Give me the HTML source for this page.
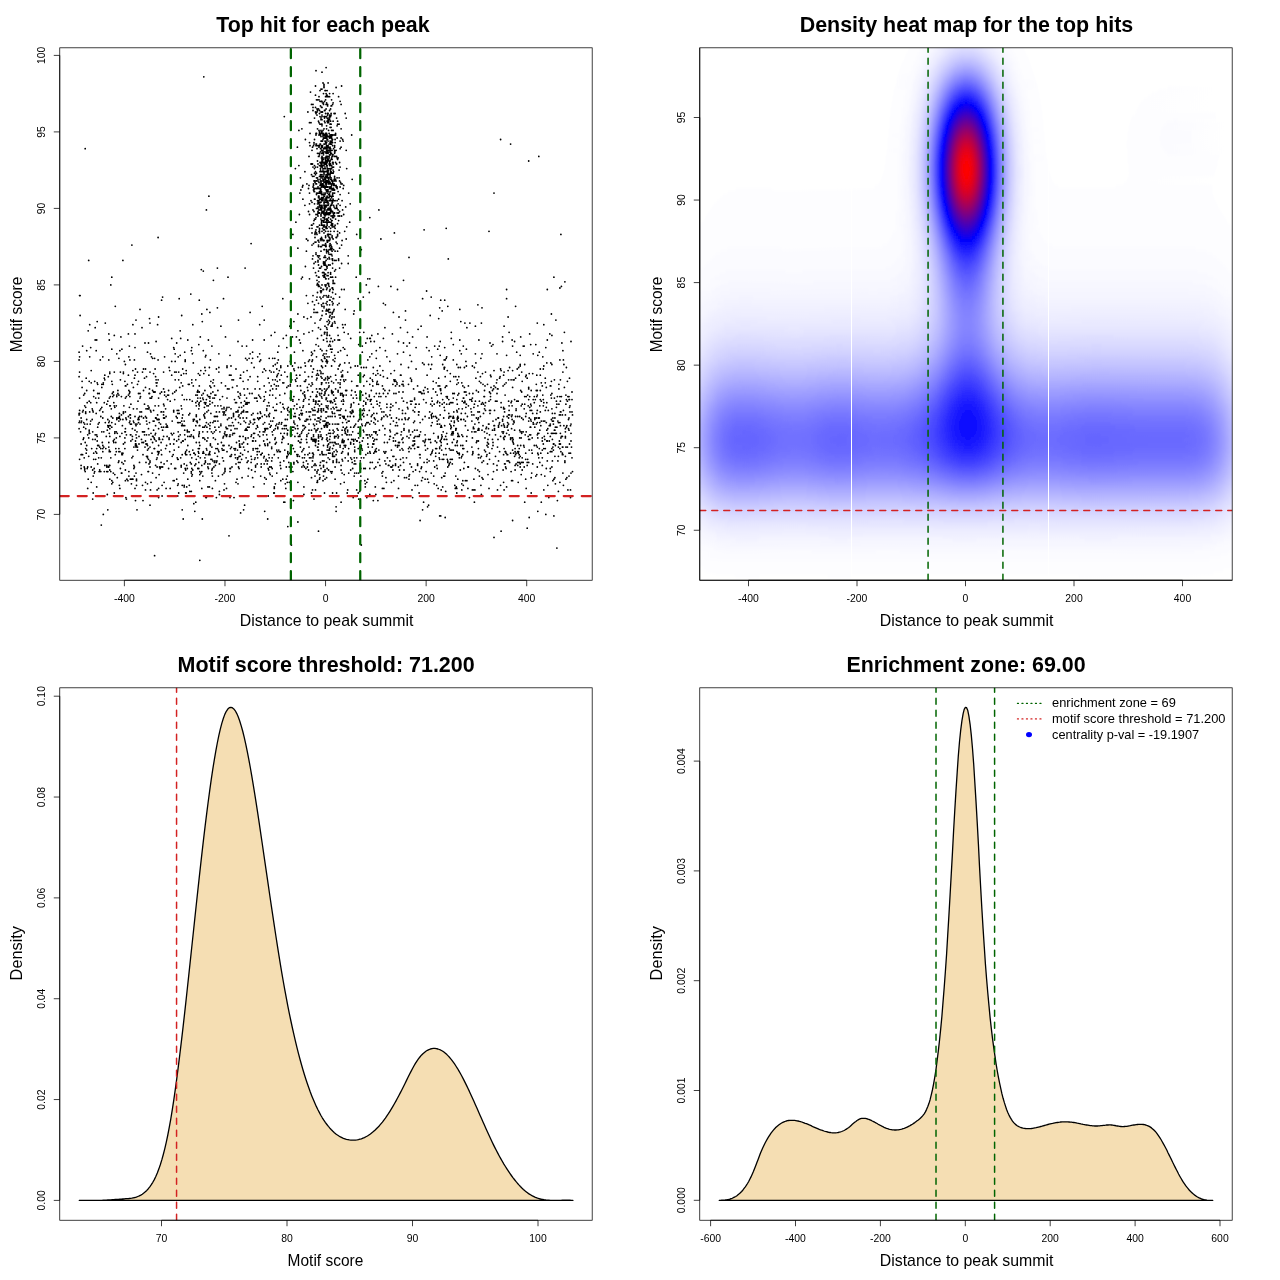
<!DOCTYPE html>
<html><head><meta charset="utf-8"><title>Motif enrichment plots</title>
<style>html,body{margin:0;padding:0;background:#fff;overflow:hidden}svg{display:block;will-change:transform}text{font-family:"Liberation Sans",sans-serif;fill:#000}</style>
</head><body>
<svg width="1280" height="1280" viewBox="0 0 1280 1280">
<rect width="1280" height="1280" fill="#fff"/>
<g id="p1">
<clipPath id="c1"><rect x="59.76" y="47.81" width="532.43" height="532.43"/></clipPath>
<path d="M189.8 491.4h0M231.5 454.7h0M472.4 437.9h0M414.6 441h0M269.7 395.1h0M240.1 436.4h0M374.3 418h0M168.6 390.5h0M413.1 410.4h0M543.3 369h0M199.8 425.7h0M546.3 422.6h0M410 355.3h0M122.9 453.2h0M294.9 451.7h0M516.1 453.2h0M425.1 441h0M236.5 442.5h0M442.2 310.9h0M186.2 493h0M116.3 437.9h0M154.1 448.6h0M243.6 405.8h0M306.4 411.9h0M207.9 486.9h0M481.4 323.1h0M172.2 456.3h0M139 436.4h0M121.4 414.9h0M374.8 439.4h0M500.6 436.4h0M376.3 350.7h0M538.3 418h0M438.2 385.9h0M503.6 431.8h0M537.3 395.1h0M347.7 431.8h0M541.3 401.2h0M321.5 393.5h0M210.9 393.5h0M299.9 436.4h0M409 418h0M239.1 441h0M524.7 364.5h0M203.3 271.1h0M243.6 447.1h0M204.4 463.9h0M251.6 459.3h0M81.1 422.6h0M390.4 431.8h0M214.9 460.9h0M110.3 425.7h0M383.9 488.4h0M162.6 430.2h0M225.5 385.9h0M294.4 352.2h0M149 407.3h0M185.2 361.4h0M311.5 477.7h0M312.5 489.9h0M202.8 437.9h0M222 408.8h0M213.4 437.9h0M205.4 370.6h0M315.5 445.5h0M182.2 418h0M322 390.5h0M198.8 462.4h0M492.5 430.2h0M164.6 395.1h0M504.1 326.2h0M163.6 388.9h0M450.3 381.3h0M381.4 419.5h0M180.7 338.4h0M454.3 393.5h0M199.8 480.7h0M118.4 418h0M384.9 434.8h0M343.2 448.6h0M393.4 441h0M161.6 411.9h0M199.3 392h0M419.1 493h0M116.3 451.7h0M510.6 453.2h0M288.3 444h0M384.9 390.5h0M230 497.6h0M164.1 463.9h0M83.2 410.4h0M180.7 457.8h0M508.1 317h0M558.4 456.3h0M294.9 362.9h0M263.7 457.8h0M211.9 459.3h0M554.9 430.2h0M105.8 448.6h0M278.3 373.6h0M158.6 405.8h0M195.8 463.9h0M463.8 419.5h0M177.7 413.4h0M350.7 407.3h0M257.7 457.8h0M328.1 422.6h0M240.1 462.4h0M214.9 395.1h0M214.9 427.2h0M118.4 462.4h0M315 476.1h0M514.6 399.6h0M545.8 347.6h0M91.2 467h0M531.7 410.4h0M135 347.6h0M448.8 399.6h0M521.2 462.4h0M158.1 379.8h0M239.1 414.9h0M263.2 431.8h0M247.1 359.9h0M332.6 448.6h0M82.6 346.1h0M285.3 419.5h0M512.1 340h0M119.4 418h0M316 402.7h0M315 470h0M465.4 421.1h0M554.4 430.2h0M429.7 411.9h0M210.9 459.3h0M411.5 361.4h0M247.6 411.9h0M458.3 434.8h0M414.6 444h0M560.9 451.7h0M506.6 289.5h0M100.3 359.9h0M218.9 372.1h0M504.6 436.4h0M375.8 375.2h0M246.1 428.7h0M104.8 379.8h0M455.8 376.7h0M79.1 352.2h0M121.9 453.2h0M569 476.1h0M462.3 401.2h0M507.1 454.7h0M312.5 353.8h0M158.6 398.1h0M341.6 453.2h0M286.8 387.4h0M155.6 425.7h0M157.1 419.5h0M203.8 414.9h0M543.8 324.7h0M565.4 414.9h0M428.1 392h0M437.2 424.1h0M441.7 427.2h0M333.1 462.4h0M163.6 404.2h0M512.1 419.5h0M513.1 379.8h0M430.7 404.2h0M539.3 418h0M561.9 343h0M326.1 398.1h0M453.3 359.9h0M383.9 411.9h0M131.9 457.8h0M231.5 447.1h0M110.3 405.8h0M516.7 352.2h0M89.2 401.2h0M343.2 416.5h0M163.6 411.9h0M147.5 445.5h0M157.1 467h0M511.6 480.7h0M321.5 396.6h0M244.1 421.1h0M572 399.6h0M347.7 372.1h0M225 468.5h0M259.7 445.5h0M424.1 462.4h0M134.4 378.2h0M453.8 418h0M515.1 451.7h0M311.5 430.2h0M292.9 401.2h0M145.5 482.3h0M285.3 425.7h0M456.8 384.3h0M280.8 366h0M385.9 414.9h0M99.2 422.6h0M185.7 454.7h0M177.7 496h0M562.9 447.1h0M99.2 471.6h0M183.7 373.6h0M93.2 493h0M396 381.3h0M403 437.9h0M246.6 430.2h0M95.7 459.3h0M291.4 414.9h0M160.1 468.5h0M287.3 433.3h0M260.7 398.1h0M186.7 486.9h0M494 425.7h0M422.6 509.8h0M309.5 453.2h0M273.8 430.2h0M128.9 476.1h0M376.8 384.3h0M326.6 411.9h0M525.7 376.7h0M556.4 401.2h0M478.4 448.6h0M506.6 298.7h0M322 453.2h0M261.2 463.9h0M313.5 454.7h0M340.1 445.5h0M482.5 373.6h0M149.5 388.9h0M375.8 433.3h0M525.7 416.5h0M187.3 430.2h0M217.4 416.5h0M494.5 425.7h0M402.5 413.4h0M554.9 413.4h0M397.5 447.1h0M546.8 441h0M487 454.7h0M414.1 437.9h0M170.2 401.2h0M182.7 385.9h0M504.6 411.9h0M240.6 453.2h0M419.6 471.6h0M291.9 379.8h0M303.9 425.7h0M83.7 395.1h0M485 405.8h0M229 445.5h0M242.1 411.9h0M111.8 483.8h0M388.4 465.4h0M463.3 485.3h0M330.1 436.4h0M313 457.8h0M460.3 367.5h0M123.4 463.9h0M345.2 457.8h0M449.3 463.9h0M257.2 425.7h0M511.1 402.7h0M302.4 413.4h0M132.4 428.7h0M560.4 379.8h0M301.9 467h0M451.3 402.7h0M114.8 407.3h0M477.9 470h0M150 467h0M136.5 485.3h0M212.4 476.1h0M286.3 335.4h0M317 430.2h0M288.3 454.7h0M94.7 471.6h0M373.8 444h0M446.2 454.7h0M561.4 436.4h0M351.7 459.3h0M538.3 454.7h0M547.8 485.3h0M182.2 424.1h0M109.8 428.7h0M159.1 422.6h0M447.3 370.6h0M205.4 404.2h0M130.4 479.2h0M543.8 489.9h0M418.6 436.4h0M551.4 433.3h0M238 341.5h0M171.2 433.3h0M142.5 372.1h0M543.8 366h0M156.1 379.8h0M474.9 424.1h0M181.7 425.7h0M504.6 384.3h0M105.3 323.1h0M264.7 444h0M275.3 428.7h0M560.4 411.9h0M521.7 433.3h0M266.2 459.3h0M286.3 467h0M433.7 433.3h0M396.5 422.6h0M520.2 364.5h0M420.1 454.7h0M332.1 411.9h0M523.2 462.4h0M239.1 407.3h0M257.7 376.7h0M249.6 393.5h0M319 421.1h0M94.7 381.3h0M300.4 385.9h0M231.5 418h0M197.3 395.1h0M199.3 433.3h0M472.4 366h0M266.7 410.4h0M562.4 414.9h0M280.3 402.7h0M425.1 445.5h0M226 410.4h0M487 445.5h0M182.7 369h0M211.9 470h0M219.9 431.8h0M139 419.5h0M450.3 402.7h0M289.8 453.2h0M137 509.8h0M342.6 376.7h0M318.5 531.2h0M327.1 450.1h0M432.2 405.8h0M109.8 479.2h0M320 477.7h0M102.8 411.9h0M559.9 422.6h0M406.5 477.7h0M159.1 474.6h0M532.2 453.2h0M162.1 485.3h0M251.1 436.4h0M100.8 408.8h0M259.7 361.4h0M441.2 439.4h0M135 375.2h0M462.8 480.7h0M287.3 376.7h0M474.9 489.9h0M161.6 392h0M524.2 408.8h0M439.2 457.8h0M101.3 457.8h0M314 312.4h0M109.3 425.7h0M437.2 395.1h0M255.6 467h0M461.3 419.5h0M514.1 421.1h0M162.6 467h0M478.9 428.7h0M267.2 405.8h0M265.2 445.5h0M403.5 352.2h0M558.9 388.9h0M417.6 385.9h0M186.7 465.4h0M79.1 414.9h0M130.4 418h0M220.9 405.8h0M110.8 284.9h0M109.8 436.4h0M545.3 448.6h0M150 447.1h0M240.6 512.9h0M554.9 418h0M341.1 502.2h0M422.6 419.5h0M217.4 456.3h0M409.5 343h0M155.6 376.7h0M247.1 370.6h0M526.2 488.4h0M440.2 414.9h0M304.9 421.1h0M302.9 425.7h0M446.2 396.6h0M272.7 434.8h0M290.3 361.4h0M358.7 437.9h0M354.7 450.1h0M304.4 467h0M377.9 421.1h0M149 463.9h0M444.7 347.6h0M155.6 418h0M477.9 419.5h0M361.3 392h0M540.3 411.9h0M282.8 479.2h0M405.5 419.5h0M112.8 396.6h0M225 471.6h0M155.1 392h0M411 448.6h0M135 333.9h0M323.5 467h0M201.8 488.4h0M158.1 451.7h0M480.4 416.5h0M197.8 468.5h0M115.8 448.6h0M270.2 427.2h0M181.2 382.8h0M433.2 381.3h0M384.9 327.7h0M546.8 402.7h0M499.1 424.1h0M226.5 436.4h0M503.6 437.9h0M201.8 471.6h0M500.1 376.7h0M146.5 456.3h0M536.8 413.4h0M357.2 441h0M302.9 393.5h0M275.8 425.7h0M262.7 372.1h0M152.6 390.5h0M391.4 418h0M252.1 393.5h0M513.1 439.4h0M136 444h0M307.9 454.7h0M367.8 444h0M440.2 341.5h0M404 430.2h0M287.3 482.3h0M441.2 442.5h0M431.2 297.1h0M264.7 428.7h0M287.8 414.9h0M251.1 456.3h0M462.8 454.7h0M145.5 387.4h0M481.4 494.5h0M369.3 410.4h0M259.7 324.7h0M543.3 421.1h0M550.8 451.7h0M556.4 407.3h0M125.4 480.7h0M319.5 479.2h0M533.2 422.6h0M82.6 454.7h0M223.5 414.9h0M303.9 494.5h0M212.9 460.9h0M360.8 480.7h0M342.6 395.1h0M495.5 387.4h0M195.8 402.7h0M452.8 393.5h0M321 373.6h0M554.9 477.7h0M502.6 341.5h0M88.2 479.2h0M273.8 418h0M202.8 398.1h0M318 418h0M570.5 425.7h0M364.8 480.7h0M110.8 471.6h0M448.8 418h0M176.2 390.5h0M305.4 366h0M393.9 379.8h0M529.2 373.6h0M244.6 450.1h0M409 476.1h0M95.2 439.4h0M107.8 425.7h0M286.8 456.3h0M370.3 453.2h0M215.4 439.4h0M446.2 358.3h0M233.5 416.5h0M209.4 453.2h0M424.1 364.5h0M430.7 442.5h0M560.4 433.3h0M140.5 396.6h0M123.4 372.1h0M489.5 459.3h0M212.4 468.5h0M526.2 396.6h0M360.8 476.1h0M376.3 431.8h0M80.6 431.8h0M358.2 427.2h0M508.6 379.8h0M569.5 407.3h0M264.2 463.9h0M158.1 359.9h0M524.7 404.2h0M281.3 411.9h0M300.4 343h0M308.5 433.3h0M348.2 453.2h0M106.8 404.2h0M85.7 448.6h0M457.8 433.3h0M392.4 333.9h0M271.2 467h0M403.5 343h0M432.2 451.7h0M218.9 427.2h0M270.2 474.6h0M199.3 402.7h0M143 431.8h0M371.3 421.1h0M444.2 439.4h0M379.4 459.3h0M202.8 431.8h0M397 384.3h0M279.8 395.1h0M297.4 385.9h0M84.7 393.5h0M463.8 468.5h0M521.7 418h0M219.4 494.5h0M255.1 388.9h0M320 454.7h0M272.7 358.3h0M258.7 395.1h0M447.8 467h0M403 381.3h0M233.5 425.7h0M393.4 312.4h0M418.1 329.3h0M293.9 416.5h0M205.4 425.7h0M504.6 408.8h0M81.1 418h0M435.7 416.5h0M478.4 392h0M181.2 405.8h0M359.7 332.3h0M563.4 410.4h0M224 489.9h0M383.4 388.9h0M280.8 433.3h0M294.4 370.6h0M451.3 421.1h0M347.2 434.8h0M212.9 382.8h0M445.7 436.4h0M354.2 463.9h0M227 366h0M373.8 453.2h0M446.2 228.3h0M108.3 467h0M157.1 489.9h0M250.1 376.7h0M199.8 375.2h0M358.2 448.6h0M101.8 387.4h0M531.7 473.1h0M443.2 431.8h0M283.8 382.8h0M150 462.4h0M107.8 471.6h0M444.7 367.5h0M358.2 375.2h0M281.8 442.5h0M230 471.6h0M103.8 447.1h0M453.8 411.9h0M181.2 442.5h0M208.4 410.4h0M192.3 353.8h0M358.2 433.3h0M218.9 353.8h0M128.9 390.5h0M509.6 414.9h0M161.1 450.1h0M184.2 399.6h0M445.2 376.7h0M303.4 465.4h0M539.8 405.8h0M520.2 431.8h0M355.2 392h0M156.1 477.7h0M227 398.1h0M408.5 384.3h0M222 448.6h0M330.6 471.6h0M135.5 441h0M355.2 366h0M543.3 399.6h0M386.9 356.8h0M216.9 460.9h0M132.4 436.4h0M374.3 341.5h0M350.7 470h0M452.3 442.5h0M79.6 398.1h0M150 447.1h0M383.4 376.7h0M362.3 346.1h0M427.6 479.2h0M520.2 456.3h0M458.3 421.1h0M380.9 396.6h0M569.5 444h0M242.1 444h0M196.3 459.3h0M208.9 375.2h0M389.9 361.4h0M133.9 465.4h0M277.8 428.7h0M246.1 457.8h0M133.9 447.1h0M488 439.4h0M490.5 410.4h0M200.8 473.1h0M119.9 350.7h0M389.4 390.5h0M177.7 485.3h0M366.8 497.6h0M269.2 405.8h0M503.6 416.5h0M229 425.7h0M334.1 408.8h0M116.8 396.6h0M256.1 398.1h0M524.2 346.1h0M146.5 434.8h0M451.3 434.8h0M299.4 456.3h0M357.2 496h0M520.2 366h0M523.7 445.5h0M291.9 434.8h0M569.5 399.6h0M215.9 448.6h0M187.8 445.5h0M383.9 416.5h0M370.3 401.2h0M334.6 401.2h0M227 434.8h0M290.8 418h0M347.7 489.9h0M91.2 382.8h0M108.8 447.1h0M96.7 486.9h0M493 442.5h0M385.9 463.9h0M230 456.3h0M362.3 352.2h0M511.6 401.2h0M124.9 431.8h0M173.7 410.4h0M238.5 416.5h0M302.9 450.1h0M253.1 424.1h0M497.5 447.1h0M347.2 493h0M114.3 335.4h0M206.4 422.6h0M328.1 457.8h0M454.3 421.1h0M390.4 407.3h0M570.5 453.2h0M234.5 433.3h0M385.9 477.7h0M551.9 448.6h0M297.9 428.7h0M154.6 358.3h0M190.8 294.1h0M275.3 444h0M136.5 445.5h0M311.5 493h0M556.9 548.1h0M512.1 414.9h0M373.3 367.5h0M540.8 425.7h0M390.4 410.4h0M116.3 431.8h0M403.5 462.4h0M369.3 292.5h0M399 317h0M204.9 439.4h0M441.7 450.1h0M341.1 408.8h0M555.4 445.5h0M138.5 381.3h0M337.1 451.7h0M499.6 451.7h0M158.1 454.7h0M460.3 470h0M539.8 422.6h0M444.2 369h0M403 442.5h0M184.2 485.3h0M536.8 474.6h0M116.8 419.5h0M257.2 454.7h0M104.8 465.4h0M307.4 467h0M443.7 454.7h0M325 471.6h0M192.8 324.7h0M391.4 482.3h0M444.2 359.9h0M201.8 395.1h0M237.5 459.3h0M179.2 413.4h0M300.9 442.5h0M106.3 436.4h0M282.3 439.4h0M117.9 393.5h0M205.4 462.4h0M567.9 396.6h0M110.8 457.8h0M220.9 424.1h0M264.2 320.1h0M489 424.1h0M131.4 483.8h0M536.3 445.5h0M436.7 418h0M522.2 462.4h0M483.5 404.2h0M369.3 396.6h0M103.3 384.3h0M524.7 396.6h0M366.8 482.3h0M159.1 437.9h0M548.3 410.4h0M156.1 382.8h0M173.2 454.7h0M378.4 286.4h0M444.2 407.3h0M140 309.4h0M271.2 425.7h0M298.4 367.5h0M302.9 407.3h0M313.5 424.1h0M299.9 407.3h0M86.7 450.1h0M539.8 430.2h0M363.8 367.5h0M429.1 460.9h0M408 419.5h0M550.3 471.6h0M351.7 439.4h0M250.1 353.8h0M451.3 332.3h0M165.6 408.8h0M372.3 462.4h0M444.7 425.7h0M359.7 491.4h0M494 370.6h0M145.5 416.5h0M480.9 382.8h0M543.3 444h0M498 388.9h0M264.2 483.8h0M150.5 489.9h0M373.3 407.3h0M204.9 413.4h0M427.1 375.2h0M231 408.8h0M435.7 453.2h0M269.2 358.3h0M312 382.8h0M528.2 436.4h0M273.2 366h0M103.3 382.8h0M552.9 480.7h0M156.6 459.3h0M219.4 411.9h0M456.8 442.5h0M79.1 422.6h0M453.8 439.4h0M320 395.1h0M411.5 379.8h0M241.6 407.3h0M225 434.8h0M549.8 333.9h0M520.2 467h0M395.5 463.9h0M248.1 476.1h0M124.9 381.3h0M109.3 465.4h0M210.9 387.4h0M442.7 399.6h0M204.4 402.7h0M203.8 437.9h0M338.1 444h0M458.8 393.5h0M562.9 454.7h0M552.4 433.3h0M359.7 447.1h0M399.5 442.5h0M240.6 375.2h0M148.5 428.7h0M390.4 424.1h0M151 398.1h0M518.2 482.3h0M147.5 450.1h0M410.5 378.2h0M103.8 431.8h0M420.1 457.8h0M174.2 480.7h0M404 428.7h0M493.5 471.6h0M90.7 402.7h0M247.1 430.2h0M139.5 416.5h0M209.4 367.5h0M248.6 468.5h0M557.4 396.6h0M256.1 428.7h0M421.6 480.7h0M209.9 398.1h0M199.3 442.5h0M270.2 390.5h0M383.4 338.4h0M369.8 494.5h0M274.3 488.4h0M166.1 416.5h0M490 413.4h0M353.7 427.2h0M372.3 379.8h0M439.7 402.7h0M181.7 408.8h0M547.8 433.3h0M469.4 393.5h0M471.4 399.6h0M448.8 465.4h0M178.2 459.3h0M402.5 410.4h0M197.3 392h0M339.1 366h0M518.7 451.7h0M341.6 401.2h0M109.3 433.3h0M447.3 444h0M559.4 441h0M464.4 387.4h0M409 430.2h0M113.8 395.1h0M216.4 497.6h0M101.8 407.3h0M278.3 359.9h0M394.4 232.9h0M484 396.6h0M264.2 340h0M260.2 418h0M173.7 411.9h0M102.8 356.8h0M421.6 393.5h0M292.4 336.9h0M363.3 413.4h0M426.6 291h0M274.3 486.9h0M498 418h0M314.5 441h0M344.2 482.3h0M481.4 456.3h0M223 411.9h0M441.2 489.9h0M209.9 425.7h0M455.3 445.5h0M381.9 411.9h0M550.3 451.7h0M311 457.8h0M439.2 453.2h0M108.8 359.9h0M433.7 460.9h0M345.2 428.7h0M191.3 463.9h0M474.4 404.2h0M174.2 349.2h0M326.6 462.4h0M398.5 442.5h0M119.9 451.7h0M358.2 421.1h0M131.4 479.2h0M528.7 387.4h0M188.3 384.3h0M362.3 410.4h0M541.3 421.1h0M296.9 460.9h0M83.7 437.9h0M264.7 414.9h0M372.3 414.9h0M345.2 447.1h0M553.4 421.1h0M122.4 425.7h0M131.9 245.1h0M264.2 396.6h0M291.9 445.5h0M482 462.4h0M161.6 454.7h0M89.2 381.3h0M426.6 347.6h0M297.4 456.3h0M97.7 427.2h0M537.3 467h0M99.7 410.4h0M313 456.3h0M254.6 433.3h0M549.3 441h0M284.8 393.5h0M181.2 467h0M503.6 424.1h0M335.6 404.2h0M154.1 437.9h0M142 442.5h0M375.8 494.5h0M106.8 471.6h0M247.1 462.4h0M417.6 463.9h0M433.7 416.5h0M405.5 413.4h0M144 431.8h0M87.7 434.8h0M400.5 327.7h0M263.7 401.2h0M350.7 367.5h0M138 419.5h0M144.5 434.8h0M156.6 385.9h0M432.2 413.4h0M178.7 493h0M181.7 315.5h0M482 430.2h0M260.7 413.4h0M478.4 428.7h0M325 421.1h0M363.3 437.9h0M252.6 441h0M309 384.3h0M275.8 398.1h0M346.7 390.5h0M519.2 448.6h0M385.9 396.6h0M365.8 393.5h0M390.9 286.4h0M86.7 390.5h0M191.3 434.8h0M281.3 424.1h0M560.4 444h0M445.7 491.4h0M528.7 462.4h0M353.2 411.9h0M507.6 422.6h0M306.9 442.5h0M526.2 413.4h0M568.5 428.7h0M409 437.9h0M314.5 425.7h0M431.7 453.2h0M547.8 428.7h0M305.9 421.1h0M421.6 467h0M100.8 448.6h0M366.3 367.5h0M225.5 414.9h0M457.3 441h0M219.4 491.4h0M376.3 448.6h0M323.5 471.6h0M571 341.5h0M508.6 424.1h0M119.4 485.3h0M529.2 418h0M457.3 418h0M130.4 434.8h0M448.8 413.4h0M532.7 373.6h0M223.5 460.9h0M352.7 468.5h0M150.5 410.4h0M258.7 419.5h0M320.5 388.9h0M290.3 398.1h0M169.7 370.6h0M563.4 359.9h0M87.2 402.7h0M162.6 439.4h0M223 445.5h0M199.8 471.6h0M106.8 467h0M275.3 364.5h0M195.8 502.2h0M240.1 393.5h0M128.4 416.5h0M505.6 451.7h0M466.9 480.7h0M85.7 428.7h0M93.7 390.5h0M409.5 447.1h0M209.4 486.9h0M251.6 434.8h0M316.5 388.9h0M544.8 421.1h0M134.4 359.9h0M253.6 433.3h0M455.8 428.7h0M369.8 278.8h0M257.2 401.2h0M329.6 450.1h0M95.2 340h0M248.1 451.7h0M423.6 502.2h0M86.7 419.5h0M318 447.1h0M161.6 427.2h0M169.7 451.7h0M224 408.8h0M183.7 425.7h0M130.9 441h0M215.9 416.5h0M456.8 410.4h0M366.8 381.3h0M460.8 419.5h0M492.5 479.2h0M433.7 416.5h0M178.2 483.8h0M265.2 430.2h0M222.5 396.6h0M450.3 459.3h0M384.4 442.5h0M390.9 373.6h0M507.6 454.7h0M194.8 465.4h0M209.9 401.2h0M404 424.1h0M498 439.4h0M83.7 427.2h0M528.7 439.4h0M208.4 454.7h0M235.5 419.5h0M397 497.6h0M530.7 419.5h0M109.3 451.7h0M307.9 463.9h0M479.4 411.9h0M322.5 437.9h0M376.3 451.7h0M433.2 388.9h0M389.9 436.4h0M85.2 471.6h0M517.7 465.4h0M198.3 448.6h0M287.8 430.2h0M495.5 401.2h0M249.1 402.7h0M292.4 445.5h0M378.9 450.1h0M249.1 358.3h0M212.9 433.3h0M335.1 442.5h0M164.1 405.8h0M271.7 460.9h0M182.2 485.3h0M136 473.1h0M557.4 500.6h0M485.5 410.4h0M551.4 314h0M282.8 436.4h0M204.9 390.5h0M523.2 419.5h0M202.8 427.2h0M288.3 385.9h0M386.4 482.3h0M182.2 454.7h0M317 482.3h0M469.4 497.6h0M375.3 431.8h0M240.1 418h0M145.5 369h0M297.9 462.4h0M306.9 419.5h0M212.9 422.6h0M268.7 402.7h0M264.2 369h0M129.4 407.3h0M525.2 434.8h0M471.9 414.9h0M378.4 384.3h0M202.8 476.1h0M352.2 410.4h0M257.2 448.6h0M181.7 421.1h0M213.9 421.1h0M363.8 408.8h0M223 437.9h0M396 459.3h0M503.1 470h0M444.7 439.4h0M515.6 306.3h0M514.6 341.5h0M451.3 338.4h0M317.5 411.9h0M185.2 439.4h0M104.3 402.7h0M266.2 428.7h0M132.9 479.2h0M132.9 479.2h0M222.5 457.8h0M244.6 505.2h0M560.4 425.7h0M144.5 431.8h0M386.9 356.8h0M92.7 439.4h0M495.5 456.3h0M129.4 393.5h0M268.7 454.7h0M320 431.8h0M469.9 399.6h0M313.5 401.2h0M211.9 473.1h0M472.4 489.9h0M175.7 468.5h0M554.9 456.3h0M400.5 375.2h0M90.2 424.1h0M551.4 381.3h0M504.6 427.2h0M177.2 418h0M562.4 453.2h0M284.3 428.7h0M560.9 437.9h0M332.1 349.2h0M277.3 362.9h0M259.7 436.4h0M446.7 385.9h0M459.3 454.7h0M483 425.7h0M459.8 350.7h0M147.5 352.2h0M102.8 448.6h0M224 407.3h0M239.1 456.3h0M268.2 378.2h0M359.7 410.4h0M210.9 381.3h0M559.9 359.9h0M263.2 424.1h0M184.2 486.9h0M273.8 372.1h0M297.9 314h0M349.2 362.9h0M169.1 439.4h0M297.4 433.3h0M542.3 385.9h0M140 411.9h0M473.9 414.9h0M197.3 421.1h0M238 457.8h0M518.2 453.2h0M304.9 395.1h0M536.3 390.5h0M85.2 442.5h0M351.2 434.8h0M113.3 392h0M327.1 341.5h0M453.3 416.5h0M145.5 489.9h0M186.7 399.6h0M493.5 463.9h0M450.8 416.5h0M360.3 460.9h0M369.8 468.5h0M173.7 444h0M332.6 312.4h0M522.2 470h0M290.3 385.9h0M111.8 277.2h0M542.8 356.8h0M464.9 323.1h0M113.3 473.1h0M283.3 338.4h0M150 372.1h0M515.1 470h0M403.5 385.9h0M537.3 422.6h0M309 447.1h0M567.4 381.3h0M113.8 402.7h0M192.3 401.2h0M477.9 372.1h0M370.8 341.5h0M533.2 399.6h0M260.7 454.7h0M79.6 413.4h0M308.5 376.7h0M143 454.7h0M153.1 436.4h0M183.2 519h0M176.7 441h0M284.8 502.2h0M356.7 234.4h0M487 433.3h0M91.7 448.6h0M107.3 430.2h0M246.1 411.9h0M284.3 433.3h0M124.4 361.4h0M458.8 376.7h0M202.3 321.6h0M565.9 447.1h0M403 450.1h0M110.3 396.6h0M526.2 431.8h0M299.9 442.5h0M475.4 401.2h0M436.7 448.6h0M217.9 405.8h0M321 416.5h0M101.8 431.8h0M97.2 441h0M242.6 454.7h0M531.2 493h0M442.7 486.9h0M456.8 488.4h0M284.8 372.1h0M550.8 395.1h0M358.2 493h0M377.9 462.4h0M520.2 463.9h0M193.3 385.9h0M187.3 468.5h0M348.7 473.1h0M346.7 434.8h0M392.9 405.8h0M125.4 411.9h0M214.4 385.9h0M203.8 373.6h0M318.5 444h0M369.3 395.1h0M289.8 326.2h0M516.7 401.2h0M279.8 379.8h0M342.6 375.2h0M135 488.4h0M324.5 388.9h0M547.8 453.2h0M519.2 462.4h0M84.7 470h0M563.9 425.7h0M353.7 416.5h0M482 307.8h0M191.8 347.6h0M109.3 450.1h0M517.7 401.2h0M318.5 410.4h0M205.9 497.6h0M205.9 355.3h0M265.2 445.5h0M186.7 450.1h0M199.3 300.2h0M377.9 333.9h0M534.3 396.6h0M399 445.5h0M342.1 459.3h0M154.6 555.7h0M81.6 421.1h0M500.6 369h0M502.1 431.8h0M509.1 332.3h0M162.1 496h0M90.7 421.1h0M313 453.2h0M300.4 447.1h0M330.6 349.2h0M434.2 404.2h0M505.1 395.1h0M320.5 462.4h0M461.8 483.8h0M81.1 454.7h0M182.2 425.7h0M198.8 453.2h0M268.7 414.9h0M504.1 425.7h0M161.6 300.2h0M491 387.4h0M153.6 430.2h0M152.6 442.5h0M255.1 457.8h0M312.5 384.3h0M502.6 419.5h0M370.3 378.2h0M218.4 476.1h0M150 398.1h0M360.8 468.5h0M459.3 453.2h0M294.9 424.1h0M189.3 485.3h0M224.5 411.9h0M299.4 414.9h0M509.6 462.4h0M527.7 459.3h0M127.4 384.3h0M111.8 349.2h0M216.4 369h0M79.6 410.4h0M336.6 407.3h0M550.8 362.9h0M457.3 411.9h0M229 418h0M87.7 467h0M400.5 465.4h0M443.7 476.1h0M506.1 453.2h0M503.6 407.3h0M442.2 404.2h0M350.7 444h0M264.7 431.8h0M238 483.8h0M468.4 467h0M375.3 419.5h0M531.2 477.7h0M456.8 399.6h0M193.8 430.2h0M133.9 468.5h0M82.6 411.9h0M114.3 405.8h0M255.6 448.6h0M534.8 419.5h0M235.5 402.7h0M92.7 470h0M497 353.8h0M299.9 434.8h0M340.6 414.9h0M395.5 441h0M124.9 460.9h0M334.1 451.7h0M217.9 390.5h0M197.8 392h0M91.2 482.3h0M316 441h0M99.7 447.1h0M118.9 448.6h0M373.8 431.8h0M389.9 430.2h0M504.1 489.9h0M530.7 404.2h0M321 468.5h0M485.5 372.1h0M164.1 482.3h0M344.7 349.2h0M535.8 476.1h0M108.8 467h0M468.4 385.9h0M154.6 448.6h0M98.7 398.1h0M342.6 324.7h0M509.6 367.5h0M240.1 456.3h0M190.3 462.4h0M229.5 436.4h0M189.8 436.4h0M333.6 456.3h0M127.9 480.7h0M163.6 372.1h0M463.3 398.1h0M186.7 454.7h0M412.6 431.8h0M297.9 522h0M129.9 392h0M255.6 465.4h0M184.7 425.7h0M459.8 309.4h0M521.7 431.8h0M420.6 431.8h0M322.5 454.7h0M558.4 447.1h0M172.2 421.1h0M116.3 405.8h0M182.2 509.8h0M317.5 480.7h0M446.7 356.8h0M123.4 373.6h0M543.3 405.8h0M323.5 303.3h0M476.9 441h0M425.6 450.1h0M120.4 419.5h0M486.5 456.3h0M243.1 381.3h0M348.2 439.4h0M387.4 416.5h0M246.6 398.1h0M202.3 519h0M279.3 451.7h0M441.2 393.5h0M403 384.3h0M319 418h0M480.9 358.3h0M171.7 375.2h0M517.7 451.7h0M272.2 468.5h0M88.7 456.3h0M342.1 434.8h0M310.5 419.5h0M210.4 359.9h0M342.1 375.2h0M426.1 471.6h0M540.3 375.2h0M95.2 327.7h0M365.8 343h0M553.9 444h0M247.1 411.9h0M529.2 450.1h0M241.6 459.3h0M444.2 367.5h0M279.3 370.6h0M393.9 480.7h0M411.5 467h0M146 462.4h0M166.1 424.1h0M332.1 471.6h0M153.6 410.4h0M488 447.1h0M398.5 467h0M115.8 442.5h0M506.1 468.5h0M473.9 407.3h0M503.1 385.9h0M81.6 454.7h0M123.4 413.4h0M150 505.2h0M118.9 451.7h0M400 450.1h0M552.9 447.1h0M439.7 424.1h0M107.8 401.2h0M521.7 372.1h0M245.1 430.2h0M306.4 439.4h0M434.7 467h0M369.8 451.7h0M508.6 414.9h0M173.7 347.6h0M189.3 431.8h0M142 327.7h0M201.8 465.4h0M332.6 493h0M130.9 441h0M512.6 387.4h0M478.9 430.2h0M457.3 419.5h0M550.3 436.4h0M355.2 439.4h0M422.6 477.7h0M214.9 453.2h0M531.2 390.5h0M497 401.2h0M397.5 425.7h0M171.7 361.4h0M365.8 404.2h0M255.1 471.6h0M176.2 416.5h0M313.5 436.4h0M389.4 439.4h0M511.1 471.6h0M265.7 428.7h0M174.2 439.4h0M226 427.2h0M361.3 367.5h0M389.9 414.9h0M240.6 395.1h0M494 385.9h0M285.8 488.4h0M354.2 310.9h0M475.4 326.2h0M515.1 448.6h0M310.5 419.5h0M93.7 453.2h0M452.3 442.5h0M155.1 405.8h0M365.8 402.7h0M520.2 355.3h0M379.9 465.4h0M505.1 436.4h0M286.3 428.7h0M129.9 396.6h0M287.8 526.6h0M489.5 453.2h0M203.3 393.5h0M550.8 385.9h0M147.5 450.1h0M425.1 434.8h0M472.9 393.5h0M195.8 395.1h0M446.7 433.3h0M530.7 434.8h0M238.5 462.4h0M205.4 356.8h0M229 407.3h0M327.6 379.8h0M516.1 463.9h0M240.6 447.1h0M550.3 385.9h0M461.8 434.8h0M359.7 431.8h0M417.6 485.3h0M554.4 398.1h0M138 401.2h0M318.5 450.1h0M235 428.7h0M537.3 410.4h0M330.6 433.3h0M243.6 410.4h0M126.9 479.2h0M513.6 444h0M137 424.1h0M337.1 410.4h0M485 385.9h0M411 404.2h0M489.5 410.4h0M367.8 479.2h0M446.7 439.4h0M365.3 425.7h0M309 411.9h0M466.9 327.7h0M234.5 399.6h0M163.6 436.4h0M132.4 439.4h0M121.9 473.1h0M427.6 506.8h0M208.4 405.8h0M528.7 388.9h0M150.5 353.8h0M327.1 437.9h0M474.4 502.2h0M431.7 364.5h0M89.2 430.2h0M453.3 433.3h0M548.8 497.6h0M191.8 382.8h0M489.5 434.8h0M359.7 414.9h0M191.8 379.8h0M561.4 396.6h0M530.7 344.6h0M472.9 453.2h0M79.6 356.8h0M409.5 474.6h0M296.9 404.2h0M207.4 395.1h0M499.6 422.6h0M159.1 451.7h0M136 425.7h0M376.8 439.4h0M392.9 384.3h0M464.4 462.4h0M218.9 451.7h0M407 402.7h0M441.7 437.9h0M554.4 379.8h0M569 418h0M452.3 463.9h0M218.4 450.1h0M294.4 405.8h0M205.4 496h0M263.7 441h0M152 453.2h0M427.1 336.9h0M152.6 473.1h0M463.8 398.1h0M280.8 468.5h0M296.9 454.7h0M551.9 364.5h0M427.1 462.4h0M100.8 416.5h0M488.5 424.1h0M371.3 416.5h0M471.4 411.9h0M333.1 460.9h0M351.2 404.2h0M459.8 340h0M377.3 381.3h0M143 500.6h0M466.4 404.2h0M236 482.3h0M178.7 422.6h0M356.7 398.1h0M224 473.1h0M479.4 381.3h0M464.4 367.5h0M552.9 418h0M121.9 454.7h0M435.7 456.3h0M235.5 448.6h0M517.7 462.4h0M96.7 340h0M257.2 451.7h0M276.3 410.4h0M430.7 454.7h0M158.6 497.6h0M451.8 450.1h0M119.4 416.5h0M346.2 395.1h0M507.1 427.2h0M374.3 468.5h0M404 470h0M443.7 418h0M227 451.7h0M281.8 422.6h0M363.8 457.8h0M257.7 427.2h0M230 434.8h0M563.4 485.3h0M79.6 459.3h0M212.9 398.1h0M151 433.3h0M283.3 437.9h0M512.1 405.8h0M391.4 450.1h0M540.3 399.6h0M120.9 496h0M564.9 460.9h0M491 376.7h0M516.1 408.8h0M299.9 419.5h0M125.9 497.6h0M437.7 401.2h0M124.9 437.9h0M567.9 489.9h0M147.5 483.8h0M314 499.1h0M301.4 439.4h0M143.5 418h0M148.5 428.7h0M293.9 422.6h0M238 411.9h0M344.2 445.5h0M362.3 414.9h0M441.2 445.5h0M383.9 451.7h0M305.9 468.5h0M354.7 473.1h0M414.6 421.1h0M204.4 407.3h0M442.2 459.3h0M414.6 430.2h0M402 398.1h0M207.9 437.9h0M226.5 408.8h0M410.5 401.2h0M104.3 471.6h0M238.5 320.1h0M265.7 392h0M137.5 372.1h0M391.9 467h0M565.4 431.8h0M534.3 402.7h0M110.3 451.7h0M341.1 470h0M244.1 388.9h0M562.9 350.7h0M399.5 470h0M475.4 353.8h0M92.2 408.8h0M356.7 457.8h0M192.8 450.1h0M269.2 382.8h0M315.5 401.2h0M410 463.9h0M269.7 413.4h0M487.5 463.9h0M254.6 422.6h0M198.8 434.8h0M318.5 441h0M514.6 456.3h0M557.9 421.1h0M132.9 324.7h0M156.1 418h0M113.8 442.5h0M148 471.6h0M517.2 369h0M433.7 476.1h0M466.9 436.4h0M456.3 428.7h0M237 479.2h0M274.8 439.4h0M247.6 402.7h0M335.1 479.2h0M116.3 437.9h0M336.1 511.3h0M294.9 436.4h0M362.3 441h0M533.2 353.8h0M541.3 502.2h0M278.8 424.1h0M122.9 419.5h0M558.4 422.6h0M156.1 341.5h0M528.7 399.6h0M133.4 408.8h0M297.9 482.3h0M219.4 463.9h0M206.4 399.6h0M331.6 366h0M336.6 460.9h0M465.4 413.4h0M340.6 350.7h0M553.4 450.1h0M412.6 497.6h0M347.7 430.2h0M493 445.5h0M547.3 441h0M174.7 468.5h0M536.8 396.6h0M521.2 474.6h0M372.8 385.9h0M342.6 416.5h0M306.4 460.9h0M439.7 405.8h0M373.3 500.6h0M358.7 344.6h0M522.2 381.3h0M520.7 336.9h0M570.5 497.6h0M283.8 460.9h0M431.7 356.8h0M118.9 460.9h0M569 430.2h0M327.1 468.5h0M252.6 358.3h0M424.6 442.5h0M287.8 410.4h0M356.7 489.9h0M335.1 424.1h0M445.2 387.4h0M297.9 454.7h0M102.8 445.5h0M532.7 463.9h0M508.6 424.1h0M269.7 473.1h0M407.5 332.3h0M414.6 448.6h0M401.5 431.8h0M445.7 448.6h0M137 431.8h0M211.9 447.1h0M385.4 304.8h0M492 448.6h0M427.6 448.6h0M164.6 356.8h0M195.8 379.8h0M406.5 457.8h0M490.5 393.5h0M354.7 460.9h0M293.4 500.6h0M157.1 382.8h0M125.4 385.9h0M227.5 428.7h0M432.2 401.2h0M159.1 439.4h0M289.3 482.3h0M553.9 433.3h0M482.5 402.7h0M520.7 390.5h0M369.3 434.8h0M460.8 321.6h0M326.6 424.1h0M272.2 457.8h0M457.8 479.2h0M353.2 497.6h0M236.5 411.9h0M390.9 467h0M553.4 424.1h0M113.3 441h0M264.7 422.6h0M377.3 370.6h0M528.7 388.9h0M274.3 454.7h0M172.2 434.8h0M161.1 411.9h0M307.9 419.5h0M245.6 439.4h0M102.3 442.5h0M200.8 401.2h0M552.4 413.4h0M280.8 480.7h0M283.8 502.2h0M188.8 414.9h0M267.7 445.5h0M353.7 444h0M167.6 395.1h0M369.8 338.4h0M494.5 430.2h0M295.9 381.3h0M175.2 353.8h0M246.1 402.7h0M551.9 335.4h0M374.8 451.7h0M490 343h0M513.1 424.1h0M354.7 447.1h0M412 489.9h0M276.8 450.1h0M248.1 379.8h0M312.5 453.2h0M269.7 467h0M354.2 476.1h0M565.9 479.2h0M473.9 489.9h0M521.7 392h0M205.4 460.9h0M235 450.1h0M553.9 277.2h0M266.7 434.8h0M354.7 425.7h0M96.7 434.8h0M519.7 430.2h0M464.9 402.7h0M467.4 451.7h0M136 320.1h0M146 444h0M280.3 465.4h0M512.6 441h0M111.8 422.6h0M109.8 373.6h0M450.8 428.7h0M466.4 366h0M330.1 453.2h0M316 344.6h0M159.6 439.4h0M167.1 436.4h0M148 405.8h0M203.3 350.7h0M503.6 375.2h0M368.3 422.6h0M382.4 476.1h0M565.9 395.1h0M236 369h0M321 434.8h0M482 477.7h0M390.9 404.2h0M215.9 448.6h0M170.2 488.4h0M254.6 398.1h0M233.5 413.4h0M135 430.2h0M233.5 414.9h0M198.3 456.3h0M489 401.2h0M156.1 441h0M329.6 459.3h0M456.8 364.5h0M223.5 450.1h0M168.6 395.1h0M384.9 434.8h0M277.3 375.2h0M319.5 393.5h0M121.4 473.1h0M569.5 399.6h0M184.7 352.2h0M458.3 367.5h0M565.4 437.9h0M229.5 375.2h0M571 473.1h0M245.6 358.3h0M313 295.6h0M313 439.4h0M244.6 401.2h0M210.4 445.5h0M160.1 393.5h0M479.4 476.1h0M209.9 451.7h0M272.7 388.9h0M269.2 416.5h0M403 496h0M152.6 358.3h0M491.5 346.1h0M145.5 441h0M400.5 459.3h0M511.1 379.8h0M216.4 462.4h0M214.4 416.5h0M475.9 378.2h0M413.1 471.6h0M153.6 373.6h0M166.6 445.5h0M536.3 384.3h0M503.6 454.7h0M342.1 430.2h0M467.4 416.5h0M273.2 407.3h0M83.7 422.6h0M216.4 411.9h0M189.3 451.7h0M472.4 454.7h0M151.5 356.8h0M275.3 483.8h0M561.4 286.4h0M212.9 392h0M396 402.7h0M419.1 436.4h0M531.2 421.1h0M553.4 444h0M539.3 352.2h0M365.3 483.8h0M555.9 320.1h0M109.8 372.1h0M92.2 419.5h0M439.7 385.9h0M381.9 473.1h0M270.7 421.1h0M415.6 404.2h0M490.5 396.6h0M569 396.6h0M415.1 407.3h0M432.7 450.1h0M403 457.8h0M300.9 413.4h0M303.9 486.9h0M185.7 493h0M392.9 465.4h0M251.1 462.4h0M86.7 445.5h0M537.8 437.9h0M366.8 422.6h0M390.4 436.4h0M449.3 416.5h0M209.9 312.4h0M267.2 439.4h0M568.5 419.5h0M200.3 336.9h0M263.2 434.8h0M529.7 439.4h0M204.4 416.5h0M145 343h0M161.1 462.4h0M166.1 427.2h0M187.8 436.4h0M84.7 424.1h0M96.7 448.6h0M414.6 399.6h0M439.2 346.1h0M438.7 318.6h0M322.5 460.9h0M314.5 407.3h0M484.5 431.8h0M401 364.5h0M456.8 493h0M521.2 437.9h0M357.7 366h0M552.4 439.4h0M353.7 441h0M496.5 382.8h0M393.4 421.1h0M550.3 425.7h0M385.9 451.7h0M174.7 392h0M384.9 428.7h0M196.3 416.5h0M494 537.4h0M571.5 447.1h0M484.5 450.1h0M319.5 405.8h0M292.9 399.6h0M504.1 439.4h0M135.5 424.1h0M423.6 399.6h0M184.2 463.9h0M133.9 422.6h0M517.7 445.5h0M137.5 447.1h0M230.5 448.6h0M305.9 379.8h0M198.8 468.5h0M489.5 392h0M566.9 477.7h0M96.2 413.4h0M521.2 405.8h0M286.8 457.8h0M395.5 425.7h0M307.9 390.5h0M287.8 366h0M293.9 422.6h0M455.8 476.1h0M185.7 470h0M553.4 496h0M474.4 367.5h0M151.5 398.1h0M86.2 378.2h0M239.6 445.5h0M187.3 431.8h0M132.9 456.3h0M447.8 306.3h0M119.4 413.4h0M237 385.9h0M217.4 448.6h0M462.8 385.9h0M537.8 433.3h0M324.5 493h0M269.2 424.1h0M235.5 457.8h0M333.6 445.5h0M227.5 419.5h0M431.7 398.1h0M100.8 471.6h0M513.1 442.5h0M483.5 413.4h0M202.8 453.2h0M84.2 457.8h0M441.7 477.7h0M176.7 343h0M293.4 408.8h0M242.1 477.7h0M345.7 445.5h0M523.2 431.8h0M257.7 448.6h0M449.8 424.1h0M363.8 332.3h0M129.9 421.1h0M428.6 505.2h0M477.9 430.2h0M301.9 451.7h0M276.8 473.1h0M455.8 430.2h0M423.6 390.5h0M200.3 398.1h0M513.6 421.1h0M523.2 346.1h0M464.9 401.2h0M204.9 367.5h0M546.8 430.2h0M445.2 473.1h0M92.7 410.4h0M497 379.8h0M327.6 401.2h0M83.2 439.4h0M155.6 465.4h0M193.3 362.9h0M408 408.8h0M134.4 476.1h0M189.8 399.6h0M125.4 364.5h0M332.6 456.3h0M167.1 425.7h0M193.8 453.2h0M518.2 401.2h0M479.4 401.2h0M199.8 445.5h0M539.3 448.6h0M249.1 424.1h0M149.5 318.6h0M414.6 411.9h0M379.9 402.7h0M336.6 493h0M556.9 427.2h0M237.5 450.1h0M377.9 500.6h0M183.7 473.1h0M430.2 439.4h0M415.1 436.4h0M251.6 470h0M79.1 428.7h0M244.6 395.1h0M163.6 427.2h0M387.4 442.5h0M200.3 457.8h0M158.6 488.4h0M290.3 384.3h0M351.7 390.5h0M108.8 442.5h0M542.3 465.4h0M178.2 356.8h0M265.7 460.9h0M223.5 298.7h0M551.4 419.5h0M505.1 463.9h0M157.6 414.9h0M515.6 378.2h0M370.3 436.4h0M236.5 402.7h0M551.9 393.5h0M447.8 460.9h0M177.7 459.3h0M564.9 462.4h0M398.5 341.5h0M407 346.1h0M309.5 457.8h0M271.2 385.9h0M82.1 387.4h0M454.8 485.3h0M377.9 373.6h0M436.7 485.3h0M268.7 470h0M457.8 395.1h0M147.5 457.8h0M572 392h0M462.8 448.6h0M259.7 388.9h0M399 392h0M148 408.8h0M376.8 413.4h0M532.2 437.9h0M452.8 402.7h0M453.3 450.1h0M457.3 404.2h0M152 396.6h0M214.9 405.8h0M435.7 448.6h0M133.4 387.4h0M230 436.4h0M97.2 436.4h0M171.7 361.4h0M417.6 465.4h0M488 474.6h0M565.4 456.3h0M514.6 430.2h0M453.3 344.6h0M501.1 370.6h0M508.1 370.6h0M396 393.5h0M329.6 424.1h0M420.6 392h0M439.7 459.3h0M111.3 408.8h0M494.5 428.7h0M316 431.8h0M350.2 411.9h0M287.3 434.8h0M142.5 485.3h0M506.6 355.3h0M397.5 433.3h0M198.8 408.8h0M252.6 477.7h0M315 463.9h0M173.7 433.3h0M372.8 444h0M304.4 428.7h0M461.8 382.8h0M470.9 408.8h0M439.7 515.9h0M317 471.6h0M351.2 395.1h0M221.4 382.8h0M235 454.7h0M123.9 405.8h0M522.2 404.2h0M251.6 414.9h0M274.8 358.3h0M309 430.2h0M539.8 462.4h0M417.1 436.4h0M484.5 408.8h0M164.6 392h0M169.1 437.9h0M135.5 445.5h0M566.9 425.7h0M398.5 488.4h0M301.9 414.9h0M334.6 340h0M417.6 447.1h0M484.5 390.5h0M394.4 381.3h0M457.8 436.4h0M89.7 324.7h0M158.1 237.5h0M558.4 491.4h0M505.6 467h0M289.3 467h0M272.7 379.8h0M149 434.8h0M131.4 424.1h0M293.9 396.6h0M130.9 434.8h0M474.4 431.8h0M375.3 486.9h0M257.7 418h0M514.1 422.6h0M178.7 436.4h0M136.5 480.7h0M172.7 393.5h0M519.7 416.5h0M146.5 421.1h0M114.3 493h0M402 448.6h0M413.6 388.9h0M206.4 209.9h0M291.4 545h0M282.8 382.8h0M480.9 485.3h0M403.5 280.3h0M534.8 418h0M562.4 436.4h0M157.1 457.8h0M259.2 451.7h0M382.4 385.9h0M536.3 418h0M163.6 418h0M171.2 463.9h0M79.6 372.1h0M425.1 441h0M462.8 436.4h0M85.7 411.9h0M86.2 453.2h0M450.3 450.1h0M342.1 441h0M206.4 497.6h0M363.3 430.2h0M247.6 427.2h0M450.3 373.6h0M519.2 457.8h0M79.1 376.7h0M444.2 402.7h0M456.8 451.7h0M209.9 404.2h0M424.1 393.5h0M264.7 477.7h0M221.4 442.5h0M363.8 468.5h0M454.3 422.6h0M527.2 528.2h0M520.7 445.5h0M140 398.1h0M427.6 388.9h0M357.7 385.9h0M456.3 486.9h0M486.5 427.2h0M128.9 356.8h0M425.6 439.4h0M184.2 421.1h0M272.2 476.1h0M109.8 470h0M545.3 410.4h0M369.8 384.3h0M405 418h0M287.3 476.1h0M241.1 402.7h0M191.3 491.4h0M197.8 390.5h0M274.3 493h0M488.5 444h0M141.5 411.9h0M535.8 344.6h0M89.7 433.3h0M566.4 427.2h0M480.4 376.7h0M477.9 405.8h0M466.4 349.2h0M442.7 364.5h0M532.7 413.4h0M146.5 376.7h0M440.2 441h0M103.3 514.4h0M253.1 424.1h0M439.7 307.8h0M361.8 448.6h0M326.6 422.6h0M104.3 378.2h0M438.7 378.2h0M178.7 372.1h0M329.1 385.9h0M560.4 414.9h0M315.5 489.9h0M415.6 470h0M262.2 416.5h0M395.5 445.5h0M129.4 422.6h0M126.4 419.5h0M146 408.8h0M429.1 350.7h0M174.7 372.1h0M173.2 480.7h0M395 434.8h0M238.5 422.6h0M385.4 350.7h0M154.6 439.4h0M134.4 467h0M329.6 439.4h0M198.3 451.7h0M158.6 419.5h0M98.2 424.1h0M545.3 382.8h0M361.3 447.1h0M414.6 398.1h0M527.2 378.2h0M551.9 451.7h0M413.6 422.6h0M565.4 436.4h0M326.1 405.8h0M276.8 424.1h0M158.6 317h0M278.8 346.1h0M373.8 441h0M243.6 442.5h0M544.3 436.4h0M128.4 395.1h0M531.2 405.8h0M359.2 419.5h0M251.6 459.3h0M190.3 454.7h0M133.4 421.1h0M130.9 404.2h0M97.2 321.6h0M203.3 451.7h0M508.6 460.9h0M132.9 370.6h0M91.2 370.6h0M324.5 427.2h0M240.6 378.2h0M257.7 356.8h0M97.2 382.8h0M293.9 421.1h0M267.2 428.7h0M566.4 367.5h0M551.9 408.8h0M276.3 388.9h0M534.3 445.5h0M366.3 434.8h0M158.6 428.7h0M559.9 288h0M271.7 447.1h0M320.5 419.5h0M428.6 364.5h0M191.3 350.7h0M315.5 404.2h0M196.3 405.8h0M199.3 431.8h0M250.6 422.6h0M529.7 396.6h0M403 392h0M269.7 370.6h0M243.6 509.8h0M280.3 451.7h0M147 444h0M511.6 428.7h0M259.7 418h0M318 411.9h0M125.4 470h0M527.2 462.4h0M331.1 408.8h0M570 405.8h0M128.9 471.6h0M206.4 448.6h0M383.4 303.3h0M276.8 369h0M475.9 362.9h0M372.3 447.1h0M506.6 433.3h0M471.9 421.1h0M89.7 356.8h0M542.3 450.1h0M147.5 456.3h0M247.6 388.9h0M344.2 441h0M515.1 465.4h0M224 445.5h0M92.7 499.1h0M129.9 359.9h0M471.9 431.8h0M176.2 372.1h0M411.5 381.3h0M418.6 447.1h0M550.3 424.1h0M572.5 471.6h0M194.3 419.5h0M495.5 434.8h0M271.2 372.1h0M186.2 370.6h0M243.6 372.1h0M178.2 431.8h0M572 411.9h0M84.7 468.5h0M499.6 378.2h0M428.6 482.3h0M356.7 441h0M187.8 340h0M233.5 379.8h0M546.8 362.9h0M483.5 460.9h0M135.5 500.6h0M293.9 462.4h0M546.3 407.3h0M93.7 396.6h0M340.1 410.4h0M439.7 448.6h0M206.9 405.8h0M279.3 422.6h0M537.8 355.3h0M382.9 370.6h0M498.5 418h0M425.1 387.4h0M189.8 413.4h0M151 439.4h0M381.9 418h0M234 497.6h0M111.3 416.5h0M105.3 422.6h0M478.4 418h0M437.7 424.1h0M498.5 427.2h0M84.7 405.8h0M375.3 450.1h0M149 408.8h0M515.6 454.7h0M386.9 404.2h0M96.7 453.2h0M507.6 425.7h0M199.8 419.5h0M547.3 460.9h0M239.6 447.1h0M463.8 402.7h0M327.6 447.1h0M311.5 355.3h0M224 413.4h0M569.5 378.2h0M512.6 520.5h0M571 424.1h0M120.4 379.8h0M379.4 405.8h0M323 480.7h0M219.9 399.6h0M384.9 460.9h0M551.9 467h0M447.3 398.1h0M399.5 385.9h0M254.6 459.3h0M365.3 486.9h0M81.1 444h0M203.3 399.6h0M396.5 433.3h0M401 434.8h0M137.5 384.3h0M248.1 437.9h0M556.9 404.2h0M184.7 434.8h0M154.1 392h0M326.6 439.4h0M257.2 448.6h0M335.1 416.5h0M109.8 405.8h0M416.1 404.2h0M276.3 442.5h0M121.9 349.2h0M335.6 375.2h0M370.3 462.4h0M230.5 468.5h0M193.8 437.9h0M516.1 410.4h0M395 434.8h0M228 277.2h0M465.4 425.7h0M276.8 404.2h0M312.5 460.9h0M146.5 418h0M225 431.8h0M256.7 398.1h0M485 437.9h0M187.8 431.8h0M334.6 437.9h0M197.8 398.1h0M446.7 404.2h0M148.5 448.6h0M319.5 401.2h0M204.4 427.2h0M431.7 416.5h0M513.6 453.2h0M562.4 454.7h0M421.1 468.5h0M81.1 468.5h0M444.7 300.2h0M440.7 390.5h0M482 353.8h0M444.2 402.7h0M149.5 393.5h0M538.8 457.8h0M204.9 457.8h0M478.4 457.8h0M138.5 418h0M116.8 418h0M215.4 465.4h0M124.9 442.5h0M232.5 387.4h0M153.1 421.1h0M509.1 434.8h0M463.3 346.1h0M509.1 405.8h0M367.8 359.9h0M193.8 503.7h0M97.7 393.5h0M121.9 433.3h0M209.9 428.7h0M212.4 488.4h0M217.9 421.1h0M490.5 375.2h0M437.2 402.7h0M361.3 419.5h0M287.8 453.2h0M195.8 425.7h0M372.8 381.3h0M206.9 441h0M478.4 441h0M531.7 450.1h0M345.7 419.5h0M97.7 463.9h0M419.1 392h0M231 375.2h0M536.3 424.1h0M114.8 474.6h0M430.2 315.5h0M451.3 427.2h0M98.7 457.8h0M490.5 399.6h0M191.3 473.1h0M465.9 392h0M487.5 442.5h0M352.2 462.4h0M375.8 467h0M538.8 433.3h0M152.6 436.4h0M333.1 430.2h0M259.7 353.8h0M88.2 330.8h0M125.9 385.9h0M245.6 437.9h0M501.1 402.7h0M498.5 425.7h0M231 430.2h0M436.7 465.4h0M368.3 447.1h0M489 231.3h0M459.3 436.4h0M232 467h0M508.6 418h0M418.6 411.9h0M136 447.1h0M118.9 358.3h0M107.3 494.5h0M473.4 427.2h0M324 306.3h0M123.4 411.9h0M399 419.5h0M405.5 320.1h0M512.6 437.9h0M387.9 393.5h0M572 457.8h0M350.7 442.5h0M302.9 430.2h0M480.4 496h0M206.9 450.1h0M199.3 448.6h0M437.2 421.1h0M493 421.1h0M417.1 430.2h0M184.7 430.2h0M353.7 402.7h0M118.9 395.1h0M502.6 336.9h0M556.4 433.3h0M87.2 468.5h0M269.2 457.8h0M505.1 451.7h0M497.5 489.9h0M257.2 463.9h0M196.3 414.9h0M363.3 297.1h0M267.2 463.9h0M85.7 413.4h0M332.1 442.5h0M259.7 396.6h0M260.7 476.1h0M161.1 442.5h0M374.3 396.6h0M204.9 418h0M570 411.9h0M393.9 456.3h0M467.9 488.4h0M476.4 418h0M174.7 399.6h0M509.1 410.4h0M478.4 454.7h0M373.3 373.6h0M501.1 531.2h0M278.3 457.8h0M198.8 436.4h0M230 468.5h0M467.9 467h0M378.9 396.6h0M332.6 454.7h0M496 419.5h0M125.4 431.8h0M90.7 347.6h0M367.8 399.6h0M423.1 441h0M498.5 460.9h0M308.5 470h0M404.5 477.7h0M255.6 441h0M144.5 378.2h0M489 488.4h0M541.3 474.6h0M141.5 439.4h0M384.9 428.7h0M399.5 385.9h0M422.6 298.7h0M294.9 413.4h0M237.5 457.8h0M266.7 416.5h0M213.9 421.1h0M363.8 431.8h0M138.5 422.6h0M316 430.2h0M354.2 457.8h0M515.6 416.5h0M342.6 439.4h0M238 411.9h0M380.4 375.2h0M104.8 375.2h0M226.5 428.7h0M336.1 407.3h0M384.9 453.2h0M180.2 434.8h0M473.4 428.7h0M220.9 326.2h0M564.9 281.8h0M547.3 340h0M257.7 448.6h0M93.2 411.9h0M377.3 404.2h0M506.1 382.8h0M334.1 309.4h0M512.1 437.9h0M293.9 427.2h0M343.7 418h0M275.3 379.8h0M116.8 395.1h0M178.7 439.4h0M508.1 430.2h0M320 422.6h0M429.1 418h0M417.6 447.1h0M162.6 297.1h0M97.7 384.3h0M148.5 343h0M89.7 411.9h0M191.8 457.8h0M356.7 473.1h0M267.7 444h0M185.2 468.5h0M468.4 405.8h0M212.4 402.7h0M526.2 375.2h0M149.5 422.6h0M180.2 355.3h0M177.7 422.6h0M167.6 399.6h0M142.5 431.8h0M560.9 234.4h0M136.5 437.9h0M535.3 399.6h0M225.5 336.9h0M129.4 346.1h0M253.1 441h0M317 473.1h0M402 384.3h0M559.9 448.6h0M340.6 483.8h0M379.9 347.6h0M420.1 422.6h0M169.1 437.9h0M291.9 445.5h0M457.3 445.5h0M166.1 396.6h0M158.6 445.5h0M409 431.8h0M355.7 424.1h0M185.7 451.7h0M242.1 346.1h0M170.2 444h0M159.1 419.5h0M382.4 488.4h0M108.3 376.7h0M233 433.3h0M492.5 439.4h0M479.4 471.6h0M183.2 441h0M207.4 431.8h0M210.9 413.4h0M277.3 451.7h0M178.7 447.1h0M264.2 385.9h0M182.7 441h0M360.3 396.6h0M274.8 410.4h0M229 388.9h0M126.4 499.1h0M114.3 439.4h0M452.8 418h0M200.8 370.6h0M136.5 479.2h0M251.6 362.9h0M363.3 405.8h0M559.9 396.6h0M194.8 511.3h0M562.9 372.1h0M272.7 421.1h0M124.9 448.6h0M543.8 448.6h0M114.3 372.1h0M111.8 480.7h0M155.6 433.3h0M551.4 398.1h0M117.3 477.7h0M167.1 460.9h0M259.7 431.8h0M529.7 333.9h0M540.3 390.5h0M459.3 457.8h0M269.7 467h0M447.3 396.6h0M527.7 395.1h0M405.5 310.9h0M478.9 340h0M240.6 424.1h0M99.7 470h0M298.4 436.4h0M503.6 482.3h0M164.6 418h0M138.5 393.5h0M298.4 441h0M225 470h0M81.1 465.4h0M472.4 398.1h0M436.7 442.5h0M555.4 427.2h0M89.2 433.3h0M135 416.5h0M286.3 425.7h0M442.2 436.4h0M208.4 424.1h0M131.9 382.8h0M135.5 444h0M264.7 511.3h0M250.1 312.4h0M530.2 427.2h0M298.9 399.6h0M302.4 457.8h0M544.8 476.1h0M343.7 401.2h0M107.8 419.5h0M92.7 431.8h0M291.4 392h0M193.3 436.4h0M398.5 476.1h0M349.7 222.2h0M214.4 398.1h0M93.7 459.3h0M223.5 436.4h0M425.1 416.5h0M355.7 463.9h0M139 444h0M109.8 465.4h0M392.9 470h0M565.9 404.2h0M524.2 447.1h0M461.3 353.8h0M94.2 473.1h0M440.7 388.9h0M209.9 463.9h0M525.7 459.3h0M239.6 398.1h0M261.2 467h0M426.1 402.7h0M109.3 398.1h0M281.3 375.2h0M155.1 369h0M396.5 418h0M205.9 402.7h0M269.7 442.5h0M504.1 448.6h0M342.1 393.5h0M483 479.2h0M457.3 379.8h0M199.3 425.7h0M447.8 462.4h0M537.8 453.2h0M457.8 453.2h0M438.2 488.4h0M158.6 453.2h0M331.1 326.2h0M114.8 433.3h0M327.1 356.8h0M120.4 372.1h0M497 470h0M306.4 419.5h0M277.8 427.2h0M444.7 476.1h0M359.7 398.1h0M210.4 444h0M399 408.8h0M324.5 395.1h0M264.7 399.6h0M481.4 404.2h0M397.5 445.5h0M313 410.4h0M566.4 399.6h0M382.9 425.7h0M386.9 407.3h0M300.9 367.5h0M264.2 456.3h0M291.9 467h0M211.4 431.8h0M519.2 375.2h0M123.4 444h0M547.3 289.5h0M425.1 445.5h0M171.7 338.4h0M135.5 369h0M236 411.9h0M276.3 388.9h0M542.3 457.8h0M344.2 474.6h0M336.1 506.8h0M550.3 468.5h0M418.6 414.9h0M456.3 486.9h0M199.8 474.6h0M351.2 413.4h0M144.5 404.2h0M177.2 457.8h0M395 379.8h0M168.6 468.5h0M343.2 399.6h0M261.2 454.7h0M175.2 361.4h0M82.1 381.3h0M230 355.3h0M292.9 430.2h0M265.7 370.6h0M376.3 393.5h0M564.4 332.3h0M499.1 424.1h0M274.3 384.3h0M437.2 468.5h0M181.2 465.4h0M512.6 480.7h0M159.6 467h0M231 456.3h0M477.9 411.9h0M559.4 414.9h0M79.1 359.9h0M546.3 468.5h0M112.3 393.5h0M450.8 425.7h0M257.7 413.4h0M191.8 468.5h0M358.7 473.1h0M438.7 419.5h0M252.6 340h0M197.3 422.6h0M141.5 416.5h0M458.8 408.8h0M478.9 454.7h0M296.9 378.2h0M326.1 454.7h0M371.8 434.8h0M117.3 433.3h0M218.9 367.5h0M376.8 382.8h0M249.1 427.2h0M132.4 479.2h0M85.2 471.6h0M319.5 474.6h0M300.9 390.5h0M199.3 405.8h0M97.7 445.5h0M427.1 459.3h0M437.7 349.2h0M96.2 350.7h0M192.3 474.6h0M147.5 408.8h0M280.8 367.5h0M373.8 413.4h0M394.4 370.6h0M455.3 488.4h0M346.7 422.6h0M408.5 448.6h0M326.1 382.8h0M483 425.7h0M340.6 395.1h0M369.8 424.1h0M241.1 413.4h0M529.7 407.3h0M542.8 395.1h0M409 451.7h0M407.5 407.3h0M278.8 450.1h0M191.3 471.6h0M237 428.7h0M315 410.4h0M541.3 382.8h0M177.2 410.4h0M217.9 444h0M540.8 453.2h0M303.4 405.8h0M462.8 445.5h0M434.7 346.1h0M254.6 419.5h0M129.9 414.9h0M112.3 384.3h0M477.9 304.8h0M533.2 424.1h0M213.9 467h0M431.2 425.7h0M328.1 310.9h0M416.1 369h0M277.3 381.3h0M452.3 459.3h0M569 453.2h0M325 332.3h0M475.9 431.8h0M198.8 404.2h0M345.2 431.8h0M534.8 427.2h0M209.9 385.9h0M125.9 418h0M222.5 450.1h0M243.1 418h0M457.8 416.5h0M167.6 427.2h0M207.9 467h0M465.9 361.4h0M275.3 437.9h0M571 441h0M93.2 476.1h0M140 393.5h0M182.7 414.9h0M483 384.3h0M351.7 381.3h0M503.6 408.8h0M238.5 467h0M486 428.7h0M99.2 393.5h0M336.1 436.4h0M530.7 427.2h0M208.4 468.5h0M145 447.1h0M232.5 422.6h0M558.9 384.3h0M553.9 479.2h0M409 257.4h0M559.9 482.3h0M215.9 395.1h0M428.6 439.4h0M349.2 434.8h0M187.8 479.2h0M147 424.1h0M395.5 385.9h0M304.4 395.1h0M292.9 471.6h0M252.6 352.2h0M181.2 405.8h0M542.3 437.9h0M373.8 422.6h0M137 408.8h0M316.5 379.8h0M227 407.3h0M268.2 496h0M475.4 468.5h0M557.9 460.9h0M332.1 301.7h0M160.6 424.1h0M453.3 398.1h0M89.2 431.8h0M393.4 437.9h0M295.4 379.8h0M240.1 378.2h0M101.8 384.3h0M213.4 379.8h0M115.3 454.7h0M464.4 392h0M232 379.8h0M519.7 437.9h0M447.3 459.3h0M461.8 456.3h0M569 453.2h0M565.4 428.7h0M397.5 289.5h0M326.1 418h0M312.5 392h0M379.4 430.2h0M298.9 418h0M201.8 314h0M287.3 419.5h0M503.1 433.3h0M161.1 467h0M102.8 451.7h0M564.4 387.4h0M440.7 300.2h0M387.4 457.8h0M239.6 436.4h0M245.6 422.6h0M253.6 419.5h0M86.7 350.7h0M415.1 485.3h0M199.3 385.9h0M506.6 486.9h0M555.4 433.3h0M356.2 277.2h0M220.9 425.7h0M419.1 404.2h0M158.1 419.5h0M461.3 457.8h0M452.3 431.8h0M504.1 372.1h0M106.8 465.4h0M318 428.7h0M514.1 379.8h0M311.5 439.4h0M318.5 436.4h0M260.2 411.9h0M512.6 370.6h0M449.3 404.2h0M343.7 395.1h0M191.8 476.1h0M376.3 358.3h0M224.5 433.3h0M150 460.9h0M128.4 333.9h0M517.7 416.5h0M342.6 422.6h0M301.4 410.4h0M507.1 460.9h0M510.6 439.4h0M419.6 434.8h0M96.7 402.7h0M431.2 473.1h0M562.9 473.1h0M243.1 436.4h0M137.5 450.1h0M525.7 453.2h0M246.6 418h0M336.1 379.8h0M119.9 488.4h0M463.8 448.6h0M272.2 431.8h0M280.3 462.4h0M231 425.7h0M530.2 410.4h0M485.5 451.7h0M231 366h0M248.1 460.9h0M440.2 355.3h0M494.5 410.4h0M143.5 369h0M79.1 413.4h0M362.8 395.1h0M497.5 388.9h0M569 399.6h0M236 463.9h0M282.3 428.7h0M328.6 433.3h0M526.2 413.4h0M366.3 398.1h0M195.3 454.7h0M182.2 395.1h0M190.8 436.4h0M390.9 407.3h0M430.7 369h0M440.7 515.9h0M358.7 499.1h0M197.3 401.2h0M552.4 421.1h0M206.9 427.2h0M227.5 388.9h0M458.3 418h0M115.3 306.3h0M322 315.5h0M331.6 473.1h0M552.4 460.9h0M121.9 462.4h0M362.3 450.1h0M560.4 401.2h0M247.1 404.2h0M431.2 414.9h0M562.4 447.1h0M446.2 385.9h0M165.6 448.6h0M198.3 373.6h0M361.8 424.1h0M85.7 407.3h0M519.2 454.7h0M288.3 407.3h0M497 393.5h0M120.9 336.9h0M475.9 378.2h0M314.5 428.7h0M169.1 367.5h0M421.1 326.2h0M328.6 395.1h0M410.5 434.8h0M253.1 448.6h0M284.3 408.8h0M438.2 437.9h0M367.3 434.8h0M222.5 474.6h0M408.5 367.5h0M392.9 456.3h0M150 323.1h0M365.8 424.1h0M79.6 398.1h0M537.3 434.8h0M465.9 407.3h0M377.3 434.8h0M536.8 375.2h0M157.6 451.7h0M451.8 433.3h0M238 392h0M330.6 376.7h0M518.7 367.5h0M178.7 379.8h0M217.4 307.8h0M253.1 450.1h0M407 436.4h0M316.5 424.1h0M413.1 441h0M267.7 428.7h0M567.4 401.2h0M126.4 434.8h0M324 454.7h0M108.8 422.6h0M317.5 482.3h0M388.9 465.4h0M215.4 480.7h0M205.9 454.7h0M111.8 427.2h0M449.3 448.6h0M389.9 460.9h0M247.6 444h0M115.3 424.1h0M528.7 421.1h0M314.5 304.8h0M493 344.6h0M453.8 376.7h0M476.4 442.5h0M208.4 340h0M419.6 454.7h0M466.4 395.1h0M316 439.4h0M387.4 378.2h0M361.3 457.8h0M239.6 444h0M425.1 479.2h0M118.9 421.1h0M401 375.2h0M258.2 434.8h0M278.3 385.9h0M343.7 442.5h0M157.6 324.7h0M108.8 333.9h0M273.8 493h0M350.7 457.8h0M382.9 471.6h0M502.6 421.1h0M117.9 390.5h0M179.7 387.4h0M196.3 421.1h0M529.7 434.8h0M209.9 396.6h0M348.2 460.9h0M317.5 370.6h0M266.2 479.2h0M356.7 385.9h0M492.5 390.5h0M215.4 421.1h0M201.3 269.6h0M466.4 441h0M223.5 460.9h0M303.4 462.4h0M230.5 456.3h0M272.7 395.1h0M497 465.4h0M440.2 388.9h0M250.1 421.1h0M154.1 421.1h0M544.8 439.4h0M143.5 390.5h0M409 479.2h0M485.5 402.7h0M243.6 411.9h0M374.3 418h0M546.3 387.4h0M461.8 489.9h0M245.6 404.2h0M555.4 483.8h0M238 410.4h0M112.8 418h0M338.1 430.2h0M444.7 410.4h0M174.2 450.1h0M84.2 467h0M524.2 467h0M476.4 390.5h0M450.3 462.4h0M473.9 428.7h0M207.9 463.9h0M453.3 431.8h0M178.7 410.4h0M126.4 396.6h0M149 393.5h0M403.5 401.2h0M524.7 502.2h0M522.2 457.8h0M289.3 411.9h0M130.4 414.9h0M297.4 425.7h0M224 450.1h0M163.6 414.9h0M512.6 450.1h0M109.3 421.1h0M211.9 346.1h0M125.4 428.7h0M94.2 468.5h0M95.7 398.1h0M540.3 369h0M304.4 381.3h0M214.4 431.8h0M487.5 384.3h0M500.6 485.3h0M112.8 482.3h0M139.5 462.4h0M469.9 323.1h0M436.2 382.8h0M525.7 479.2h0M471.9 401.2h0M422.1 393.5h0M181.2 375.2h0M140 424.1h0M215.9 430.2h0M107.8 509.8h0M226.5 488.4h0M180.2 422.6h0M537.3 447.1h0M166.1 488.4h0M507.1 416.5h0M510.6 437.9h0M467.9 430.2h0M472.9 451.7h0M342.6 460.9h0M439.7 447.1h0M155.1 434.8h0M109.3 340h0M286.3 479.2h0M528.2 405.8h0M322 382.8h0M287.8 451.7h0M412.6 336.9h0M460.8 445.5h0M227 367.5h0M253.6 486.9h0M214.4 462.4h0M501.1 407.3h0M317 378.2h0M88.7 437.9h0M419.1 411.9h0M266.7 408.8h0M189.3 384.3h0M516.1 463.9h0M198.8 344.6h0M563.9 364.5h0M412 401.2h0M512.6 346.1h0M465.4 480.7h0M95.2 434.8h0M559.4 444h0M312 467h0M120.4 468.5h0M193.3 421.1h0M196.3 442.5h0M262.2 453.2h0M461.3 413.4h0M533.8 424.1h0M277.8 352.2h0M238.5 396.6h0M194.3 453.2h0M438.2 436.4h0M213.4 280.3h0M438.7 419.5h0M416.1 347.6h0M353.2 439.4h0M262.2 306.3h0M208.4 396.6h0M309 411.9h0M274.8 332.3h0M338.1 437.9h0M508.6 401.2h0M322 382.8h0M102.8 418h0M284.8 450.1h0M336.1 454.7h0M529.2 517.5h0M402 419.5h0M326.1 418h0M321 436.4h0M128.4 375.2h0M125.4 398.1h0M501.6 425.7h0M295.4 428.7h0M203.8 453.2h0M445.2 359.9h0M276.3 385.9h0M206.9 411.9h0M412.6 445.5h0M186.2 373.6h0M422.6 362.9h0M180.2 330.8h0M372.8 437.9h0M432.2 422.6h0M287.3 456.3h0M334.1 431.8h0M545.3 378.2h0M283.3 407.3h0M358.7 404.2h0M537.3 390.5h0M119.9 436.4h0M232.5 434.8h0M151 482.3h0M413.6 445.5h0M179.2 298.7h0M353.2 398.1h0M431.7 418h0M493.5 388.9h0M354.7 451.7h0M371.3 404.2h0M206.9 309.4h0M253.1 413.4h0M193.3 419.5h0M283.8 437.9h0M328.1 324.7h0M224.5 483.8h0M297.9 330.8h0M88.7 260.4h0M136 425.7h0M359.7 442.5h0M267.7 460.9h0M318.5 401.2h0M397 382.8h0M332.6 402.7h0M292.9 399.6h0M87.7 488.4h0M480.4 457.8h0M348.2 454.7h0M151 411.9h0M198.8 434.8h0M542.3 441h0M434.2 483.8h0M453.8 425.7h0M312 376.7h0M234 448.6h0M379.9 366h0M136 434.8h0M527.2 465.4h0M462.3 408.8h0M287.3 408.8h0M361.3 545h0M226 434.8h0M570.5 489.9h0M284.3 425.7h0M370.3 399.6h0M321.5 428.7h0M239.1 468.5h0M371.3 399.6h0M111.8 381.3h0M458.3 382.8h0M122.4 454.7h0M292.4 427.2h0M558.9 404.2h0M365.8 454.7h0M511.6 416.5h0M153.6 392h0M98.7 445.5h0M484.5 396.6h0M549.3 425.7h0M402 439.4h0M441.2 425.7h0M441.7 434.8h0M435.7 392h0M337.1 428.7h0M246.6 346.1h0M282.8 298.7h0M473.9 479.2h0M440.7 427.2h0M79.6 421.1h0M253.6 437.9h0M271.7 448.6h0M254.1 367.5h0M141.5 474.6h0M210.4 422.6h0M367.3 338.4h0M185.2 453.2h0M148.5 459.3h0M130.4 424.1h0M504.6 463.9h0M380.9 408.8h0M288.8 462.4h0M268.2 468.5h0M435.2 441h0M176.7 479.2h0M304.4 457.8h0M302.9 430.2h0M209.9 454.7h0M192.8 470h0M444.2 402.7h0M478.9 422.6h0M488.5 428.7h0M143.5 442.5h0M293.4 448.6h0M108.3 427.2h0M121.4 396.6h0M185.2 359.9h0M371.8 335.4h0M87.2 424.1h0M537.3 323.1h0M116.8 353.8h0M543.8 402.7h0M383.4 393.5h0M114.8 431.8h0M451.8 459.3h0M257.7 381.3h0M471.9 447.1h0M395.5 465.4h0M345.7 428.7h0M362.3 450.1h0M539.8 422.6h0M397.5 353.8h0M345.2 433.3h0M560.9 411.9h0M567.4 447.1h0M175.2 379.8h0M361.3 445.5h0M571 433.3h0M443.7 459.3h0M148.5 471.6h0M375.3 424.1h0M452.8 434.8h0M479.4 401.2h0M95.7 451.7h0M323 275.7h0M320 162.5h0M326.1 295.6h0M327.1 242.1h0M318 206.9h0M325.6 148.7h0M323 170.1h0M341.1 138h0M321.5 101.3h0M321 164h0M326.6 180.9h0M327.1 165.6h0M328.6 284.9h0M315.5 231.3h0M331.6 141.1h0M318 188.5h0M315.5 174.7h0M331.1 138h0M321.5 237.5h0M324.5 214.5h0M319.5 199.2h0M321 148.7h0M322 119.7h0M323.5 220.6h0M333.1 93.6h0M334.1 180.9h0M332.1 235.9h0M328.6 197.7h0M324.5 219.1h0M318 187h0M331.6 223.7h0M325 188.5h0M325 187h0M321 219.1h0M326.1 213h0M325 171.7h0M329.1 136.5h0M330.6 148.7h0M327.1 96.7h0M326.6 199.2h0M328.1 159.4h0M333.6 148.7h0M337.1 208.4h0M325.6 182.4h0M333.1 193.1h0M320 297.1h0M321 209.9h0M322 164h0M330.6 196.2h0M323 199.2h0M321 251.2h0M329.1 197.7h0M321 288h0M350.2 203.8h0M332.1 156.4h0M330.1 164h0M326.6 133.4h0M324.5 187h0M319.5 191.6h0M326.1 174.7h0M318.5 245.1h0M328.1 272.7h0M314 191.6h0M324 185.4h0M325 167.1h0M324 220.6h0M323 187h0M324.5 209.9h0M324.5 144.1h0M320.5 199.2h0M326.6 164h0M323.5 148.7h0M328.1 205.3h0M315.5 232.9h0M329.1 226.8h0M324.5 110.5h0M325 226.8h0M322 125.8h0M316.5 183.9h0M336.1 150.3h0M327.1 121.2h0M321.5 141.1h0M331.6 205.3h0M316.5 177.8h0M341.1 147.2h0M319.5 225.2h0M333.1 162.5h0M335.6 219.1h0M335.6 277.2h0M323 135h0M326.1 310.9h0M284.3 116.6h0M318 208.4h0M330.1 213h0M321 133.4h0M323 211.5h0M333.6 188.5h0M342.1 183.9h0M334.6 213h0M319.5 188.5h0M333.6 200.7h0M330.6 153.3h0M325 199.2h0M330.1 147.2h0M346.7 168.6h0M330.6 248.2h0M319 231.3h0M324.5 196.2h0M331.1 225.2h0M319 156.4h0M324 171.7h0M326.1 182.4h0M331.1 187h0M324.5 118.1h0M329.6 138h0M299.9 193.1h0M326.6 147.2h0M328.1 145.7h0M322 124.2h0M327.6 159.4h0M321 112h0M325.6 116.6h0M318.5 286.4h0M328.1 82.9h0M319.5 205.3h0M320.5 165.6h0M342.6 139.5h0M309.5 122.7h0M314 220.6h0M332.6 258.9h0M329.1 257.4h0M325.6 286.4h0M331.6 153.3h0M314.5 199.2h0M322.5 177.8h0M326.1 199.2h0M326.1 245.1h0M327.1 162.5h0M326.1 228.3h0M327.6 283.4h0M330.1 176.3h0M320.5 105.9h0M326.1 156.4h0M321.5 209.9h0M332.6 162.5h0M330.6 245.1h0M332.1 139.5h0M323.5 176.3h0M314.5 165.6h0M334.1 135h0M323.5 102.8h0M327.1 147.2h0M328.6 217.6h0M328.1 151.8h0M327.1 187h0M329.1 168.6h0M322 194.6h0M337.6 124.2h0M325.6 237.5h0M322 116.6h0M322 239h0M327.1 288h0M332.1 173.2h0M326.1 153.3h0M326.6 187h0M333.1 213h0M319.5 154.8h0M330.6 179.3h0M332.6 182.4h0M315.5 171.7h0M330.6 213h0M327.1 225.2h0M324 165.6h0M334.1 183.9h0M300.4 177.8h0M338.1 191.6h0M338.1 203.8h0M324 173.2h0M330.1 183.9h0M313 167.1h0M320.5 144.1h0M331.6 165.6h0M316 135h0M317.5 177.8h0M328.6 151.8h0M326.6 183.9h0M321.5 157.9h0M321 177.8h0M316.5 300.2h0M327.1 90.6h0M334.6 145.7h0M338.6 260.4h0M327.1 240.5h0M316 113.5h0M334.6 193.1h0M325.6 157.9h0M324.5 196.2h0M327.1 148.7h0M329.6 209.9h0M324.5 171.7h0M331.6 136.5h0M317 284.9h0M327.1 228.3h0M323 183.9h0M322 131.9h0M334.6 260.4h0M331.1 115.1h0M330.1 208.4h0M335.1 225.2h0M317.5 284.9h0M324 128.8h0M326.6 156.4h0M325 135h0M324 222.2h0M318 179.3h0M337.6 251.2h0M318.5 240.5h0M331.1 177.8h0M337.1 157.9h0M325.6 199.2h0M321.5 246.6h0M325.6 138h0M325.6 96.7h0M323 297.1h0M322 194.6h0M311 164h0M315.5 86h0M319.5 176.3h0M323 171.7h0M315 232.9h0M331.1 171.7h0M319 242.1h0M321 89.1h0M313 107.4h0M329.1 234.4h0M325.6 246.6h0M320 101.3h0M329.1 213h0M332.6 216h0M322.5 161h0M317 145.7h0M316 133.4h0M326.6 145.7h0M336.6 118.1h0M324 208.4h0M352.2 179.3h0M326.6 125.8h0M322.5 112h0M317.5 128.8h0M328.1 213h0M329.6 116.6h0M332.6 292.5h0M332.1 277.2h0M322 284.9h0M324.5 196.2h0M327.1 268.1h0M328.1 234.4h0M314 142.6h0M320.5 190h0M321.5 213h0M322 115.1h0M337.1 138h0M326.6 249.7h0M327.1 167.1h0M329.1 156.4h0M325.6 133.4h0M322.5 102.8h0M321 202.3h0M322.5 197.7h0M318.5 108.9h0M319.5 206.9h0M331.1 135h0M316 144.1h0M334.1 180.9h0M311 122.7h0M329.6 165.6h0M327.1 187h0M320.5 151.8h0M327.6 242.1h0M314.5 173.2h0M337.6 231.3h0M295.9 222.2h0M329.6 119.7h0M326.6 211.5h0M325.6 205.3h0M326.6 142.6h0M324.5 101.3h0M324.5 116.6h0M339.1 124.2h0M330.6 234.4h0M321.5 187h0M324 86h0M329.6 165.6h0M323.5 179.3h0M339.1 177.8h0M338.6 96.7h0M327.6 176.3h0M330.6 108.9h0M341.6 216h0M334.6 177.8h0M332.6 260.4h0M323 150.3h0M322.5 194.6h0M334.6 176.3h0M324 214.5h0M337.6 234.4h0M326.6 102.8h0M329.6 115.1h0M333.6 249.7h0M323.5 261.9h0M326.1 187h0M323 136.5h0M346.2 118.1h0M324 148.7h0M331.6 105.9h0M323 130.4h0M329.6 177.8h0M336.1 87.5h0M324 211.5h0M331.1 127.3h0M333.1 188.5h0M322.5 161h0M325.6 113.5h0M310.5 92.1h0M328.6 136.5h0M319 147.2h0M333.1 216h0M329.1 187h0M333.1 199.2h0M319.5 193.1h0M308.5 211.5h0M324.5 121.2h0M323.5 289.5h0M326.6 153.3h0M304.9 171.7h0M313 209.9h0M328.6 265h0M337.6 223.7h0M326.6 104.4h0M314 191.6h0M330.1 174.7h0M320.5 180.9h0M332.6 156.4h0M330.1 188.5h0M323 240.5h0M327.1 197.7h0M297.9 248.2h0M321.5 206.9h0M322 159.4h0M326.1 133.4h0M322 208.4h0M334.6 180.9h0M325.6 193.1h0M324 116.6h0M330.6 124.2h0M320 171.7h0M327.1 147.2h0M335.1 151.8h0M330.6 144.1h0M324 144.1h0M314.5 203.8h0M323.5 171.7h0M321.5 131.9h0M330.1 165.6h0M323 150.3h0M323.5 229.8h0M315 242.1h0M326.6 165.6h0M317 108.9h0M330.1 124.2h0M333.1 193.1h0M326.6 182.4h0M319.5 133.4h0M327.6 161h0M315.5 219.1h0M322.5 228.3h0M319 277.2h0M322 231.3h0M319.5 165.6h0M329.6 93.6h0M330.6 150.3h0M332.6 211.5h0M320.5 291h0M330.1 136.5h0M340.1 101.3h0M323.5 138h0M331.1 124.2h0M329.6 214.5h0M330.6 121.2h0M324 164h0M329.6 162.5h0M331.1 188.5h0M334.6 179.3h0M327.6 187h0M312.5 164h0M325 147.2h0M320.5 174.7h0M313.5 183.9h0M332.1 196.2h0M324.5 225.2h0M321 214.5h0M333.6 183.9h0M338.1 157.9h0M328.6 96.7h0M335.1 142.6h0M324 185.4h0M330.1 188.5h0M329.1 133.4h0M323.5 151.8h0M320.5 135h0M326.1 104.4h0M321 199.2h0M328.1 197.7h0M323 139.5h0M312 150.3h0M327.1 182.4h0M333.1 162.5h0M327.6 156.4h0M324.5 202.3h0M324.5 265h0M320.5 185.4h0M329.6 182.4h0M325.6 135h0M322.5 245.1h0M328.1 174.7h0M322.5 206.9h0M324.5 206.9h0M323.5 194.6h0M292.9 234.4h0M335.1 139.5h0M320.5 148.7h0M325.6 265h0M316.5 193.1h0M332.1 150.3h0M314.5 118.1h0M310 133.4h0M329.1 150.3h0M325.6 177.8h0M329.1 237.5h0M317.5 110.5h0M308.5 188.5h0M331.1 183.9h0M330.1 188.5h0M322 141.1h0M322.5 141.1h0M324 295.6h0M315.5 167.1h0M325.6 162.5h0M329.6 194.6h0M323 170.1h0M327.1 205.3h0M322.5 200.7h0M324 240.5h0M319.5 286.4h0M326.6 214.5h0M322.5 180.9h0M321.5 197.7h0M338.6 199.2h0M337.6 121.2h0M339.6 268.1h0M312.5 258.9h0M325.6 213h0M327.6 176.3h0M328.1 214.5h0M319.5 145.7h0M330.6 312.4h0M317.5 193.1h0M318 213h0M316.5 188.5h0M324 193.1h0M334.1 179.3h0M322 193.1h0M323 199.2h0M324 164h0M316.5 208.4h0M325 194.6h0M330.6 170.1h0M333.1 102.8h0M325.6 90.6h0M313.5 185.4h0M331.6 168.6h0M336.6 164h0M315.5 95.2h0M329.6 213h0M328.1 235.9h0M325 122.7h0M319 153.3h0M326.1 214.5h0M341.1 183.9h0M327.6 193.1h0M331.1 177.8h0M337.1 213h0M345.2 113.5h0M313 110.5h0M326.1 206.9h0M325 245.1h0M328.1 113.5h0M332.6 173.2h0M331.1 177.8h0M316 214.5h0M319 130.4h0M328.1 231.3h0M322 107.4h0M321.5 222.2h0M326.1 176.3h0M321.5 213h0M312 232.9h0M323 225.2h0M332.6 202.3h0M335.1 151.8h0M325.6 171.7h0M334.6 190h0M333.1 226.8h0M323 183.9h0M329.1 249.7h0M325.6 161h0M316.5 99.8h0M332.1 200.7h0M318 202.3h0M328.6 136.5h0M325.6 214.5h0M326.6 219.1h0M333.1 121.2h0M313.5 145.7h0M337.6 121.2h0M323 200.7h0M332.6 104.4h0M320 90.6h0M333.6 167.1h0M328.6 130.4h0M332.1 190h0M329.6 222.2h0M325 284.9h0M340.1 194.6h0M333.1 217.6h0M314 180.9h0M312.5 176.3h0M323.5 222.2h0M328.6 177.8h0M311 200.7h0M323.5 153.3h0M327.1 219.1h0M322 72.2h0M330.1 142.6h0M310 145.7h0M322.5 133.4h0M331.1 216h0M330.1 136.5h0M319.5 113.5h0M321.5 133.4h0M329.1 164h0M318 216h0M323.5 148.7h0M327.6 190h0M328.6 203.8h0M326.1 219.1h0M329.1 157.9h0M328.6 182.4h0M325.6 278.8h0M328.1 141.1h0M329.6 300.2h0M330.6 168.6h0M326.1 222.2h0M322.5 167.1h0M327.6 113.5h0M322 197.7h0M321 183.9h0M325.6 231.3h0M327.1 170.1h0M330.1 191.6h0M316.5 133.4h0M323 157.9h0M332.1 180.9h0M327.6 122.7h0M314 211.5h0M328.6 179.3h0M298.9 165.6h0M333.6 188.5h0M328.1 145.7h0M326.6 95.2h0M337.1 177.8h0M325.6 161h0M313.5 190h0M329.6 118.1h0M333.1 226.8h0M339.6 180.9h0M322 162.5h0M326.1 284.9h0M322.5 200.7h0M334.6 260.4h0M326.1 197.7h0M330.6 171.7h0M320.5 176.3h0M334.6 147.2h0M326.1 200.7h0M327.1 242.1h0M330.1 141.1h0M320.5 185.4h0M330.1 135h0M332.6 225.2h0M315.5 261.9h0M330.6 151.8h0M324 179.3h0M336.1 185.4h0M339.6 162.5h0M330.1 161h0M331.1 142.6h0M326.1 171.7h0M328.1 190h0M324.5 217.6h0M331.6 185.4h0M331.6 157.9h0M326.1 245.1h0M331.6 144.1h0M335.6 162.5h0M327.1 177.8h0M328.6 209.9h0M329.1 177.8h0M328.6 208.4h0M302.9 185.4h0M346.2 150.3h0M324.5 196.2h0M314.5 139.5h0M320 116.6h0M326.1 108.9h0M328.1 203.8h0M332.6 223.7h0M323.5 162.5h0M327.6 159.4h0M329.6 110.5h0M331.1 141.1h0M346.2 239h0M318 240.5h0M321.5 266.5h0M319 200.7h0M327.6 234.4h0M327.1 180.9h0M324 226.8h0M322 89.1h0M327.6 173.2h0M331.1 159.4h0M327.6 136.5h0M331.1 113.5h0M321.5 194.6h0M330.6 208.4h0M327.1 157.9h0M319 213h0M325.6 162.5h0M327.1 240.5h0M318.5 196.2h0M330.1 165.6h0M330.6 154.8h0M325 138h0M332.1 255.8h0M328.1 240.5h0M327.6 104.4h0M316.5 144.1h0M318.5 246.6h0M330.6 108.9h0M320 185.4h0M328.6 208.4h0M329.6 237.5h0M330.1 243.6h0M321.5 107.4h0M321 180.9h0M326.1 136.5h0M311.5 174.7h0M335.6 133.4h0M314 176.3h0M330.6 124.2h0M328.6 252.8h0M328.6 130.4h0M329.1 222.2h0M321.5 124.2h0M326.6 226.8h0M326.1 185.4h0M326.6 190h0M332.6 194.6h0M325.6 206.9h0M309.5 214.5h0M332.6 202.3h0M324 174.7h0M340.1 148.7h0M322 153.3h0M329.6 162.5h0M332.6 193.1h0M325 205.3h0M331.1 216h0M329.1 187h0M327.6 105.9h0M328.1 213h0M311.5 225.2h0M318.5 145.7h0M324.5 332.3h0M331.6 220.6h0M309.5 203.8h0M313.5 183.9h0M311.5 164h0M333.1 164h0M336.1 237.5h0M306.9 183.9h0M325.6 243.6h0M326.6 289.5h0M329.1 183.9h0M325 136.5h0M312.5 147.2h0M326.1 157.9h0M325 255.8h0M319.5 176.3h0M332.1 202.3h0M327.6 170.1h0M328.6 147.2h0M321.5 220.6h0M309 156.4h0M323 303.3h0M337.6 235.9h0M333.6 185.4h0M321.5 153.3h0M321.5 141.1h0M332.1 220.6h0M332.6 154.8h0M298.9 130.4h0M328.6 170.1h0M325.6 168.6h0M333.1 154.8h0M329.6 165.6h0M318 164h0M330.6 164h0M317.5 161h0M324.5 162.5h0M315 237.5h0M318.5 193.1h0M324 187h0M325.6 99.8h0M327.6 174.7h0M328.6 283.4h0M324.5 257.4h0M324 87.5h0M326.6 135h0M314.5 168.6h0M327.1 223.7h0M341.6 245.1h0M324 135h0M317.5 167.1h0M331.1 105.9h0M322 208.4h0M327.6 115.1h0M334.6 153.3h0M302.4 187h0M309.5 142.6h0M326.1 226.8h0M317.5 99.8h0M326.1 206.9h0M328.1 180.9h0M324.5 162.5h0M314.5 219.1h0M326.6 128.8h0M314 190h0M329.1 174.7h0M323 217.6h0M325.6 162.5h0M324 205.3h0M332.1 167.1h0M331.6 99.8h0M327.6 139.5h0M321 162.5h0M324 180.9h0M319 202.3h0M323.5 240.5h0M343.2 141.1h0M328.6 122.7h0M327.1 148.7h0M335.1 156.4h0M329.1 164h0M325.6 116.6h0M321 190h0M322 141.1h0M322 161h0M329.1 144.1h0M328.1 118.1h0M309.5 278.8h0M300.9 190h0M314 144.1h0M325 216h0M325.6 180.9h0M328.6 234.4h0M316 70.7h0M324 182.4h0M313.5 145.7h0M326.6 220.6h0M314 263.5h0M323.5 93.6h0M336.6 205.3h0M322 174.7h0M324.5 229.8h0M319.5 154.8h0M334.6 216h0M321 141.1h0M329.6 240.5h0M330.6 211.5h0M316 145.7h0M333.6 148.7h0M326.1 246.6h0M312 202.3h0M331.6 246.6h0M337.1 187h0M336.6 187h0M324 272.7h0M328.1 119.7h0M331.6 197.7h0M332.6 196.2h0M337.1 200.7h0M314.5 118.1h0M341.1 104.4h0M326.6 162.5h0M339.6 216h0M326.6 164h0M319 182.4h0M348.2 255.8h0M319 96.7h0M322.5 165.6h0M317.5 255.8h0M321.5 225.2h0M332.6 145.7h0M326.6 153.3h0M332.6 139.5h0M330.1 265h0M320.5 199.2h0M323.5 154.8h0M320 144.1h0M342.1 240.5h0M326.6 138h0M322 171.7h0M306.4 239h0M301.9 128.8h0M320.5 185.4h0M325.6 179.3h0M330.1 206.9h0M338.1 216h0M322 185.4h0M325.6 164h0M305.4 266.5h0M326.6 125.8h0M326.1 151.8h0M331.6 254.3h0M326.6 162.5h0M328.6 121.2h0M321.5 223.7h0M316 183.9h0M338.6 213h0M326.1 144.1h0M318 211.5h0M304.9 205.3h0M321 136.5h0M324.5 138h0M330.1 173.2h0M313 187h0M331.6 203.8h0M327.1 202.3h0M321.5 150.3h0M321.5 171.7h0M334.6 271.1h0M326.6 161h0M325.6 222.2h0M331.6 135h0M340.1 187h0M330.1 191.6h0M334.6 150.3h0M322.5 157.9h0M328.1 153.3h0M313 104.4h0M320.5 239h0M324 245.1h0M330.6 254.3h0M319 196.2h0M315.5 107.4h0M309 185.4h0M327.6 222.2h0M323 213h0M324.5 275.7h0M326.6 171.7h0M345.7 206.9h0M326.1 269.6h0M319 209.9h0M332.6 268.1h0M318 203.8h0M328.1 151.8h0M317.5 312.4h0M328.1 275.7h0M325.6 142.6h0M322 101.3h0M312 225.2h0M314.5 180.9h0M324 213h0M327.1 213h0M326.1 219.1h0M325 110.5h0M324 265h0M332.6 135h0M320 188.5h0M321.5 209.9h0M324 202.3h0M318 261.9h0M313.5 223.7h0M325 263.5h0M326.1 200.7h0M322 156.4h0M320 209.9h0M325 277.2h0M324 179.3h0M333.1 130.4h0M320 124.2h0M318.5 121.2h0M327.1 151.8h0M326.1 190h0M326.6 145.7h0M297.4 147.2h0M337.6 159.4h0M325.6 183.9h0M330.6 191.6h0M326.6 205.3h0M324 196.2h0M323 179.3h0M334.1 213h0M322.5 183.9h0M333.6 214.5h0M326.1 153.3h0M332.6 142.6h0M340.1 141.1h0M317.5 203.8h0M335.1 200.7h0M331.1 168.6h0M316 254.3h0M343.7 185.4h0M320.5 188.5h0M332.6 200.7h0M330.6 249.7h0M321 118.1h0M327.1 177.8h0M318.5 156.4h0M321 101.3h0M326.1 190h0M324.5 168.6h0M328.1 202.3h0M326.1 141.1h0M327.1 196.2h0M327.1 145.7h0M328.1 171.7h0M319.5 153.3h0M315.5 112h0M330.6 205.3h0M338.6 258.9h0M333.1 196.2h0M330.6 170.1h0M321 177.8h0M328.6 183.9h0M316.5 180.9h0M328.1 156.4h0M329.1 214.5h0M323 82.9h0M323.5 211.5h0M337.1 243.6h0M318 226.8h0M326.6 191.6h0M322.5 151.8h0M321 240.5h0M332.1 159.4h0M325.6 235.9h0M329.6 96.7h0M330.6 187h0M341.1 128.8h0M307.9 240.5h0M330.6 228.3h0M312 228.3h0M331.1 200.7h0M325 141.1h0M335.6 269.6h0M329.1 286.4h0M320.5 168.6h0M320.5 193.1h0M332.6 180.9h0M317.5 153.3h0M319 135h0M315 182.4h0M326.1 222.2h0M328.6 194.6h0M326.6 165.6h0M331.6 249.7h0M328.6 179.3h0M316 217.6h0M331.6 179.3h0M309.5 193.1h0M328.6 180.9h0M316 229.8h0M343.2 188.5h0M319 197.7h0M333.6 217.6h0M323.5 159.4h0M305.4 139.5h0M324.5 177.8h0M334.6 185.4h0M321.5 191.6h0M329.6 291h0M318 180.9h0M323.5 104.4h0M328.1 173.2h0M327.1 200.7h0M322 211.5h0M317.5 153.3h0M322 171.7h0M318.5 197.7h0M324 84.5h0M329.1 148.7h0M325 151.8h0M319.5 286.4h0M330.1 206.9h0M327.1 118.1h0M333.1 183.9h0M314.5 191.6h0M325 157.9h0M325 209.9h0M330.1 127.3h0M336.6 156.4h0M325 90.6h0M342.1 200.7h0M328.1 220.6h0M324 205.3h0M319.5 231.3h0M321.5 183.9h0M331.6 180.9h0M325.6 183.9h0M316 180.9h0M330.1 182.4h0M330.1 148.7h0M335.6 179.3h0M333.6 171.7h0M324 249.7h0M321.5 199.2h0M322.5 185.4h0M323 168.6h0M334.6 180.9h0M334.6 177.8h0M324.5 135h0M320 258.9h0M325 208.4h0M332.6 167.1h0M319.5 228.3h0M322 159.4h0M332.1 141.1h0M329.6 196.2h0M326.6 266.5h0M329.1 183.9h0M328.1 220.6h0M326.6 116.6h0M325.6 176.3h0M327.1 174.7h0M337.1 125.8h0M330.6 115.1h0M328.6 297.1h0M330.6 173.2h0M332.6 217.6h0M329.6 246.6h0M329.1 161h0M333.1 239h0M324 187h0M322 112h0M317 115.1h0M329.6 245.1h0M322.5 145.7h0M327.6 147.2h0M326.1 93.6h0M321 130.4h0M332.1 211.5h0M318.5 265h0M319 122.7h0M326.6 150.3h0M323.5 217.6h0M313.5 243.6h0M311.5 104.4h0M320.5 206.9h0M326.6 165.6h0M332.1 226.8h0M321 167.1h0M327.1 176.3h0M326.6 309.4h0M333.1 173.2h0M332.1 248.2h0M318.5 265h0M336.1 187h0M317.5 200.7h0M340.6 182.4h0M333.1 170.1h0M332.1 183.9h0M328.6 170.1h0M325 200.7h0M329.6 193.1h0M331.6 138h0M309.5 228.3h0M320.5 202.3h0M322.5 147.2h0M317 148.7h0M334.6 156.4h0M321.5 193.1h0M327.6 150.3h0M327.6 139.5h0M329.6 258.9h0M319 99.8h0M330.1 300.2h0M321.5 165.6h0M324 257.4h0M330.6 116.6h0M327.6 168.6h0M327.6 173.2h0M322.5 151.8h0M317 112h0M334.6 151.8h0M320.5 170.1h0M325.6 159.4h0M327.1 135h0M334.1 113.5h0M322.5 194.6h0M333.1 298.7h0M329.1 180.9h0M321.5 222.2h0M321.5 147.2h0M329.6 151.8h0M323.5 197.7h0M329.6 154.8h0M327.6 180.9h0M323 289.5h0M325 164h0M323.5 171.7h0M321 216h0M324 203.8h0M321.5 150.3h0M321 182.4h0M330.6 199.2h0M326.6 252.8h0M316.5 173.2h0M315 188.5h0M331.1 249.7h0M327.1 139.5h0M331.6 130.4h0M321.5 145.7h0M329.1 240.5h0M328.1 191.6h0M316.5 194.6h0M328.1 251.2h0M333.1 280.3h0M325.6 177.8h0M327.6 193.1h0M324 232.9h0M328.6 147.2h0M331.1 209.9h0M326.6 182.4h0M329.6 188.5h0M326.6 251.2h0M332.1 130.4h0M320 179.3h0M327.6 177.8h0M339.1 170.1h0M321.5 200.7h0M319 145.7h0M315 199.2h0M320.5 183.9h0M328.6 159.4h0M331.6 188.5h0M335.6 294.1h0M319 242.1h0M330.6 231.3h0M335.6 135h0M348.7 193.1h0M335.1 208.4h0M330.1 188.5h0M319.5 131.9h0M321.5 291h0M331.1 211.5h0M326.1 202.3h0M343.7 214.5h0M320.5 191.6h0M323.5 148.7h0M337.1 188.5h0M319.5 229.8h0M333.6 205.3h0M332.1 203.8h0M331.1 297.1h0M319.5 203.8h0M318 255.8h0M325.6 257.4h0M322 176.3h0M322 112h0M320.5 268.1h0M319.5 255.8h0M340.1 167.1h0M327.1 95.2h0M323.5 180.9h0M336.1 180.9h0M319.5 110.5h0M321 119.7h0M314 188.5h0M333.6 190h0M324.5 274.2h0M333.1 281.8h0M327.6 219.1h0M323.5 133.4h0M320.5 144.1h0M316 252.8h0M335.1 113.5h0M325 147.2h0M322 205.3h0M329.6 309.4h0M325.6 366h0M317 421.1h0M317.5 338.4h0M342.6 451.7h0M333.1 392h0M311 366h0M339.1 303.3h0M338.1 382.8h0M327.6 445.5h0M325.6 378.2h0M332.6 424.1h0M367.8 422.6h0M316 242.1h0M309.5 359.9h0M344.2 416.5h0M364.3 410.4h0M329.1 356.8h0M327.1 427.2h0M311 317h0M306.4 295.6h0M338.1 369h0M303.4 401.2h0M309 404.2h0M327.1 335.4h0M349.7 222.2h0M312.5 301.7h0M304.9 372.1h0M325 479.2h0M318.5 408.8h0M320.5 436.4h0M293.9 321.6h0M328.1 405.8h0M296.4 375.2h0M326.6 477.7h0M315 414.9h0M296.9 408.8h0M333.1 407.3h0M318.5 277.2h0M329.1 424.1h0M342.1 442.5h0M323 355.3h0M307.4 387.4h0M306.9 434.8h0M323.5 272.7h0M282.8 404.2h0M323.5 476.1h0M318 470h0M352.2 411.9h0M313 441h0M367.8 453.2h0M328.6 453.2h0M321.5 384.3h0M348.2 421.1h0M345.7 390.5h0M345.7 433.3h0M336.6 459.3h0M271.2 335.4h0M323.5 465.4h0M367.8 437.9h0M332.6 413.4h0M341.1 372.1h0M315 419.5h0M320 465.4h0M334.1 442.5h0M318.5 346.1h0M363.8 385.9h0M343.2 427.2h0M331.1 338.4h0M344.7 430.2h0M326.6 350.7h0M313.5 399.6h0M376.8 401.2h0M334.6 413.4h0M311 385.9h0M318.5 375.2h0M325.6 424.1h0M307.9 303.3h0M376.3 358.3h0M333.6 395.1h0M334.1 317h0M336.1 450.1h0M312.5 330.8h0M334.6 361.4h0M317.5 392h0M314 465.4h0M351.7 413.4h0M350.2 416.5h0M338.1 390.5h0M326.6 407.3h0M332.6 453.2h0M347.2 355.3h0M323 373.6h0M309.5 416.5h0M370.3 338.4h0M317 396.6h0M338.6 436.4h0M304.9 454.7h0M327.6 310.9h0M340.6 379.8h0M364.3 375.2h0M340.1 364.5h0M363.8 416.5h0M305.4 427.2h0M343.2 404.2h0M318.5 434.8h0M305.4 398.1h0M325 425.7h0M325 470h0M348.7 448.6h0M366.3 284.9h0M319.5 388.9h0M321.5 359.9h0M328.6 450.1h0M326.1 424.1h0M328.1 378.2h0M333.1 433.3h0M325 393.5h0M365.3 468.5h0M327.6 407.3h0M337.6 434.8h0M317.5 447.1h0M309 332.3h0M327.1 422.6h0M334.6 437.9h0M331.6 392h0M304.4 392h0M350.7 427.2h0M343.2 396.6h0M358.2 298.7h0M329.6 448.6h0M336.1 444h0M334.6 456.3h0M309 399.6h0M301.4 433.3h0M314 309.4h0M345.2 309.4h0M274.8 358.3h0M347.7 416.5h0M330.6 402.7h0M311.5 437.9h0M350.7 338.4h0M325 358.3h0M310.5 411.9h0M318 450.1h0M324 379.8h0M327.1 329.3h0M302.4 277.2h0M276.8 376.7h0M313.5 410.4h0M346.7 226.8h0M286.8 347.6h0M327.1 362.9h0M362.3 425.7h0M306.4 251.2h0M356.2 395.1h0M319 281.8h0M335.1 467h0M338.1 390.5h0M379.4 393.5h0M322 306.3h0M307.4 318.6h0M299.9 375.2h0M367.3 414.9h0M335.6 375.2h0M352.7 431.8h0M293.9 369h0M363.8 401.2h0M349.2 421.1h0M331.6 381.3h0M338.1 392h0M330.1 442.5h0M367.8 278.8h0M346.7 427.2h0M299.4 340h0M316 312.4h0M304.9 396.6h0M322.5 310.9h0M309.5 278.8h0M324 460.9h0M330.1 401.2h0M313.5 369h0M341.6 263.5h0M371.8 353.8h0M315 234.4h0M326.1 399.6h0M342.6 370.6h0M322 439.4h0M345.7 410.4h0M326.6 434.8h0M332.1 288h0M311.5 352.2h0M353.7 314h0M344.2 418h0M312.5 359.9h0M306.9 436.4h0M332.1 393.5h0M340.1 382.8h0M333.6 382.8h0M327.1 333.9h0M329.6 430.2h0M369.8 356.8h0M340.6 393.5h0M338.6 424.1h0M348.2 333.9h0M313.5 434.8h0M309 424.1h0M337.1 424.1h0M325 379.8h0M340.1 447.1h0M296.4 336.9h0M340.1 418h0M318.5 437.9h0M315 439.4h0M332.1 314h0M322.5 367.5h0M393.9 393.5h0M351.2 405.8h0M317 297.1h0M339.1 462.4h0M303.9 399.6h0M333.1 359.9h0M327.1 297.1h0M363.3 376.7h0M341.6 376.7h0M344.2 332.3h0M337.6 327.7h0M328.1 416.5h0M323 421.1h0M324.5 421.1h0M321.5 237.5h0M303.9 448.6h0M340.1 387.4h0M330.1 416.5h0M312 361.4h0M314.5 350.7h0M323.5 445.5h0M345.7 379.8h0M322 451.7h0M285.3 483.8h0M293.9 463.9h0M327.1 304.8h0M342.6 441h0M323.5 263.5h0M334.1 399.6h0M330.1 433.3h0M329.6 317h0M322 398.1h0M301.9 431.8h0M327.6 425.7h0M328.6 444h0M316.5 356.8h0M305.4 381.3h0M303.9 333.9h0M334.6 436.4h0M330.1 341.5h0M326.6 327.7h0M336.6 462.4h0M318 404.2h0M345.2 324.7h0M328.6 470h0M330.1 447.1h0M303.9 317h0M331.1 401.2h0M313 414.9h0M335.1 251.2h0M314.5 439.4h0M304.9 362.9h0M331.6 390.5h0M316 396.6h0M343.2 327.7h0M324 307.8h0M339.6 340h0M335.6 388.9h0M324 425.7h0M327.6 441h0M341.1 465.4h0M312 408.8h0M337.6 304.8h0M326.6 425.7h0M316 465.4h0M260.7 359.9h0M371.3 390.5h0M315.5 442.5h0M332.1 416.5h0M295.4 416.5h0M334.6 355.3h0M342.1 473.1h0M311.5 355.3h0M326.1 278.8h0M328.6 295.6h0M343.2 347.6h0M334.6 283.4h0M318.5 271.1h0M318 260.4h0M312.5 372.1h0M336.6 237.5h0M323.5 410.4h0M321.5 304.8h0M326.6 338.4h0M341.6 289.5h0M324.5 208.4h0M322 205.3h0M328.6 309.4h0M324 265h0M336.1 260.4h0M335.1 358.3h0M325 392h0M331.6 318.6h0M329.1 323.1h0M324.5 249.7h0M338.6 410.4h0M328.6 346.1h0M324 277.2h0M329.1 200.7h0M328.6 382.8h0M324.5 333.9h0M342.6 209.9h0M343.7 379.8h0M301.4 278.8h0M325.6 278.8h0M328.1 208.4h0M321 292.5h0M332.6 202.3h0M330.6 272.7h0M327.1 362.9h0M332.6 263.5h0M327.1 209.9h0M318.5 327.7h0M348.2 263.5h0M328.6 387.4h0M308.5 361.4h0M329.6 335.4h0M316.5 232.9h0M326.6 289.5h0M338.1 352.2h0M327.1 332.3h0M327.1 321.6h0M335.1 228.3h0M334.1 231.3h0M320.5 208.4h0M320.5 246.6h0M321.5 408.8h0M320 370.6h0M317 226.8h0M333.1 303.3h0M332.1 317h0M299.4 214.5h0M313.5 268.1h0M339.6 248.2h0M327.6 202.3h0M329.1 249.7h0M317.5 292.5h0M317 280.3h0M332.6 413.4h0M326.6 219.1h0M326.1 303.3h0M330.6 346.1h0M320.5 349.2h0M317.5 373.6h0M321 376.7h0M321 372.1h0M313 255.8h0M323.5 340h0M322.5 272.7h0M334.1 206.9h0M326.1 260.4h0M323 217.6h0M338.1 335.4h0M338.6 220.6h0M326.1 314h0M330.6 376.7h0M319.5 213h0M327.1 222.2h0M316.5 275.7h0M302.9 350.7h0M324.5 263.5h0M292.4 366h0M321 205.3h0M325.6 411.9h0M323.5 408.8h0M317 234.4h0M330.1 239h0M317.5 214.5h0M324 353.8h0M320 320.1h0M330.1 315.5h0M321.5 411.9h0M330.6 219.1h0M339.1 414.9h0M340.1 205.3h0M326.6 407.3h0M344.7 231.3h0M325 257.4h0M322 378.2h0M321.5 382.8h0M328.6 320.1h0M326.1 353.8h0M327.1 275.7h0M321.5 366h0M328.1 408.8h0M324.5 358.3h0M321 410.4h0M315 323.1h0M333.1 283.4h0M327.6 376.7h0M338.1 209.9h0M321.5 222.2h0M322 350.7h0M327.1 362.9h0M344.7 362.9h0M326.1 361.4h0M334.6 226.8h0M325 261.9h0M336.6 208.4h0M323 272.7h0M329.6 214.5h0M339.6 211.5h0M328.6 278.8h0M321 408.8h0M333.1 289.5h0M332.6 341.5h0M336.1 242.1h0M332.1 251.2h0M316.5 395.1h0M322.5 220.6h0M327.1 266.5h0M325 326.2h0M352.7 410.4h0M319.5 232.9h0M316.5 375.2h0M338.1 340h0M324 395.1h0M320.5 329.3h0M331.1 222.2h0M333.6 298.7h0M331.6 352.2h0M318.5 284.9h0M339.6 297.1h0M332.6 288h0M361.3 249.7h0M330.6 277.2h0M321 318.6h0M336.1 398.1h0M336.6 206.9h0M325.6 213h0M322.5 361.4h0M329.6 321.6h0M327.6 361.4h0M326.6 213h0M321.5 335.4h0M332.6 323.1h0M332.6 277.2h0M326.6 398.1h0M316 401.2h0M331.1 245.1h0M335.1 323.1h0M318.5 303.3h0M333.6 310.9h0M340.1 384.3h0M321 298.7h0M329.1 312.4h0M324.5 356.8h0M332.1 258.9h0M332.1 326.2h0M326.1 390.5h0M335.6 398.1h0M318.5 257.4h0M327.1 388.9h0M329.6 344.6h0M332.6 304.8h0M329.6 304.8h0M326.6 359.9h0M329.6 200.7h0M332.1 237.5h0M327.6 258.9h0M323.5 226.8h0M344.2 289.5h0M315.5 272.7h0M325 269.6h0M321.5 404.2h0M327.1 301.7h0M339.6 232.9h0M330.6 274.2h0M317 284.9h0M312 245.1h0M330.1 289.5h0M334.6 321.6h0M317.5 283.4h0M310.5 396.6h0M319.5 268.1h0M344.2 381.3h0M329.1 254.3h0M332.1 324.7h0M325.6 274.2h0M329.1 378.2h0M203.8 76.8h0M85.2 148.7h0M208.9 196.2h0M122.9 260.4h0M251.1 243.6h0M217.4 268.1h0M245.1 268.1h0M500.6 139.5h0M510.6 144.1h0M528.7 161h0M538.8 156.4h0M494 193.1h0M424.1 229.8h0M448.3 258.9h0M378.9 209.9h0M380.9 239h0M341.6 86h0M101.3 525.1h0M229 535.8h0M267.7 519h0M420.1 520.5h0M445.2 517.5h0M553.9 515.9h0M545.8 514.4h0M537.8 511.3h0M80.1 315.5h0M80.1 295.6h0M295.4 168.6h0M302.9 199.2h0M351.7 135h0M369.8 217.6h0M307.9 112h0M199.8 560.3h0M326.1 67.6h0M79.6 295.6h0M572.5 414.9h0" fill="none" stroke="#000" stroke-width="1.8" stroke-linecap="round"/>
<g clip-path="url(#c1)" fill="none" stroke-linecap="round" stroke-width="2.25" stroke-dasharray="9 9">
<path d="M59.76 496.04H592.19" stroke="#d32222"/>
<path d="M290.85 580.24V47.81" stroke="#006400"/>
<path d="M360.25 580.24V47.81" stroke="#006400"/>
</g>
<rect x="59.76" y="47.81" width="532.43" height="532.43" fill="none" stroke="#000" stroke-width=".75"/>
<path d="M124.39 580.24H526.71M124.39 580.24v5.98M224.97 580.24v5.98M325.55 580.24v5.98M426.13 580.24v5.98M526.71 580.24v5.98M59.76 514.4V55.4M59.76 514.4h-5.98M59.76 437.9h-5.98M59.76 361.4h-5.98M59.76 284.9h-5.98M59.76 208.4h-5.98M59.76 131.9h-5.98M59.76 55.4h-5.98" fill="none" stroke="#000" stroke-width=".75"/>
<text x="124.39" y="601.9" font-size="10.4" text-anchor="middle">-400</text>
<text x="224.97" y="601.9" font-size="10.4" text-anchor="middle">-200</text>
<text x="325.55" y="601.9" font-size="10.4" text-anchor="middle">0</text>
<text x="426.13" y="601.9" font-size="10.4" text-anchor="middle">200</text>
<text x="526.71" y="601.9" font-size="10.4" text-anchor="middle">400</text>
<text transform="translate(45 514.4) rotate(-90)" font-size="10.4" text-anchor="middle">70</text>
<text transform="translate(45 437.9) rotate(-90)" font-size="10.4" text-anchor="middle">75</text>
<text transform="translate(45 361.4) rotate(-90)" font-size="10.4" text-anchor="middle">80</text>
<text transform="translate(45 284.9) rotate(-90)" font-size="10.4" text-anchor="middle">85</text>
<text transform="translate(45 208.4) rotate(-90)" font-size="10.4" text-anchor="middle">90</text>
<text transform="translate(45 131.9) rotate(-90)" font-size="10.4" text-anchor="middle">95</text>
<text transform="translate(45 55.4) rotate(-90)" font-size="10.4" text-anchor="middle">100</text>
<text x="216.2" y="31.8" font-size="21.2" font-weight="bold" textLength="213.46" lengthAdjust="spacingAndGlyphs">Top hit for each peak</text>
<text x="239.8" y="625.6" font-size="15.9" textLength="173.59" lengthAdjust="spacingAndGlyphs">Distance to peak summit</text>
<text transform="translate(21.9 352.35) rotate(-90)" font-size="15.9" textLength="75.6" lengthAdjust="spacingAndGlyphs">Motif score</text>
</g>
<g id="p2">
<clipPath id="c2"><rect x="699.76" y="47.81" width="532.43" height="532.43"/></clipPath>
<defs><linearGradient id="h0" gradientUnits="userSpaceOnUse" x1="699" x2="1234" y1="0" y2="0"><stop offset="0" stop-color="#ffffff"/><stop offset=".3981" stop-color="#ffffff"/><stop offset=".4" stop-color="#fdfdff"/><stop offset=".4299" stop-color="#fbfbff"/><stop offset=".4897" stop-color="#e7e7ff"/><stop offset=".5103" stop-color="#e7e7ff"/><stop offset=".5701" stop-color="#fbfbff"/><stop offset=".6" stop-color="#fdfdff"/><stop offset=".6019" stop-color="#ffffff"/><stop offset="1" stop-color="#ffffff"/></linearGradient><linearGradient id="h1" gradientUnits="userSpaceOnUse" x1="699" x2="1234" y1="0" y2="0"><stop offset="0" stop-color="#ffffff"/><stop offset=".3944" stop-color="#ffffff"/><stop offset=".3963" stop-color="#fdfdff"/><stop offset=".415" stop-color="#fdfdff"/><stop offset=".4168" stop-color="#fbfbff"/><stop offset=".4336" stop-color="#f9f9ff"/><stop offset=".486" stop-color="#e3e3ff"/><stop offset=".5121" stop-color="#e3e3ff"/><stop offset=".5664" stop-color="#f9f9ff"/><stop offset=".5832" stop-color="#fbfbff"/><stop offset=".585" stop-color="#fdfdff"/><stop offset=".6037" stop-color="#fdfdff"/><stop offset=".6056" stop-color="#ffffff"/><stop offset="1" stop-color="#ffffff"/></linearGradient><linearGradient id="h2" gradientUnits="userSpaceOnUse" x1="699" x2="1234" y1="0" y2="0"><stop offset="0" stop-color="#ffffff"/><stop offset=".3907" stop-color="#ffffff"/><stop offset=".3925" stop-color="#fdfdff"/><stop offset=".4112" stop-color="#fdfdff"/><stop offset=".4131" stop-color="#fbfbff"/><stop offset=".4299" stop-color="#f9f9ff"/><stop offset=".4785" stop-color="#e1e1ff"/><stop offset=".4916" stop-color="#ddddff"/><stop offset=".5159" stop-color="#dfdfff"/><stop offset=".5495" stop-color="#f1f1ff"/><stop offset=".5701" stop-color="#f9f9ff"/><stop offset=".5869" stop-color="#fdfdff"/><stop offset=".6056" stop-color="#fdfdff"/><stop offset=".6075" stop-color="#ffffff"/><stop offset="1" stop-color="#ffffff"/></linearGradient><linearGradient id="h3" gradientUnits="userSpaceOnUse" x1="699" x2="1234" y1="0" y2="0"><stop offset="0" stop-color="#ffffff"/><stop offset=".3888" stop-color="#ffffff"/><stop offset=".3907" stop-color="#fdfdff"/><stop offset=".4093" stop-color="#fdfdff"/><stop offset=".4318" stop-color="#f7f7ff"/><stop offset=".4486" stop-color="#efefff"/><stop offset=".4654" stop-color="#e3e3ff"/><stop offset=".4916" stop-color="#d7d7ff"/><stop offset=".5084" stop-color="#d7d7ff"/><stop offset=".5196" stop-color="#dbdbff"/><stop offset=".5439" stop-color="#ebebff"/><stop offset=".5738" stop-color="#f9f9ff"/><stop offset=".5907" stop-color="#fdfdff"/><stop offset=".6093" stop-color="#fdfdff"/><stop offset=".6112" stop-color="#ffffff"/><stop offset="1" stop-color="#ffffff"/></linearGradient><linearGradient id="h4" gradientUnits="userSpaceOnUse" x1="699" x2="1234" y1="0" y2="0"><stop offset="0" stop-color="#ffffff"/><stop offset=".385" stop-color="#ffffff"/><stop offset=".3869" stop-color="#fdfdff"/><stop offset=".4056" stop-color="#fdfdff"/><stop offset=".428" stop-color="#f7f7ff"/><stop offset=".4505" stop-color="#ebebff"/><stop offset=".4766" stop-color="#d7d7ff"/><stop offset=".4897" stop-color="#d1d1ff"/><stop offset=".5103" stop-color="#d1d1ff"/><stop offset=".5196" stop-color="#d5d5ff"/><stop offset=".5551" stop-color="#efefff"/><stop offset=".5664" stop-color="#f5f5ff"/><stop offset=".5925" stop-color="#fdfdff"/><stop offset=".6112" stop-color="#fdfdff"/><stop offset=".6131" stop-color="#ffffff"/><stop offset="1" stop-color="#ffffff"/></linearGradient><linearGradient id="h5" gradientUnits="userSpaceOnUse" x1="699" x2="1234" y1="0" y2="0"><stop offset="0" stop-color="#ffffff"/><stop offset=".3832" stop-color="#ffffff"/><stop offset=".385" stop-color="#fdfdff"/><stop offset=".4037" stop-color="#fdfdff"/><stop offset=".4336" stop-color="#f3f3ff"/><stop offset=".4486" stop-color="#e9e9ff"/><stop offset=".471" stop-color="#d5d5ff"/><stop offset=".4916" stop-color="#c9c9ff"/><stop offset=".5121" stop-color="#cbcbff"/><stop offset=".5234" stop-color="#d1d1ff"/><stop offset=".5458" stop-color="#e5e5ff"/><stop offset=".5626" stop-color="#f1f1ff"/><stop offset=".5738" stop-color="#f7f7ff"/><stop offset=".5963" stop-color="#fdfdff"/><stop offset=".615" stop-color="#fdfdff"/><stop offset=".6168" stop-color="#ffffff"/><stop offset="1" stop-color="#ffffff"/></linearGradient><linearGradient id="h6" gradientUnits="userSpaceOnUse" x1="699" x2="1234" y1="0" y2="0"><stop offset="0" stop-color="#ffffff"/><stop offset=".3813" stop-color="#ffffff"/><stop offset=".3832" stop-color="#fdfdff"/><stop offset=".4019" stop-color="#fdfdff"/><stop offset=".4224" stop-color="#f7f7ff"/><stop offset=".4336" stop-color="#f1f1ff"/><stop offset=".4598" stop-color="#dbdbff"/><stop offset=".4729" stop-color="#cdcdff"/><stop offset=".4916" stop-color="#c1c1ff"/><stop offset=".5084" stop-color="#c1c1ff"/><stop offset=".5159" stop-color="#c5c5ff"/><stop offset=".5626" stop-color="#efefff"/><stop offset=".5776" stop-color="#f7f7ff"/><stop offset=".5981" stop-color="#fdfdff"/><stop offset=".6168" stop-color="#fdfdff"/><stop offset=".6187" stop-color="#ffffff"/><stop offset="1" stop-color="#ffffff"/></linearGradient><linearGradient id="h7" gradientUnits="userSpaceOnUse" x1="699" x2="1234" y1="0" y2="0"><stop offset="0" stop-color="#ffffff"/><stop offset=".3776" stop-color="#ffffff"/><stop offset=".3794" stop-color="#fdfdff"/><stop offset=".3981" stop-color="#fdfdff"/><stop offset=".415" stop-color="#f9f9ff"/><stop offset=".4336" stop-color="#efefff"/><stop offset=".4411" stop-color="#e9e9ff"/><stop offset=".4804" stop-color="#bfbfff"/><stop offset=".4953" stop-color="#b7b7ff"/><stop offset=".5047" stop-color="#b7b7ff"/><stop offset=".5215" stop-color="#c1c1ff"/><stop offset=".5607" stop-color="#ebebff"/><stop offset=".572" stop-color="#f3f3ff"/><stop offset=".6" stop-color="#fdfdff"/><stop offset=".6187" stop-color="#fdfdff"/><stop offset=".6206" stop-color="#ffffff"/><stop offset="1" stop-color="#ffffff"/></linearGradient><linearGradient id="h8" gradientUnits="userSpaceOnUse" x1="699" x2="1234" y1="0" y2="0"><stop offset="0" stop-color="#ffffff"/><stop offset=".3757" stop-color="#ffffff"/><stop offset=".3776" stop-color="#fdfdff"/><stop offset=".3963" stop-color="#fdfdff"/><stop offset=".4168" stop-color="#f7f7ff"/><stop offset=".4355" stop-color="#ebebff"/><stop offset=".4841" stop-color="#b3b3ff"/><stop offset=".4972" stop-color="#adadff"/><stop offset=".5084" stop-color="#afafff"/><stop offset=".5196" stop-color="#b7b7ff"/><stop offset=".529" stop-color="#c1c1ff"/><stop offset=".5421" stop-color="#d3d3ff"/><stop offset=".5664" stop-color="#ededff"/><stop offset=".5869" stop-color="#f9f9ff"/><stop offset=".6019" stop-color="#fdfdff"/><stop offset=".6206" stop-color="#fdfdff"/><stop offset=".6224" stop-color="#ffffff"/><stop offset="1" stop-color="#ffffff"/></linearGradient><linearGradient id="h9" gradientUnits="userSpaceOnUse" x1="699" x2="1234" y1="0" y2="0"><stop offset="0" stop-color="#ffffff"/><stop offset=".3738" stop-color="#ffffff"/><stop offset=".3757" stop-color="#fdfdff"/><stop offset=".3944" stop-color="#fdfdff"/><stop offset=".415" stop-color="#f7f7ff"/><stop offset=".428" stop-color="#efefff"/><stop offset=".4486" stop-color="#d9d9ff"/><stop offset=".4785" stop-color="#afafff"/><stop offset=".4953" stop-color="#a3a3ff"/><stop offset=".5047" stop-color="#a3a3ff"/><stop offset=".5121" stop-color="#a7a7ff"/><stop offset=".5271" stop-color="#b7b7ff"/><stop offset=".5477" stop-color="#d5d5ff"/><stop offset=".5645" stop-color="#e9e9ff"/><stop offset=".5888" stop-color="#f9f9ff"/><stop offset=".6037" stop-color="#fdfdff"/><stop offset=".6224" stop-color="#fdfdff"/><stop offset=".6243" stop-color="#ffffff"/><stop offset="1" stop-color="#ffffff"/></linearGradient><linearGradient id="h10" gradientUnits="userSpaceOnUse" x1="699" x2="1234" y1="0" y2="0"><stop offset="0" stop-color="#ffffff"/><stop offset=".372" stop-color="#ffffff"/><stop offset=".3738" stop-color="#fdfdff"/><stop offset=".3925" stop-color="#fdfdff"/><stop offset=".4131" stop-color="#f7f7ff"/><stop offset=".428" stop-color="#ededff"/><stop offset=".4467" stop-color="#d7d7ff"/><stop offset=".4804" stop-color="#a3a3ff"/><stop offset=".4972" stop-color="#9797ff"/><stop offset=".5103" stop-color="#9b9bff"/><stop offset=".5234" stop-color="#a9a9ff"/><stop offset=".557" stop-color="#ddddff"/><stop offset=".5738" stop-color="#efefff"/><stop offset=".5869" stop-color="#f7f7ff"/><stop offset=".6056" stop-color="#fdfdff"/><stop offset=".6243" stop-color="#fdfdff"/><stop offset=".6262" stop-color="#ffffff"/><stop offset="1" stop-color="#ffffff"/></linearGradient><linearGradient id="h11" gradientUnits="userSpaceOnUse" x1="699" x2="1234" y1="0" y2="0"><stop offset="0" stop-color="#ffffff"/><stop offset=".3701" stop-color="#ffffff"/><stop offset=".372" stop-color="#fdfdff"/><stop offset=".4" stop-color="#fbfbff"/><stop offset=".4206" stop-color="#f1f1ff"/><stop offset=".4411" stop-color="#dbdbff"/><stop offset=".4785" stop-color="#9b9bff"/><stop offset=".4897" stop-color="#8f8fff"/><stop offset=".4991" stop-color="#8b8bff"/><stop offset=".5065" stop-color="#8d8dff"/><stop offset=".5178" stop-color="#9797ff"/><stop offset=".5308" stop-color="#ababff"/><stop offset=".5458" stop-color="#c7c7ff"/><stop offset=".557" stop-color="#d9d9ff"/><stop offset=".5738" stop-color="#ededff"/><stop offset=".5888" stop-color="#f7f7ff"/><stop offset=".6075" stop-color="#fdfdff"/><stop offset=".6262" stop-color="#fdfdff"/><stop offset=".628" stop-color="#ffffff"/><stop offset="1" stop-color="#ffffff"/></linearGradient><linearGradient id="h12" gradientUnits="userSpaceOnUse" x1="699" x2="1234" y1="0" y2="0"><stop offset="0" stop-color="#ffffff"/><stop offset=".3682" stop-color="#ffffff"/><stop offset=".3701" stop-color="#fdfdff"/><stop offset=".3981" stop-color="#fbfbff"/><stop offset=".4187" stop-color="#f1f1ff"/><stop offset=".4355" stop-color="#dfdfff"/><stop offset=".4523" stop-color="#c3c3ff"/><stop offset=".4766" stop-color="#9393ff"/><stop offset=".4879" stop-color="#8585ff"/><stop offset=".4953" stop-color="#7f7fff"/><stop offset=".5028" stop-color="#7f7fff"/><stop offset=".5103" stop-color="#8383ff"/><stop offset=".5159" stop-color="#8989ff"/><stop offset=".5271" stop-color="#9b9bff"/><stop offset=".5458" stop-color="#c1c1ff"/><stop offset=".557" stop-color="#d5d5ff"/><stop offset=".5682" stop-color="#e5e5ff"/><stop offset=".5832" stop-color="#f3f3ff"/><stop offset=".5944" stop-color="#f9f9ff"/><stop offset=".6093" stop-color="#fdfdff"/><stop offset=".628" stop-color="#fdfdff"/><stop offset=".6299" stop-color="#ffffff"/><stop offset="1" stop-color="#ffffff"/></linearGradient><linearGradient id="h13" gradientUnits="userSpaceOnUse" x1="699" x2="1234" y1="0" y2="0"><stop offset="0" stop-color="#ffffff"/><stop offset=".3682" stop-color="#ffffff"/><stop offset=".3701" stop-color="#fdfdff"/><stop offset=".3963" stop-color="#fbfbff"/><stop offset=".4168" stop-color="#f1f1ff"/><stop offset=".4318" stop-color="#e1e1ff"/><stop offset=".4505" stop-color="#c1c1ff"/><stop offset=".4617" stop-color="#a7a7ff"/><stop offset=".4785" stop-color="#8585ff"/><stop offset=".4935" stop-color="#7373ff"/><stop offset=".4991" stop-color="#7171ff"/><stop offset=".5065" stop-color="#7373ff"/><stop offset=".5196" stop-color="#8383ff"/><stop offset=".5252" stop-color="#8d8dff"/><stop offset=".5551" stop-color="#cdcdff"/><stop offset=".5645" stop-color="#ddddff"/><stop offset=".5757" stop-color="#ebebff"/><stop offset=".585" stop-color="#f3f3ff"/><stop offset=".6019" stop-color="#fbfbff"/><stop offset=".6299" stop-color="#fdfdff"/><stop offset=".6318" stop-color="#ffffff"/><stop offset="1" stop-color="#ffffff"/></linearGradient><linearGradient id="h14" gradientUnits="userSpaceOnUse" x1="699" x2="1234" y1="0" y2="0"><stop offset="0" stop-color="#ffffff"/><stop offset=".3664" stop-color="#ffffff"/><stop offset=".3682" stop-color="#fdfdff"/><stop offset=".3944" stop-color="#fbfbff"/><stop offset=".415" stop-color="#f1f1ff"/><stop offset=".4299" stop-color="#e1e1ff"/><stop offset=".4467" stop-color="#c3c3ff"/><stop offset=".4673" stop-color="#9191ff"/><stop offset=".4804" stop-color="#7575ff"/><stop offset=".4935" stop-color="#6565ff"/><stop offset=".4991" stop-color="#6363ff"/><stop offset=".5084" stop-color="#6767ff"/><stop offset=".5178" stop-color="#7373ff"/><stop offset=".5346" stop-color="#9797ff"/><stop offset=".5495" stop-color="#bbbbff"/><stop offset=".5607" stop-color="#d3d3ff"/><stop offset=".5682" stop-color="#dfdfff"/><stop offset=".5776" stop-color="#ebebff"/><stop offset=".5869" stop-color="#f3f3ff"/><stop offset=".6037" stop-color="#fbfbff"/><stop offset=".6318" stop-color="#fdfdff"/><stop offset=".6336" stop-color="#ffffff"/><stop offset="1" stop-color="#ffffff"/></linearGradient><linearGradient id="h15" gradientUnits="userSpaceOnUse" x1="699" x2="1234" y1="0" y2="0"><stop offset="0" stop-color="#ffffff"/><stop offset=".3645" stop-color="#ffffff"/><stop offset=".3664" stop-color="#fdfdff"/><stop offset=".3944" stop-color="#fbfbff"/><stop offset=".4131" stop-color="#f1f1ff"/><stop offset=".4318" stop-color="#dbdbff"/><stop offset=".4467" stop-color="#bdbdff"/><stop offset=".4729" stop-color="#7979ff"/><stop offset=".4822" stop-color="#6565ff"/><stop offset=".4897" stop-color="#5b5bff"/><stop offset=".4972" stop-color="#5555ff"/><stop offset=".5065" stop-color="#5757ff"/><stop offset=".5159" stop-color="#6363ff"/><stop offset=".529" stop-color="#7f7fff"/><stop offset=".5383" stop-color="#9999ff"/><stop offset=".5551" stop-color="#c3c3ff"/><stop offset=".5701" stop-color="#dfdfff"/><stop offset=".5794" stop-color="#ebebff"/><stop offset=".5888" stop-color="#f3f3ff"/><stop offset=".6056" stop-color="#fbfbff"/><stop offset=".6336" stop-color="#fdfdff"/><stop offset=".6355" stop-color="#ffffff"/><stop offset=".8748" stop-color="#ffffff"/><stop offset=".8766" stop-color="#fdfdff"/><stop offset="1" stop-color="#ffffff"/></linearGradient><linearGradient id="h16" gradientUnits="userSpaceOnUse" x1="699" x2="1234" y1="0" y2="0"><stop offset="0" stop-color="#ffffff"/><stop offset=".3626" stop-color="#ffffff"/><stop offset=".3645" stop-color="#fdfdff"/><stop offset=".385" stop-color="#fdfdff"/><stop offset=".3981" stop-color="#f9f9ff"/><stop offset=".4093" stop-color="#f3f3ff"/><stop offset=".4262" stop-color="#e1e1ff"/><stop offset=".4299" stop-color="#dbdbff"/><stop offset=".4374" stop-color="#cdcdff"/><stop offset=".4467" stop-color="#b7b7ff"/><stop offset=".4692" stop-color="#7777ff"/><stop offset=".4785" stop-color="#5f5fff"/><stop offset=".486" stop-color="#5151ff"/><stop offset=".4953" stop-color="#4747ff"/><stop offset=".5047" stop-color="#4747ff"/><stop offset=".5159" stop-color="#5555ff"/><stop offset=".5234" stop-color="#6565ff"/><stop offset=".5533" stop-color="#b9b9ff"/><stop offset=".5682" stop-color="#d9d9ff"/><stop offset=".5813" stop-color="#ebebff"/><stop offset=".5963" stop-color="#f7f7ff"/><stop offset=".615" stop-color="#fdfdff"/><stop offset=".6336" stop-color="#fdfdff"/><stop offset=".6355" stop-color="#ffffff"/><stop offset=".8561" stop-color="#ffffff"/><stop offset=".8579" stop-color="#fdfdff"/><stop offset="1" stop-color="#ffffff"/></linearGradient><linearGradient id="h17" gradientUnits="userSpaceOnUse" x1="699" x2="1234" y1="0" y2="0"><stop offset="0" stop-color="#ffffff"/><stop offset=".3626" stop-color="#ffffff"/><stop offset=".3645" stop-color="#fdfdff"/><stop offset=".3832" stop-color="#fdfdff"/><stop offset=".4019" stop-color="#f7f7ff"/><stop offset=".4168" stop-color="#ebebff"/><stop offset=".428" stop-color="#dbdbff"/><stop offset=".4355" stop-color="#cdcdff"/><stop offset=".4523" stop-color="#a1a1ff"/><stop offset=".4673" stop-color="#7171ff"/><stop offset=".4766" stop-color="#5757ff"/><stop offset=".4879" stop-color="#3f3fff"/><stop offset=".4953" stop-color="#3737ff"/><stop offset=".5065" stop-color="#3939ff"/><stop offset=".5159" stop-color="#4747ff"/><stop offset=".5196" stop-color="#4f4fff"/><stop offset=".5346" stop-color="#7979ff"/><stop offset=".5533" stop-color="#b3b3ff"/><stop offset=".5701" stop-color="#d9d9ff"/><stop offset=".5776" stop-color="#e5e5ff"/><stop offset=".5888" stop-color="#f1f1ff"/><stop offset=".6019" stop-color="#f9f9ff"/><stop offset=".6168" stop-color="#fdfdff"/><stop offset=".6355" stop-color="#fdfdff"/><stop offset=".6374" stop-color="#ffffff"/><stop offset=".8449" stop-color="#ffffff"/><stop offset=".8467" stop-color="#fdfdff"/><stop offset="1" stop-color="#ffffff"/></linearGradient><linearGradient id="h18" gradientUnits="userSpaceOnUse" x1="699" x2="1234" y1="0" y2="0"><stop offset="0" stop-color="#ffffff"/><stop offset=".3607" stop-color="#ffffff"/><stop offset=".3626" stop-color="#fdfdff"/><stop offset=".3813" stop-color="#fdfdff"/><stop offset=".3963" stop-color="#f9f9ff"/><stop offset=".4093" stop-color="#f1f1ff"/><stop offset=".4187" stop-color="#e7e7ff"/><stop offset=".4318" stop-color="#d1d1ff"/><stop offset=".4467" stop-color="#ababff"/><stop offset=".4766" stop-color="#4949ff"/><stop offset=".486" stop-color="#3333ff"/><stop offset=".4916" stop-color="#2b2bff"/><stop offset=".4972" stop-color="#2727ff"/><stop offset=".5028" stop-color="#2727ff"/><stop offset=".5121" stop-color="#3131ff"/><stop offset=".5196" stop-color="#4141ff"/><stop offset=".5234" stop-color="#4b4bff"/><stop offset=".5533" stop-color="#adadff"/><stop offset=".5607" stop-color="#c1c1ff"/><stop offset=".5738" stop-color="#ddddff"/><stop offset=".5925" stop-color="#f3f3ff"/><stop offset=".6037" stop-color="#f9f9ff"/><stop offset=".6168" stop-color="#fdfdff"/><stop offset=".6355" stop-color="#fdfdff"/><stop offset=".6374" stop-color="#ffffff"/><stop offset=".8374" stop-color="#ffffff"/><stop offset=".8393" stop-color="#fdfdff"/><stop offset="1" stop-color="#ffffff"/></linearGradient><linearGradient id="h19" gradientUnits="userSpaceOnUse" x1="699" x2="1234" y1="0" y2="0"><stop offset="0" stop-color="#ffffff"/><stop offset=".3607" stop-color="#ffffff"/><stop offset=".3626" stop-color="#fdfdff"/><stop offset=".3813" stop-color="#fdfdff"/><stop offset=".3944" stop-color="#f9f9ff"/><stop offset=".4056" stop-color="#f3f3ff"/><stop offset=".4187" stop-color="#e5e5ff"/><stop offset=".4262" stop-color="#d9d9ff"/><stop offset=".4336" stop-color="#c9c9ff"/><stop offset=".4393" stop-color="#bbbbff"/><stop offset=".4542" stop-color="#8b8bff"/><stop offset=".4673" stop-color="#5b5bff"/><stop offset=".4804" stop-color="#3131ff"/><stop offset=".4879" stop-color="#2121ff"/><stop offset=".4953" stop-color="#1717ff"/><stop offset=".5028" stop-color="#1717ff"/><stop offset=".5103" stop-color="#1f1fff"/><stop offset=".5196" stop-color="#3333ff"/><stop offset=".5327" stop-color="#5d5dff"/><stop offset=".5439" stop-color="#8787ff"/><stop offset=".5589" stop-color="#b7b7ff"/><stop offset=".5664" stop-color="#cbcbff"/><stop offset=".5794" stop-color="#e3e3ff"/><stop offset=".6" stop-color="#f7f7ff"/><stop offset=".6187" stop-color="#fdfdff"/><stop offset=".6374" stop-color="#fdfdff"/><stop offset=".6393" stop-color="#ffffff"/><stop offset=".8299" stop-color="#ffffff"/><stop offset=".8318" stop-color="#fdfdff"/><stop offset="1" stop-color="#ffffff"/></linearGradient><linearGradient id="h20" gradientUnits="userSpaceOnUse" x1="699" x2="1234" y1="0" y2="0"><stop offset="0" stop-color="#ffffff"/><stop offset=".3589" stop-color="#ffffff"/><stop offset=".3607" stop-color="#fdfdff"/><stop offset=".3794" stop-color="#fdfdff"/><stop offset=".3944" stop-color="#f9f9ff"/><stop offset=".4037" stop-color="#f3f3ff"/><stop offset=".4187" stop-color="#e3e3ff"/><stop offset=".4336" stop-color="#c5c5ff"/><stop offset=".4505" stop-color="#9191ff"/><stop offset=".471" stop-color="#4141ff"/><stop offset=".4804" stop-color="#2323ff"/><stop offset=".4841" stop-color="#1919ff"/><stop offset=".4916" stop-color="#0b0bff"/><stop offset=".4991" stop-color="#0505ff"/><stop offset=".5065" stop-color="#0909ff"/><stop offset=".5178" stop-color="#1f1fff"/><stop offset=".5271" stop-color="#3d3dff"/><stop offset=".5495" stop-color="#9393ff"/><stop offset=".5664" stop-color="#c7c7ff"/><stop offset=".5757" stop-color="#dbdbff"/><stop offset=".5832" stop-color="#e7e7ff"/><stop offset=".5925" stop-color="#f1f1ff"/><stop offset=".6056" stop-color="#f9f9ff"/><stop offset=".6187" stop-color="#fdfdff"/><stop offset=".6374" stop-color="#fdfdff"/><stop offset=".6393" stop-color="#ffffff"/><stop offset=".8243" stop-color="#ffffff"/><stop offset=".8262" stop-color="#fdfdff"/><stop offset="1" stop-color="#ffffff"/></linearGradient><linearGradient id="h21" gradientUnits="userSpaceOnUse" x1="699" x2="1234" y1="0" y2="0"><stop offset="0" stop-color="#ffffff"/><stop offset=".3589" stop-color="#ffffff"/><stop offset=".3607" stop-color="#fdfdff"/><stop offset=".3794" stop-color="#fdfdff"/><stop offset=".3925" stop-color="#f9f9ff"/><stop offset=".4056" stop-color="#f1f1ff"/><stop offset=".415" stop-color="#e7e7ff"/><stop offset=".4224" stop-color="#dbdbff"/><stop offset=".4299" stop-color="#cbcbff"/><stop offset=".4374" stop-color="#b7b7ff"/><stop offset=".443" stop-color="#a5a5ff"/><stop offset=".4561" stop-color="#7373ff"/><stop offset=".4729" stop-color="#2d2dff"/><stop offset=".4841" stop-color="#0909ff"/><stop offset=".4879" stop-color="#0101ff"/><stop offset=".4897" stop-color="#0300fc"/><stop offset=".4972" stop-color="#0b00f4"/><stop offset=".5009" stop-color="#0b00f4"/><stop offset=".5047" stop-color="#0900f6"/><stop offset=".5103" stop-color="#0100fe"/><stop offset=".5159" stop-color="#0b0bff"/><stop offset=".5252" stop-color="#2929ff"/><stop offset=".5383" stop-color="#5d5dff"/><stop offset=".5477" stop-color="#8585ff"/><stop offset=".5626" stop-color="#b9b9ff"/><stop offset=".572" stop-color="#d1d1ff"/><stop offset=".5832" stop-color="#e5e5ff"/><stop offset=".6019" stop-color="#f7f7ff"/><stop offset=".6206" stop-color="#fdfdff"/><stop offset=".6393" stop-color="#fdfdff"/><stop offset=".6411" stop-color="#ffffff"/><stop offset=".8206" stop-color="#ffffff"/><stop offset=".8224" stop-color="#fdfdff"/><stop offset="1" stop-color="#ffffff"/></linearGradient><linearGradient id="h22" gradientUnits="userSpaceOnUse" x1="699" x2="1234" y1="0" y2="0"><stop offset="0" stop-color="#ffffff"/><stop offset=".357" stop-color="#ffffff"/><stop offset=".3589" stop-color="#fdfdff"/><stop offset=".3776" stop-color="#fdfdff"/><stop offset=".3925" stop-color="#f9f9ff"/><stop offset=".4019" stop-color="#f3f3ff"/><stop offset=".415" stop-color="#e5e5ff"/><stop offset=".4243" stop-color="#d5d5ff"/><stop offset=".4336" stop-color="#bdbdff"/><stop offset=".4467" stop-color="#9191ff"/><stop offset=".4748" stop-color="#1919ff"/><stop offset=".4785" stop-color="#0b0bff"/><stop offset=".4822" stop-color="#0100fe"/><stop offset=".486" stop-color="#0b00f4"/><stop offset=".4935" stop-color="#1900e6"/><stop offset=".5028" stop-color="#1b00e4"/><stop offset=".5084" stop-color="#1500ea"/><stop offset=".5159" stop-color="#0300fc"/><stop offset=".5178" stop-color="#0101ff"/><stop offset=".5271" stop-color="#2323ff"/><stop offset=".5495" stop-color="#8585ff"/><stop offset=".557" stop-color="#a1a1ff"/><stop offset=".5664" stop-color="#bfbfff"/><stop offset=".5794" stop-color="#ddddff"/><stop offset=".5888" stop-color="#ebebff"/><stop offset=".5944" stop-color="#f1f1ff"/><stop offset=".6075" stop-color="#f9f9ff"/><stop offset=".6206" stop-color="#fdfdff"/><stop offset=".6393" stop-color="#fdfdff"/><stop offset=".6411" stop-color="#ffffff"/><stop offset=".8168" stop-color="#ffffff"/><stop offset=".8206" stop-color="#fdfdff"/><stop offset="1" stop-color="#ffffff"/></linearGradient><linearGradient id="h23" gradientUnits="userSpaceOnUse" x1="699" x2="1234" y1="0" y2="0"><stop offset="0" stop-color="#ffffff"/><stop offset=".357" stop-color="#ffffff"/><stop offset=".3589" stop-color="#fdfdff"/><stop offset=".3776" stop-color="#fdfdff"/><stop offset=".3907" stop-color="#f9f9ff"/><stop offset=".4037" stop-color="#f1f1ff"/><stop offset=".4112" stop-color="#e9e9ff"/><stop offset=".4187" stop-color="#ddddff"/><stop offset=".4318" stop-color="#bfbfff"/><stop offset=".443" stop-color="#9999ff"/><stop offset=".4561" stop-color="#6161ff"/><stop offset=".4692" stop-color="#2323ff"/><stop offset=".4748" stop-color="#0b0bff"/><stop offset=".4766" stop-color="#0505ff"/><stop offset=".4785" stop-color="#0300fc"/><stop offset=".486" stop-color="#1b00e4"/><stop offset=".4916" stop-color="#2700d8"/><stop offset=".4953" stop-color="#2b00d4"/><stop offset=".5009" stop-color="#2d00d2"/><stop offset=".5084" stop-color="#2500da"/><stop offset=".514" stop-color="#1900e6"/><stop offset=".5215" stop-color="#0100fe"/><stop offset=".5234" stop-color="#0707ff"/><stop offset=".5327" stop-color="#2f2fff"/><stop offset=".5458" stop-color="#6d6dff"/><stop offset=".5533" stop-color="#8d8dff"/><stop offset=".5589" stop-color="#a3a3ff"/><stop offset=".5682" stop-color="#c1c1ff"/><stop offset=".5794" stop-color="#dbdbff"/><stop offset=".5869" stop-color="#e7e7ff"/><stop offset=".6037" stop-color="#f7f7ff"/><stop offset=".6224" stop-color="#fdfdff"/><stop offset=".6411" stop-color="#fdfdff"/><stop offset=".643" stop-color="#ffffff"/><stop offset=".8131" stop-color="#ffffff"/><stop offset=".8187" stop-color="#fdfdff"/><stop offset="1" stop-color="#ffffff"/></linearGradient><linearGradient id="h24" gradientUnits="userSpaceOnUse" x1="699" x2="1234" y1="0" y2="0"><stop offset="0" stop-color="#ffffff"/><stop offset=".357" stop-color="#ffffff"/><stop offset=".3589" stop-color="#fdfdff"/><stop offset=".3776" stop-color="#fdfdff"/><stop offset=".3944" stop-color="#f7f7ff"/><stop offset=".4131" stop-color="#e5e5ff"/><stop offset=".4187" stop-color="#dbdbff"/><stop offset=".4299" stop-color="#c1c1ff"/><stop offset=".4411" stop-color="#9b9bff"/><stop offset=".4505" stop-color="#7373ff"/><stop offset=".4692" stop-color="#1717ff"/><stop offset=".4748" stop-color="#0100fe"/><stop offset=".4804" stop-color="#1900e6"/><stop offset=".486" stop-color="#2b00d4"/><stop offset=".4935" stop-color="#3900c6"/><stop offset=".4972" stop-color="#3d00c2"/><stop offset=".5028" stop-color="#3d00c2"/><stop offset=".5065" stop-color="#3900c6"/><stop offset=".514" stop-color="#2900d6"/><stop offset=".5178" stop-color="#1d00e2"/><stop offset=".5252" stop-color="#0101ff"/><stop offset=".5327" stop-color="#2323ff"/><stop offset=".5364" stop-color="#3737ff"/><stop offset=".5533" stop-color="#8787ff"/><stop offset=".5626" stop-color="#ababff"/><stop offset=".5701" stop-color="#c3c3ff"/><stop offset=".5813" stop-color="#ddddff"/><stop offset=".5907" stop-color="#ebebff"/><stop offset=".5963" stop-color="#f1f1ff"/><stop offset=".6093" stop-color="#f9f9ff"/><stop offset=".6224" stop-color="#fdfdff"/><stop offset=".6411" stop-color="#fdfdff"/><stop offset=".643" stop-color="#ffffff"/><stop offset=".8112" stop-color="#ffffff"/><stop offset=".8187" stop-color="#fdfdff"/><stop offset=".9645" stop-color="#fdfdff"/><stop offset=".9664" stop-color="#ffffff"/><stop offset="1" stop-color="#ffffff"/></linearGradient><linearGradient id="h25" gradientUnits="userSpaceOnUse" x1="699" x2="1234" y1="0" y2="0"><stop offset="0" stop-color="#ffffff"/><stop offset=".3551" stop-color="#ffffff"/><stop offset=".357" stop-color="#fdfdff"/><stop offset=".3757" stop-color="#fdfdff"/><stop offset=".3963" stop-color="#f5f5ff"/><stop offset=".4093" stop-color="#e9e9ff"/><stop offset=".4168" stop-color="#ddddff"/><stop offset=".428" stop-color="#c3c3ff"/><stop offset=".4355" stop-color="#ababff"/><stop offset=".4467" stop-color="#7d7dff"/><stop offset=".471" stop-color="#0303ff"/><stop offset=".4729" stop-color="#0700f8"/><stop offset=".4841" stop-color="#3500ca"/><stop offset=".4916" stop-color="#4700b8"/><stop offset=".4991" stop-color="#4f00b0"/><stop offset=".5065" stop-color="#4900b6"/><stop offset=".5121" stop-color="#3d00c2"/><stop offset=".5196" stop-color="#2500da"/><stop offset=".5271" stop-color="#0300fc"/><stop offset=".529" stop-color="#0505ff"/><stop offset=".5439" stop-color="#5353ff"/><stop offset=".5551" stop-color="#8989ff"/><stop offset=".5626" stop-color="#a7a7ff"/><stop offset=".572" stop-color="#c5c5ff"/><stop offset=".5813" stop-color="#dbdbff"/><stop offset=".5888" stop-color="#e7e7ff"/><stop offset=".6" stop-color="#f3f3ff"/><stop offset=".6093" stop-color="#f9f9ff"/><stop offset=".6224" stop-color="#fdfdff"/><stop offset=".6411" stop-color="#fdfdff"/><stop offset=".643" stop-color="#ffffff"/><stop offset=".8075" stop-color="#ffffff"/><stop offset=".8093" stop-color="#fdfdff"/><stop offset=".8187" stop-color="#fdfdff"/><stop offset=".9664" stop-color="#fdfdff"/><stop offset=".9682" stop-color="#ffffff"/><stop offset="1" stop-color="#ffffff"/></linearGradient><linearGradient id="h26" gradientUnits="userSpaceOnUse" x1="699" x2="1234" y1="0" y2="0"><stop offset="0" stop-color="#ffffff"/><stop offset=".3551" stop-color="#ffffff"/><stop offset=".357" stop-color="#fdfdff"/><stop offset=".3757" stop-color="#fdfdff"/><stop offset=".3963" stop-color="#f5f5ff"/><stop offset=".4112" stop-color="#e5e5ff"/><stop offset=".415" stop-color="#dfdfff"/><stop offset=".4262" stop-color="#c5c5ff"/><stop offset=".4355" stop-color="#a7a7ff"/><stop offset=".4467" stop-color="#7777ff"/><stop offset=".4542" stop-color="#5151ff"/><stop offset=".4673" stop-color="#0909ff"/><stop offset=".4692" stop-color="#0100fe"/><stop offset=".4748" stop-color="#1d00e2"/><stop offset=".4822" stop-color="#3d00c2"/><stop offset=".4879" stop-color="#4f00b0"/><stop offset=".4935" stop-color="#5b00a4"/><stop offset=".5009" stop-color="#5f00a0"/><stop offset=".5065" stop-color="#5900a6"/><stop offset=".5121" stop-color="#4d00b2"/><stop offset=".5178" stop-color="#3b00c4"/><stop offset=".5234" stop-color="#2300dc"/><stop offset=".529" stop-color="#0700f8"/><stop offset=".5308" stop-color="#0303ff"/><stop offset=".5514" stop-color="#7171ff"/><stop offset=".5551" stop-color="#8383ff"/><stop offset=".5645" stop-color="#a9a9ff"/><stop offset=".5738" stop-color="#c7c7ff"/><stop offset=".5832" stop-color="#ddddff"/><stop offset=".5907" stop-color="#e9e9ff"/><stop offset=".5981" stop-color="#f1f1ff"/><stop offset=".6112" stop-color="#f9f9ff"/><stop offset=".6243" stop-color="#fdfdff"/><stop offset=".643" stop-color="#fdfdff"/><stop offset=".6449" stop-color="#ffffff"/><stop offset=".8056" stop-color="#ffffff"/><stop offset=".8075" stop-color="#fdfdff"/><stop offset=".886" stop-color="#fdfdff"/><stop offset=".8879" stop-color="#fbfbff"/><stop offset=".8972" stop-color="#fdfdff"/><stop offset="1" stop-color="#ffffff"/></linearGradient><linearGradient id="h27" gradientUnits="userSpaceOnUse" x1="699" x2="1234" y1="0" y2="0"><stop offset="0" stop-color="#ffffff"/><stop offset=".3551" stop-color="#ffffff"/><stop offset=".357" stop-color="#fdfdff"/><stop offset=".3757" stop-color="#fdfdff"/><stop offset=".3925" stop-color="#f7f7ff"/><stop offset=".4056" stop-color="#ebebff"/><stop offset=".4131" stop-color="#e1e1ff"/><stop offset=".4224" stop-color="#cdcdff"/><stop offset=".4318" stop-color="#b1b1ff"/><stop offset=".4411" stop-color="#8b8bff"/><stop offset=".4486" stop-color="#6767ff"/><stop offset=".4636" stop-color="#1313ff"/><stop offset=".4654" stop-color="#0909ff"/><stop offset=".4673" stop-color="#0300fc"/><stop offset=".4766" stop-color="#3300cc"/><stop offset=".486" stop-color="#5900a6"/><stop offset=".4897" stop-color="#63009c"/><stop offset=".4953" stop-color="#6d0092"/><stop offset=".5009" stop-color="#6f0090"/><stop offset=".5065" stop-color="#690096"/><stop offset=".514" stop-color="#5700a8"/><stop offset=".5215" stop-color="#3900c6"/><stop offset=".5327" stop-color="#0101ff"/><stop offset=".5477" stop-color="#5757ff"/><stop offset=".5551" stop-color="#7d7dff"/><stop offset=".5645" stop-color="#a5a5ff"/><stop offset=".5738" stop-color="#c5c5ff"/><stop offset=".5832" stop-color="#dbdbff"/><stop offset=".5888" stop-color="#e5e5ff"/><stop offset=".6037" stop-color="#f5f5ff"/><stop offset=".6112" stop-color="#f9f9ff"/><stop offset=".6243" stop-color="#fdfdff"/><stop offset=".643" stop-color="#fdfdff"/><stop offset=".6449" stop-color="#ffffff"/><stop offset=".8037" stop-color="#ffffff"/><stop offset=".8056" stop-color="#fdfdff"/><stop offset=".8729" stop-color="#fdfdff"/><stop offset=".8748" stop-color="#fbfbff"/><stop offset="1" stop-color="#ffffff"/></linearGradient><linearGradient id="h28" gradientUnits="userSpaceOnUse" x1="699" x2="1234" y1="0" y2="0"><stop offset="0" stop-color="#ffffff"/><stop offset=".3551" stop-color="#ffffff"/><stop offset=".357" stop-color="#fdfdff"/><stop offset=".3738" stop-color="#fdfdff"/><stop offset=".3944" stop-color="#f5f5ff"/><stop offset=".4056" stop-color="#ebebff"/><stop offset=".4112" stop-color="#e3e3ff"/><stop offset=".4224" stop-color="#cbcbff"/><stop offset=".4318" stop-color="#adadff"/><stop offset=".4355" stop-color="#9f9fff"/><stop offset=".443" stop-color="#7d7dff"/><stop offset=".4542" stop-color="#4141ff"/><stop offset=".4617" stop-color="#1313ff"/><stop offset=".4636" stop-color="#0909ff"/><stop offset=".4654" stop-color="#0300fc"/><stop offset=".4766" stop-color="#4100be"/><stop offset=".4841" stop-color="#61009e"/><stop offset=".4916" stop-color="#770088"/><stop offset=".5009" stop-color="#7f0080"/><stop offset=".5065" stop-color="#790086"/><stop offset=".5103" stop-color="#71008e"/><stop offset=".5159" stop-color="#5f00a0"/><stop offset=".5234" stop-color="#3d00c2"/><stop offset=".5327" stop-color="#0900f6"/><stop offset=".5346" stop-color="#0101ff"/><stop offset=".5458" stop-color="#4545ff"/><stop offset=".5551" stop-color="#7777ff"/><stop offset=".5664" stop-color="#a9a9ff"/><stop offset=".5776" stop-color="#cdcdff"/><stop offset=".5869" stop-color="#e1e1ff"/><stop offset=".6019" stop-color="#f3f3ff"/><stop offset=".6112" stop-color="#f9f9ff"/><stop offset=".6243" stop-color="#fdfdff"/><stop offset=".643" stop-color="#fdfdff"/><stop offset=".6449" stop-color="#ffffff"/><stop offset=".8019" stop-color="#ffffff"/><stop offset=".8037" stop-color="#fdfdff"/><stop offset=".8673" stop-color="#fdfdff"/><stop offset=".8692" stop-color="#fbfbff"/><stop offset="1" stop-color="#ffffff"/></linearGradient><linearGradient id="h29" gradientUnits="userSpaceOnUse" x1="699" x2="1234" y1="0" y2="0"><stop offset="0" stop-color="#ffffff"/><stop offset=".3533" stop-color="#ffffff"/><stop offset=".3551" stop-color="#fdfdff"/><stop offset=".3738" stop-color="#fdfdff"/><stop offset=".3944" stop-color="#f5f5ff"/><stop offset=".4075" stop-color="#e7e7ff"/><stop offset=".4168" stop-color="#d7d7ff"/><stop offset=".4224" stop-color="#c9c9ff"/><stop offset=".4299" stop-color="#b1b1ff"/><stop offset=".4355" stop-color="#9b9bff"/><stop offset=".4411" stop-color="#8181ff"/><stop offset=".4505" stop-color="#4f4fff"/><stop offset=".4636" stop-color="#0100fe"/><stop offset=".4729" stop-color="#3900c6"/><stop offset=".4785" stop-color="#5700a8"/><stop offset=".4841" stop-color="#6f0090"/><stop offset=".4897" stop-color="#81007e"/><stop offset=".4935" stop-color="#890076"/><stop offset=".4972" stop-color="#8d0072"/><stop offset=".5028" stop-color="#8d0072"/><stop offset=".5103" stop-color="#7f0080"/><stop offset=".5178" stop-color="#65009a"/><stop offset=".529" stop-color="#2b00d4"/><stop offset=".5346" stop-color="#0900f6"/><stop offset=".5364" stop-color="#0303ff"/><stop offset=".5495" stop-color="#5353ff"/><stop offset=".5589" stop-color="#8585ff"/><stop offset=".5682" stop-color="#adadff"/><stop offset=".5776" stop-color="#cbcbff"/><stop offset=".5888" stop-color="#e3e3ff"/><stop offset=".5944" stop-color="#ebebff"/><stop offset=".6056" stop-color="#f5f5ff"/><stop offset=".6168" stop-color="#fbfbff"/><stop offset=".643" stop-color="#fdfdff"/><stop offset=".6449" stop-color="#ffffff"/><stop offset=".8019" stop-color="#ffffff"/><stop offset=".8037" stop-color="#fdfdff"/><stop offset=".8636" stop-color="#fdfdff"/><stop offset=".8654" stop-color="#fbfbff"/><stop offset="1" stop-color="#ffffff"/></linearGradient><linearGradient id="h30" gradientUnits="userSpaceOnUse" x1="699" x2="1234" y1="0" y2="0"><stop offset="0" stop-color="#ffffff"/><stop offset=".3533" stop-color="#ffffff"/><stop offset=".3551" stop-color="#fdfdff"/><stop offset=".3738" stop-color="#fdfdff"/><stop offset=".3907" stop-color="#f7f7ff"/><stop offset=".4056" stop-color="#e9e9ff"/><stop offset=".4131" stop-color="#ddddff"/><stop offset=".4187" stop-color="#d1d1ff"/><stop offset=".428" stop-color="#b5b5ff"/><stop offset=".4336" stop-color="#9f9fff"/><stop offset=".4411" stop-color="#7d7dff"/><stop offset=".4505" stop-color="#4949ff"/><stop offset=".4617" stop-color="#0101ff"/><stop offset=".4636" stop-color="#0b00f4"/><stop offset=".4729" stop-color="#4500ba"/><stop offset=".4785" stop-color="#63009c"/><stop offset=".4841" stop-color="#7d0082"/><stop offset=".4897" stop-color="#8f0070"/><stop offset=".4935" stop-color="#970068"/><stop offset=".5009" stop-color="#9d0062"/><stop offset=".5047" stop-color="#990066"/><stop offset=".5103" stop-color="#8d0072"/><stop offset=".514" stop-color="#81007e"/><stop offset=".5196" stop-color="#690096"/><stop offset=".5271" stop-color="#4100be"/><stop offset=".5364" stop-color="#0700f8"/><stop offset=".5383" stop-color="#0505ff"/><stop offset=".5495" stop-color="#4d4dff"/><stop offset=".5551" stop-color="#6d6dff"/><stop offset=".5607" stop-color="#8989ff"/><stop offset=".5701" stop-color="#b1b1ff"/><stop offset=".5776" stop-color="#c9c9ff"/><stop offset=".585" stop-color="#dbdbff"/><stop offset=".5907" stop-color="#e5e5ff"/><stop offset=".6056" stop-color="#f5f5ff"/><stop offset=".6131" stop-color="#f9f9ff"/><stop offset=".6262" stop-color="#fdfdff"/><stop offset=".6449" stop-color="#fdfdff"/><stop offset=".6467" stop-color="#ffffff"/><stop offset=".8" stop-color="#ffffff"/><stop offset=".8019" stop-color="#fdfdff"/><stop offset=".8617" stop-color="#fdfdff"/><stop offset=".8636" stop-color="#fbfbff"/><stop offset=".9196" stop-color="#fbfbff"/><stop offset=".9215" stop-color="#fdfdff"/><stop offset="1" stop-color="#ffffff"/></linearGradient><linearGradient id="h31" gradientUnits="userSpaceOnUse" x1="699" x2="1234" y1="0" y2="0"><stop offset="0" stop-color="#ffffff"/><stop offset=".3533" stop-color="#ffffff"/><stop offset=".3551" stop-color="#fdfdff"/><stop offset=".3813" stop-color="#fbfbff"/><stop offset=".3925" stop-color="#f5f5ff"/><stop offset=".4037" stop-color="#ebebff"/><stop offset=".4093" stop-color="#e3e3ff"/><stop offset=".4187" stop-color="#cfcfff"/><stop offset=".4262" stop-color="#b9b9ff"/><stop offset=".4374" stop-color="#8b8bff"/><stop offset=".4467" stop-color="#5959ff"/><stop offset=".4523" stop-color="#3737ff"/><stop offset=".4598" stop-color="#0505ff"/><stop offset=".4617" stop-color="#0700f8"/><stop offset=".4692" stop-color="#3900c6"/><stop offset=".4748" stop-color="#5b00a4"/><stop offset=".4804" stop-color="#790086"/><stop offset=".486" stop-color="#91006e"/><stop offset=".4897" stop-color="#9d0062"/><stop offset=".4935" stop-color="#a5005a"/><stop offset=".5009" stop-color="#ab0054"/><stop offset=".5047" stop-color="#a70058"/><stop offset=".5103" stop-color="#9b0064"/><stop offset=".5159" stop-color="#870078"/><stop offset=".5252" stop-color="#5700a8"/><stop offset=".5383" stop-color="#0300fc"/><stop offset=".5402" stop-color="#0909ff"/><stop offset=".5421" stop-color="#1717ff"/><stop offset=".5533" stop-color="#5d5dff"/><stop offset=".5645" stop-color="#9797ff"/><stop offset=".572" stop-color="#b5b5ff"/><stop offset=".5813" stop-color="#d1d1ff"/><stop offset=".5888" stop-color="#e1e1ff"/><stop offset=".6037" stop-color="#f3f3ff"/><stop offset=".6131" stop-color="#f9f9ff"/><stop offset=".6262" stop-color="#fdfdff"/><stop offset=".6449" stop-color="#fdfdff"/><stop offset=".6467" stop-color="#ffffff"/><stop offset=".8" stop-color="#ffffff"/><stop offset=".8019" stop-color="#fdfdff"/><stop offset=".8617" stop-color="#fdfdff"/><stop offset=".8636" stop-color="#fbfbff"/><stop offset=".9196" stop-color="#fbfbff"/><stop offset=".9215" stop-color="#fdfdff"/><stop offset="1" stop-color="#ffffff"/></linearGradient><linearGradient id="h32" gradientUnits="userSpaceOnUse" x1="699" x2="1234" y1="0" y2="0"><stop offset="0" stop-color="#ffffff"/><stop offset=".3514" stop-color="#ffffff"/><stop offset=".3533" stop-color="#fdfdff"/><stop offset=".372" stop-color="#fdfdff"/><stop offset=".3925" stop-color="#f5f5ff"/><stop offset=".4075" stop-color="#e5e5ff"/><stop offset=".4131" stop-color="#dbdbff"/><stop offset=".4224" stop-color="#c3c3ff"/><stop offset=".4262" stop-color="#b7b7ff"/><stop offset=".4336" stop-color="#9999ff"/><stop offset=".4449" stop-color="#5f5fff"/><stop offset=".4505" stop-color="#3d3dff"/><stop offset=".4579" stop-color="#0b0bff"/><stop offset=".4598" stop-color="#0300fc"/><stop offset=".4748" stop-color="#65009a"/><stop offset=".4785" stop-color="#7b0084"/><stop offset=".4822" stop-color="#8d0072"/><stop offset=".486" stop-color="#9d0062"/><stop offset=".4897" stop-color="#a90056"/><stop offset=".4953" stop-color="#b5004a"/><stop offset=".5009" stop-color="#b70048"/><stop offset=".5084" stop-color="#ad0052"/><stop offset=".5159" stop-color="#93006c"/><stop offset=".5196" stop-color="#81007e"/><stop offset=".5252" stop-color="#61009e"/><stop offset=".5383" stop-color="#0b00f4"/><stop offset=".5402" stop-color="#0303ff"/><stop offset=".5514" stop-color="#4d4dff"/><stop offset=".5551" stop-color="#6363ff"/><stop offset=".5626" stop-color="#8b8bff"/><stop offset=".5738" stop-color="#b9b9ff"/><stop offset=".5813" stop-color="#cfcfff"/><stop offset=".5907" stop-color="#e3e3ff"/><stop offset=".5963" stop-color="#ebebff"/><stop offset=".6093" stop-color="#f7f7ff"/><stop offset=".6262" stop-color="#fdfdff"/><stop offset=".6449" stop-color="#fdfdff"/><stop offset=".6467" stop-color="#ffffff"/><stop offset=".8" stop-color="#ffffff"/><stop offset=".8019" stop-color="#fdfdff"/><stop offset=".8598" stop-color="#fdfdff"/><stop offset=".8617" stop-color="#fbfbff"/><stop offset=".9196" stop-color="#fbfbff"/><stop offset=".9215" stop-color="#fdfdff"/><stop offset="1" stop-color="#ffffff"/></linearGradient><linearGradient id="h33" gradientUnits="userSpaceOnUse" x1="699" x2="1234" y1="0" y2="0"><stop offset="0" stop-color="#ffffff"/><stop offset=".3514" stop-color="#ffffff"/><stop offset=".3533" stop-color="#fdfdff"/><stop offset=".372" stop-color="#fdfdff"/><stop offset=".3925" stop-color="#f5f5ff"/><stop offset=".4093" stop-color="#e1e1ff"/><stop offset=".4168" stop-color="#d1d1ff"/><stop offset=".4262" stop-color="#b5b5ff"/><stop offset=".4355" stop-color="#8d8dff"/><stop offset=".443" stop-color="#6565ff"/><stop offset=".4523" stop-color="#2b2bff"/><stop offset=".4579" stop-color="#0303ff"/><stop offset=".4598" stop-color="#0900f6"/><stop offset=".4673" stop-color="#3f00c0"/><stop offset=".4766" stop-color="#7b0084"/><stop offset=".4822" stop-color="#990066"/><stop offset=".486" stop-color="#a90056"/><stop offset=".4897" stop-color="#b5004a"/><stop offset=".4953" stop-color="#c1003e"/><stop offset=".5028" stop-color="#c3003c"/><stop offset=".5084" stop-color="#b90046"/><stop offset=".5121" stop-color="#ad0052"/><stop offset=".5178" stop-color="#95006a"/><stop offset=".5252" stop-color="#6b0094"/><stop offset=".5308" stop-color="#4700b8"/><stop offset=".5402" stop-color="#0500fa"/><stop offset=".5421" stop-color="#0909ff"/><stop offset=".5477" stop-color="#2f2fff"/><stop offset=".557" stop-color="#6969ff"/><stop offset=".5645" stop-color="#9191ff"/><stop offset=".5738" stop-color="#b7b7ff"/><stop offset=".5794" stop-color="#c9c9ff"/><stop offset=".5888" stop-color="#dfdfff"/><stop offset=".5981" stop-color="#ededff"/><stop offset=".6075" stop-color="#f5f5ff"/><stop offset=".6187" stop-color="#fbfbff"/><stop offset=".6467" stop-color="#fdfdff"/><stop offset=".6486" stop-color="#ffffff"/><stop offset=".7981" stop-color="#ffffff"/><stop offset=".8" stop-color="#fdfdff"/><stop offset=".8617" stop-color="#fdfdff"/><stop offset=".8636" stop-color="#fbfbff"/><stop offset=".9196" stop-color="#fbfbff"/><stop offset=".9215" stop-color="#fdfdff"/><stop offset="1" stop-color="#ffffff"/></linearGradient><linearGradient id="h34" gradientUnits="userSpaceOnUse" x1="699" x2="1234" y1="0" y2="0"><stop offset="0" stop-color="#ffffff"/><stop offset=".3514" stop-color="#ffffff"/><stop offset=".3533" stop-color="#fdfdff"/><stop offset=".372" stop-color="#fdfdff"/><stop offset=".3888" stop-color="#f7f7ff"/><stop offset=".4037" stop-color="#e9e9ff"/><stop offset=".4131" stop-color="#d9d9ff"/><stop offset=".4187" stop-color="#cbcbff"/><stop offset=".4262" stop-color="#b3b3ff"/><stop offset=".4336" stop-color="#9393ff"/><stop offset=".4393" stop-color="#7777ff"/><stop offset=".4467" stop-color="#4b4bff"/><stop offset=".4561" stop-color="#0b0bff"/><stop offset=".4579" stop-color="#0300fc"/><stop offset=".4673" stop-color="#4700b8"/><stop offset=".4729" stop-color="#6d0092"/><stop offset=".4785" stop-color="#8f0070"/><stop offset=".4822" stop-color="#a3005c"/><stop offset=".486" stop-color="#b3004c"/><stop offset=".4916" stop-color="#c5003a"/><stop offset=".4953" stop-color="#cd0032"/><stop offset=".5009" stop-color="#cf0030"/><stop offset=".5047" stop-color="#cb0034"/><stop offset=".5084" stop-color="#c3003c"/><stop offset=".514" stop-color="#b1004e"/><stop offset=".5178" stop-color="#9f0060"/><stop offset=".5215" stop-color="#8b0074"/><stop offset=".5308" stop-color="#4f00b0"/><stop offset=".5402" stop-color="#0b00f4"/><stop offset=".5421" stop-color="#0303ff"/><stop offset=".5533" stop-color="#4f4fff"/><stop offset=".5607" stop-color="#7b7bff"/><stop offset=".5664" stop-color="#9797ff"/><stop offset=".5738" stop-color="#b5b5ff"/><stop offset=".5813" stop-color="#cdcdff"/><stop offset=".5907" stop-color="#e1e1ff"/><stop offset=".6075" stop-color="#f5f5ff"/><stop offset=".628" stop-color="#fdfdff"/><stop offset=".6467" stop-color="#fdfdff"/><stop offset=".6486" stop-color="#ffffff"/><stop offset=".7981" stop-color="#ffffff"/><stop offset=".8" stop-color="#fdfdff"/><stop offset=".8617" stop-color="#fdfdff"/><stop offset=".8636" stop-color="#fbfbff"/><stop offset="1" stop-color="#ffffff"/></linearGradient><linearGradient id="h35" gradientUnits="userSpaceOnUse" x1="699" x2="1234" y1="0" y2="0"><stop offset="0" stop-color="#ffffff"/><stop offset=".3514" stop-color="#ffffff"/><stop offset=".3533" stop-color="#fdfdff"/><stop offset=".372" stop-color="#fdfdff"/><stop offset=".3888" stop-color="#f7f7ff"/><stop offset=".3944" stop-color="#f3f3ff"/><stop offset=".4075" stop-color="#e3e3ff"/><stop offset=".4168" stop-color="#cfcfff"/><stop offset=".4262" stop-color="#b1b1ff"/><stop offset=".4336" stop-color="#9191ff"/><stop offset=".4411" stop-color="#6969ff"/><stop offset=".4505" stop-color="#2d2dff"/><stop offset=".4561" stop-color="#0505ff"/><stop offset=".4579" stop-color="#0900f6"/><stop offset=".4729" stop-color="#75008a"/><stop offset=".4766" stop-color="#8d0072"/><stop offset=".4841" stop-color="#b5004a"/><stop offset=".4916" stop-color="#cf0030"/><stop offset=".4972" stop-color="#d90026"/><stop offset=".5009" stop-color="#d90026"/><stop offset=".5047" stop-color="#d5002a"/><stop offset=".5084" stop-color="#cd0032"/><stop offset=".5121" stop-color="#c1003e"/><stop offset=".5178" stop-color="#a90056"/><stop offset=".5252" stop-color="#7d0082"/><stop offset=".5327" stop-color="#4900b6"/><stop offset=".5421" stop-color="#0300fc"/><stop offset=".5439" stop-color="#0b0bff"/><stop offset=".5514" stop-color="#3f3fff"/><stop offset=".5589" stop-color="#6d6dff"/><stop offset=".5682" stop-color="#9d9dff"/><stop offset=".5738" stop-color="#b3b3ff"/><stop offset=".5813" stop-color="#cbcbff"/><stop offset=".5907" stop-color="#e1e1ff"/><stop offset=".6075" stop-color="#f5f5ff"/><stop offset=".628" stop-color="#fdfdff"/><stop offset=".6467" stop-color="#fdfdff"/><stop offset=".6486" stop-color="#ffffff"/><stop offset=".7981" stop-color="#ffffff"/><stop offset=".8" stop-color="#fdfdff"/><stop offset=".8654" stop-color="#fdfdff"/><stop offset=".8673" stop-color="#fbfbff"/><stop offset="1" stop-color="#ffffff"/></linearGradient><linearGradient id="h36" gradientUnits="userSpaceOnUse" x1="699" x2="1234" y1="0" y2="0"><stop offset="0" stop-color="#ffffff"/><stop offset=".3495" stop-color="#ffffff"/><stop offset=".3514" stop-color="#fdfdff"/><stop offset=".3794" stop-color="#fbfbff"/><stop offset=".3907" stop-color="#f5f5ff"/><stop offset=".4" stop-color="#ededff"/><stop offset=".4093" stop-color="#dfdfff"/><stop offset=".415" stop-color="#d3d3ff"/><stop offset=".4224" stop-color="#bdbdff"/><stop offset=".4336" stop-color="#8f8fff"/><stop offset=".4393" stop-color="#7171ff"/><stop offset=".4467" stop-color="#4343ff"/><stop offset=".4561" stop-color="#0101ff"/><stop offset=".4579" stop-color="#0d00f2"/><stop offset=".4748" stop-color="#890076"/><stop offset=".4841" stop-color="#bd0042"/><stop offset=".4879" stop-color="#cd0032"/><stop offset=".4916" stop-color="#d90026"/><stop offset=".4972" stop-color="#e1001e"/><stop offset=".5009" stop-color="#e3001c"/><stop offset=".5047" stop-color="#df0020"/><stop offset=".5084" stop-color="#d70028"/><stop offset=".514" stop-color="#c3003c"/><stop offset=".5178" stop-color="#b1004e"/><stop offset=".5271" stop-color="#770088"/><stop offset=".5421" stop-color="#0900f6"/><stop offset=".5439" stop-color="#0505ff"/><stop offset=".5514" stop-color="#3b3bff"/><stop offset=".5607" stop-color="#7575ff"/><stop offset=".5682" stop-color="#9b9bff"/><stop offset=".5757" stop-color="#b9b9ff"/><stop offset=".5813" stop-color="#cbcbff"/><stop offset=".5925" stop-color="#e3e3ff"/><stop offset=".5981" stop-color="#ebebff"/><stop offset=".6112" stop-color="#f7f7ff"/><stop offset=".628" stop-color="#fdfdff"/><stop offset=".6467" stop-color="#fdfdff"/><stop offset=".6486" stop-color="#ffffff"/><stop offset=".8" stop-color="#ffffff"/><stop offset=".8019" stop-color="#fdfdff"/><stop offset=".8692" stop-color="#fdfdff"/><stop offset=".871" stop-color="#fbfbff"/><stop offset="1" stop-color="#ffffff"/></linearGradient><linearGradient id="h37" gradientUnits="userSpaceOnUse" x1="699" x2="1234" y1="0" y2="0"><stop offset="0" stop-color="#ffffff"/><stop offset=".3495" stop-color="#ffffff"/><stop offset=".3514" stop-color="#fdfdff"/><stop offset=".3701" stop-color="#fdfdff"/><stop offset=".3907" stop-color="#f5f5ff"/><stop offset=".3981" stop-color="#efefff"/><stop offset=".4056" stop-color="#e5e5ff"/><stop offset=".4168" stop-color="#cdcdff"/><stop offset=".428" stop-color="#a7a7ff"/><stop offset=".4336" stop-color="#8d8dff"/><stop offset=".4393" stop-color="#6f6fff"/><stop offset=".4486" stop-color="#3333ff"/><stop offset=".4542" stop-color="#0b0bff"/><stop offset=".4561" stop-color="#0300fc"/><stop offset=".4598" stop-color="#2100de"/><stop offset=".4748" stop-color="#8f0070"/><stop offset=".4785" stop-color="#a70058"/><stop offset=".4841" stop-color="#c5003a"/><stop offset=".4879" stop-color="#d5002a"/><stop offset=".4935" stop-color="#e5001a"/><stop offset=".5009" stop-color="#eb0014"/><stop offset=".5047" stop-color="#e70018"/><stop offset=".5103" stop-color="#d90026"/><stop offset=".5159" stop-color="#c1003e"/><stop offset=".5215" stop-color="#a3005c"/><stop offset=".5252" stop-color="#8b0074"/><stop offset=".5308" stop-color="#63009c"/><stop offset=".5364" stop-color="#3700c8"/><stop offset=".5439" stop-color="#0101ff"/><stop offset=".5495" stop-color="#2b2bff"/><stop offset=".5551" stop-color="#5151ff"/><stop offset=".5607" stop-color="#7373ff"/><stop offset=".5682" stop-color="#9999ff"/><stop offset=".5738" stop-color="#b1b1ff"/><stop offset=".5832" stop-color="#cfcfff"/><stop offset=".5925" stop-color="#e3e3ff"/><stop offset=".5981" stop-color="#ebebff"/><stop offset=".6112" stop-color="#f7f7ff"/><stop offset=".628" stop-color="#fdfdff"/><stop offset=".6486" stop-color="#fdfdff"/><stop offset=".6505" stop-color="#ffffff"/><stop offset=".8" stop-color="#ffffff"/><stop offset=".8019" stop-color="#fdfdff"/><stop offset=".8748" stop-color="#fdfdff"/><stop offset=".8766" stop-color="#fbfbff"/><stop offset="1" stop-color="#ffffff"/></linearGradient><linearGradient id="h38" gradientUnits="userSpaceOnUse" x1="699" x2="1234" y1="0" y2="0"><stop offset="0" stop-color="#ffffff"/><stop offset=".3477" stop-color="#ffffff"/><stop offset=".3495" stop-color="#fdfdff"/><stop offset=".3701" stop-color="#fdfdff"/><stop offset=".3907" stop-color="#f5f5ff"/><stop offset=".4075" stop-color="#e1e1ff"/><stop offset=".415" stop-color="#d1d1ff"/><stop offset=".4224" stop-color="#bbbbff"/><stop offset=".4299" stop-color="#9d9dff"/><stop offset=".4393" stop-color="#6d6dff"/><stop offset=".4467" stop-color="#3d3dff"/><stop offset=".4542" stop-color="#0707ff"/><stop offset=".4561" stop-color="#0700f8"/><stop offset=".4673" stop-color="#5f00a0"/><stop offset=".4748" stop-color="#95006a"/><stop offset=".4785" stop-color="#ad0052"/><stop offset=".4841" stop-color="#cb0034"/><stop offset=".4879" stop-color="#db0024"/><stop offset=".4916" stop-color="#e70018"/><stop offset=".4953" stop-color="#ef0010"/><stop offset=".5009" stop-color="#f1000e"/><stop offset=".5065" stop-color="#e90016"/><stop offset=".5121" stop-color="#d90026"/><stop offset=".5196" stop-color="#b3004c"/><stop offset=".5271" stop-color="#83007c"/><stop offset=".5439" stop-color="#0300fc"/><stop offset=".5458" stop-color="#0b0bff"/><stop offset=".5514" stop-color="#3535ff"/><stop offset=".5607" stop-color="#7171ff"/><stop offset=".5664" stop-color="#8f8fff"/><stop offset=".5757" stop-color="#b7b7ff"/><stop offset=".5813" stop-color="#c9c9ff"/><stop offset=".5907" stop-color="#dfdfff"/><stop offset=".5981" stop-color="#ebebff"/><stop offset=".6056" stop-color="#f3f3ff"/><stop offset=".6206" stop-color="#fbfbff"/><stop offset=".6486" stop-color="#fdfdff"/><stop offset=".6505" stop-color="#ffffff"/><stop offset=".8" stop-color="#ffffff"/><stop offset=".8019" stop-color="#fdfdff"/><stop offset=".8206" stop-color="#fdfdff"/><stop offset=".972" stop-color="#fdfdff"/><stop offset=".9738" stop-color="#ffffff"/><stop offset="1" stop-color="#ffffff"/></linearGradient><linearGradient id="h39" gradientUnits="userSpaceOnUse" x1="699" x2="1234" y1="0" y2="0"><stop offset="0" stop-color="#ffffff"/><stop offset=".3477" stop-color="#ffffff"/><stop offset=".3495" stop-color="#fdfdff"/><stop offset=".3701" stop-color="#fdfdff"/><stop offset=".3907" stop-color="#f5f5ff"/><stop offset=".4075" stop-color="#e1e1ff"/><stop offset=".415" stop-color="#d1d1ff"/><stop offset=".4243" stop-color="#b3b3ff"/><stop offset=".4318" stop-color="#9393ff"/><stop offset=".4393" stop-color="#6b6bff"/><stop offset=".4467" stop-color="#3b3bff"/><stop offset=".4542" stop-color="#0303ff"/><stop offset=".4561" stop-color="#0b00f4"/><stop offset=".4692" stop-color="#71008e"/><stop offset=".4748" stop-color="#990066"/><stop offset=".4822" stop-color="#c70038"/><stop offset=".486" stop-color="#d90026"/><stop offset=".4897" stop-color="#e70018"/><stop offset=".4935" stop-color="#f1000e"/><stop offset=".5009" stop-color="#f70008"/><stop offset=".5047" stop-color="#f3000c"/><stop offset=".5084" stop-color="#eb0014"/><stop offset=".5159" stop-color="#cd0032"/><stop offset=".5178" stop-color="#c3003c"/><stop offset=".5215" stop-color="#ad0052"/><stop offset=".5271" stop-color="#870078"/><stop offset=".5346" stop-color="#4f00b0"/><stop offset=".5439" stop-color="#0500fa"/><stop offset=".5458" stop-color="#0909ff"/><stop offset=".5533" stop-color="#3f3fff"/><stop offset=".5607" stop-color="#6f6fff"/><stop offset=".5664" stop-color="#8d8dff"/><stop offset=".5738" stop-color="#afafff"/><stop offset=".5832" stop-color="#cdcdff"/><stop offset=".5907" stop-color="#dfdfff"/><stop offset=".6" stop-color="#ededff"/><stop offset=".6093" stop-color="#f5f5ff"/><stop offset=".6206" stop-color="#fbfbff"/><stop offset=".6505" stop-color="#fdfdff"/><stop offset=".6523" stop-color="#ffffff"/><stop offset=".8" stop-color="#ffffff"/><stop offset=".8019" stop-color="#fdfdff"/><stop offset=".9701" stop-color="#fdfdff"/><stop offset=".972" stop-color="#ffffff"/><stop offset="1" stop-color="#ffffff"/></linearGradient><linearGradient id="h40" gradientUnits="userSpaceOnUse" x1="699" x2="1234" y1="0" y2="0"><stop offset="0" stop-color="#ffffff"/><stop offset=".3477" stop-color="#ffffff"/><stop offset=".3495" stop-color="#fdfdff"/><stop offset=".3701" stop-color="#fdfdff"/><stop offset=".3907" stop-color="#f5f5ff"/><stop offset=".4037" stop-color="#e7e7ff"/><stop offset=".4093" stop-color="#ddddff"/><stop offset=".4168" stop-color="#cbcbff"/><stop offset=".4243" stop-color="#b3b3ff"/><stop offset=".4299" stop-color="#9b9bff"/><stop offset=".4374" stop-color="#7575ff"/><stop offset=".4467" stop-color="#3939ff"/><stop offset=".4523" stop-color="#1111ff"/><stop offset=".4542" stop-color="#0101ff"/><stop offset=".4561" stop-color="#0d00f2"/><stop offset=".4654" stop-color="#5700a8"/><stop offset=".4766" stop-color="#a90056"/><stop offset=".486" stop-color="#dd0022"/><stop offset=".4897" stop-color="#eb0014"/><stop offset=".4935" stop-color="#f5000a"/><stop offset=".5009" stop-color="#fb0004"/><stop offset=".5047" stop-color="#f70008"/><stop offset=".5084" stop-color="#ef0010"/><stop offset=".514" stop-color="#d90026"/><stop offset=".5178" stop-color="#c70038"/><stop offset=".5215" stop-color="#b1004e"/><stop offset=".529" stop-color="#7d0082"/><stop offset=".5439" stop-color="#0700f8"/><stop offset=".5458" stop-color="#0707ff"/><stop offset=".5514" stop-color="#3131ff"/><stop offset=".557" stop-color="#5757ff"/><stop offset=".5645" stop-color="#8383ff"/><stop offset=".5757" stop-color="#b5b5ff"/><stop offset=".5832" stop-color="#cdcdff"/><stop offset=".5944" stop-color="#e5e5ff"/><stop offset=".6" stop-color="#ededff"/><stop offset=".6093" stop-color="#f5f5ff"/><stop offset=".6299" stop-color="#fdfdff"/><stop offset=".6505" stop-color="#fdfdff"/><stop offset=".6523" stop-color="#ffffff"/><stop offset=".8" stop-color="#ffffff"/><stop offset=".8019" stop-color="#fdfdff"/><stop offset=".9682" stop-color="#fdfdff"/><stop offset=".9701" stop-color="#ffffff"/><stop offset="1" stop-color="#ffffff"/></linearGradient><linearGradient id="h41" gradientUnits="userSpaceOnUse" x1="699" x2="1234" y1="0" y2="0"><stop offset="0" stop-color="#ffffff"/><stop offset=".3458" stop-color="#ffffff"/><stop offset=".3477" stop-color="#fdfdff"/><stop offset=".3701" stop-color="#fdfdff"/><stop offset=".3907" stop-color="#f5f5ff"/><stop offset=".4037" stop-color="#e7e7ff"/><stop offset=".4093" stop-color="#ddddff"/><stop offset=".4168" stop-color="#cbcbff"/><stop offset=".4224" stop-color="#b9b9ff"/><stop offset=".4299" stop-color="#9b9bff"/><stop offset=".4393" stop-color="#6969ff"/><stop offset=".4449" stop-color="#4545ff"/><stop offset=".4542" stop-color="#0101ff"/><stop offset=".4561" stop-color="#0f00f0"/><stop offset=".4598" stop-color="#2b00d4"/><stop offset=".4654" stop-color="#5900a6"/><stop offset=".4729" stop-color="#91006e"/><stop offset=".4766" stop-color="#ab0054"/><stop offset=".4822" stop-color="#cd0032"/><stop offset=".4879" stop-color="#e70018"/><stop offset=".4916" stop-color="#f3000c"/><stop offset=".4953" stop-color="#fb0004"/><stop offset=".5009" stop-color="#fd0002"/><stop offset=".5047" stop-color="#f90006"/><stop offset=".5084" stop-color="#f1000e"/><stop offset=".514" stop-color="#db0024"/><stop offset=".5178" stop-color="#c90036"/><stop offset=".5215" stop-color="#b3004c"/><stop offset=".5271" stop-color="#8d0072"/><stop offset=".5439" stop-color="#0900f6"/><stop offset=".5458" stop-color="#0505ff"/><stop offset=".5533" stop-color="#3d3dff"/><stop offset=".5607" stop-color="#6d6dff"/><stop offset=".5682" stop-color="#9595ff"/><stop offset=".5757" stop-color="#b5b5ff"/><stop offset=".5832" stop-color="#cdcdff"/><stop offset=".5944" stop-color="#e5e5ff"/><stop offset=".6093" stop-color="#f5f5ff"/><stop offset=".6299" stop-color="#fdfdff"/><stop offset=".6523" stop-color="#fdfdff"/><stop offset=".6542" stop-color="#ffffff"/><stop offset=".8019" stop-color="#ffffff"/><stop offset=".8037" stop-color="#fdfdff"/><stop offset=".9682" stop-color="#fdfdff"/><stop offset=".9701" stop-color="#ffffff"/><stop offset="1" stop-color="#ffffff"/></linearGradient><linearGradient id="h42" gradientUnits="userSpaceOnUse" x1="699" x2="1234" y1="0" y2="0"><stop offset="0" stop-color="#ffffff"/><stop offset=".3458" stop-color="#ffffff"/><stop offset=".3477" stop-color="#fdfdff"/><stop offset=".3701" stop-color="#fdfdff"/><stop offset=".3869" stop-color="#f7f7ff"/><stop offset=".4019" stop-color="#e9e9ff"/><stop offset=".4093" stop-color="#ddddff"/><stop offset=".4168" stop-color="#cbcbff"/><stop offset=".4224" stop-color="#b9b9ff"/><stop offset=".428" stop-color="#a3a3ff"/><stop offset=".4393" stop-color="#6969ff"/><stop offset=".4449" stop-color="#4545ff"/><stop offset=".4542" stop-color="#0100fe"/><stop offset=".471" stop-color="#85007a"/><stop offset=".4804" stop-color="#c3003c"/><stop offset=".4841" stop-color="#d70028"/><stop offset=".4897" stop-color="#ef0010"/><stop offset=".4935" stop-color="#f90006"/><stop offset=".5009" stop-color="#ff0000"/><stop offset=".5047" stop-color="#fb0004"/><stop offset=".5103" stop-color="#ed0012"/><stop offset=".514" stop-color="#dd0022"/><stop offset=".5196" stop-color="#bf0040"/><stop offset=".5252" stop-color="#9b0064"/><stop offset=".5327" stop-color="#63009c"/><stop offset=".5439" stop-color="#0900f6"/><stop offset=".5458" stop-color="#0505ff"/><stop offset=".5514" stop-color="#2f2fff"/><stop offset=".5589" stop-color="#6161ff"/><stop offset=".5682" stop-color="#9595ff"/><stop offset=".5738" stop-color="#adadff"/><stop offset=".5813" stop-color="#c7c7ff"/><stop offset=".5925" stop-color="#e1e1ff"/><stop offset=".6093" stop-color="#f5f5ff"/><stop offset=".6299" stop-color="#fdfdff"/><stop offset=".6523" stop-color="#fdfdff"/><stop offset=".6542" stop-color="#ffffff"/><stop offset=".8019" stop-color="#ffffff"/><stop offset=".8037" stop-color="#fdfdff"/><stop offset=".9664" stop-color="#fdfdff"/><stop offset=".9682" stop-color="#ffffff"/><stop offset="1" stop-color="#ffffff"/></linearGradient><linearGradient id="h43" gradientUnits="userSpaceOnUse" x1="699" x2="1234" y1="0" y2="0"><stop offset="0" stop-color="#ffffff"/><stop offset=".3439" stop-color="#ffffff"/><stop offset=".3458" stop-color="#fdfdff"/><stop offset=".3701" stop-color="#fdfdff"/><stop offset=".3869" stop-color="#f7f7ff"/><stop offset=".4019" stop-color="#e9e9ff"/><stop offset=".4093" stop-color="#ddddff"/><stop offset=".4168" stop-color="#cbcbff"/><stop offset=".4224" stop-color="#b9b9ff"/><stop offset=".428" stop-color="#a3a3ff"/><stop offset=".4393" stop-color="#6969ff"/><stop offset=".4449" stop-color="#4545ff"/><stop offset=".4542" stop-color="#0100fe"/><stop offset=".4579" stop-color="#1d00e2"/><stop offset=".4636" stop-color="#4b00b4"/><stop offset=".4748" stop-color="#9f0060"/><stop offset=".4804" stop-color="#c3003c"/><stop offset=".4841" stop-color="#d70028"/><stop offset=".4897" stop-color="#ef0010"/><stop offset=".4935" stop-color="#f90006"/><stop offset=".5009" stop-color="#ff0000"/><stop offset=".5065" stop-color="#f70008"/><stop offset=".5121" stop-color="#e5001a"/><stop offset=".5196" stop-color="#bf0040"/><stop offset=".5252" stop-color="#9b0064"/><stop offset=".5327" stop-color="#63009c"/><stop offset=".5439" stop-color="#0900f6"/><stop offset=".5458" stop-color="#0505ff"/><stop offset=".5514" stop-color="#2f2fff"/><stop offset=".5589" stop-color="#6161ff"/><stop offset=".5664" stop-color="#8b8bff"/><stop offset=".5738" stop-color="#adadff"/><stop offset=".5813" stop-color="#c7c7ff"/><stop offset=".5925" stop-color="#e1e1ff"/><stop offset=".6093" stop-color="#f5f5ff"/><stop offset=".6299" stop-color="#fdfdff"/><stop offset=".6542" stop-color="#fdfdff"/><stop offset=".6561" stop-color="#ffffff"/><stop offset=".8019" stop-color="#ffffff"/><stop offset=".8037" stop-color="#fdfdff"/><stop offset=".9645" stop-color="#fdfdff"/><stop offset=".9664" stop-color="#ffffff"/><stop offset="1" stop-color="#ffffff"/></linearGradient><linearGradient id="h44" gradientUnits="userSpaceOnUse" x1="699" x2="1234" y1="0" y2="0"><stop offset="0" stop-color="#ffffff"/><stop offset=".3421" stop-color="#ffffff"/><stop offset=".3439" stop-color="#fdfdff"/><stop offset=".3682" stop-color="#fdfdff"/><stop offset=".3869" stop-color="#f7f7ff"/><stop offset=".4019" stop-color="#e9e9ff"/><stop offset=".4093" stop-color="#ddddff"/><stop offset=".4168" stop-color="#cbcbff"/><stop offset=".4224" stop-color="#b9b9ff"/><stop offset=".4299" stop-color="#9b9bff"/><stop offset=".4393" stop-color="#6969ff"/><stop offset=".4449" stop-color="#4545ff"/><stop offset=".4542" stop-color="#0101ff"/><stop offset=".4561" stop-color="#0d00f2"/><stop offset=".4617" stop-color="#3b00c4"/><stop offset=".4729" stop-color="#91006e"/><stop offset=".4785" stop-color="#b70048"/><stop offset=".4822" stop-color="#cb0034"/><stop offset=".486" stop-color="#df0020"/><stop offset=".4916" stop-color="#f3000c"/><stop offset=".4972" stop-color="#fd0002"/><stop offset=".5009" stop-color="#fd0002"/><stop offset=".5047" stop-color="#f90006"/><stop offset=".5084" stop-color="#f1000e"/><stop offset=".514" stop-color="#db0024"/><stop offset=".5178" stop-color="#c90036"/><stop offset=".5234" stop-color="#a70058"/><stop offset=".529" stop-color="#7f0080"/><stop offset=".5439" stop-color="#0900f6"/><stop offset=".5458" stop-color="#0505ff"/><stop offset=".5533" stop-color="#3d3dff"/><stop offset=".5607" stop-color="#6d6dff"/><stop offset=".5682" stop-color="#9595ff"/><stop offset=".5738" stop-color="#adadff"/><stop offset=".5813" stop-color="#c7c7ff"/><stop offset=".5925" stop-color="#e1e1ff"/><stop offset=".6093" stop-color="#f5f5ff"/><stop offset=".6299" stop-color="#fdfdff"/><stop offset=".6561" stop-color="#fdfdff"/><stop offset=".6579" stop-color="#ffffff"/><stop offset=".8019" stop-color="#ffffff"/><stop offset=".8056" stop-color="#fdfdff"/><stop offset=".9626" stop-color="#fdfdff"/><stop offset=".9645" stop-color="#ffffff"/><stop offset="1" stop-color="#ffffff"/></linearGradient><linearGradient id="h45" gradientUnits="userSpaceOnUse" x1="699" x2="1234" y1="0" y2="0"><stop offset="0" stop-color="#ffffff"/><stop offset=".3402" stop-color="#ffffff"/><stop offset=".3421" stop-color="#fdfdff"/><stop offset=".3682" stop-color="#fdfdff"/><stop offset=".3869" stop-color="#f7f7ff"/><stop offset=".4019" stop-color="#e9e9ff"/><stop offset=".4093" stop-color="#ddddff"/><stop offset=".4168" stop-color="#cbcbff"/><stop offset=".4224" stop-color="#b9b9ff"/><stop offset=".4299" stop-color="#9b9bff"/><stop offset=".4374" stop-color="#7575ff"/><stop offset=".443" stop-color="#5353ff"/><stop offset=".4542" stop-color="#0303ff"/><stop offset=".4561" stop-color="#0d00f2"/><stop offset=".4729" stop-color="#8f0070"/><stop offset=".4804" stop-color="#bf0040"/><stop offset=".4841" stop-color="#d3002c"/><stop offset=".4897" stop-color="#e90016"/><stop offset=".4953" stop-color="#f70008"/><stop offset=".4991" stop-color="#fb0004"/><stop offset=".5028" stop-color="#f90006"/><stop offset=".5065" stop-color="#f3000c"/><stop offset=".514" stop-color="#d90026"/><stop offset=".5196" stop-color="#bb0044"/><stop offset=".529" stop-color="#7d0082"/><stop offset=".5439" stop-color="#0700f8"/><stop offset=".5458" stop-color="#0707ff"/><stop offset=".5533" stop-color="#3d3dff"/><stop offset=".5607" stop-color="#6d6dff"/><stop offset=".5682" stop-color="#9595ff"/><stop offset=".5757" stop-color="#b5b5ff"/><stop offset=".5832" stop-color="#cdcdff"/><stop offset=".5925" stop-color="#e1e1ff"/><stop offset=".6093" stop-color="#f5f5ff"/><stop offset=".6299" stop-color="#fdfdff"/><stop offset=".6579" stop-color="#fdfdff"/><stop offset=".6598" stop-color="#ffffff"/><stop offset=".8" stop-color="#ffffff"/><stop offset=".8019" stop-color="#fdfdff"/><stop offset=".8131" stop-color="#fdfdff"/><stop offset="1" stop-color="#ffffff"/></linearGradient><linearGradient id="h46" gradientUnits="userSpaceOnUse" x1="699" x2="1234" y1="0" y2="0"><stop offset="0" stop-color="#ffffff"/><stop offset=".3383" stop-color="#ffffff"/><stop offset=".3402" stop-color="#fdfdff"/><stop offset=".3682" stop-color="#fdfdff"/><stop offset=".3869" stop-color="#f7f7ff"/><stop offset=".4037" stop-color="#e7e7ff"/><stop offset=".4093" stop-color="#ddddff"/><stop offset=".4168" stop-color="#cbcbff"/><stop offset=".4243" stop-color="#b3b3ff"/><stop offset=".4318" stop-color="#9393ff"/><stop offset=".4393" stop-color="#6b6bff"/><stop offset=".4467" stop-color="#3b3bff"/><stop offset=".4542" stop-color="#0505ff"/><stop offset=".4561" stop-color="#0b00f4"/><stop offset=".4729" stop-color="#8b0074"/><stop offset=".4766" stop-color="#a5005a"/><stop offset=".4841" stop-color="#cf0030"/><stop offset=".4879" stop-color="#df0020"/><stop offset=".4916" stop-color="#eb0014"/><stop offset=".4953" stop-color="#f3000c"/><stop offset=".5028" stop-color="#f5000a"/><stop offset=".5065" stop-color="#ef0010"/><stop offset=".5121" stop-color="#dd0022"/><stop offset=".5178" stop-color="#c3003c"/><stop offset=".5215" stop-color="#ad0052"/><stop offset=".5271" stop-color="#870078"/><stop offset=".5346" stop-color="#4f00b0"/><stop offset=".5439" stop-color="#0500fa"/><stop offset=".5458" stop-color="#0909ff"/><stop offset=".5533" stop-color="#3f3fff"/><stop offset=".5589" stop-color="#6363ff"/><stop offset=".5664" stop-color="#8d8dff"/><stop offset=".572" stop-color="#a7a7ff"/><stop offset=".5832" stop-color="#cdcdff"/><stop offset=".5944" stop-color="#e5e5ff"/><stop offset=".6093" stop-color="#f5f5ff"/><stop offset=".6299" stop-color="#fdfdff"/><stop offset=".6598" stop-color="#fdfdff"/><stop offset=".6617" stop-color="#ffffff"/><stop offset=".7981" stop-color="#ffffff"/><stop offset=".8" stop-color="#fdfdff"/><stop offset=".828" stop-color="#fdfdff"/><stop offset="1" stop-color="#ffffff"/></linearGradient><linearGradient id="h47" gradientUnits="userSpaceOnUse" x1="699" x2="1234" y1="0" y2="0"><stop offset="0" stop-color="#ffffff"/><stop offset=".3346" stop-color="#ffffff"/><stop offset=".3364" stop-color="#fdfdff"/><stop offset=".3682" stop-color="#fdfdff"/><stop offset=".3869" stop-color="#f7f7ff"/><stop offset=".4" stop-color="#ebebff"/><stop offset=".4075" stop-color="#e1e1ff"/><stop offset=".415" stop-color="#d1d1ff"/><stop offset=".4224" stop-color="#bbbbff"/><stop offset=".4299" stop-color="#9d9dff"/><stop offset=".4393" stop-color="#6d6dff"/><stop offset=".4467" stop-color="#3d3dff"/><stop offset=".4542" stop-color="#0707ff"/><stop offset=".4561" stop-color="#0700f8"/><stop offset=".4729" stop-color="#870078"/><stop offset=".4785" stop-color="#ab0054"/><stop offset=".4841" stop-color="#c90036"/><stop offset=".4879" stop-color="#d90026"/><stop offset=".4935" stop-color="#e90016"/><stop offset=".4991" stop-color="#f1000e"/><stop offset=".5028" stop-color="#ef0010"/><stop offset=".5065" stop-color="#e90016"/><stop offset=".5103" stop-color="#df0020"/><stop offset=".5159" stop-color="#c70038"/><stop offset=".5196" stop-color="#b3004c"/><stop offset=".5271" stop-color="#83007c"/><stop offset=".5439" stop-color="#0300fc"/><stop offset=".5458" stop-color="#0b0bff"/><stop offset=".5533" stop-color="#4141ff"/><stop offset=".5589" stop-color="#6565ff"/><stop offset=".5682" stop-color="#9797ff"/><stop offset=".5738" stop-color="#afafff"/><stop offset=".5832" stop-color="#cdcdff"/><stop offset=".5888" stop-color="#dbdbff"/><stop offset=".5944" stop-color="#e5e5ff"/><stop offset=".6093" stop-color="#f5f5ff"/><stop offset=".6318" stop-color="#fdfdff"/><stop offset=".6636" stop-color="#fdfdff"/><stop offset=".6654" stop-color="#ffffff"/><stop offset=".7925" stop-color="#ffffff"/><stop offset=".7944" stop-color="#fdfdff"/><stop offset=".8056" stop-color="#fdfdff"/><stop offset="1" stop-color="#ffffff"/></linearGradient><linearGradient id="h48" gradientUnits="userSpaceOnUse" x1="699" x2="1234" y1="0" y2="0"><stop offset="0" stop-color="#ffffff"/><stop offset=".3271" stop-color="#ffffff"/><stop offset=".329" stop-color="#fdfdff"/><stop offset=".3682" stop-color="#fdfdff"/><stop offset=".3907" stop-color="#f5f5ff"/><stop offset=".4075" stop-color="#e1e1ff"/><stop offset=".415" stop-color="#d1d1ff"/><stop offset=".4243" stop-color="#b5b5ff"/><stop offset=".4336" stop-color="#8d8dff"/><stop offset=".4393" stop-color="#6f6fff"/><stop offset=".4486" stop-color="#3333ff"/><stop offset=".4542" stop-color="#0b0bff"/><stop offset=".4561" stop-color="#0300fc"/><stop offset=".4654" stop-color="#4b00b4"/><stop offset=".4729" stop-color="#81007e"/><stop offset=".4785" stop-color="#a5005a"/><stop offset=".4841" stop-color="#c3003c"/><stop offset=".4879" stop-color="#d3002c"/><stop offset=".4916" stop-color="#df0020"/><stop offset=".4972" stop-color="#e90016"/><stop offset=".5009" stop-color="#e90016"/><stop offset=".5047" stop-color="#e5001a"/><stop offset=".5084" stop-color="#dd0022"/><stop offset=".514" stop-color="#c90036"/><stop offset=".5196" stop-color="#ad0052"/><stop offset=".5308" stop-color="#63009c"/><stop offset=".5421" stop-color="#0d00f2"/><stop offset=".5439" stop-color="#0101ff"/><stop offset=".5514" stop-color="#3737ff"/><stop offset=".5589" stop-color="#6767ff"/><stop offset=".5701" stop-color="#a1a1ff"/><stop offset=".5757" stop-color="#b7b7ff"/><stop offset=".5813" stop-color="#c9c9ff"/><stop offset=".5907" stop-color="#dfdfff"/><stop offset=".6" stop-color="#ededff"/><stop offset=".6093" stop-color="#f5f5ff"/><stop offset=".6318" stop-color="#fdfdff"/><stop offset=".671" stop-color="#fdfdff"/><stop offset=".6729" stop-color="#ffffff"/><stop offset=".7776" stop-color="#ffffff"/><stop offset=".7794" stop-color="#fdfdff"/><stop offset=".9589" stop-color="#fdfdff"/><stop offset=".9607" stop-color="#ffffff"/><stop offset="1" stop-color="#ffffff"/></linearGradient><linearGradient id="h49" gradientUnits="userSpaceOnUse" x1="699" x2="1234" y1="0" y2="0"><stop offset="0" stop-color="#ffffff"/><stop offset=".0673" stop-color="#ffffff"/><stop offset=".0692" stop-color="#fdfdff"/><stop offset=".1327" stop-color="#fdfdff"/><stop offset=".1421" stop-color="#ffffff"/><stop offset=".3682" stop-color="#fdfdff"/><stop offset=".3907" stop-color="#f5f5ff"/><stop offset=".4056" stop-color="#e5e5ff"/><stop offset=".4168" stop-color="#cdcdff"/><stop offset=".4262" stop-color="#afafff"/><stop offset=".4336" stop-color="#8f8fff"/><stop offset=".4393" stop-color="#7171ff"/><stop offset=".4486" stop-color="#3737ff"/><stop offset=".4561" stop-color="#0101ff"/><stop offset=".4579" stop-color="#0d00f2"/><stop offset=".4729" stop-color="#7b0084"/><stop offset=".4822" stop-color="#b3004c"/><stop offset=".4879" stop-color="#cb0034"/><stop offset=".4916" stop-color="#d70028"/><stop offset=".4935" stop-color="#db0024"/><stop offset=".5009" stop-color="#e1001e"/><stop offset=".5047" stop-color="#dd0022"/><stop offset=".5084" stop-color="#d5002a"/><stop offset=".5121" stop-color="#c90036"/><stop offset=".5159" stop-color="#b90046"/><stop offset=".5215" stop-color="#9b0064"/><stop offset=".5271" stop-color="#770088"/><stop offset=".5421" stop-color="#0900f6"/><stop offset=".5439" stop-color="#0505ff"/><stop offset=".5495" stop-color="#2d2dff"/><stop offset=".5589" stop-color="#6969ff"/><stop offset=".5664" stop-color="#9191ff"/><stop offset=".5738" stop-color="#b1b1ff"/><stop offset=".5832" stop-color="#cfcfff"/><stop offset=".5907" stop-color="#dfdfff"/><stop offset=".6" stop-color="#ededff"/><stop offset=".6093" stop-color="#f5f5ff"/><stop offset=".6318" stop-color="#fdfdff"/><stop offset=".9589" stop-color="#fdfdff"/><stop offset=".9607" stop-color="#ffffff"/><stop offset="1" stop-color="#ffffff"/></linearGradient><linearGradient id="h50" gradientUnits="userSpaceOnUse" x1="699" x2="1234" y1="0" y2="0"><stop offset="0" stop-color="#ffffff"/><stop offset=".0523" stop-color="#ffffff"/><stop offset=".0542" stop-color="#fdfdff"/><stop offset=".3682" stop-color="#fdfdff"/><stop offset=".3907" stop-color="#f5f5ff"/><stop offset=".4056" stop-color="#e5e5ff"/><stop offset=".4093" stop-color="#dfdfff"/><stop offset=".4187" stop-color="#c9c9ff"/><stop offset=".4262" stop-color="#b1b1ff"/><stop offset=".4336" stop-color="#9191ff"/><stop offset=".4411" stop-color="#6969ff"/><stop offset=".4467" stop-color="#4747ff"/><stop offset=".4561" stop-color="#0505ff"/><stop offset=".4579" stop-color="#0700f8"/><stop offset=".471" stop-color="#670098"/><stop offset=".4804" stop-color="#a1005e"/><stop offset=".4841" stop-color="#b3004c"/><stop offset=".4897" stop-color="#c90036"/><stop offset=".4953" stop-color="#d5002a"/><stop offset=".5028" stop-color="#d70028"/><stop offset=".5065" stop-color="#d1002e"/><stop offset=".5103" stop-color="#c70038"/><stop offset=".5159" stop-color="#b1004e"/><stop offset=".5196" stop-color="#9d0062"/><stop offset=".529" stop-color="#63009c"/><stop offset=".5421" stop-color="#0500fa"/><stop offset=".5439" stop-color="#0909ff"/><stop offset=".5495" stop-color="#3131ff"/><stop offset=".557" stop-color="#6161ff"/><stop offset=".5664" stop-color="#9393ff"/><stop offset=".5757" stop-color="#b9b9ff"/><stop offset=".5832" stop-color="#cfcfff"/><stop offset=".5925" stop-color="#e3e3ff"/><stop offset=".5981" stop-color="#ebebff"/><stop offset=".6093" stop-color="#f5f5ff"/><stop offset=".6318" stop-color="#fdfdff"/><stop offset=".9589" stop-color="#fdfdff"/><stop offset=".9607" stop-color="#ffffff"/><stop offset="1" stop-color="#ffffff"/></linearGradient><linearGradient id="h51" gradientUnits="userSpaceOnUse" x1="699" x2="1234" y1="0" y2="0"><stop offset="0" stop-color="#ffffff"/><stop offset=".043" stop-color="#ffffff"/><stop offset=".0449" stop-color="#fdfdff"/><stop offset=".3682" stop-color="#fdfdff"/><stop offset=".3907" stop-color="#f5f5ff"/><stop offset=".4019" stop-color="#ebebff"/><stop offset=".4093" stop-color="#dfdfff"/><stop offset=".4168" stop-color="#cfcfff"/><stop offset=".4243" stop-color="#b9b9ff"/><stop offset=".4336" stop-color="#9393ff"/><stop offset=".4393" stop-color="#7777ff"/><stop offset=".4486" stop-color="#3f3fff"/><stop offset=".4561" stop-color="#0b0bff"/><stop offset=".4579" stop-color="#0300fc"/><stop offset=".471" stop-color="#5f00a0"/><stop offset=".4785" stop-color="#8d0072"/><stop offset=".4822" stop-color="#a1005e"/><stop offset=".486" stop-color="#b1004e"/><stop offset=".4916" stop-color="#c3003c"/><stop offset=".4953" stop-color="#cb0034"/><stop offset=".5009" stop-color="#cd0032"/><stop offset=".5065" stop-color="#c70038"/><stop offset=".5103" stop-color="#bd0042"/><stop offset=".514" stop-color="#af0050"/><stop offset=".5196" stop-color="#95006a"/><stop offset=".5308" stop-color="#4f00b0"/><stop offset=".5402" stop-color="#0b00f4"/><stop offset=".5421" stop-color="#0101ff"/><stop offset=".5477" stop-color="#2929ff"/><stop offset=".5589" stop-color="#6f6fff"/><stop offset=".5664" stop-color="#9595ff"/><stop offset=".572" stop-color="#adadff"/><stop offset=".5813" stop-color="#cbcbff"/><stop offset=".5888" stop-color="#ddddff"/><stop offset=".5963" stop-color="#e9e9ff"/><stop offset=".6093" stop-color="#f5f5ff"/><stop offset=".6318" stop-color="#fdfdff"/><stop offset=".9607" stop-color="#fdfdff"/><stop offset=".9626" stop-color="#ffffff"/><stop offset="1" stop-color="#ffffff"/></linearGradient><linearGradient id="h52" gradientUnits="userSpaceOnUse" x1="699" x2="1234" y1="0" y2="0"><stop offset="0" stop-color="#ffffff"/><stop offset=".0374" stop-color="#ffffff"/><stop offset=".0393" stop-color="#fdfdff"/><stop offset=".3682" stop-color="#fdfdff"/><stop offset=".3907" stop-color="#f5f5ff"/><stop offset=".4037" stop-color="#e9e9ff"/><stop offset=".4131" stop-color="#d9d9ff"/><stop offset=".4187" stop-color="#cbcbff"/><stop offset=".428" stop-color="#adadff"/><stop offset=".4355" stop-color="#8d8dff"/><stop offset=".443" stop-color="#6565ff"/><stop offset=".4467" stop-color="#4f4fff"/><stop offset=".4579" stop-color="#0505ff"/><stop offset=".4598" stop-color="#0900f6"/><stop offset=".4673" stop-color="#3d00c2"/><stop offset=".4766" stop-color="#790086"/><stop offset=".4841" stop-color="#9f0060"/><stop offset=".4897" stop-color="#b3004c"/><stop offset=".4953" stop-color="#bf0040"/><stop offset=".5028" stop-color="#c1003e"/><stop offset=".5084" stop-color="#b70048"/><stop offset=".5121" stop-color="#ab0054"/><stop offset=".5159" stop-color="#9d0062"/><stop offset=".5196" stop-color="#8b0074"/><stop offset=".5252" stop-color="#6b0094"/><stop offset=".5308" stop-color="#4700b8"/><stop offset=".5402" stop-color="#0500fa"/><stop offset=".5421" stop-color="#0707ff"/><stop offset=".5439" stop-color="#1515ff"/><stop offset=".5551" stop-color="#5d5dff"/><stop offset=".5645" stop-color="#8f8fff"/><stop offset=".572" stop-color="#afafff"/><stop offset=".5794" stop-color="#c7c7ff"/><stop offset=".5907" stop-color="#e1e1ff"/><stop offset=".6056" stop-color="#f3f3ff"/><stop offset=".6168" stop-color="#f9f9ff"/><stop offset=".6318" stop-color="#fdfdff"/><stop offset=".9626" stop-color="#fdfdff"/><stop offset=".9645" stop-color="#ffffff"/><stop offset="1" stop-color="#ffffff"/></linearGradient><linearGradient id="h53" gradientUnits="userSpaceOnUse" x1="699" x2="1234" y1="0" y2="0"><stop offset="0" stop-color="#ffffff"/><stop offset=".0318" stop-color="#ffffff"/><stop offset=".0336" stop-color="#fdfdff"/><stop offset=".3682" stop-color="#fdfdff"/><stop offset=".3832" stop-color="#f9f9ff"/><stop offset=".3944" stop-color="#f3f3ff"/><stop offset=".4093" stop-color="#e1e1ff"/><stop offset=".4187" stop-color="#cdcdff"/><stop offset=".428" stop-color="#afafff"/><stop offset=".4374" stop-color="#8787ff"/><stop offset=".4449" stop-color="#5f5fff"/><stop offset=".4505" stop-color="#3d3dff"/><stop offset=".4579" stop-color="#0b0bff"/><stop offset=".4598" stop-color="#0100fe"/><stop offset=".4673" stop-color="#3500ca"/><stop offset=".4729" stop-color="#5900a6"/><stop offset=".4804" stop-color="#83007c"/><stop offset=".486" stop-color="#9b0064"/><stop offset=".4897" stop-color="#a70058"/><stop offset=".4953" stop-color="#b3004c"/><stop offset=".5028" stop-color="#b5004a"/><stop offset=".5084" stop-color="#ab0054"/><stop offset=".514" stop-color="#990066"/><stop offset=".5215" stop-color="#770088"/><stop offset=".5252" stop-color="#61009e"/><stop offset=".5364" stop-color="#1900e6"/><stop offset=".5383" stop-color="#0b00f4"/><stop offset=".5402" stop-color="#0101ff"/><stop offset=".5458" stop-color="#2727ff"/><stop offset=".5551" stop-color="#6161ff"/><stop offset=".5626" stop-color="#8989ff"/><stop offset=".572" stop-color="#b1b1ff"/><stop offset=".5794" stop-color="#c9c9ff"/><stop offset=".5907" stop-color="#e1e1ff"/><stop offset=".6056" stop-color="#f3f3ff"/><stop offset=".6168" stop-color="#f9f9ff"/><stop offset=".6318" stop-color="#fdfdff"/><stop offset=".9645" stop-color="#fdfdff"/><stop offset=".9664" stop-color="#ffffff"/><stop offset="1" stop-color="#ffffff"/></linearGradient><linearGradient id="h54" gradientUnits="userSpaceOnUse" x1="699" x2="1234" y1="0" y2="0"><stop offset="0" stop-color="#ffffff"/><stop offset=".0262" stop-color="#ffffff"/><stop offset=".028" stop-color="#fdfdff"/><stop offset=".3682" stop-color="#fdfdff"/><stop offset=".3832" stop-color="#f9f9ff"/><stop offset=".3944" stop-color="#f3f3ff"/><stop offset=".4056" stop-color="#e7e7ff"/><stop offset=".4131" stop-color="#dbdbff"/><stop offset=".4206" stop-color="#c9c9ff"/><stop offset=".428" stop-color="#b1b1ff"/><stop offset=".4355" stop-color="#9393ff"/><stop offset=".4467" stop-color="#5959ff"/><stop offset=".4523" stop-color="#3737ff"/><stop offset=".4598" stop-color="#0505ff"/><stop offset=".4617" stop-color="#0700f8"/><stop offset=".4748" stop-color="#5900a6"/><stop offset=".4804" stop-color="#770088"/><stop offset=".486" stop-color="#8f0070"/><stop offset=".4897" stop-color="#9b0064"/><stop offset=".4935" stop-color="#a3005c"/><stop offset=".5009" stop-color="#a90056"/><stop offset=".5084" stop-color="#9f0060"/><stop offset=".514" stop-color="#8d0072"/><stop offset=".5196" stop-color="#75008a"/><stop offset=".529" stop-color="#4100be"/><stop offset=".5364" stop-color="#1100ee"/><stop offset=".5383" stop-color="#0300fc"/><stop offset=".5402" stop-color="#0909ff"/><stop offset=".5495" stop-color="#4545ff"/><stop offset=".5607" stop-color="#8383ff"/><stop offset=".5664" stop-color="#9d9dff"/><stop offset=".572" stop-color="#b3b3ff"/><stop offset=".5813" stop-color="#cfcfff"/><stop offset=".5888" stop-color="#dfdfff"/><stop offset=".5981" stop-color="#ebebff"/><stop offset=".6112" stop-color="#f7f7ff"/><stop offset=".6318" stop-color="#fdfdff"/><stop offset=".9682" stop-color="#fdfdff"/><stop offset=".9701" stop-color="#ffffff"/><stop offset="1" stop-color="#ffffff"/></linearGradient><linearGradient id="h55" gradientUnits="userSpaceOnUse" x1="699" x2="1234" y1="0" y2="0"><stop offset="0" stop-color="#ffffff"/><stop offset=".0224" stop-color="#ffffff"/><stop offset=".0243" stop-color="#fdfdff"/><stop offset=".3682" stop-color="#fdfdff"/><stop offset=".3888" stop-color="#f7f7ff"/><stop offset=".4019" stop-color="#ebebff"/><stop offset=".4112" stop-color="#dfdfff"/><stop offset=".4206" stop-color="#cbcbff"/><stop offset=".4299" stop-color="#adadff"/><stop offset=".4393" stop-color="#8585ff"/><stop offset=".4486" stop-color="#5353ff"/><stop offset=".4617" stop-color="#0101ff"/><stop offset=".4636" stop-color="#0b00f4"/><stop offset=".4766" stop-color="#5900a6"/><stop offset=".4841" stop-color="#7b0084"/><stop offset=".4879" stop-color="#890076"/><stop offset=".4916" stop-color="#93006c"/><stop offset=".4972" stop-color="#9b0064"/><stop offset=".5009" stop-color="#9b0064"/><stop offset=".5065" stop-color="#95006a"/><stop offset=".5103" stop-color="#8d0072"/><stop offset=".514" stop-color="#81007e"/><stop offset=".5234" stop-color="#5700a8"/><stop offset=".529" stop-color="#3700c8"/><stop offset=".5364" stop-color="#0700f8"/><stop offset=".5383" stop-color="#0505ff"/><stop offset=".5514" stop-color="#5555ff"/><stop offset=".5607" stop-color="#8787ff"/><stop offset=".572" stop-color="#b5b5ff"/><stop offset=".5794" stop-color="#cbcbff"/><stop offset=".5907" stop-color="#e3e3ff"/><stop offset=".6" stop-color="#efefff"/><stop offset=".6112" stop-color="#f7f7ff"/><stop offset=".6318" stop-color="#fdfdff"/><stop offset=".9701" stop-color="#fdfdff"/><stop offset=".972" stop-color="#ffffff"/><stop offset="1" stop-color="#ffffff"/></linearGradient><linearGradient id="h56" gradientUnits="userSpaceOnUse" x1="699" x2="1234" y1="0" y2="0"><stop offset="0" stop-color="#ffffff"/><stop offset=".0187" stop-color="#ffffff"/><stop offset=".0206" stop-color="#fdfdff"/><stop offset=".3682" stop-color="#fdfdff"/><stop offset=".3925" stop-color="#f5f5ff"/><stop offset=".4037" stop-color="#ebebff"/><stop offset=".4131" stop-color="#ddddff"/><stop offset=".4224" stop-color="#c7c7ff"/><stop offset=".4318" stop-color="#a9a9ff"/><stop offset=".443" stop-color="#7777ff"/><stop offset=".4486" stop-color="#5959ff"/><stop offset=".4598" stop-color="#1515ff"/><stop offset=".4636" stop-color="#0100fe"/><stop offset=".4729" stop-color="#3900c6"/><stop offset=".4766" stop-color="#4d00b2"/><stop offset=".4841" stop-color="#6f0090"/><stop offset=".4897" stop-color="#81007e"/><stop offset=".4953" stop-color="#8b0074"/><stop offset=".5028" stop-color="#8d0072"/><stop offset=".5103" stop-color="#7f0080"/><stop offset=".5159" stop-color="#6d0092"/><stop offset=".5215" stop-color="#5500aa"/><stop offset=".5271" stop-color="#3700c8"/><stop offset=".5327" stop-color="#1500ea"/><stop offset=".5364" stop-color="#0101ff"/><stop offset=".5477" stop-color="#4545ff"/><stop offset=".5551" stop-color="#6f6fff"/><stop offset=".5626" stop-color="#9393ff"/><stop offset=".5701" stop-color="#b1b1ff"/><stop offset=".5794" stop-color="#cdcdff"/><stop offset=".5869" stop-color="#ddddff"/><stop offset=".5963" stop-color="#ebebff"/><stop offset=".6112" stop-color="#f7f7ff"/><stop offset=".6336" stop-color="#fdfdff"/><stop offset=".9738" stop-color="#fdfdff"/><stop offset=".9757" stop-color="#ffffff"/><stop offset="1" stop-color="#ffffff"/></linearGradient><linearGradient id="h57" gradientUnits="userSpaceOnUse" x1="699" x2="1234" y1="0" y2="0"><stop offset="0" stop-color="#ffffff"/><stop offset=".015" stop-color="#ffffff"/><stop offset=".0168" stop-color="#fdfdff"/><stop offset=".3664" stop-color="#fdfdff"/><stop offset=".3682" stop-color="#fbfbff"/><stop offset=".385" stop-color="#f9f9ff"/><stop offset=".3925" stop-color="#f5f5ff"/><stop offset=".4037" stop-color="#ebebff"/><stop offset=".4112" stop-color="#e1e1ff"/><stop offset=".4224" stop-color="#c9c9ff"/><stop offset=".4336" stop-color="#a5a5ff"/><stop offset=".4411" stop-color="#8585ff"/><stop offset=".4467" stop-color="#6969ff"/><stop offset=".4561" stop-color="#3535ff"/><stop offset=".4617" stop-color="#1313ff"/><stop offset=".4636" stop-color="#0909ff"/><stop offset=".4654" stop-color="#0300fc"/><stop offset=".4766" stop-color="#4100be"/><stop offset=".4841" stop-color="#61009e"/><stop offset=".4916" stop-color="#770088"/><stop offset=".4972" stop-color="#7f0080"/><stop offset=".5009" stop-color="#7f0080"/><stop offset=".5047" stop-color="#7d0082"/><stop offset=".5121" stop-color="#6d0092"/><stop offset=".5178" stop-color="#5900a6"/><stop offset=".5234" stop-color="#3f00c0"/><stop offset=".5327" stop-color="#0d00f2"/><stop offset=".5346" stop-color="#0100fe"/><stop offset=".5364" stop-color="#0909ff"/><stop offset=".5458" stop-color="#4141ff"/><stop offset=".557" stop-color="#7d7dff"/><stop offset=".5682" stop-color="#adadff"/><stop offset=".5757" stop-color="#c5c5ff"/><stop offset=".585" stop-color="#dbdbff"/><stop offset=".5925" stop-color="#e7e7ff"/><stop offset=".6019" stop-color="#f1f1ff"/><stop offset=".615" stop-color="#f9f9ff"/><stop offset=".6318" stop-color="#fbfbff"/><stop offset=".6336" stop-color="#fdfdff"/><stop offset=".9776" stop-color="#fdfdff"/><stop offset=".9794" stop-color="#ffffff"/><stop offset="1" stop-color="#ffffff"/></linearGradient><linearGradient id="h58" gradientUnits="userSpaceOnUse" x1="699" x2="1234" y1="0" y2="0"><stop offset="0" stop-color="#ffffff"/><stop offset=".0112" stop-color="#ffffff"/><stop offset=".0131" stop-color="#fdfdff"/><stop offset=".3664" stop-color="#fdfdff"/><stop offset=".3682" stop-color="#fbfbff"/><stop offset=".385" stop-color="#f9f9ff"/><stop offset=".3963" stop-color="#f3f3ff"/><stop offset=".4131" stop-color="#dfdfff"/><stop offset=".4224" stop-color="#cbcbff"/><stop offset=".4318" stop-color="#afafff"/><stop offset=".4411" stop-color="#8989ff"/><stop offset=".4486" stop-color="#6565ff"/><stop offset=".4654" stop-color="#0707ff"/><stop offset=".4673" stop-color="#0300fc"/><stop offset=".471" stop-color="#1900e6"/><stop offset=".4766" stop-color="#3500ca"/><stop offset=".4822" stop-color="#4d00b2"/><stop offset=".4916" stop-color="#690096"/><stop offset=".4953" stop-color="#6f0090"/><stop offset=".5009" stop-color="#71008e"/><stop offset=".5065" stop-color="#6b0094"/><stop offset=".5121" stop-color="#5f00a0"/><stop offset=".5159" stop-color="#5300ac"/><stop offset=".5234" stop-color="#3300cc"/><stop offset=".5327" stop-color="#0300fc"/><stop offset=".5346" stop-color="#0909ff"/><stop offset=".5551" stop-color="#7979ff"/><stop offset=".5664" stop-color="#a9a9ff"/><stop offset=".5738" stop-color="#c1c1ff"/><stop offset=".5776" stop-color="#cbcbff"/><stop offset=".5907" stop-color="#e5e5ff"/><stop offset=".6037" stop-color="#f3f3ff"/><stop offset=".615" stop-color="#f9f9ff"/><stop offset=".6318" stop-color="#fbfbff"/><stop offset=".6336" stop-color="#fdfdff"/><stop offset=".9813" stop-color="#fdfdff"/><stop offset=".9832" stop-color="#ffffff"/><stop offset="1" stop-color="#ffffff"/></linearGradient><linearGradient id="h59" gradientUnits="userSpaceOnUse" x1="699" x2="1234" y1="0" y2="0"><stop offset="0" stop-color="#ffffff"/><stop offset=".0093" stop-color="#ffffff"/><stop offset=".0112" stop-color="#fdfdff"/><stop offset=".3664" stop-color="#fdfdff"/><stop offset=".3682" stop-color="#fbfbff"/><stop offset=".385" stop-color="#f9f9ff"/><stop offset=".3963" stop-color="#f3f3ff"/><stop offset=".415" stop-color="#ddddff"/><stop offset=".4224" stop-color="#cdcdff"/><stop offset=".4336" stop-color="#ababff"/><stop offset=".4449" stop-color="#7d7dff"/><stop offset=".4486" stop-color="#6b6bff"/><stop offset=".4673" stop-color="#0707ff"/><stop offset=".4692" stop-color="#0300fc"/><stop offset=".4766" stop-color="#2900d6"/><stop offset=".4804" stop-color="#3900c6"/><stop offset=".486" stop-color="#4d00b2"/><stop offset=".4916" stop-color="#5b00a4"/><stop offset=".4991" stop-color="#63009c"/><stop offset=".5065" stop-color="#5d00a2"/><stop offset=".5121" stop-color="#5100ae"/><stop offset=".5178" stop-color="#3f00c0"/><stop offset=".5252" stop-color="#1f00e0"/><stop offset=".5308" stop-color="#0300fc"/><stop offset=".5327" stop-color="#0707ff"/><stop offset=".5439" stop-color="#4545ff"/><stop offset=".5533" stop-color="#7575ff"/><stop offset=".5645" stop-color="#a5a5ff"/><stop offset=".5738" stop-color="#c3c3ff"/><stop offset=".5776" stop-color="#cdcdff"/><stop offset=".5888" stop-color="#e3e3ff"/><stop offset=".6037" stop-color="#f3f3ff"/><stop offset=".615" stop-color="#f9f9ff"/><stop offset=".6318" stop-color="#fbfbff"/><stop offset=".6336" stop-color="#fdfdff"/><stop offset=".985" stop-color="#fdfdff"/><stop offset=".9869" stop-color="#ffffff"/><stop offset="1" stop-color="#ffffff"/></linearGradient><linearGradient id="h60" gradientUnits="userSpaceOnUse" x1="699" x2="1234" y1="0" y2="0"><stop offset="0" stop-color="#ffffff"/><stop offset=".0075" stop-color="#fdfdff"/><stop offset=".3664" stop-color="#fdfdff"/><stop offset=".3682" stop-color="#fbfbff"/><stop offset=".385" stop-color="#f9f9ff"/><stop offset=".3963" stop-color="#f3f3ff"/><stop offset=".4075" stop-color="#e9e9ff"/><stop offset=".4187" stop-color="#d7d7ff"/><stop offset=".4262" stop-color="#c5c5ff"/><stop offset=".4374" stop-color="#a1a1ff"/><stop offset=".4486" stop-color="#7171ff"/><stop offset=".4692" stop-color="#0707ff"/><stop offset=".471" stop-color="#0300fc"/><stop offset=".4766" stop-color="#1d00e2"/><stop offset=".4822" stop-color="#3300cc"/><stop offset=".4897" stop-color="#4900b6"/><stop offset=".4972" stop-color="#5300ac"/><stop offset=".5028" stop-color="#5300ac"/><stop offset=".5065" stop-color="#4f00b0"/><stop offset=".514" stop-color="#3f00c0"/><stop offset=".5196" stop-color="#2b00d4"/><stop offset=".5271" stop-color="#0b00f4"/><stop offset=".529" stop-color="#0100fe"/><stop offset=".5327" stop-color="#1111ff"/><stop offset=".5421" stop-color="#4343ff"/><stop offset=".5551" stop-color="#8383ff"/><stop offset=".5589" stop-color="#9393ff"/><stop offset=".5701" stop-color="#bbbbff"/><stop offset=".5776" stop-color="#cfcfff"/><stop offset=".5832" stop-color="#dbdbff"/><stop offset=".5925" stop-color="#e9e9ff"/><stop offset=".5981" stop-color="#efefff"/><stop offset=".615" stop-color="#f9f9ff"/><stop offset=".6336" stop-color="#fbfbff"/><stop offset=".6355" stop-color="#fdfdff"/><stop offset=".9869" stop-color="#fdfdff"/><stop offset=".9888" stop-color="#ffffff"/><stop offset="1" stop-color="#ffffff"/></linearGradient><linearGradient id="h61" gradientUnits="userSpaceOnUse" x1="699" x2="1234" y1="0" y2="0"><stop offset="0" stop-color="#ffffff"/><stop offset=".0037" stop-color="#fdfdff"/><stop offset=".3645" stop-color="#fdfdff"/><stop offset=".3944" stop-color="#f5f5ff"/><stop offset=".4112" stop-color="#e5e5ff"/><stop offset=".4168" stop-color="#dbdbff"/><stop offset=".4299" stop-color="#bdbdff"/><stop offset=".4374" stop-color="#a5a5ff"/><stop offset=".4467" stop-color="#7f7fff"/><stop offset=".4561" stop-color="#5353ff"/><stop offset=".4654" stop-color="#2323ff"/><stop offset=".4729" stop-color="#0100fe"/><stop offset=".4804" stop-color="#1f00e0"/><stop offset=".4879" stop-color="#3700c8"/><stop offset=".4916" stop-color="#3f00c0"/><stop offset=".4972" stop-color="#4500ba"/><stop offset=".5028" stop-color="#4500ba"/><stop offset=".5103" stop-color="#3b00c4"/><stop offset=".514" stop-color="#3100ce"/><stop offset=".5196" stop-color="#1f00e0"/><stop offset=".5271" stop-color="#0101ff"/><stop offset=".5514" stop-color="#7777ff"/><stop offset=".5626" stop-color="#a5a5ff"/><stop offset=".572" stop-color="#c3c3ff"/><stop offset=".5794" stop-color="#d5d5ff"/><stop offset=".5888" stop-color="#e5e5ff"/><stop offset=".6" stop-color="#f1f1ff"/><stop offset=".6093" stop-color="#f7f7ff"/><stop offset=".6355" stop-color="#fdfdff"/><stop offset=".9907" stop-color="#fdfdff"/><stop offset="1" stop-color="#ffffff"/></linearGradient><linearGradient id="h62" gradientUnits="userSpaceOnUse" x1="699" x2="1234" y1="0" y2="0"><stop offset="0" stop-color="#ffffff"/><stop offset=".0019" stop-color="#fdfdff"/><stop offset=".3645" stop-color="#fdfdff"/><stop offset=".3907" stop-color="#f7f7ff"/><stop offset=".4" stop-color="#f1f1ff"/><stop offset=".4131" stop-color="#e3e3ff"/><stop offset=".428" stop-color="#c5c5ff"/><stop offset=".4336" stop-color="#b5b5ff"/><stop offset=".4411" stop-color="#9b9bff"/><stop offset=".4542" stop-color="#6363ff"/><stop offset=".4636" stop-color="#3535ff"/><stop offset=".4748" stop-color="#0303ff"/><stop offset=".4766" stop-color="#0500fa"/><stop offset=".4785" stop-color="#0d00f2"/><stop offset=".486" stop-color="#2500da"/><stop offset=".4916" stop-color="#3100ce"/><stop offset=".4972" stop-color="#3700c8"/><stop offset=".5028" stop-color="#3700c8"/><stop offset=".5084" stop-color="#3100ce"/><stop offset=".5121" stop-color="#2900d6"/><stop offset=".5178" stop-color="#1900e6"/><stop offset=".5234" stop-color="#0500fa"/><stop offset=".5252" stop-color="#0303ff"/><stop offset=".5514" stop-color="#7d7dff"/><stop offset=".5589" stop-color="#9b9bff"/><stop offset=".5664" stop-color="#b5b5ff"/><stop offset=".572" stop-color="#c5c5ff"/><stop offset=".5869" stop-color="#e3e3ff"/><stop offset=".6" stop-color="#f1f1ff"/><stop offset=".6093" stop-color="#f7f7ff"/><stop offset=".6374" stop-color="#fdfdff"/><stop offset=".9925" stop-color="#fdfdff"/><stop offset="1" stop-color="#ffffff"/></linearGradient><linearGradient id="h63" gradientUnits="userSpaceOnUse" x1="699" x2="1234" y1="0" y2="0"><stop offset="0" stop-color="#fdfdff"/><stop offset=".3626" stop-color="#fdfdff"/><stop offset=".3907" stop-color="#f7f7ff"/><stop offset=".3981" stop-color="#f3f3ff"/><stop offset=".4093" stop-color="#e9e9ff"/><stop offset=".4187" stop-color="#dbdbff"/><stop offset=".4318" stop-color="#bdbdff"/><stop offset=".4449" stop-color="#9191ff"/><stop offset=".4579" stop-color="#5959ff"/><stop offset=".4673" stop-color="#2d2dff"/><stop offset=".4748" stop-color="#0d0dff"/><stop offset=".4785" stop-color="#0100fe"/><stop offset=".4841" stop-color="#1300ec"/><stop offset=".4897" stop-color="#2100de"/><stop offset=".4991" stop-color="#2b00d4"/><stop offset=".5084" stop-color="#2300dc"/><stop offset=".5159" stop-color="#1300ec"/><stop offset=".5215" stop-color="#0100fe"/><stop offset=".5308" stop-color="#2525ff"/><stop offset=".5421" stop-color="#5959ff"/><stop offset=".5551" stop-color="#9191ff"/><stop offset=".5682" stop-color="#bdbdff"/><stop offset=".5813" stop-color="#dbdbff"/><stop offset=".5907" stop-color="#e9e9ff"/><stop offset=".6019" stop-color="#f3f3ff"/><stop offset=".6093" stop-color="#f7f7ff"/><stop offset=".6374" stop-color="#fdfdff"/><stop offset=".9963" stop-color="#fdfdff"/><stop offset="1" stop-color="#ffffff"/></linearGradient><linearGradient id="h64" gradientUnits="userSpaceOnUse" x1="699" x2="1234" y1="0" y2="0"><stop offset="0" stop-color="#fdfdff"/><stop offset=".3607" stop-color="#fdfdff"/><stop offset=".3626" stop-color="#fbfbff"/><stop offset=".3776" stop-color="#fbfbff"/><stop offset=".3907" stop-color="#f7f7ff"/><stop offset=".4037" stop-color="#efefff"/><stop offset=".4131" stop-color="#e5e5ff"/><stop offset=".4224" stop-color="#d5d5ff"/><stop offset=".428" stop-color="#c9c9ff"/><stop offset=".4355" stop-color="#b5b5ff"/><stop offset=".4411" stop-color="#a3a3ff"/><stop offset=".4486" stop-color="#8787ff"/><stop offset=".4729" stop-color="#1f1fff"/><stop offset=".4785" stop-color="#0b0bff"/><stop offset=".4822" stop-color="#0100fe"/><stop offset=".4916" stop-color="#1700e8"/><stop offset=".4972" stop-color="#1d00e2"/><stop offset=".5028" stop-color="#1d00e2"/><stop offset=".5084" stop-color="#1700e8"/><stop offset=".5178" stop-color="#0100fe"/><stop offset=".5215" stop-color="#0b0bff"/><stop offset=".5271" stop-color="#1f1fff"/><stop offset=".5514" stop-color="#8787ff"/><stop offset=".5589" stop-color="#a3a3ff"/><stop offset=".5645" stop-color="#b5b5ff"/><stop offset=".5738" stop-color="#cdcdff"/><stop offset=".5794" stop-color="#d9d9ff"/><stop offset=".5869" stop-color="#e5e5ff"/><stop offset=".5963" stop-color="#efefff"/><stop offset=".6093" stop-color="#f7f7ff"/><stop offset=".6224" stop-color="#fbfbff"/><stop offset=".6374" stop-color="#fbfbff"/><stop offset=".6393" stop-color="#fdfdff"/><stop offset=".9981" stop-color="#fdfdff"/><stop offset="1" stop-color="#ffffff"/></linearGradient><linearGradient id="h65" gradientUnits="userSpaceOnUse" x1="699" x2="1234" y1="0" y2="0"><stop offset="0" stop-color="#fdfdff"/><stop offset=".3589" stop-color="#fdfdff"/><stop offset=".3607" stop-color="#fbfbff"/><stop offset=".3776" stop-color="#fbfbff"/><stop offset=".3907" stop-color="#f7f7ff"/><stop offset=".4019" stop-color="#f1f1ff"/><stop offset=".415" stop-color="#e3e3ff"/><stop offset=".4224" stop-color="#d7d7ff"/><stop offset=".4299" stop-color="#c7c7ff"/><stop offset=".4393" stop-color="#adadff"/><stop offset=".4467" stop-color="#9393ff"/><stop offset=".4579" stop-color="#6767ff"/><stop offset=".4692" stop-color="#3737ff"/><stop offset=".4766" stop-color="#1b1bff"/><stop offset=".486" stop-color="#0101ff"/><stop offset=".4879" stop-color="#0300fc"/><stop offset=".4916" stop-color="#0b00f4"/><stop offset=".5009" stop-color="#1100ee"/><stop offset=".5084" stop-color="#0b00f4"/><stop offset=".514" stop-color="#0101ff"/><stop offset=".5234" stop-color="#1b1bff"/><stop offset=".5308" stop-color="#3737ff"/><stop offset=".5421" stop-color="#6767ff"/><stop offset=".5533" stop-color="#9393ff"/><stop offset=".5701" stop-color="#c7c7ff"/><stop offset=".5776" stop-color="#d7d7ff"/><stop offset=".585" stop-color="#e3e3ff"/><stop offset=".5981" stop-color="#f1f1ff"/><stop offset=".6093" stop-color="#f7f7ff"/><stop offset=".6224" stop-color="#fbfbff"/><stop offset=".6411" stop-color="#fbfbff"/><stop offset=".643" stop-color="#fdfdff"/><stop offset="1" stop-color="#fdfdff"/></linearGradient><linearGradient id="h66" gradientUnits="userSpaceOnUse" x1="699" x2="1234" y1="0" y2="0"><stop offset="0" stop-color="#fdfdff"/><stop offset=".3551" stop-color="#fdfdff"/><stop offset=".357" stop-color="#fbfbff"/><stop offset=".3776" stop-color="#fbfbff"/><stop offset=".3963" stop-color="#f5f5ff"/><stop offset=".4093" stop-color="#ebebff"/><stop offset=".4187" stop-color="#dfdfff"/><stop offset=".4262" stop-color="#d1d1ff"/><stop offset=".4355" stop-color="#bbbbff"/><stop offset=".4486" stop-color="#9191ff"/><stop offset=".4561" stop-color="#7575ff"/><stop offset=".4673" stop-color="#4747ff"/><stop offset=".4785" stop-color="#1f1fff"/><stop offset=".4879" stop-color="#0707ff"/><stop offset=".4916" stop-color="#0101ff"/><stop offset=".4935" stop-color="#0100fe"/><stop offset=".5009" stop-color="#0500fa"/><stop offset=".5084" stop-color="#0101ff"/><stop offset=".5159" stop-color="#0f0fff"/><stop offset=".5215" stop-color="#1f1fff"/><stop offset=".529" stop-color="#3939ff"/><stop offset=".5514" stop-color="#9191ff"/><stop offset=".5626" stop-color="#b5b5ff"/><stop offset=".5738" stop-color="#d1d1ff"/><stop offset=".5832" stop-color="#e1e1ff"/><stop offset=".5925" stop-color="#ebebff"/><stop offset=".5981" stop-color="#f1f1ff"/><stop offset=".6093" stop-color="#f7f7ff"/><stop offset=".6243" stop-color="#fbfbff"/><stop offset=".643" stop-color="#fbfbff"/><stop offset=".6449" stop-color="#fdfdff"/><stop offset="1" stop-color="#fdfdff"/></linearGradient><linearGradient id="h67" gradientUnits="userSpaceOnUse" x1="699" x2="1234" y1="0" y2="0"><stop offset="0" stop-color="#fdfdff"/><stop offset=".3514" stop-color="#fdfdff"/><stop offset=".3533" stop-color="#fbfbff"/><stop offset=".3757" stop-color="#fbfbff"/><stop offset=".3963" stop-color="#f5f5ff"/><stop offset=".415" stop-color="#e5e5ff"/><stop offset=".4206" stop-color="#ddddff"/><stop offset=".4318" stop-color="#c7c7ff"/><stop offset=".4393" stop-color="#b3b3ff"/><stop offset=".4505" stop-color="#8f8fff"/><stop offset=".4673" stop-color="#4f4fff"/><stop offset=".4785" stop-color="#2929ff"/><stop offset=".4897" stop-color="#0f0fff"/><stop offset=".4972" stop-color="#0707ff"/><stop offset=".5028" stop-color="#0707ff"/><stop offset=".5103" stop-color="#0f0fff"/><stop offset=".5196" stop-color="#2323ff"/><stop offset=".529" stop-color="#4141ff"/><stop offset=".5514" stop-color="#9595ff"/><stop offset=".5607" stop-color="#b3b3ff"/><stop offset=".572" stop-color="#cfcfff"/><stop offset=".5813" stop-color="#dfdfff"/><stop offset=".5907" stop-color="#ebebff"/><stop offset=".6093" stop-color="#f7f7ff"/><stop offset=".6243" stop-color="#fbfbff"/><stop offset=".6486" stop-color="#fbfbff"/><stop offset=".6505" stop-color="#fdfdff"/><stop offset="1" stop-color="#fdfdff"/></linearGradient><linearGradient id="h68" gradientUnits="userSpaceOnUse" x1="699" x2="1234" y1="0" y2="0"><stop offset="0" stop-color="#fdfdff"/><stop offset=".3421" stop-color="#fdfdff"/><stop offset=".3439" stop-color="#fbfbff"/><stop offset=".3757" stop-color="#fbfbff"/><stop offset=".3963" stop-color="#f5f5ff"/><stop offset=".4056" stop-color="#efefff"/><stop offset=".4187" stop-color="#e1e1ff"/><stop offset=".4318" stop-color="#c9c9ff"/><stop offset=".443" stop-color="#ababff"/><stop offset=".4542" stop-color="#8787ff"/><stop offset=".4654" stop-color="#5d5dff"/><stop offset=".4729" stop-color="#4545ff"/><stop offset=".4748" stop-color="#3d3dff"/><stop offset=".4804" stop-color="#2d2dff"/><stop offset=".4897" stop-color="#1919ff"/><stop offset=".4991" stop-color="#1111ff"/><stop offset=".5047" stop-color="#1313ff"/><stop offset=".5103" stop-color="#1919ff"/><stop offset=".5196" stop-color="#2d2dff"/><stop offset=".529" stop-color="#4949ff"/><stop offset=".5421" stop-color="#7979ff"/><stop offset=".557" stop-color="#ababff"/><stop offset=".5645" stop-color="#bfbfff"/><stop offset=".5757" stop-color="#d7d7ff"/><stop offset=".5832" stop-color="#e3e3ff"/><stop offset=".5925" stop-color="#ededff"/><stop offset=".6093" stop-color="#f7f7ff"/><stop offset=".6262" stop-color="#fbfbff"/><stop offset=".6598" stop-color="#fbfbff"/><stop offset=".6617" stop-color="#fdfdff"/><stop offset="1" stop-color="#fdfdff"/></linearGradient><linearGradient id="h69" gradientUnits="userSpaceOnUse" x1="699" x2="1234" y1="0" y2="0"><stop offset="0" stop-color="#fdfdff"/><stop offset=".0523" stop-color="#fdfdff"/><stop offset=".0542" stop-color="#fbfbff"/><stop offset=".1514" stop-color="#fbfbff"/><stop offset=".157" stop-color="#fdfdff"/><stop offset=".3738" stop-color="#fbfbff"/><stop offset=".3963" stop-color="#f5f5ff"/><stop offset=".4056" stop-color="#efefff"/><stop offset=".4206" stop-color="#dfdfff"/><stop offset=".4299" stop-color="#cfcfff"/><stop offset=".443" stop-color="#afafff"/><stop offset=".4579" stop-color="#7f7fff"/><stop offset=".4729" stop-color="#4b4bff"/><stop offset=".4822" stop-color="#3131ff"/><stop offset=".4897" stop-color="#2323ff"/><stop offset=".4991" stop-color="#1b1bff"/><stop offset=".5047" stop-color="#1d1dff"/><stop offset=".5103" stop-color="#2323ff"/><stop offset=".5196" stop-color="#3535ff"/><stop offset=".5346" stop-color="#6363ff"/><stop offset=".5458" stop-color="#8b8bff"/><stop offset=".5533" stop-color="#a3a3ff"/><stop offset=".5626" stop-color="#bdbdff"/><stop offset=".5738" stop-color="#d5d5ff"/><stop offset=".5813" stop-color="#e1e1ff"/><stop offset=".5944" stop-color="#efefff"/><stop offset=".6093" stop-color="#f7f7ff"/><stop offset=".6262" stop-color="#fbfbff"/><stop offset=".9271" stop-color="#fbfbff"/><stop offset=".929" stop-color="#fdfdff"/><stop offset="1" stop-color="#fdfdff"/></linearGradient><linearGradient id="h70" gradientUnits="userSpaceOnUse" x1="699" x2="1234" y1="0" y2="0"><stop offset="0" stop-color="#fdfdff"/><stop offset=".0393" stop-color="#fdfdff"/><stop offset=".0411" stop-color="#fbfbff"/><stop offset=".3738" stop-color="#fbfbff"/><stop offset=".3963" stop-color="#f5f5ff"/><stop offset=".4037" stop-color="#f1f1ff"/><stop offset=".4168" stop-color="#e5e5ff"/><stop offset=".4336" stop-color="#c9c9ff"/><stop offset=".4467" stop-color="#a7a7ff"/><stop offset=".4748" stop-color="#4d4dff"/><stop offset=".4785" stop-color="#4343ff"/><stop offset=".4879" stop-color="#2f2fff"/><stop offset=".4972" stop-color="#2525ff"/><stop offset=".5065" stop-color="#2727ff"/><stop offset=".5178" stop-color="#3939ff"/><stop offset=".5308" stop-color="#5d5dff"/><stop offset=".5495" stop-color="#9b9bff"/><stop offset=".557" stop-color="#b1b1ff"/><stop offset=".572" stop-color="#d3d3ff"/><stop offset=".5794" stop-color="#dfdfff"/><stop offset=".6" stop-color="#f3f3ff"/><stop offset=".628" stop-color="#fbfbff"/><stop offset=".9477" stop-color="#fbfbff"/><stop offset=".9495" stop-color="#fdfdff"/><stop offset="1" stop-color="#fdfdff"/></linearGradient><linearGradient id="h71" gradientUnits="userSpaceOnUse" x1="699" x2="1234" y1="0" y2="0"><stop offset="0" stop-color="#fdfdff"/><stop offset=".0299" stop-color="#fdfdff"/><stop offset=".0318" stop-color="#fbfbff"/><stop offset=".3701" stop-color="#fbfbff"/><stop offset=".3963" stop-color="#f5f5ff"/><stop offset=".4093" stop-color="#ededff"/><stop offset=".4206" stop-color="#e1e1ff"/><stop offset=".428" stop-color="#d5d5ff"/><stop offset=".4411" stop-color="#b9b9ff"/><stop offset=".4486" stop-color="#a5a5ff"/><stop offset=".4766" stop-color="#4f4fff"/><stop offset=".4879" stop-color="#3737ff"/><stop offset=".4991" stop-color="#2d2dff"/><stop offset=".5047" stop-color="#2f2fff"/><stop offset=".5121" stop-color="#3737ff"/><stop offset=".5196" stop-color="#4545ff"/><stop offset=".5327" stop-color="#6969ff"/><stop offset=".5533" stop-color="#a9a9ff"/><stop offset=".5607" stop-color="#bdbdff"/><stop offset=".5701" stop-color="#d1d1ff"/><stop offset=".5869" stop-color="#e9e9ff"/><stop offset=".6" stop-color="#f3f3ff"/><stop offset=".6093" stop-color="#f7f7ff"/><stop offset=".628" stop-color="#f9f9ff"/><stop offset=".6299" stop-color="#fbfbff"/><stop offset=".9589" stop-color="#fbfbff"/><stop offset=".9607" stop-color="#fdfdff"/><stop offset="1" stop-color="#fdfdff"/></linearGradient><linearGradient id="h72" gradientUnits="userSpaceOnUse" x1="699" x2="1234" y1="0" y2="0"><stop offset="0" stop-color="#fdfdff"/><stop offset=".0243" stop-color="#fdfdff"/><stop offset=".0262" stop-color="#fbfbff"/><stop offset=".3682" stop-color="#fbfbff"/><stop offset=".3701" stop-color="#f9f9ff"/><stop offset=".3832" stop-color="#f9f9ff"/><stop offset=".3963" stop-color="#f5f5ff"/><stop offset=".4093" stop-color="#ededff"/><stop offset=".4224" stop-color="#dfdfff"/><stop offset=".4299" stop-color="#d3d3ff"/><stop offset=".443" stop-color="#b7b7ff"/><stop offset=".4785" stop-color="#5151ff"/><stop offset=".4879" stop-color="#3f3fff"/><stop offset=".4953" stop-color="#3737ff"/><stop offset=".5047" stop-color="#3737ff"/><stop offset=".514" stop-color="#4141ff"/><stop offset=".5234" stop-color="#5555ff"/><stop offset=".5308" stop-color="#6969ff"/><stop offset=".5514" stop-color="#a7a7ff"/><stop offset=".5607" stop-color="#bfbfff"/><stop offset=".5682" stop-color="#cfcfff"/><stop offset=".5813" stop-color="#e3e3ff"/><stop offset=".5888" stop-color="#ebebff"/><stop offset=".6" stop-color="#f3f3ff"/><stop offset=".6336" stop-color="#fbfbff"/><stop offset=".9664" stop-color="#fbfbff"/><stop offset=".9682" stop-color="#fdfdff"/><stop offset="1" stop-color="#fdfdff"/></linearGradient><linearGradient id="h73" gradientUnits="userSpaceOnUse" x1="699" x2="1234" y1="0" y2="0"><stop offset="0" stop-color="#fdfdff"/><stop offset=".0187" stop-color="#fdfdff"/><stop offset=".0206" stop-color="#fbfbff"/><stop offset=".3645" stop-color="#fbfbff"/><stop offset=".3664" stop-color="#f9f9ff"/><stop offset=".3813" stop-color="#f9f9ff"/><stop offset=".3963" stop-color="#f5f5ff"/><stop offset=".4093" stop-color="#ededff"/><stop offset=".4243" stop-color="#ddddff"/><stop offset=".4318" stop-color="#d1d1ff"/><stop offset=".4449" stop-color="#b5b5ff"/><stop offset=".4748" stop-color="#6161ff"/><stop offset=".486" stop-color="#4949ff"/><stop offset=".4991" stop-color="#3d3dff"/><stop offset=".5084" stop-color="#4141ff"/><stop offset=".5178" stop-color="#4f4fff"/><stop offset=".5234" stop-color="#5b5bff"/><stop offset=".5346" stop-color="#7979ff"/><stop offset=".5533" stop-color="#afafff"/><stop offset=".5607" stop-color="#c1c1ff"/><stop offset=".5701" stop-color="#d3d3ff"/><stop offset=".5776" stop-color="#dfdfff"/><stop offset=".5888" stop-color="#ebebff"/><stop offset=".6056" stop-color="#f5f5ff"/><stop offset=".6206" stop-color="#f9f9ff"/><stop offset=".6355" stop-color="#f9f9ff"/><stop offset=".6374" stop-color="#fbfbff"/><stop offset=".972" stop-color="#fbfbff"/><stop offset=".9738" stop-color="#fdfdff"/><stop offset="1" stop-color="#fdfdff"/></linearGradient><linearGradient id="h74" gradientUnits="userSpaceOnUse" x1="699" x2="1234" y1="0" y2="0"><stop offset="0" stop-color="#fdfdff"/><stop offset=".0131" stop-color="#fdfdff"/><stop offset=".015" stop-color="#fbfbff"/><stop offset=".3589" stop-color="#fbfbff"/><stop offset=".3607" stop-color="#f9f9ff"/><stop offset=".3794" stop-color="#f9f9ff"/><stop offset=".4" stop-color="#f3f3ff"/><stop offset=".4168" stop-color="#e7e7ff"/><stop offset=".4336" stop-color="#cfcfff"/><stop offset=".4505" stop-color="#a9a9ff"/><stop offset=".4729" stop-color="#6b6bff"/><stop offset=".4879" stop-color="#4d4dff"/><stop offset=".4972" stop-color="#4545ff"/><stop offset=".5047" stop-color="#4545ff"/><stop offset=".5178" stop-color="#5555ff"/><stop offset=".5252" stop-color="#6565ff"/><stop offset=".5533" stop-color="#b1b1ff"/><stop offset=".5682" stop-color="#d1d1ff"/><stop offset=".5757" stop-color="#ddddff"/><stop offset=".5888" stop-color="#ebebff"/><stop offset=".6056" stop-color="#f5f5ff"/><stop offset=".6206" stop-color="#f9f9ff"/><stop offset=".6411" stop-color="#f9f9ff"/><stop offset=".643" stop-color="#fbfbff"/><stop offset=".9776" stop-color="#fbfbff"/><stop offset=".9794" stop-color="#fdfdff"/><stop offset="1" stop-color="#fdfdff"/></linearGradient><linearGradient id="h75" gradientUnits="userSpaceOnUse" x1="699" x2="1234" y1="0" y2="0"><stop offset="0" stop-color="#fdfdff"/><stop offset=".0093" stop-color="#fdfdff"/><stop offset=".0112" stop-color="#fbfbff"/><stop offset=".3477" stop-color="#fbfbff"/><stop offset=".3495" stop-color="#f9f9ff"/><stop offset=".3776" stop-color="#f9f9ff"/><stop offset=".4" stop-color="#f3f3ff"/><stop offset=".415" stop-color="#e9e9ff"/><stop offset=".4224" stop-color="#e1e1ff"/><stop offset=".4318" stop-color="#d3d3ff"/><stop offset=".4467" stop-color="#b5b5ff"/><stop offset=".471" stop-color="#7575ff"/><stop offset=".4841" stop-color="#5959ff"/><stop offset=".4879" stop-color="#5353ff"/><stop offset=".4972" stop-color="#4b4bff"/><stop offset=".5065" stop-color="#4d4dff"/><stop offset=".5178" stop-color="#5b5bff"/><stop offset=".529" stop-color="#7373ff"/><stop offset=".5514" stop-color="#afafff"/><stop offset=".5664" stop-color="#cfcfff"/><stop offset=".5738" stop-color="#dbdbff"/><stop offset=".5888" stop-color="#ebebff"/><stop offset=".6131" stop-color="#f7f7ff"/><stop offset=".6542" stop-color="#f9f9ff"/><stop offset=".6561" stop-color="#fbfbff"/><stop offset=".9832" stop-color="#fbfbff"/><stop offset=".985" stop-color="#fdfdff"/><stop offset="1" stop-color="#fdfdff"/></linearGradient><linearGradient id="h76" gradientUnits="userSpaceOnUse" x1="699" x2="1234" y1="0" y2="0"><stop offset="0" stop-color="#fdfdff"/><stop offset=".0056" stop-color="#fbfbff"/><stop offset=".0486" stop-color="#fbfbff"/><stop offset=".0505" stop-color="#f9f9ff"/><stop offset=".1607" stop-color="#f9f9ff"/><stop offset=".1626" stop-color="#fbfbff"/><stop offset=".1925" stop-color="#fbfbff"/><stop offset=".1944" stop-color="#f9f9ff"/><stop offset=".3757" stop-color="#f9f9ff"/><stop offset=".3944" stop-color="#f5f5ff"/><stop offset=".415" stop-color="#e9e9ff"/><stop offset=".4299" stop-color="#d7d7ff"/><stop offset=".4393" stop-color="#c7c7ff"/><stop offset=".4467" stop-color="#b7b7ff"/><stop offset=".471" stop-color="#7979ff"/><stop offset=".4804" stop-color="#6565ff"/><stop offset=".4879" stop-color="#5959ff"/><stop offset=".4972" stop-color="#5151ff"/><stop offset=".5065" stop-color="#5353ff"/><stop offset=".5159" stop-color="#5d5dff"/><stop offset=".5215" stop-color="#6767ff"/><stop offset=".5271" stop-color="#7373ff"/><stop offset=".5514" stop-color="#b1b1ff"/><stop offset=".5682" stop-color="#d3d3ff"/><stop offset=".5888" stop-color="#ebebff"/><stop offset=".6075" stop-color="#f5f5ff"/><stop offset=".6262" stop-color="#f9f9ff"/><stop offset=".9308" stop-color="#f9f9ff"/><stop offset=".9327" stop-color="#fbfbff"/><stop offset=".9869" stop-color="#fbfbff"/><stop offset=".9888" stop-color="#fdfdff"/><stop offset="1" stop-color="#fdfdff"/></linearGradient><linearGradient id="h77" gradientUnits="userSpaceOnUse" x1="699" x2="1234" y1="0" y2="0"><stop offset="0" stop-color="#fdfdff"/><stop offset=".0019" stop-color="#fbfbff"/><stop offset=".0374" stop-color="#fbfbff"/><stop offset=".0393" stop-color="#f9f9ff"/><stop offset=".372" stop-color="#f9f9ff"/><stop offset=".3738" stop-color="#f7f7ff"/><stop offset=".3925" stop-color="#f5f5ff"/><stop offset=".415" stop-color="#e9e9ff"/><stop offset=".4318" stop-color="#d5d5ff"/><stop offset=".4467" stop-color="#b9b9ff"/><stop offset=".4636" stop-color="#8f8fff"/><stop offset=".4785" stop-color="#6d6dff"/><stop offset=".486" stop-color="#6161ff"/><stop offset=".4972" stop-color="#5757ff"/><stop offset=".5047" stop-color="#5757ff"/><stop offset=".5103" stop-color="#5b5bff"/><stop offset=".5178" stop-color="#6565ff"/><stop offset=".5346" stop-color="#8989ff"/><stop offset=".5551" stop-color="#bbbbff"/><stop offset=".572" stop-color="#d9d9ff"/><stop offset=".5888" stop-color="#ebebff"/><stop offset=".6093" stop-color="#f5f5ff"/><stop offset=".628" stop-color="#f7f7ff"/><stop offset=".6299" stop-color="#f9f9ff"/><stop offset=".9495" stop-color="#f9f9ff"/><stop offset=".9514" stop-color="#fbfbff"/><stop offset=".9907" stop-color="#fbfbff"/><stop offset="1" stop-color="#fdfdff"/></linearGradient><linearGradient id="h78" gradientUnits="userSpaceOnUse" x1="699" x2="1234" y1="0" y2="0"><stop offset="0" stop-color="#fbfbff"/><stop offset=".028" stop-color="#fbfbff"/><stop offset=".0299" stop-color="#f9f9ff"/><stop offset=".3664" stop-color="#f9f9ff"/><stop offset=".3682" stop-color="#f7f7ff"/><stop offset=".3925" stop-color="#f5f5ff"/><stop offset=".415" stop-color="#e9e9ff"/><stop offset=".428" stop-color="#dbdbff"/><stop offset=".4393" stop-color="#c9c9ff"/><stop offset=".4598" stop-color="#9d9dff"/><stop offset=".471" stop-color="#8181ff"/><stop offset=".4822" stop-color="#6b6bff"/><stop offset=".4916" stop-color="#5f5fff"/><stop offset=".5047" stop-color="#5d5dff"/><stop offset=".5121" stop-color="#6363ff"/><stop offset=".5196" stop-color="#6d6dff"/><stop offset=".5626" stop-color="#cbcbff"/><stop offset=".5701" stop-color="#d7d7ff"/><stop offset=".5888" stop-color="#ebebff"/><stop offset=".6093" stop-color="#f5f5ff"/><stop offset=".6336" stop-color="#f7f7ff"/><stop offset=".6355" stop-color="#f9f9ff"/><stop offset=".9607" stop-color="#f9f9ff"/><stop offset=".9626" stop-color="#fbfbff"/><stop offset=".9944" stop-color="#fbfbff"/><stop offset="1" stop-color="#fdfdff"/></linearGradient><linearGradient id="h79" gradientUnits="userSpaceOnUse" x1="699" x2="1234" y1="0" y2="0"><stop offset="0" stop-color="#fbfbff"/><stop offset=".0206" stop-color="#fbfbff"/><stop offset=".0224" stop-color="#f9f9ff"/><stop offset=".357" stop-color="#f9f9ff"/><stop offset=".3589" stop-color="#f7f7ff"/><stop offset=".3907" stop-color="#f5f5ff"/><stop offset=".4093" stop-color="#ededff"/><stop offset=".4299" stop-color="#d9d9ff"/><stop offset=".4411" stop-color="#c7c7ff"/><stop offset=".4617" stop-color="#9b9bff"/><stop offset=".4636" stop-color="#9595ff"/><stop offset=".4804" stop-color="#7373ff"/><stop offset=".4935" stop-color="#6363ff"/><stop offset=".5047" stop-color="#6161ff"/><stop offset=".514" stop-color="#6969ff"/><stop offset=".5252" stop-color="#7b7bff"/><stop offset=".5589" stop-color="#c5c5ff"/><stop offset=".5701" stop-color="#d7d7ff"/><stop offset=".5869" stop-color="#e9e9ff"/><stop offset=".6112" stop-color="#f5f5ff"/><stop offset=".6449" stop-color="#f7f7ff"/><stop offset=".6467" stop-color="#f9f9ff"/><stop offset=".9682" stop-color="#f9f9ff"/><stop offset=".9701" stop-color="#fbfbff"/><stop offset=".9981" stop-color="#fbfbff"/><stop offset="1" stop-color="#fdfdff"/></linearGradient><linearGradient id="h80" gradientUnits="userSpaceOnUse" x1="699" x2="1234" y1="0" y2="0"><stop offset="0" stop-color="#fbfbff"/><stop offset=".0542" stop-color="#f9f9ff"/><stop offset=".0561" stop-color="#f7f7ff"/><stop offset=".2131" stop-color="#f9f9ff"/><stop offset=".215" stop-color="#f7f7ff"/><stop offset=".3757" stop-color="#f7f7ff"/><stop offset=".3776" stop-color="#f5f5ff"/><stop offset=".3888" stop-color="#f5f5ff"/><stop offset=".4056" stop-color="#efefff"/><stop offset=".415" stop-color="#e9e9ff"/><stop offset=".4299" stop-color="#d9d9ff"/><stop offset=".4449" stop-color="#c1c1ff"/><stop offset=".4766" stop-color="#7d7dff"/><stop offset=".4841" stop-color="#7171ff"/><stop offset=".4972" stop-color="#6565ff"/><stop offset=".5028" stop-color="#6565ff"/><stop offset=".5103" stop-color="#6969ff"/><stop offset=".5196" stop-color="#7575ff"/><stop offset=".5234" stop-color="#7b7bff"/><stop offset=".5551" stop-color="#bfbfff"/><stop offset=".5682" stop-color="#d5d5ff"/><stop offset=".5869" stop-color="#e9e9ff"/><stop offset=".6056" stop-color="#f3f3ff"/><stop offset=".6243" stop-color="#f5f5ff"/><stop offset=".6262" stop-color="#f7f7ff"/><stop offset=".9215" stop-color="#f7f7ff"/><stop offset=".9234" stop-color="#f9f9ff"/><stop offset="1" stop-color="#fbfbff"/></linearGradient><linearGradient id="h81" gradientUnits="userSpaceOnUse" x1="699" x2="1234" y1="0" y2="0"><stop offset="0" stop-color="#fbfbff"/><stop offset=".0393" stop-color="#f9f9ff"/><stop offset=".0411" stop-color="#f7f7ff"/><stop offset=".3701" stop-color="#f7f7ff"/><stop offset=".372" stop-color="#f5f5ff"/><stop offset=".3944" stop-color="#f3f3ff"/><stop offset=".4168" stop-color="#e7e7ff"/><stop offset=".4318" stop-color="#d7d7ff"/><stop offset=".4486" stop-color="#bbbbff"/><stop offset=".4729" stop-color="#8787ff"/><stop offset=".4785" stop-color="#7d7dff"/><stop offset=".4935" stop-color="#6b6bff"/><stop offset=".4991" stop-color="#6969ff"/><stop offset=".5103" stop-color="#6d6dff"/><stop offset=".5215" stop-color="#7b7bff"/><stop offset=".5271" stop-color="#8585ff"/><stop offset=".5495" stop-color="#b5b5ff"/><stop offset=".5682" stop-color="#d5d5ff"/><stop offset=".585" stop-color="#e7e7ff"/><stop offset=".6075" stop-color="#f3f3ff"/><stop offset=".6299" stop-color="#f5f5ff"/><stop offset=".6318" stop-color="#f7f7ff"/><stop offset=".9477" stop-color="#f7f7ff"/><stop offset=".9495" stop-color="#f9f9ff"/><stop offset="1" stop-color="#fbfbff"/></linearGradient><linearGradient id="h82" gradientUnits="userSpaceOnUse" x1="699" x2="1234" y1="0" y2="0"><stop offset="0" stop-color="#fbfbff"/><stop offset=".0299" stop-color="#f9f9ff"/><stop offset=".0318" stop-color="#f7f7ff"/><stop offset=".3607" stop-color="#f7f7ff"/><stop offset=".3626" stop-color="#f5f5ff"/><stop offset=".3813" stop-color="#f5f5ff"/><stop offset=".3981" stop-color="#f1f1ff"/><stop offset=".4187" stop-color="#e5e5ff"/><stop offset=".4318" stop-color="#d7d7ff"/><stop offset=".4449" stop-color="#c3c3ff"/><stop offset=".4692" stop-color="#9191ff"/><stop offset=".4804" stop-color="#7d7dff"/><stop offset=".4972" stop-color="#6d6dff"/><stop offset=".5028" stop-color="#6d6dff"/><stop offset=".5103" stop-color="#7171ff"/><stop offset=".5178" stop-color="#7979ff"/><stop offset=".5308" stop-color="#8f8fff"/><stop offset=".5533" stop-color="#bdbdff"/><stop offset=".5682" stop-color="#d5d5ff"/><stop offset=".585" stop-color="#e7e7ff"/><stop offset=".6037" stop-color="#f1f1ff"/><stop offset=".6206" stop-color="#f5f5ff"/><stop offset=".6393" stop-color="#f5f5ff"/><stop offset=".6411" stop-color="#f7f7ff"/><stop offset=".9589" stop-color="#f7f7ff"/><stop offset=".9607" stop-color="#f9f9ff"/><stop offset="1" stop-color="#fbfbff"/></linearGradient><linearGradient id="h83" gradientUnits="userSpaceOnUse" x1="699" x2="1234" y1="0" y2="0"><stop offset="0" stop-color="#fbfbff"/><stop offset=".0037" stop-color="#f9f9ff"/><stop offset=".0224" stop-color="#f9f9ff"/><stop offset=".0243" stop-color="#f7f7ff"/><stop offset=".0561" stop-color="#f7f7ff"/><stop offset=".0579" stop-color="#f5f5ff"/><stop offset=".1327" stop-color="#f5f5ff"/><stop offset=".1346" stop-color="#f7f7ff"/><stop offset=".3159" stop-color="#f5f5ff"/><stop offset=".3178" stop-color="#f7f7ff"/><stop offset=".3327" stop-color="#f7f7ff"/><stop offset=".3346" stop-color="#f5f5ff"/><stop offset=".3776" stop-color="#f5f5ff"/><stop offset=".3963" stop-color="#f1f1ff"/><stop offset=".4187" stop-color="#e5e5ff"/><stop offset=".4318" stop-color="#d7d7ff"/><stop offset=".4486" stop-color="#bdbdff"/><stop offset=".4673" stop-color="#9797ff"/><stop offset=".4785" stop-color="#8383ff"/><stop offset=".4897" stop-color="#7575ff"/><stop offset=".4972" stop-color="#7171ff"/><stop offset=".5084" stop-color="#7373ff"/><stop offset=".5215" stop-color="#8181ff"/><stop offset=".5308" stop-color="#9191ff"/><stop offset=".5495" stop-color="#b7b7ff"/><stop offset=".5682" stop-color="#d5d5ff"/><stop offset=".5832" stop-color="#e5e5ff"/><stop offset=".6056" stop-color="#f1f1ff"/><stop offset=".6243" stop-color="#f3f3ff"/><stop offset=".6262" stop-color="#f5f5ff"/><stop offset=".914" stop-color="#f5f5ff"/><stop offset=".9159" stop-color="#f7f7ff"/><stop offset=".9682" stop-color="#f7f7ff"/><stop offset=".9701" stop-color="#f9f9ff"/><stop offset="1" stop-color="#fbfbff"/></linearGradient><linearGradient id="h84" gradientUnits="userSpaceOnUse" x1="699" x2="1234" y1="0" y2="0"><stop offset="0" stop-color="#f9f9ff"/><stop offset=".0393" stop-color="#f7f7ff"/><stop offset=".0411" stop-color="#f5f5ff"/><stop offset=".3701" stop-color="#f5f5ff"/><stop offset=".372" stop-color="#f3f3ff"/><stop offset=".3944" stop-color="#f1f1ff"/><stop offset=".415" stop-color="#e7e7ff"/><stop offset=".4336" stop-color="#d5d5ff"/><stop offset=".4467" stop-color="#c1c1ff"/><stop offset=".4673" stop-color="#9999ff"/><stop offset=".4804" stop-color="#8383ff"/><stop offset=".4916" stop-color="#7777ff"/><stop offset=".5065" stop-color="#7575ff"/><stop offset=".5196" stop-color="#8181ff"/><stop offset=".5308" stop-color="#9393ff"/><stop offset=".5514" stop-color="#bbbbff"/><stop offset=".5682" stop-color="#d5d5ff"/><stop offset=".5813" stop-color="#e3e3ff"/><stop offset=".6019" stop-color="#efefff"/><stop offset=".6168" stop-color="#f3f3ff"/><stop offset=".6318" stop-color="#f3f3ff"/><stop offset=".6336" stop-color="#f5f5ff"/><stop offset=".9458" stop-color="#f5f5ff"/><stop offset=".9477" stop-color="#f7f7ff"/><stop offset=".9738" stop-color="#f7f7ff"/><stop offset=".9757" stop-color="#f9f9ff"/><stop offset="1" stop-color="#fbfbff"/></linearGradient><linearGradient id="h85" gradientUnits="userSpaceOnUse" x1="699" x2="1234" y1="0" y2="0"><stop offset="0" stop-color="#f9f9ff"/><stop offset=".0299" stop-color="#f7f7ff"/><stop offset=".0318" stop-color="#f5f5ff"/><stop offset=".0729" stop-color="#f5f5ff"/><stop offset=".0748" stop-color="#f3f3ff"/><stop offset=".1009" stop-color="#f3f3ff"/><stop offset=".1028" stop-color="#f5f5ff"/><stop offset=".3551" stop-color="#f5f5ff"/><stop offset=".357" stop-color="#f3f3ff"/><stop offset=".3907" stop-color="#f1f1ff"/><stop offset=".4075" stop-color="#ebebff"/><stop offset=".4243" stop-color="#dfdfff"/><stop offset=".4393" stop-color="#cdcdff"/><stop offset=".4505" stop-color="#bbbbff"/><stop offset=".4729" stop-color="#9191ff"/><stop offset=".4822" stop-color="#8383ff"/><stop offset=".4897" stop-color="#7b7bff"/><stop offset=".4972" stop-color="#7777ff"/><stop offset=".5047" stop-color="#7777ff"/><stop offset=".5159" stop-color="#7f7fff"/><stop offset=".5234" stop-color="#8989ff"/><stop offset=".5364" stop-color="#9f9fff"/><stop offset=".5533" stop-color="#bfbfff"/><stop offset=".5682" stop-color="#d5d5ff"/><stop offset=".5776" stop-color="#dfdfff"/><stop offset=".5907" stop-color="#e9e9ff"/><stop offset=".6112" stop-color="#f1f1ff"/><stop offset=".6467" stop-color="#f3f3ff"/><stop offset=".6486" stop-color="#f5f5ff"/><stop offset=".9589" stop-color="#f5f5ff"/><stop offset=".9607" stop-color="#f7f7ff"/><stop offset=".9794" stop-color="#f7f7ff"/><stop offset=".9813" stop-color="#f9f9ff"/><stop offset=".9981" stop-color="#f9f9ff"/><stop offset="1" stop-color="#fbfbff"/></linearGradient><linearGradient id="h86" gradientUnits="userSpaceOnUse" x1="699" x2="1234" y1="0" y2="0"><stop offset="0" stop-color="#f9f9ff"/><stop offset=".0224" stop-color="#f7f7ff"/><stop offset=".0243" stop-color="#f5f5ff"/><stop offset=".0449" stop-color="#f5f5ff"/><stop offset=".0467" stop-color="#f3f3ff"/><stop offset=".372" stop-color="#f3f3ff"/><stop offset=".3738" stop-color="#f1f1ff"/><stop offset=".3869" stop-color="#f1f1ff"/><stop offset=".4131" stop-color="#e7e7ff"/><stop offset=".4299" stop-color="#d9d9ff"/><stop offset=".4486" stop-color="#bfbfff"/><stop offset=".4766" stop-color="#8d8dff"/><stop offset=".4953" stop-color="#7b7bff"/><stop offset=".5103" stop-color="#7d7dff"/><stop offset=".5234" stop-color="#8b8bff"/><stop offset=".5346" stop-color="#9d9dff"/><stop offset=".5495" stop-color="#b9b9ff"/><stop offset=".5626" stop-color="#cdcdff"/><stop offset=".5832" stop-color="#e3e3ff"/><stop offset=".6075" stop-color="#efefff"/><stop offset=".628" stop-color="#f1f1ff"/><stop offset=".6299" stop-color="#f3f3ff"/><stop offset=".9364" stop-color="#f3f3ff"/><stop offset=".9383" stop-color="#f5f5ff"/><stop offset=".9664" stop-color="#f5f5ff"/><stop offset=".9682" stop-color="#f7f7ff"/><stop offset="1" stop-color="#f9f9ff"/></linearGradient><linearGradient id="h87" gradientUnits="userSpaceOnUse" x1="699" x2="1234" y1="0" y2="0"><stop offset="0" stop-color="#f9f9ff"/><stop offset=".0187" stop-color="#f5f5ff"/><stop offset=".0336" stop-color="#f5f5ff"/><stop offset=".0355" stop-color="#f3f3ff"/><stop offset=".0748" stop-color="#f3f3ff"/><stop offset=".0766" stop-color="#f1f1ff"/><stop offset=".0972" stop-color="#f1f1ff"/><stop offset=".0991" stop-color="#f3f3ff"/><stop offset=".357" stop-color="#f3f3ff"/><stop offset=".3589" stop-color="#f1f1ff"/><stop offset=".3907" stop-color="#efefff"/><stop offset=".415" stop-color="#e5e5ff"/><stop offset=".4393" stop-color="#cdcdff"/><stop offset=".4561" stop-color="#b3b3ff"/><stop offset=".4654" stop-color="#a1a1ff"/><stop offset=".4766" stop-color="#8f8fff"/><stop offset=".4916" stop-color="#7f7fff"/><stop offset=".4953" stop-color="#7d7dff"/><stop offset=".5103" stop-color="#7f7fff"/><stop offset=".5234" stop-color="#8d8dff"/><stop offset=".5364" stop-color="#a1a1ff"/><stop offset=".5458" stop-color="#b3b3ff"/><stop offset=".557" stop-color="#c5c5ff"/><stop offset=".5794" stop-color="#dfdfff"/><stop offset=".5944" stop-color="#e9e9ff"/><stop offset=".6112" stop-color="#efefff"/><stop offset=".6449" stop-color="#f1f1ff"/><stop offset=".6467" stop-color="#f3f3ff"/><stop offset=".9533" stop-color="#f3f3ff"/><stop offset=".9551" stop-color="#f5f5ff"/><stop offset=".9738" stop-color="#f5f5ff"/><stop offset=".9757" stop-color="#f7f7ff"/><stop offset="1" stop-color="#f9f9ff"/></linearGradient><linearGradient id="h88" gradientUnits="userSpaceOnUse" x1="699" x2="1234" y1="0" y2="0"><stop offset="0" stop-color="#f7f7ff"/><stop offset=".0467" stop-color="#f3f3ff"/><stop offset=".0486" stop-color="#f1f1ff"/><stop offset=".372" stop-color="#f1f1ff"/><stop offset=".3738" stop-color="#efefff"/><stop offset=".3869" stop-color="#efefff"/><stop offset=".4056" stop-color="#e9e9ff"/><stop offset=".4243" stop-color="#ddddff"/><stop offset=".4449" stop-color="#c5c5ff"/><stop offset=".4766" stop-color="#9191ff"/><stop offset=".4916" stop-color="#8181ff"/><stop offset=".5065" stop-color="#7f7fff"/><stop offset=".5103" stop-color="#8181ff"/><stop offset=".5252" stop-color="#9191ff"/><stop offset=".5533" stop-color="#bfbfff"/><stop offset=".5664" stop-color="#d1d1ff"/><stop offset=".5757" stop-color="#dbdbff"/><stop offset=".5888" stop-color="#e5e5ff"/><stop offset=".6075" stop-color="#ededff"/><stop offset=".6299" stop-color="#efefff"/><stop offset=".6318" stop-color="#f1f1ff"/><stop offset=".9364" stop-color="#f1f1ff"/><stop offset=".9383" stop-color="#f3f3ff"/><stop offset=".9626" stop-color="#f3f3ff"/><stop offset=".9645" stop-color="#f5f5ff"/><stop offset=".9794" stop-color="#f5f5ff"/><stop offset=".9813" stop-color="#f7f7ff"/><stop offset="1" stop-color="#f9f9ff"/></linearGradient><linearGradient id="h89" gradientUnits="userSpaceOnUse" x1="699" x2="1234" y1="0" y2="0"><stop offset="0" stop-color="#f7f7ff"/><stop offset=".0336" stop-color="#f3f3ff"/><stop offset=".0355" stop-color="#f1f1ff"/><stop offset=".0617" stop-color="#f1f1ff"/><stop offset=".0636" stop-color="#efefff"/><stop offset=".1178" stop-color="#efefff"/><stop offset=".1196" stop-color="#f1f1ff"/><stop offset=".2336" stop-color="#f1f1ff"/><stop offset=".2355" stop-color="#efefff"/><stop offset=".3514" stop-color="#f1f1ff"/><stop offset=".3533" stop-color="#efefff"/><stop offset=".3907" stop-color="#ededff"/><stop offset=".4037" stop-color="#e9e9ff"/><stop offset=".428" stop-color="#d9d9ff"/><stop offset=".4449" stop-color="#c5c5ff"/><stop offset=".4692" stop-color="#9d9dff"/><stop offset=".4822" stop-color="#8b8bff"/><stop offset=".4953" stop-color="#8181ff"/><stop offset=".5065" stop-color="#8181ff"/><stop offset=".5215" stop-color="#8d8dff"/><stop offset=".529" stop-color="#9797ff"/><stop offset=".5589" stop-color="#c7c7ff"/><stop offset=".5813" stop-color="#dfdfff"/><stop offset=".5944" stop-color="#e7e7ff"/><stop offset=".6131" stop-color="#ededff"/><stop offset=".6523" stop-color="#efefff"/><stop offset=".6542" stop-color="#f1f1ff"/><stop offset=".6953" stop-color="#f1f1ff"/><stop offset=".6972" stop-color="#efefff"/><stop offset=".9533" stop-color="#f1f1ff"/><stop offset=".9551" stop-color="#f3f3ff"/><stop offset=".9701" stop-color="#f3f3ff"/><stop offset=".972" stop-color="#f5f5ff"/><stop offset=".985" stop-color="#f5f5ff"/><stop offset="1" stop-color="#f9f9ff"/></linearGradient><linearGradient id="h90" gradientUnits="userSpaceOnUse" x1="699" x2="1234" y1="0" y2="0"><stop offset="0" stop-color="#f7f7ff"/><stop offset=".028" stop-color="#f1f1ff"/><stop offset=".043" stop-color="#f1f1ff"/><stop offset=".0449" stop-color="#efefff"/><stop offset=".3664" stop-color="#efefff"/><stop offset=".3682" stop-color="#ededff"/><stop offset=".3925" stop-color="#ebebff"/><stop offset=".4056" stop-color="#e7e7ff"/><stop offset=".4224" stop-color="#ddddff"/><stop offset=".443" stop-color="#c7c7ff"/><stop offset=".4766" stop-color="#9393ff"/><stop offset=".4879" stop-color="#8787ff"/><stop offset=".4953" stop-color="#8383ff"/><stop offset=".5084" stop-color="#8383ff"/><stop offset=".514" stop-color="#8787ff"/><stop offset=".5271" stop-color="#9595ff"/><stop offset=".5551" stop-color="#c1c1ff"/><stop offset=".5757" stop-color="#d9d9ff"/><stop offset=".5832" stop-color="#dfdfff"/><stop offset=".6093" stop-color="#ebebff"/><stop offset=".6355" stop-color="#ededff"/><stop offset=".6374" stop-color="#efefff"/><stop offset=".9421" stop-color="#efefff"/><stop offset=".9439" stop-color="#f1f1ff"/><stop offset=".9626" stop-color="#f1f1ff"/><stop offset=".9645" stop-color="#f3f3ff"/><stop offset="1" stop-color="#f7f7ff"/></linearGradient><linearGradient id="h91" gradientUnits="userSpaceOnUse" x1="699" x2="1234" y1="0" y2="0"><stop offset="0" stop-color="#f5f5ff"/><stop offset=".0093" stop-color="#f5f5ff"/><stop offset=".0336" stop-color="#efefff"/><stop offset=".0505" stop-color="#efefff"/><stop offset=".0523" stop-color="#ededff"/><stop offset=".2056" stop-color="#efefff"/><stop offset=".2075" stop-color="#ededff"/><stop offset=".3738" stop-color="#ededff"/><stop offset=".3757" stop-color="#ebebff"/><stop offset=".3869" stop-color="#ebebff"/><stop offset=".4112" stop-color="#e3e3ff"/><stop offset=".428" stop-color="#d7d7ff"/><stop offset=".4467" stop-color="#c1c1ff"/><stop offset=".4729" stop-color="#9999ff"/><stop offset=".4897" stop-color="#8787ff"/><stop offset=".4972" stop-color="#8383ff"/><stop offset=".5047" stop-color="#8383ff"/><stop offset=".5159" stop-color="#8989ff"/><stop offset=".5234" stop-color="#9191ff"/><stop offset=".557" stop-color="#c3c3ff"/><stop offset=".5794" stop-color="#dbdbff"/><stop offset=".6075" stop-color="#e9e9ff"/><stop offset=".628" stop-color="#ebebff"/><stop offset=".6299" stop-color="#ededff"/><stop offset=".9271" stop-color="#ededff"/><stop offset=".929" stop-color="#efefff"/><stop offset=".9701" stop-color="#f1f1ff"/><stop offset=".972" stop-color="#f3f3ff"/><stop offset="1" stop-color="#f7f7ff"/></linearGradient><linearGradient id="h92" gradientUnits="userSpaceOnUse" x1="699" x2="1234" y1="0" y2="0"><stop offset="0" stop-color="#f5f5ff"/><stop offset=".0262" stop-color="#efefff"/><stop offset=".0374" stop-color="#efefff"/><stop offset=".0393" stop-color="#ededff"/><stop offset=".0579" stop-color="#ededff"/><stop offset=".0598" stop-color="#ebebff"/><stop offset=".1252" stop-color="#ebebff"/><stop offset=".129" stop-color="#ededff"/><stop offset=".3009" stop-color="#ebebff"/><stop offset=".3028" stop-color="#ededff"/><stop offset=".3495" stop-color="#ededff"/><stop offset=".3514" stop-color="#ebebff"/><stop offset=".3888" stop-color="#e9e9ff"/><stop offset=".4075" stop-color="#e3e3ff"/><stop offset=".4243" stop-color="#d9d9ff"/><stop offset=".4449" stop-color="#c3c3ff"/><stop offset=".4729" stop-color="#9999ff"/><stop offset=".4879" stop-color="#8989ff"/><stop offset=".4953" stop-color="#8585ff"/><stop offset=".5084" stop-color="#8585ff"/><stop offset=".5215" stop-color="#8f8fff"/><stop offset=".5421" stop-color="#ababff"/><stop offset=".5477" stop-color="#b5b5ff"/><stop offset=".572" stop-color="#d3d3ff"/><stop offset=".5738" stop-color="#d3d3ff"/><stop offset=".5813" stop-color="#dbdbff"/><stop offset=".6" stop-color="#e5e5ff"/><stop offset=".6131" stop-color="#e9e9ff"/><stop offset=".6561" stop-color="#ebebff"/><stop offset=".6579" stop-color="#ededff"/><stop offset=".6972" stop-color="#ebebff"/><stop offset=".9495" stop-color="#ededff"/><stop offset=".9514" stop-color="#efefff"/><stop offset=".9776" stop-color="#f1f1ff"/><stop offset="1" stop-color="#f7f7ff"/></linearGradient><linearGradient id="h93" gradientUnits="userSpaceOnUse" x1="699" x2="1234" y1="0" y2="0"><stop offset="0" stop-color="#f5f5ff"/><stop offset=".0299" stop-color="#ededff"/><stop offset=".0673" stop-color="#ebebff"/><stop offset=".0692" stop-color="#e9e9ff"/><stop offset=".1084" stop-color="#e9e9ff"/><stop offset=".1103" stop-color="#ebebff"/><stop offset=".2449" stop-color="#ebebff"/><stop offset=".2523" stop-color="#e9e9ff"/><stop offset=".3589" stop-color="#ebebff"/><stop offset=".3607" stop-color="#e9e9ff"/><stop offset=".3907" stop-color="#e7e7ff"/><stop offset=".4131" stop-color="#dfdfff"/><stop offset=".4336" stop-color="#cfcfff"/><stop offset=".4486" stop-color="#bdbdff"/><stop offset=".4729" stop-color="#9999ff"/><stop offset=".4879" stop-color="#8989ff"/><stop offset=".4953" stop-color="#8585ff"/><stop offset=".5065" stop-color="#8585ff"/><stop offset=".5215" stop-color="#8f8fff"/><stop offset=".5589" stop-color="#c3c3ff"/><stop offset=".5757" stop-color="#d5d5ff"/><stop offset=".5944" stop-color="#e1e1ff"/><stop offset=".6112" stop-color="#e7e7ff"/><stop offset=".6411" stop-color="#e9e9ff"/><stop offset=".643" stop-color="#ebebff"/><stop offset=".714" stop-color="#ebebff"/><stop offset=".7159" stop-color="#e9e9ff"/><stop offset=".7234" stop-color="#e9e9ff"/><stop offset=".9439" stop-color="#ebebff"/><stop offset=".9458" stop-color="#ededff"/><stop offset=".9607" stop-color="#ededff"/><stop offset=".9626" stop-color="#efefff"/><stop offset="1" stop-color="#f5f5ff"/></linearGradient><linearGradient id="h94" gradientUnits="userSpaceOnUse" x1="699" x2="1234" y1="0" y2="0"><stop offset="0" stop-color="#f3f3ff"/><stop offset=".0224" stop-color="#ededff"/><stop offset=".0449" stop-color="#ebebff"/><stop offset=".0467" stop-color="#e9e9ff"/><stop offset=".0766" stop-color="#e9e9ff"/><stop offset=".0785" stop-color="#e7e7ff"/><stop offset=".0953" stop-color="#e7e7ff"/><stop offset=".0972" stop-color="#e9e9ff"/><stop offset=".3645" stop-color="#e9e9ff"/><stop offset=".3664" stop-color="#e7e7ff"/><stop offset=".3925" stop-color="#e5e5ff"/><stop offset=".4168" stop-color="#dbdbff"/><stop offset=".4299" stop-color="#d1d1ff"/><stop offset=".4523" stop-color="#b7b7ff"/><stop offset=".471" stop-color="#9b9bff"/><stop offset=".4879" stop-color="#8989ff"/><stop offset=".4953" stop-color="#8585ff"/><stop offset=".5065" stop-color="#8585ff"/><stop offset=".5121" stop-color="#8787ff"/><stop offset=".5271" stop-color="#9595ff"/><stop offset=".5551" stop-color="#bdbdff"/><stop offset=".5757" stop-color="#d3d3ff"/><stop offset=".5981" stop-color="#e1e1ff"/><stop offset=".6112" stop-color="#e5e5ff"/><stop offset=".6374" stop-color="#e7e7ff"/><stop offset=".6393" stop-color="#e9e9ff"/><stop offset=".9383" stop-color="#e9e9ff"/><stop offset=".9402" stop-color="#ebebff"/><stop offset=".9682" stop-color="#ededff"/><stop offset="1" stop-color="#f5f5ff"/></linearGradient><linearGradient id="h95" gradientUnits="userSpaceOnUse" x1="699" x2="1234" y1="0" y2="0"><stop offset="0" stop-color="#f3f3ff"/><stop offset=".0168" stop-color="#ededff"/><stop offset=".0467" stop-color="#e9e9ff"/><stop offset=".0486" stop-color="#e7e7ff"/><stop offset=".1664" stop-color="#e7e7ff"/><stop offset=".1682" stop-color="#e9e9ff"/><stop offset=".1869" stop-color="#e9e9ff"/><stop offset=".1888" stop-color="#e7e7ff"/><stop offset=".3664" stop-color="#e7e7ff"/><stop offset=".3682" stop-color="#e5e5ff"/><stop offset=".3925" stop-color="#e3e3ff"/><stop offset=".4093" stop-color="#ddddff"/><stop offset=".428" stop-color="#d1d1ff"/><stop offset=".4467" stop-color="#bdbdff"/><stop offset=".4692" stop-color="#9d9dff"/><stop offset=".4879" stop-color="#8989ff"/><stop offset=".4953" stop-color="#8585ff"/><stop offset=".5084" stop-color="#8585ff"/><stop offset=".5159" stop-color="#8989ff"/><stop offset=".5308" stop-color="#9999ff"/><stop offset=".5551" stop-color="#bbbbff"/><stop offset=".5757" stop-color="#d1d1ff"/><stop offset=".5981" stop-color="#dfdfff"/><stop offset=".6112" stop-color="#e3e3ff"/><stop offset=".6336" stop-color="#e5e5ff"/><stop offset=".6355" stop-color="#e7e7ff"/><stop offset=".9346" stop-color="#e7e7ff"/><stop offset=".9364" stop-color="#e9e9ff"/><stop offset=".9645" stop-color="#ebebff"/><stop offset="1" stop-color="#f5f5ff"/></linearGradient><linearGradient id="h96" gradientUnits="userSpaceOnUse" x1="699" x2="1234" y1="0" y2="0"><stop offset="0" stop-color="#f1f1ff"/><stop offset=".0505" stop-color="#e5e5ff"/><stop offset=".1589" stop-color="#e5e5ff"/><stop offset=".1607" stop-color="#e7e7ff"/><stop offset=".1944" stop-color="#e7e7ff"/><stop offset=".1963" stop-color="#e5e5ff"/><stop offset=".3664" stop-color="#e5e5ff"/><stop offset=".3682" stop-color="#e3e3ff"/><stop offset=".3925" stop-color="#e1e1ff"/><stop offset=".4093" stop-color="#dbdbff"/><stop offset=".428" stop-color="#cfcfff"/><stop offset=".4486" stop-color="#b9b9ff"/><stop offset=".4636" stop-color="#a3a3ff"/><stop offset=".4841" stop-color="#8b8bff"/><stop offset=".4935" stop-color="#8585ff"/><stop offset=".5047" stop-color="#8383ff"/><stop offset=".5215" stop-color="#8d8dff"/><stop offset=".5364" stop-color="#9f9fff"/><stop offset=".5533" stop-color="#b7b7ff"/><stop offset=".5757" stop-color="#cfcfff"/><stop offset=".5981" stop-color="#ddddff"/><stop offset=".6112" stop-color="#e1e1ff"/><stop offset=".6336" stop-color="#e3e3ff"/><stop offset=".6355" stop-color="#e5e5ff"/><stop offset=".9327" stop-color="#e5e5ff"/><stop offset=".9346" stop-color="#e7e7ff"/><stop offset=".9626" stop-color="#e9e9ff"/><stop offset="1" stop-color="#f3f3ff"/></linearGradient><linearGradient id="h97" gradientUnits="userSpaceOnUse" x1="699" x2="1234" y1="0" y2="0"><stop offset="0" stop-color="#f1f1ff"/><stop offset=".028" stop-color="#e7e7ff"/><stop offset=".0486" stop-color="#e5e5ff"/><stop offset=".0505" stop-color="#e3e3ff"/><stop offset=".0729" stop-color="#e3e3ff"/><stop offset=".0748" stop-color="#e1e1ff"/><stop offset=".1944" stop-color="#e5e5ff"/><stop offset=".1963" stop-color="#e3e3ff"/><stop offset=".3664" stop-color="#e3e3ff"/><stop offset=".3682" stop-color="#e1e1ff"/><stop offset=".3925" stop-color="#dfdfff"/><stop offset=".4093" stop-color="#d9d9ff"/><stop offset=".4299" stop-color="#cbcbff"/><stop offset=".4486" stop-color="#b7b7ff"/><stop offset=".4766" stop-color="#9191ff"/><stop offset=".4879" stop-color="#8787ff"/><stop offset=".4953" stop-color="#8383ff"/><stop offset=".5084" stop-color="#8383ff"/><stop offset=".5159" stop-color="#8787ff"/><stop offset=".5364" stop-color="#9d9dff"/><stop offset=".5533" stop-color="#b5b5ff"/><stop offset=".5757" stop-color="#cdcdff"/><stop offset=".5944" stop-color="#d9d9ff"/><stop offset=".6112" stop-color="#dfdfff"/><stop offset=".6336" stop-color="#e1e1ff"/><stop offset=".6355" stop-color="#e3e3ff"/><stop offset=".9327" stop-color="#e3e3ff"/><stop offset=".9346" stop-color="#e5e5ff"/><stop offset=".9514" stop-color="#e5e5ff"/><stop offset=".9626" stop-color="#e9e9ff"/><stop offset=".9701" stop-color="#e9e9ff"/><stop offset="1" stop-color="#f3f3ff"/></linearGradient><linearGradient id="h98" gradientUnits="userSpaceOnUse" x1="699" x2="1234" y1="0" y2="0"><stop offset="0" stop-color="#efefff"/><stop offset=".0374" stop-color="#e3e3ff"/><stop offset=".0673" stop-color="#e1e1ff"/><stop offset=".0692" stop-color="#dfdfff"/><stop offset=".1869" stop-color="#e3e3ff"/><stop offset=".1888" stop-color="#e1e1ff"/><stop offset=".243" stop-color="#e1e1ff"/><stop offset=".2449" stop-color="#dfdfff"/><stop offset=".3626" stop-color="#e1e1ff"/><stop offset=".3645" stop-color="#dfdfff"/><stop offset=".3907" stop-color="#ddddff"/><stop offset=".4037" stop-color="#d9d9ff"/><stop offset=".4299" stop-color="#c9c9ff"/><stop offset=".4467" stop-color="#b7b7ff"/><stop offset=".4654" stop-color="#9d9dff"/><stop offset=".4879" stop-color="#8585ff"/><stop offset=".4953" stop-color="#8181ff"/><stop offset=".5084" stop-color="#8181ff"/><stop offset=".5159" stop-color="#8585ff"/><stop offset=".5364" stop-color="#9b9bff"/><stop offset=".5551" stop-color="#b5b5ff"/><stop offset=".5738" stop-color="#c9c9ff"/><stop offset=".6" stop-color="#d9d9ff"/><stop offset=".6131" stop-color="#ddddff"/><stop offset=".6374" stop-color="#dfdfff"/><stop offset=".6393" stop-color="#e1e1ff"/><stop offset=".7458" stop-color="#dfdfff"/><stop offset=".7738" stop-color="#dfdfff"/><stop offset=".7757" stop-color="#e1e1ff"/><stop offset=".9346" stop-color="#e1e1ff"/><stop offset=".9364" stop-color="#e3e3ff"/><stop offset=".9607" stop-color="#e5e5ff"/><stop offset="1" stop-color="#f1f1ff"/></linearGradient><linearGradient id="h99" gradientUnits="userSpaceOnUse" x1="699" x2="1234" y1="0" y2="0"><stop offset="0" stop-color="#efefff"/><stop offset=".0224" stop-color="#e5e5ff"/><stop offset=".0467" stop-color="#dfdfff"/><stop offset=".0617" stop-color="#dfdfff"/><stop offset=".0636" stop-color="#ddddff"/><stop offset=".1196" stop-color="#ddddff"/><stop offset=".1215" stop-color="#dfdfff"/><stop offset=".2318" stop-color="#dfdfff"/><stop offset=".2336" stop-color="#ddddff"/><stop offset=".3589" stop-color="#dfdfff"/><stop offset=".3607" stop-color="#ddddff"/><stop offset=".3888" stop-color="#dbdbff"/><stop offset=".4075" stop-color="#d5d5ff"/><stop offset=".4187" stop-color="#cfcfff"/><stop offset=".4336" stop-color="#c3c3ff"/><stop offset=".4449" stop-color="#b7b7ff"/><stop offset=".4766" stop-color="#8d8dff"/><stop offset=".4879" stop-color="#8383ff"/><stop offset=".4953" stop-color="#7f7fff"/><stop offset=".5084" stop-color="#7f7fff"/><stop offset=".5252" stop-color="#8b8bff"/><stop offset=".5607" stop-color="#b9b9ff"/><stop offset=".5794" stop-color="#cbcbff"/><stop offset=".5963" stop-color="#d5d5ff"/><stop offset=".615" stop-color="#dbdbff"/><stop offset=".6411" stop-color="#ddddff"/><stop offset=".643" stop-color="#dfdfff"/><stop offset=".6953" stop-color="#dfdfff"/><stop offset=".7028" stop-color="#ddddff"/><stop offset=".9364" stop-color="#dfdfff"/><stop offset=".9383" stop-color="#e1e1ff"/><stop offset=".9514" stop-color="#e1e1ff"/><stop offset=".9757" stop-color="#e7e7ff"/><stop offset="1" stop-color="#f1f1ff"/></linearGradient><linearGradient id="h100" gradientUnits="userSpaceOnUse" x1="699" x2="1234" y1="0" y2="0"><stop offset="0" stop-color="#ededff"/><stop offset=".0224" stop-color="#e3e3ff"/><stop offset=".0579" stop-color="#dbdbff"/><stop offset=".1308" stop-color="#dbdbff"/><stop offset=".1364" stop-color="#ddddff"/><stop offset=".3103" stop-color="#dbdbff"/><stop offset=".3121" stop-color="#ddddff"/><stop offset=".3495" stop-color="#ddddff"/><stop offset=".3514" stop-color="#dbdbff"/><stop offset=".3738" stop-color="#dbdbff"/><stop offset=".3757" stop-color="#d9d9ff"/><stop offset=".3944" stop-color="#d7d7ff"/><stop offset=".4206" stop-color="#cbcbff"/><stop offset=".428" stop-color="#c5c5ff"/><stop offset=".4523" stop-color="#ababff"/><stop offset=".471" stop-color="#9191ff"/><stop offset=".4897" stop-color="#7f7fff"/><stop offset=".5084" stop-color="#7d7dff"/><stop offset=".5215" stop-color="#8585ff"/><stop offset=".5327" stop-color="#9191ff"/><stop offset=".5533" stop-color="#adadff"/><stop offset=".5757" stop-color="#c5c5ff"/><stop offset=".5981" stop-color="#d3d3ff"/><stop offset=".6168" stop-color="#d9d9ff"/><stop offset=".6561" stop-color="#dbdbff"/><stop offset=".6579" stop-color="#ddddff"/><stop offset=".6692" stop-color="#ddddff"/><stop offset=".671" stop-color="#dbdbff"/><stop offset=".9121" stop-color="#dbdbff"/><stop offset=".914" stop-color="#ddddff"/><stop offset=".9402" stop-color="#ddddff"/><stop offset=".9421" stop-color="#dfdfff"/><stop offset=".9607" stop-color="#e1e1ff"/><stop offset="1" stop-color="#efefff"/></linearGradient><linearGradient id="h101" gradientUnits="userSpaceOnUse" x1="699" x2="1234" y1="0" y2="0"><stop offset="0" stop-color="#ebebff"/><stop offset=".028" stop-color="#dfdfff"/><stop offset=".0523" stop-color="#d9d9ff"/><stop offset=".071" stop-color="#d9d9ff"/><stop offset=".0729" stop-color="#d7d7ff"/><stop offset=".1439" stop-color="#d9d9ff"/><stop offset=".1458" stop-color="#dbdbff"/><stop offset=".2093" stop-color="#dbdbff"/><stop offset=".2112" stop-color="#d9d9ff"/><stop offset=".2561" stop-color="#d9d9ff"/><stop offset=".2579" stop-color="#d7d7ff"/><stop offset=".2673" stop-color="#d7d7ff"/><stop offset=".2692" stop-color="#d9d9ff"/><stop offset=".3682" stop-color="#d9d9ff"/><stop offset=".3701" stop-color="#d7d7ff"/><stop offset=".3907" stop-color="#d5d5ff"/><stop offset=".4037" stop-color="#d1d1ff"/><stop offset=".4243" stop-color="#c5c5ff"/><stop offset=".4467" stop-color="#afafff"/><stop offset=".4673" stop-color="#9393ff"/><stop offset=".486" stop-color="#7f7fff"/><stop offset=".4972" stop-color="#7979ff"/><stop offset=".5065" stop-color="#7979ff"/><stop offset=".5121" stop-color="#7b7bff"/><stop offset=".5234" stop-color="#8585ff"/><stop offset=".5383" stop-color="#9595ff"/><stop offset=".5495" stop-color="#a5a5ff"/><stop offset=".5701" stop-color="#bdbdff"/><stop offset=".585" stop-color="#c9c9ff"/><stop offset=".6112" stop-color="#d5d5ff"/><stop offset=".6318" stop-color="#d7d7ff"/><stop offset=".6336" stop-color="#d9d9ff"/><stop offset=".7327" stop-color="#d9d9ff"/><stop offset=".7346" stop-color="#d7d7ff"/><stop offset=".7514" stop-color="#d7d7ff"/><stop offset=".7533" stop-color="#d9d9ff"/><stop offset=".9252" stop-color="#d9d9ff"/><stop offset=".9271" stop-color="#dbdbff"/><stop offset=".9439" stop-color="#dbdbff"/><stop offset=".9682" stop-color="#e1e1ff"/><stop offset="1" stop-color="#efefff"/></linearGradient><linearGradient id="h102" gradientUnits="userSpaceOnUse" x1="699" x2="1234" y1="0" y2="0"><stop offset="0" stop-color="#e9e9ff"/><stop offset=".0336" stop-color="#dbdbff"/><stop offset=".0617" stop-color="#d5d5ff"/><stop offset=".1215" stop-color="#d5d5ff"/><stop offset=".1234" stop-color="#d7d7ff"/><stop offset=".1907" stop-color="#d9d9ff"/><stop offset=".1925" stop-color="#d7d7ff"/><stop offset=".2299" stop-color="#d7d7ff"/><stop offset=".2318" stop-color="#d5d5ff"/><stop offset=".3589" stop-color="#d7d7ff"/><stop offset=".3607" stop-color="#d5d5ff"/><stop offset=".3869" stop-color="#d3d3ff"/><stop offset=".4056" stop-color="#cdcdff"/><stop offset=".428" stop-color="#bfbfff"/><stop offset=".4505" stop-color="#a7a7ff"/><stop offset=".471" stop-color="#8b8bff"/><stop offset=".4897" stop-color="#7979ff"/><stop offset=".4935" stop-color="#7777ff"/><stop offset=".5103" stop-color="#7777ff"/><stop offset=".5196" stop-color="#7d7dff"/><stop offset=".5346" stop-color="#8d8dff"/><stop offset=".5551" stop-color="#a9a9ff"/><stop offset=".5738" stop-color="#bdbdff"/><stop offset=".5944" stop-color="#cbcbff"/><stop offset=".615" stop-color="#d3d3ff"/><stop offset=".6411" stop-color="#d5d5ff"/><stop offset=".643" stop-color="#d7d7ff"/><stop offset=".6916" stop-color="#d7d7ff"/><stop offset=".6935" stop-color="#d5d5ff"/><stop offset=".9327" stop-color="#d7d7ff"/><stop offset=".9346" stop-color="#d9d9ff"/><stop offset=".9626" stop-color="#ddddff"/><stop offset="1" stop-color="#ededff"/></linearGradient><linearGradient id="h103" gradientUnits="userSpaceOnUse" x1="699" x2="1234" y1="0" y2="0"><stop offset="0" stop-color="#e9e9ff"/><stop offset=".0168" stop-color="#dfdfff"/><stop offset=".0374" stop-color="#d7d7ff"/><stop offset=".0542" stop-color="#d3d3ff"/><stop offset=".071" stop-color="#d3d3ff"/><stop offset=".0729" stop-color="#d1d1ff"/><stop offset=".1738" stop-color="#d5d5ff"/><stop offset=".215" stop-color="#d5d5ff"/><stop offset=".2168" stop-color="#d3d3ff"/><stop offset=".2579" stop-color="#d3d3ff"/><stop offset=".2598" stop-color="#d1d1ff"/><stop offset=".2673" stop-color="#d3d3ff"/><stop offset=".3252" stop-color="#d3d3ff"/><stop offset=".3271" stop-color="#d5d5ff"/><stop offset=".3383" stop-color="#d5d5ff"/><stop offset=".3402" stop-color="#d3d3ff"/><stop offset=".3832" stop-color="#d1d1ff"/><stop offset=".3981" stop-color="#cdcdff"/><stop offset=".4187" stop-color="#c3c3ff"/><stop offset=".4411" stop-color="#afafff"/><stop offset=".443" stop-color="#ababff"/><stop offset=".4542" stop-color="#9f9fff"/><stop offset=".4636" stop-color="#9191ff"/><stop offset=".4804" stop-color="#7d7dff"/><stop offset=".4953" stop-color="#7373ff"/><stop offset=".5084" stop-color="#7373ff"/><stop offset=".5215" stop-color="#7b7bff"/><stop offset=".5308" stop-color="#8585ff"/><stop offset=".5533" stop-color="#a3a3ff"/><stop offset=".5776" stop-color="#bdbdff"/><stop offset=".6" stop-color="#cbcbff"/><stop offset=".6187" stop-color="#d1d1ff"/><stop offset=".6299" stop-color="#d1d1ff"/><stop offset=".6318" stop-color="#d3d3ff"/><stop offset=".7346" stop-color="#d3d3ff"/><stop offset=".7364" stop-color="#d1d1ff"/><stop offset=".7495" stop-color="#d1d1ff"/><stop offset=".7514" stop-color="#d3d3ff"/><stop offset=".9215" stop-color="#d3d3ff"/><stop offset=".9234" stop-color="#d5d5ff"/><stop offset=".9402" stop-color="#d5d5ff"/><stop offset=".9645" stop-color="#dbdbff"/><stop offset="1" stop-color="#ebebff"/></linearGradient><linearGradient id="h104" gradientUnits="userSpaceOnUse" x1="699" x2="1234" y1="0" y2="0"><stop offset="0" stop-color="#e7e7ff"/><stop offset=".0299" stop-color="#d7d7ff"/><stop offset=".0598" stop-color="#cfcfff"/><stop offset=".1234" stop-color="#cfcfff"/><stop offset=".1252" stop-color="#d1d1ff"/><stop offset=".1944" stop-color="#d3d3ff"/><stop offset=".1963" stop-color="#d1d1ff"/><stop offset=".228" stop-color="#d1d1ff"/><stop offset=".2299" stop-color="#cfcfff"/><stop offset=".3589" stop-color="#d1d1ff"/><stop offset=".3607" stop-color="#cfcfff"/><stop offset=".3869" stop-color="#cdcdff"/><stop offset=".4093" stop-color="#c5c5ff"/><stop offset=".4318" stop-color="#b5b5ff"/><stop offset=".4449" stop-color="#a7a7ff"/><stop offset=".4748" stop-color="#7f7fff"/><stop offset=".4879" stop-color="#7373ff"/><stop offset=".4953" stop-color="#6f6fff"/><stop offset=".5084" stop-color="#6f6fff"/><stop offset=".5252" stop-color="#7b7bff"/><stop offset=".5533" stop-color="#9f9fff"/><stop offset=".5794" stop-color="#bbbbff"/><stop offset=".5944" stop-color="#c5c5ff"/><stop offset=".6168" stop-color="#cdcdff"/><stop offset=".6411" stop-color="#cfcfff"/><stop offset=".643" stop-color="#d1d1ff"/><stop offset=".6879" stop-color="#d1d1ff"/><stop offset=".6897" stop-color="#cfcfff"/><stop offset=".9327" stop-color="#d1d1ff"/><stop offset=".9346" stop-color="#d3d3ff"/><stop offset=".9533" stop-color="#d5d5ff"/><stop offset=".9757" stop-color="#ddddff"/><stop offset="1" stop-color="#ebebff"/></linearGradient><linearGradient id="h105" gradientUnits="userSpaceOnUse" x1="699" x2="1234" y1="0" y2="0"><stop offset="0" stop-color="#e5e5ff"/><stop offset=".028" stop-color="#d5d5ff"/><stop offset=".0654" stop-color="#cbcbff"/><stop offset=".114" stop-color="#cbcbff"/><stop offset=".1159" stop-color="#cdcdff"/><stop offset=".1439" stop-color="#cdcdff"/><stop offset=".1458" stop-color="#cfcfff"/><stop offset=".2093" stop-color="#cfcfff"/><stop offset=".2112" stop-color="#cdcdff"/><stop offset=".2374" stop-color="#cdcdff"/><stop offset=".2393" stop-color="#cbcbff"/><stop offset=".3664" stop-color="#cdcdff"/><stop offset=".3682" stop-color="#cbcbff"/><stop offset=".3888" stop-color="#c9c9ff"/><stop offset=".4168" stop-color="#bdbdff"/><stop offset=".4318" stop-color="#b1b1ff"/><stop offset=".4449" stop-color="#a3a3ff"/><stop offset=".4636" stop-color="#8989ff"/><stop offset=".4822" stop-color="#7373ff"/><stop offset=".4953" stop-color="#6b6bff"/><stop offset=".5103" stop-color="#6b6bff"/><stop offset=".5196" stop-color="#7171ff"/><stop offset=".5346" stop-color="#8181ff"/><stop offset=".5533" stop-color="#9b9bff"/><stop offset=".5794" stop-color="#b7b7ff"/><stop offset=".5869" stop-color="#bdbdff"/><stop offset=".6131" stop-color="#c9c9ff"/><stop offset=".6318" stop-color="#cbcbff"/><stop offset=".6336" stop-color="#cdcdff"/><stop offset=".7047" stop-color="#cdcdff"/><stop offset=".7103" stop-color="#cbcbff"/><stop offset=".9252" stop-color="#cdcdff"/><stop offset=".9626" stop-color="#d5d5ff"/><stop offset="1" stop-color="#e9e9ff"/></linearGradient><linearGradient id="h106" gradientUnits="userSpaceOnUse" x1="699" x2="1234" y1="0" y2="0"><stop offset="0" stop-color="#e3e3ff"/><stop offset=".0355" stop-color="#cfcfff"/><stop offset=".071" stop-color="#c7c7ff"/><stop offset=".1065" stop-color="#c7c7ff"/><stop offset=".1084" stop-color="#c9c9ff"/><stop offset=".1346" stop-color="#c9c9ff"/><stop offset=".1364" stop-color="#cbcbff"/><stop offset=".2168" stop-color="#cbcbff"/><stop offset=".2187" stop-color="#c9c9ff"/><stop offset=".2729" stop-color="#c7c7ff"/><stop offset=".2785" stop-color="#c9c9ff"/><stop offset=".3477" stop-color="#cbcbff"/><stop offset=".3495" stop-color="#c9c9ff"/><stop offset=".3701" stop-color="#c9c9ff"/><stop offset=".372" stop-color="#c7c7ff"/><stop offset=".3907" stop-color="#c5c5ff"/><stop offset=".4168" stop-color="#b9b9ff"/><stop offset=".4299" stop-color="#afafff"/><stop offset=".4542" stop-color="#9393ff"/><stop offset=".471" stop-color="#7b7bff"/><stop offset=".4841" stop-color="#6d6dff"/><stop offset=".4935" stop-color="#6767ff"/><stop offset=".5065" stop-color="#6565ff"/><stop offset=".5178" stop-color="#6b6bff"/><stop offset=".5364" stop-color="#7f7fff"/><stop offset=".5551" stop-color="#9999ff"/><stop offset=".5813" stop-color="#b5b5ff"/><stop offset=".6056" stop-color="#c3c3ff"/><stop offset=".6187" stop-color="#c7c7ff"/><stop offset=".628" stop-color="#c7c7ff"/><stop offset=".6299" stop-color="#c9c9ff"/><stop offset=".7196" stop-color="#c9c9ff"/><stop offset=".7215" stop-color="#c7c7ff"/><stop offset=".9178" stop-color="#c9c9ff"/><stop offset=".9196" stop-color="#cbcbff"/><stop offset=".9458" stop-color="#cdcdff"/><stop offset=".9645" stop-color="#d3d3ff"/><stop offset="1" stop-color="#e7e7ff"/></linearGradient><linearGradient id="h107" gradientUnits="userSpaceOnUse" x1="699" x2="1234" y1="0" y2="0"><stop offset="0" stop-color="#e1e1ff"/><stop offset=".0243" stop-color="#d1d1ff"/><stop offset=".028" stop-color="#d1d1ff"/><stop offset=".0374" stop-color="#cbcbff"/><stop offset=".0729" stop-color="#c3c3ff"/><stop offset=".1028" stop-color="#c3c3ff"/><stop offset=".1047" stop-color="#c5c5ff"/><stop offset=".1308" stop-color="#c5c5ff"/><stop offset=".1327" stop-color="#c7c7ff"/><stop offset=".1589" stop-color="#c7c7ff"/><stop offset=".1626" stop-color="#c9c9ff"/><stop offset=".1944" stop-color="#c9c9ff"/><stop offset=".1963" stop-color="#c7c7ff"/><stop offset=".2579" stop-color="#c5c5ff"/><stop offset=".2598" stop-color="#c3c3ff"/><stop offset=".2673" stop-color="#c5c5ff"/><stop offset=".3084" stop-color="#c5c5ff"/><stop offset=".3103" stop-color="#c7c7ff"/><stop offset=".3551" stop-color="#c7c7ff"/><stop offset=".357" stop-color="#c5c5ff"/><stop offset=".3832" stop-color="#c3c3ff"/><stop offset=".4019" stop-color="#bdbdff"/><stop offset=".4224" stop-color="#b1b1ff"/><stop offset=".4411" stop-color="#9f9fff"/><stop offset=".4598" stop-color="#8787ff"/><stop offset=".4673" stop-color="#7b7bff"/><stop offset=".4879" stop-color="#6565ff"/><stop offset=".4953" stop-color="#6161ff"/><stop offset=".5084" stop-color="#6161ff"/><stop offset=".5215" stop-color="#6969ff"/><stop offset=".5308" stop-color="#7373ff"/><stop offset=".557" stop-color="#9797ff"/><stop offset=".5794" stop-color="#afafff"/><stop offset=".5869" stop-color="#b5b5ff"/><stop offset=".6112" stop-color="#c1c1ff"/><stop offset=".628" stop-color="#c5c5ff"/><stop offset=".6449" stop-color="#c5c5ff"/><stop offset=".6467" stop-color="#c7c7ff"/><stop offset=".7327" stop-color="#c5c5ff"/><stop offset=".7346" stop-color="#c3c3ff"/><stop offset=".7514" stop-color="#c3c3ff"/><stop offset=".7533" stop-color="#c5c5ff"/><stop offset=".9103" stop-color="#c5c5ff"/><stop offset=".9121" stop-color="#c7c7ff"/><stop offset=".9327" stop-color="#c7c7ff"/><stop offset=".9664" stop-color="#d1d1ff"/><stop offset="1" stop-color="#e5e5ff"/></linearGradient><linearGradient id="h108" gradientUnits="userSpaceOnUse" x1="699" x2="1234" y1="0" y2="0"><stop offset="0" stop-color="#dfdfff"/><stop offset=".0262" stop-color="#cdcdff"/><stop offset=".0393" stop-color="#c7c7ff"/><stop offset=".0579" stop-color="#c1c1ff"/><stop offset=".0729" stop-color="#c1c1ff"/><stop offset=".0748" stop-color="#bfbfff"/><stop offset=".1738" stop-color="#c5c5ff"/><stop offset=".2" stop-color="#c5c5ff"/><stop offset=".2019" stop-color="#c3c3ff"/><stop offset=".2243" stop-color="#c3c3ff"/><stop offset=".2262" stop-color="#c1c1ff"/><stop offset=".3589" stop-color="#c3c3ff"/><stop offset=".3607" stop-color="#c1c1ff"/><stop offset=".3832" stop-color="#bfbfff"/><stop offset=".4019" stop-color="#b9b9ff"/><stop offset=".4224" stop-color="#adadff"/><stop offset=".4486" stop-color="#9191ff"/><stop offset=".4729" stop-color="#6f6fff"/><stop offset=".4841" stop-color="#6363ff"/><stop offset=".4991" stop-color="#5b5bff"/><stop offset=".5065" stop-color="#5b5bff"/><stop offset=".5178" stop-color="#6161ff"/><stop offset=".5364" stop-color="#7575ff"/><stop offset=".5589" stop-color="#9595ff"/><stop offset=".5794" stop-color="#ababff"/><stop offset=".6056" stop-color="#bbbbff"/><stop offset=".6168" stop-color="#bfbfff"/><stop offset=".6411" stop-color="#c1c1ff"/><stop offset=".643" stop-color="#c3c3ff"/><stop offset=".6804" stop-color="#c3c3ff"/><stop offset=".6841" stop-color="#c1c1ff"/><stop offset=".9065" stop-color="#c1c1ff"/><stop offset=".9084" stop-color="#c3c3ff"/><stop offset=".9308" stop-color="#c3c3ff"/><stop offset=".9645" stop-color="#cdcdff"/><stop offset="1" stop-color="#e3e3ff"/></linearGradient><linearGradient id="h109" gradientUnits="userSpaceOnUse" x1="699" x2="1234" y1="0" y2="0"><stop offset="0" stop-color="#ddddff"/><stop offset=".0243" stop-color="#cbcbff"/><stop offset=".0393" stop-color="#c3c3ff"/><stop offset=".0729" stop-color="#bbbbff"/><stop offset=".1028" stop-color="#bbbbff"/><stop offset=".1047" stop-color="#bdbdff"/><stop offset=".1495" stop-color="#bfbfff"/><stop offset=".1514" stop-color="#c1c1ff"/><stop offset=".1738" stop-color="#c1c1ff"/><stop offset=".2019" stop-color="#c1c1ff"/><stop offset=".2037" stop-color="#bfbfff"/><stop offset=".2561" stop-color="#bdbdff"/><stop offset=".2579" stop-color="#bbbbff"/><stop offset=".3047" stop-color="#bdbdff"/><stop offset=".3084" stop-color="#bfbfff"/><stop offset=".3589" stop-color="#bfbfff"/><stop offset=".3607" stop-color="#bdbdff"/><stop offset=".3832" stop-color="#bbbbff"/><stop offset=".4019" stop-color="#b5b5ff"/><stop offset=".4243" stop-color="#a7a7ff"/><stop offset=".4467" stop-color="#8f8fff"/><stop offset=".4692" stop-color="#6f6fff"/><stop offset=".4879" stop-color="#5b5bff"/><stop offset=".4953" stop-color="#5757ff"/><stop offset=".5103" stop-color="#5757ff"/><stop offset=".5196" stop-color="#5d5dff"/><stop offset=".5308" stop-color="#6969ff"/><stop offset=".5551" stop-color="#8b8bff"/><stop offset=".5776" stop-color="#a5a5ff"/><stop offset=".5907" stop-color="#afafff"/><stop offset=".6168" stop-color="#bbbbff"/><stop offset=".6393" stop-color="#bdbdff"/><stop offset=".6411" stop-color="#bfbfff"/><stop offset=".7327" stop-color="#bdbdff"/><stop offset=".7346" stop-color="#bbbbff"/><stop offset=".929" stop-color="#bfbfff"/><stop offset=".9626" stop-color="#c9c9ff"/><stop offset="1" stop-color="#e1e1ff"/></linearGradient><linearGradient id="h110" gradientUnits="userSpaceOnUse" x1="699" x2="1234" y1="0" y2="0"><stop offset="0" stop-color="#dbdbff"/><stop offset=".0224" stop-color="#c9c9ff"/><stop offset=".0449" stop-color="#bdbdff"/><stop offset=".071" stop-color="#b7b7ff"/><stop offset=".1065" stop-color="#b7b7ff"/><stop offset=".1084" stop-color="#b9b9ff"/><stop offset=".129" stop-color="#b9b9ff"/><stop offset=".1308" stop-color="#bbbbff"/><stop offset=".1495" stop-color="#bbbbff"/><stop offset=".1514" stop-color="#bdbdff"/><stop offset=".2019" stop-color="#bdbdff"/><stop offset=".2037" stop-color="#bbbbff"/><stop offset=".2224" stop-color="#bbbbff"/><stop offset=".2243" stop-color="#b9b9ff"/><stop offset=".2486" stop-color="#b9b9ff"/><stop offset=".2505" stop-color="#b7b7ff"/><stop offset=".3065" stop-color="#b9b9ff"/><stop offset=".3084" stop-color="#bbbbff"/><stop offset=".3589" stop-color="#bbbbff"/><stop offset=".3607" stop-color="#b9b9ff"/><stop offset=".3738" stop-color="#b9b9ff"/><stop offset=".3907" stop-color="#b5b5ff"/><stop offset=".4093" stop-color="#adadff"/><stop offset=".428" stop-color="#9f9fff"/><stop offset=".4505" stop-color="#8585ff"/><stop offset=".471" stop-color="#6767ff"/><stop offset=".486" stop-color="#5757ff"/><stop offset=".4972" stop-color="#5151ff"/><stop offset=".5084" stop-color="#5151ff"/><stop offset=".5271" stop-color="#5f5fff"/><stop offset=".5589" stop-color="#8b8bff"/><stop offset=".5832" stop-color="#a5a5ff"/><stop offset=".5944" stop-color="#adadff"/><stop offset=".6112" stop-color="#b5b5ff"/><stop offset=".6262" stop-color="#b9b9ff"/><stop offset=".6393" stop-color="#b9b9ff"/><stop offset=".6411" stop-color="#bbbbff"/><stop offset=".7551" stop-color="#b7b7ff"/><stop offset=".7664" stop-color="#b7b7ff"/><stop offset=".7682" stop-color="#b9b9ff"/><stop offset=".9084" stop-color="#b9b9ff"/><stop offset=".9103" stop-color="#bbbbff"/><stop offset=".929" stop-color="#bbbbff"/><stop offset=".957" stop-color="#c3c3ff"/><stop offset=".972" stop-color="#cbcbff"/><stop offset="1" stop-color="#e1e1ff"/></linearGradient><linearGradient id="h111" gradientUnits="userSpaceOnUse" x1="699" x2="1234" y1="0" y2="0"><stop offset="0" stop-color="#d9d9ff"/><stop offset=".0262" stop-color="#c3c3ff"/><stop offset=".0449" stop-color="#b9b9ff"/><stop offset=".0673" stop-color="#b3b3ff"/><stop offset=".1103" stop-color="#b3b3ff"/><stop offset=".1121" stop-color="#b5b5ff"/><stop offset=".1308" stop-color="#b5b5ff"/><stop offset=".1327" stop-color="#b7b7ff"/><stop offset=".1514" stop-color="#b7b7ff"/><stop offset=".1533" stop-color="#b9b9ff"/><stop offset=".2" stop-color="#b9b9ff"/><stop offset=".2019" stop-color="#b7b7ff"/><stop offset=".2206" stop-color="#b7b7ff"/><stop offset=".2224" stop-color="#b5b5ff"/><stop offset=".2411" stop-color="#b5b5ff"/><stop offset=".243" stop-color="#b3b3ff"/><stop offset=".357" stop-color="#b7b7ff"/><stop offset=".3589" stop-color="#b5b5ff"/><stop offset=".372" stop-color="#b5b5ff"/><stop offset=".3888" stop-color="#b1b1ff"/><stop offset=".4037" stop-color="#ababff"/><stop offset=".4224" stop-color="#9f9fff"/><stop offset=".4467" stop-color="#8585ff"/><stop offset=".4673" stop-color="#6767ff"/><stop offset=".4841" stop-color="#5353ff"/><stop offset=".4972" stop-color="#4b4bff"/><stop offset=".5065" stop-color="#4b4bff"/><stop offset=".5159" stop-color="#4f4fff"/><stop offset=".5346" stop-color="#6363ff"/><stop offset=".5626" stop-color="#8b8bff"/><stop offset=".5813" stop-color="#9f9fff"/><stop offset=".5981" stop-color="#ababff"/><stop offset=".6187" stop-color="#b3b3ff"/><stop offset=".643" stop-color="#b5b5ff"/><stop offset=".6449" stop-color="#b7b7ff"/><stop offset=".7121" stop-color="#b5b5ff"/><stop offset=".714" stop-color="#b3b3ff"/><stop offset=".9121" stop-color="#b5b5ff"/><stop offset=".914" stop-color="#b7b7ff"/><stop offset=".9308" stop-color="#b7b7ff"/><stop offset=".9645" stop-color="#c3c3ff"/><stop offset=".9794" stop-color="#cdcdff"/><stop offset="1" stop-color="#dfdfff"/></linearGradient><linearGradient id="h112" gradientUnits="userSpaceOnUse" x1="699" x2="1234" y1="0" y2="0"><stop offset="0" stop-color="#d7d7ff"/><stop offset=".0299" stop-color="#bdbdff"/><stop offset=".0449" stop-color="#b5b5ff"/><stop offset=".0654" stop-color="#afafff"/><stop offset=".1159" stop-color="#afafff"/><stop offset=".1178" stop-color="#b1b1ff"/><stop offset=".1551" stop-color="#b3b3ff"/><stop offset=".157" stop-color="#b5b5ff"/><stop offset=".1981" stop-color="#b5b5ff"/><stop offset=".2" stop-color="#b3b3ff"/><stop offset=".2168" stop-color="#b3b3ff"/><stop offset=".2187" stop-color="#b1b1ff"/><stop offset=".2355" stop-color="#b1b1ff"/><stop offset=".2374" stop-color="#afafff"/><stop offset=".2897" stop-color="#afafff"/><stop offset=".2916" stop-color="#b1b1ff"/><stop offset=".3159" stop-color="#b1b1ff"/><stop offset=".3178" stop-color="#b3b3ff"/><stop offset=".3514" stop-color="#b3b3ff"/><stop offset=".3533" stop-color="#b1b1ff"/><stop offset=".3701" stop-color="#b1b1ff"/><stop offset=".3869" stop-color="#adadff"/><stop offset=".4168" stop-color="#9f9fff"/><stop offset=".4262" stop-color="#9797ff"/><stop offset=".4411" stop-color="#8787ff"/><stop offset=".4804" stop-color="#5151ff"/><stop offset=".4935" stop-color="#4747ff"/><stop offset=".5065" stop-color="#4545ff"/><stop offset=".5178" stop-color="#4b4bff"/><stop offset=".5327" stop-color="#5b5bff"/><stop offset=".5589" stop-color="#8181ff"/><stop offset=".5757" stop-color="#9595ff"/><stop offset=".5925" stop-color="#a3a3ff"/><stop offset=".6131" stop-color="#adadff"/><stop offset=".6299" stop-color="#b1b1ff"/><stop offset=".6486" stop-color="#b1b1ff"/><stop offset=".6505" stop-color="#b3b3ff"/><stop offset=".7028" stop-color="#b1b1ff"/><stop offset=".7047" stop-color="#afafff"/><stop offset=".9178" stop-color="#b1b1ff"/><stop offset=".9514" stop-color="#b9b9ff"/><stop offset=".9832" stop-color="#cdcdff"/><stop offset="1" stop-color="#ddddff"/></linearGradient><linearGradient id="h113" gradientUnits="userSpaceOnUse" x1="699" x2="1234" y1="0" y2="0"><stop offset="0" stop-color="#d5d5ff"/><stop offset=".0131" stop-color="#c7c7ff"/><stop offset=".0336" stop-color="#b7b7ff"/><stop offset=".0542" stop-color="#adadff"/><stop offset=".0729" stop-color="#ababff"/><stop offset=".0748" stop-color="#a9a9ff"/><stop offset=".1215" stop-color="#ababff"/><stop offset=".1402" stop-color="#afafff"/><stop offset=".1607" stop-color="#afafff"/><stop offset=".1626" stop-color="#b1b1ff"/><stop offset=".1925" stop-color="#b1b1ff"/><stop offset=".1944" stop-color="#afafff"/><stop offset=".2131" stop-color="#afafff"/><stop offset=".2318" stop-color="#ababff"/><stop offset=".2953" stop-color="#ababff"/><stop offset=".2972" stop-color="#adadff"/><stop offset=".3439" stop-color="#afafff"/><stop offset=".3458" stop-color="#adadff"/><stop offset=".3664" stop-color="#adadff"/><stop offset=".3925" stop-color="#a7a7ff"/><stop offset=".4093" stop-color="#9f9fff"/><stop offset=".4206" stop-color="#9797ff"/><stop offset=".4449" stop-color="#7d7dff"/><stop offset=".471" stop-color="#5757ff"/><stop offset=".4879" stop-color="#4545ff"/><stop offset=".4935" stop-color="#4141ff"/><stop offset=".5047" stop-color="#3f3fff"/><stop offset=".5196" stop-color="#4747ff"/><stop offset=".5308" stop-color="#5353ff"/><stop offset=".5645" stop-color="#8383ff"/><stop offset=".5832" stop-color="#9797ff"/><stop offset=".5907" stop-color="#9d9dff"/><stop offset=".615" stop-color="#a9a9ff"/><stop offset=".6318" stop-color="#adadff"/><stop offset=".6935" stop-color="#adadff"/><stop offset=".6953" stop-color="#ababff"/><stop offset=".9215" stop-color="#adadff"/><stop offset=".9402" stop-color="#b1b1ff"/><stop offset=".9626" stop-color="#bbbbff"/><stop offset=".9794" stop-color="#c7c7ff"/><stop offset="1" stop-color="#dbdbff"/></linearGradient><linearGradient id="h114" gradientUnits="userSpaceOnUse" x1="699" x2="1234" y1="0" y2="0"><stop offset="0" stop-color="#d1d1ff"/><stop offset=".0019" stop-color="#d1d1ff"/><stop offset=".0206" stop-color="#bdbdff"/><stop offset=".043" stop-color="#adadff"/><stop offset=".0692" stop-color="#a5a5ff"/><stop offset=".1084" stop-color="#a5a5ff"/><stop offset=".1103" stop-color="#a7a7ff"/><stop offset=".1421" stop-color="#a9a9ff"/><stop offset=".1439" stop-color="#ababff"/><stop offset=".1813" stop-color="#adadff"/><stop offset=".2093" stop-color="#ababff"/><stop offset=".2262" stop-color="#a7a7ff"/><stop offset=".2449" stop-color="#a7a7ff"/><stop offset=".2467" stop-color="#a5a5ff"/><stop offset=".2785" stop-color="#a5a5ff"/><stop offset=".2804" stop-color="#a7a7ff"/><stop offset=".3028" stop-color="#a7a7ff"/><stop offset=".3084" stop-color="#a9a9ff"/><stop offset=".3626" stop-color="#a9a9ff"/><stop offset=".3645" stop-color="#a7a7ff"/><stop offset=".3832" stop-color="#a5a5ff"/><stop offset=".4" stop-color="#9f9fff"/><stop offset=".4243" stop-color="#8f8fff"/><stop offset=".4393" stop-color="#7f7fff"/><stop offset=".4729" stop-color="#4f4fff"/><stop offset=".4879" stop-color="#3f3fff"/><stop offset=".4953" stop-color="#3b3bff"/><stop offset=".5103" stop-color="#3b3bff"/><stop offset=".5196" stop-color="#4141ff"/><stop offset=".529" stop-color="#4b4bff"/><stop offset=".5607" stop-color="#7979ff"/><stop offset=".5776" stop-color="#8d8dff"/><stop offset=".5981" stop-color="#9d9dff"/><stop offset=".6168" stop-color="#a5a5ff"/><stop offset=".6355" stop-color="#a9a9ff"/><stop offset=".6841" stop-color="#a9a9ff"/><stop offset=".686" stop-color="#a7a7ff"/><stop offset=".7159" stop-color="#a7a7ff"/><stop offset=".7178" stop-color="#a5a5ff"/><stop offset=".9252" stop-color="#a9a9ff"/><stop offset=".9477" stop-color="#afafff"/><stop offset=".9626" stop-color="#b7b7ff"/><stop offset=".985" stop-color="#c9c9ff"/><stop offset="1" stop-color="#d9d9ff"/></linearGradient><linearGradient id="h115" gradientUnits="userSpaceOnUse" x1="699" x2="1234" y1="0" y2="0"><stop offset="0" stop-color="#cfcfff"/><stop offset=".0168" stop-color="#bdbdff"/><stop offset=".0393" stop-color="#ababff"/><stop offset=".0579" stop-color="#a3a3ff"/><stop offset=".0785" stop-color="#a1a1ff"/><stop offset=".0804" stop-color="#9f9fff"/><stop offset=".1159" stop-color="#a1a1ff"/><stop offset=".1327" stop-color="#a5a5ff"/><stop offset=".1477" stop-color="#a5a5ff"/><stop offset=".1495" stop-color="#a7a7ff"/><stop offset=".2037" stop-color="#a7a7ff"/><stop offset=".2056" stop-color="#a5a5ff"/><stop offset=".2206" stop-color="#a5a5ff"/><stop offset=".2374" stop-color="#a1a1ff"/><stop offset=".2897" stop-color="#a1a1ff"/><stop offset=".2916" stop-color="#a3a3ff"/><stop offset=".3103" stop-color="#a3a3ff"/><stop offset=".3121" stop-color="#a5a5ff"/><stop offset=".357" stop-color="#a5a5ff"/><stop offset=".3589" stop-color="#a3a3ff"/><stop offset=".3813" stop-color="#a1a1ff"/><stop offset=".3981" stop-color="#9b9bff"/><stop offset=".4206" stop-color="#8d8dff"/><stop offset=".443" stop-color="#7575ff"/><stop offset=".4673" stop-color="#5151ff"/><stop offset=".486" stop-color="#3b3bff"/><stop offset=".4953" stop-color="#3535ff"/><stop offset=".5084" stop-color="#3535ff"/><stop offset=".5252" stop-color="#4141ff"/><stop offset=".5664" stop-color="#7b7bff"/><stop offset=".5832" stop-color="#8d8dff"/><stop offset=".5963" stop-color="#9797ff"/><stop offset=".6187" stop-color="#a1a1ff"/><stop offset=".6393" stop-color="#a3a3ff"/><stop offset=".6411" stop-color="#a5a5ff"/><stop offset=".6729" stop-color="#a5a5ff"/><stop offset=".6748" stop-color="#a3a3ff"/><stop offset=".7178" stop-color="#a1a1ff"/><stop offset=".914" stop-color="#a3a3ff"/><stop offset=".9159" stop-color="#a5a5ff"/><stop offset=".929" stop-color="#a5a5ff"/><stop offset=".9589" stop-color="#b1b1ff"/><stop offset=".9776" stop-color="#bfbfff"/><stop offset=".9981" stop-color="#d5d5ff"/><stop offset="1" stop-color="#d5d5ff"/></linearGradient><linearGradient id="h116" gradientUnits="userSpaceOnUse" x1="699" x2="1234" y1="0" y2="0"><stop offset="0" stop-color="#cdcdff"/><stop offset=".028" stop-color="#afafff"/><stop offset=".0393" stop-color="#a7a7ff"/><stop offset=".0542" stop-color="#9f9fff"/><stop offset=".071" stop-color="#9b9bff"/><stop offset=".1047" stop-color="#9b9bff"/><stop offset=".1065" stop-color="#9d9dff"/><stop offset=".1215" stop-color="#9d9dff"/><stop offset=".1234" stop-color="#9f9fff"/><stop offset=".1626" stop-color="#a3a3ff"/><stop offset=".2" stop-color="#a3a3ff"/><stop offset=".2019" stop-color="#a1a1ff"/><stop offset=".2505" stop-color="#9d9dff"/><stop offset=".2523" stop-color="#9b9bff"/><stop offset=".2972" stop-color="#9d9dff"/><stop offset=".2991" stop-color="#9f9fff"/><stop offset=".3196" stop-color="#9f9fff"/><stop offset=".3215" stop-color="#a1a1ff"/><stop offset=".3495" stop-color="#a1a1ff"/><stop offset=".3514" stop-color="#9f9fff"/><stop offset=".3682" stop-color="#9f9fff"/><stop offset=".385" stop-color="#9b9bff"/><stop offset=".4112" stop-color="#8f8fff"/><stop offset=".4243" stop-color="#8585ff"/><stop offset=".4467" stop-color="#6b6bff"/><stop offset=".4692" stop-color="#4949ff"/><stop offset=".4822" stop-color="#3939ff"/><stop offset=".4972" stop-color="#2f2fff"/><stop offset=".5084" stop-color="#2f2fff"/><stop offset=".5159" stop-color="#3333ff"/><stop offset=".5327" stop-color="#4545ff"/><stop offset=".5551" stop-color="#6767ff"/><stop offset=".5757" stop-color="#8181ff"/><stop offset=".5776" stop-color="#8181ff"/><stop offset=".5944" stop-color="#9191ff"/><stop offset=".615" stop-color="#9b9bff"/><stop offset=".6299" stop-color="#9f9fff"/><stop offset=".6916" stop-color="#9f9fff"/><stop offset=".6935" stop-color="#9d9dff"/><stop offset=".7234" stop-color="#9d9dff"/><stop offset=".7252" stop-color="#9b9bff"/><stop offset=".8187" stop-color="#9d9dff"/><stop offset=".8206" stop-color="#9f9fff"/><stop offset=".9196" stop-color="#9f9fff"/><stop offset=".9439" stop-color="#a5a5ff"/><stop offset=".9589" stop-color="#adadff"/><stop offset=".972" stop-color="#b7b7ff"/><stop offset="1" stop-color="#d3d3ff"/></linearGradient><linearGradient id="h117" gradientUnits="userSpaceOnUse" x1="699" x2="1234" y1="0" y2="0"><stop offset="0" stop-color="#cbcbff"/><stop offset=".0056" stop-color="#c3c3ff"/><stop offset=".0355" stop-color="#a5a5ff"/><stop offset=".0486" stop-color="#9d9dff"/><stop offset=".0654" stop-color="#9797ff"/><stop offset=".0841" stop-color="#9797ff"/><stop offset=".086" stop-color="#9595ff"/><stop offset=".0879" stop-color="#9797ff"/><stop offset=".1121" stop-color="#9797ff"/><stop offset=".114" stop-color="#9999ff"/><stop offset=".1589" stop-color="#9d9dff"/><stop offset=".1607" stop-color="#9f9fff"/><stop offset=".1925" stop-color="#9f9fff"/><stop offset=".1944" stop-color="#9d9dff"/><stop offset=".2112" stop-color="#9d9dff"/><stop offset=".2262" stop-color="#9999ff"/><stop offset=".2393" stop-color="#9999ff"/><stop offset=".2411" stop-color="#9797ff"/><stop offset=".2841" stop-color="#9797ff"/><stop offset=".286" stop-color="#9999ff"/><stop offset=".3047" stop-color="#9999ff"/><stop offset=".3065" stop-color="#9b9bff"/><stop offset=".3626" stop-color="#9b9bff"/><stop offset=".3645" stop-color="#9999ff"/><stop offset=".3832" stop-color="#9797ff"/><stop offset=".4093" stop-color="#8b8bff"/><stop offset=".4206" stop-color="#8383ff"/><stop offset=".4411" stop-color="#6d6dff"/><stop offset=".4598" stop-color="#5353ff"/><stop offset=".4654" stop-color="#4949ff"/><stop offset=".4766" stop-color="#3b3bff"/><stop offset=".4935" stop-color="#2b2bff"/><stop offset=".5047" stop-color="#2929ff"/><stop offset=".5178" stop-color="#2f2fff"/><stop offset=".5308" stop-color="#3d3dff"/><stop offset=".5664" stop-color="#7171ff"/><stop offset=".585" stop-color="#8585ff"/><stop offset=".5925" stop-color="#8b8bff"/><stop offset=".6168" stop-color="#9797ff"/><stop offset=".6336" stop-color="#9999ff"/><stop offset=".6355" stop-color="#9b9bff"/><stop offset=".6822" stop-color="#9b9bff"/><stop offset=".6841" stop-color="#9999ff"/><stop offset=".7196" stop-color="#9797ff"/><stop offset=".9047" stop-color="#9999ff"/><stop offset=".9065" stop-color="#9b9bff"/><stop offset=".9252" stop-color="#9b9bff"/><stop offset=".9402" stop-color="#9f9fff"/><stop offset=".9645" stop-color="#adadff"/><stop offset="1" stop-color="#d1d1ff"/></linearGradient><linearGradient id="h118" gradientUnits="userSpaceOnUse" x1="699" x2="1234" y1="0" y2="0"><stop offset="0" stop-color="#c9c9ff"/><stop offset=".015" stop-color="#b5b5ff"/><stop offset=".0355" stop-color="#a1a1ff"/><stop offset=".0561" stop-color="#9595ff"/><stop offset=".0729" stop-color="#9191ff"/><stop offset=".1028" stop-color="#9191ff"/><stop offset=".1047" stop-color="#9393ff"/><stop offset=".1327" stop-color="#9595ff"/><stop offset=".1477" stop-color="#9999ff"/><stop offset=".1682" stop-color="#9999ff"/><stop offset=".1701" stop-color="#9b9bff"/><stop offset=".2056" stop-color="#9999ff"/><stop offset=".2206" stop-color="#9595ff"/><stop offset=".2561" stop-color="#9393ff"/><stop offset=".2579" stop-color="#9191ff"/><stop offset=".3121" stop-color="#9595ff"/><stop offset=".314" stop-color="#9797ff"/><stop offset=".3589" stop-color="#9797ff"/><stop offset=".3607" stop-color="#9595ff"/><stop offset=".372" stop-color="#9595ff"/><stop offset=".3869" stop-color="#9191ff"/><stop offset=".4056" stop-color="#8989ff"/><stop offset=".4243" stop-color="#7b7bff"/><stop offset=".4374" stop-color="#6d6dff"/><stop offset=".4692" stop-color="#3f3fff"/><stop offset=".4841" stop-color="#2d2dff"/><stop offset=".4972" stop-color="#2525ff"/><stop offset=".5084" stop-color="#2525ff"/><stop offset=".5159" stop-color="#2929ff"/><stop offset=".5346" stop-color="#3d3dff"/><stop offset=".5626" stop-color="#6767ff"/><stop offset=".5776" stop-color="#7979ff"/><stop offset=".6" stop-color="#8b8bff"/><stop offset=".6187" stop-color="#9393ff"/><stop offset=".6374" stop-color="#9595ff"/><stop offset=".6393" stop-color="#9797ff"/><stop offset=".6729" stop-color="#9797ff"/><stop offset=".6748" stop-color="#9595ff"/><stop offset=".6972" stop-color="#9595ff"/><stop offset=".6991" stop-color="#9393ff"/><stop offset=".7533" stop-color="#9191ff"/><stop offset=".7551" stop-color="#9393ff"/><stop offset=".8037" stop-color="#9393ff"/><stop offset=".8056" stop-color="#9595ff"/><stop offset=".914" stop-color="#9595ff"/><stop offset=".9159" stop-color="#9797ff"/><stop offset=".9271" stop-color="#9797ff"/><stop offset=".9458" stop-color="#9d9dff"/><stop offset=".9645" stop-color="#a9a9ff"/><stop offset="1" stop-color="#cfcfff"/></linearGradient><linearGradient id="h119" gradientUnits="userSpaceOnUse" x1="699" x2="1234" y1="0" y2="0"><stop offset="0" stop-color="#c5c5ff"/><stop offset=".0355" stop-color="#9d9dff"/><stop offset=".0505" stop-color="#9393ff"/><stop offset=".0673" stop-color="#8d8dff"/><stop offset=".1103" stop-color="#8d8dff"/><stop offset=".1121" stop-color="#8f8fff"/><stop offset=".1514" stop-color="#9393ff"/><stop offset=".1533" stop-color="#9595ff"/><stop offset=".2019" stop-color="#9595ff"/><stop offset=".2299" stop-color="#8f8fff"/><stop offset=".243" stop-color="#8f8fff"/><stop offset=".2449" stop-color="#8d8dff"/><stop offset=".2804" stop-color="#8d8dff"/><stop offset=".2822" stop-color="#8f8fff"/><stop offset=".2991" stop-color="#8f8fff"/><stop offset=".3009" stop-color="#9191ff"/><stop offset=".3178" stop-color="#9191ff"/><stop offset=".3196" stop-color="#9393ff"/><stop offset=".3533" stop-color="#9393ff"/><stop offset=".3551" stop-color="#9191ff"/><stop offset=".3682" stop-color="#9191ff"/><stop offset=".385" stop-color="#8d8dff"/><stop offset=".4" stop-color="#8787ff"/><stop offset=".4187" stop-color="#7b7bff"/><stop offset=".443" stop-color="#6161ff"/><stop offset=".4729" stop-color="#3535ff"/><stop offset=".4879" stop-color="#2525ff"/><stop offset=".5028" stop-color="#1f1fff"/><stop offset=".514" stop-color="#2323ff"/><stop offset=".529" stop-color="#3131ff"/><stop offset=".5664" stop-color="#6767ff"/><stop offset=".5869" stop-color="#7d7dff"/><stop offset=".6093" stop-color="#8b8bff"/><stop offset=".6206" stop-color="#8f8fff"/><stop offset=".6449" stop-color="#9191ff"/><stop offset=".6467" stop-color="#9393ff"/><stop offset=".714" stop-color="#8f8fff"/><stop offset=".7159" stop-color="#8d8dff"/><stop offset=".7757" stop-color="#8d8dff"/><stop offset=".7776" stop-color="#8f8fff"/><stop offset=".8299" stop-color="#8f8fff"/><stop offset=".8318" stop-color="#9191ff"/><stop offset=".9196" stop-color="#9191ff"/><stop offset=".9421" stop-color="#9797ff"/><stop offset=".9589" stop-color="#a1a1ff"/><stop offset=".9794" stop-color="#b5b5ff"/><stop offset="1" stop-color="#cdcdff"/></linearGradient><linearGradient id="h120" gradientUnits="userSpaceOnUse" x1="699" x2="1234" y1="0" y2="0"><stop offset="0" stop-color="#c3c3ff"/><stop offset=".0131" stop-color="#b1b1ff"/><stop offset=".0374" stop-color="#9797ff"/><stop offset=".0579" stop-color="#8b8bff"/><stop offset=".0766" stop-color="#8787ff"/><stop offset=".114" stop-color="#8989ff"/><stop offset=".1159" stop-color="#8b8bff"/><stop offset=".1402" stop-color="#8d8dff"/><stop offset=".1551" stop-color="#9191ff"/><stop offset=".1981" stop-color="#9191ff"/><stop offset=".2" stop-color="#8f8fff"/><stop offset=".2374" stop-color="#8b8bff"/><stop offset=".2393" stop-color="#8989ff"/><stop offset=".2879" stop-color="#8989ff"/><stop offset=".2897" stop-color="#8b8bff"/><stop offset=".3271" stop-color="#8d8dff"/><stop offset=".329" stop-color="#8f8fff"/><stop offset=".3645" stop-color="#8d8dff"/><stop offset=".3832" stop-color="#8989ff"/><stop offset=".4093" stop-color="#7d7dff"/><stop offset=".4224" stop-color="#7373ff"/><stop offset=".4393" stop-color="#6161ff"/><stop offset=".471" stop-color="#3333ff"/><stop offset=".4879" stop-color="#2121ff"/><stop offset=".4991" stop-color="#1b1bff"/><stop offset=".5065" stop-color="#1b1bff"/><stop offset=".5178" stop-color="#2121ff"/><stop offset=".5327" stop-color="#3131ff"/><stop offset=".5607" stop-color="#5b5bff"/><stop offset=".5832" stop-color="#7575ff"/><stop offset=".5963" stop-color="#7f7fff"/><stop offset=".6224" stop-color="#8b8bff"/><stop offset=".6318" stop-color="#8d8dff"/><stop offset=".6822" stop-color="#8d8dff"/><stop offset=".6841" stop-color="#8b8bff"/><stop offset=".7047" stop-color="#8b8bff"/><stop offset=".7065" stop-color="#8989ff"/><stop offset=".7888" stop-color="#8989ff"/><stop offset=".7907" stop-color="#8b8bff"/><stop offset=".9047" stop-color="#8b8bff"/><stop offset=".9065" stop-color="#8d8dff"/><stop offset=".9234" stop-color="#8d8dff"/><stop offset=".9421" stop-color="#9393ff"/><stop offset=".9589" stop-color="#9d9dff"/><stop offset=".9794" stop-color="#b1b1ff"/><stop offset=".9813" stop-color="#b5b5ff"/><stop offset="1" stop-color="#cbcbff"/></linearGradient><linearGradient id="h121" gradientUnits="userSpaceOnUse" x1="699" x2="1234" y1="0" y2="0"><stop offset="0" stop-color="#c1c1ff"/><stop offset=".0187" stop-color="#a7a7ff"/><stop offset=".0374" stop-color="#9393ff"/><stop offset=".0579" stop-color="#8787ff"/><stop offset=".0729" stop-color="#8383ff"/><stop offset=".1028" stop-color="#8383ff"/><stop offset=".1047" stop-color="#8585ff"/><stop offset=".1421" stop-color="#8989ff"/><stop offset=".1439" stop-color="#8b8bff"/><stop offset=".157" stop-color="#8b8bff"/><stop offset=".1589" stop-color="#8d8dff"/><stop offset=".1963" stop-color="#8d8dff"/><stop offset=".1981" stop-color="#8b8bff"/><stop offset=".2224" stop-color="#8989ff"/><stop offset=".2355" stop-color="#8585ff"/><stop offset=".2523" stop-color="#8585ff"/><stop offset=".2542" stop-color="#8383ff"/><stop offset=".2916" stop-color="#8585ff"/><stop offset=".2935" stop-color="#8787ff"/><stop offset=".3084" stop-color="#8787ff"/><stop offset=".3103" stop-color="#8989ff"/><stop offset=".3626" stop-color="#8989ff"/><stop offset=".3813" stop-color="#8585ff"/><stop offset=".4056" stop-color="#7b7bff"/><stop offset=".4243" stop-color="#6d6dff"/><stop offset=".4467" stop-color="#5353ff"/><stop offset=".471" stop-color="#2f2fff"/><stop offset=".4879" stop-color="#1d1dff"/><stop offset=".4991" stop-color="#1717ff"/><stop offset=".5065" stop-color="#1717ff"/><stop offset=".5178" stop-color="#1d1dff"/><stop offset=".5327" stop-color="#2d2dff"/><stop offset=".5626" stop-color="#5959ff"/><stop offset=".5794" stop-color="#6d6dff"/><stop offset=".5963" stop-color="#7b7bff"/><stop offset=".6112" stop-color="#8383ff"/><stop offset=".6336" stop-color="#8989ff"/><stop offset=".6785" stop-color="#8989ff"/><stop offset=".6804" stop-color="#8787ff"/><stop offset=".7271" stop-color="#8585ff"/><stop offset=".729" stop-color="#8383ff"/><stop offset=".8" stop-color="#8585ff"/><stop offset=".8019" stop-color="#8787ff"/><stop offset=".9121" stop-color="#8787ff"/><stop offset=".914" stop-color="#8989ff"/><stop offset=".9252" stop-color="#8989ff"/><stop offset=".9383" stop-color="#8d8dff"/><stop offset=".9607" stop-color="#9b9bff"/><stop offset=".985" stop-color="#b5b5ff"/><stop offset="1" stop-color="#c9c9ff"/></linearGradient><linearGradient id="h122" gradientUnits="userSpaceOnUse" x1="699" x2="1234" y1="0" y2="0"><stop offset="0" stop-color="#bfbfff"/><stop offset=".0224" stop-color="#9f9fff"/><stop offset=".0355" stop-color="#9191ff"/><stop offset=".0523" stop-color="#8585ff"/><stop offset=".0692" stop-color="#7f7fff"/><stop offset=".1065" stop-color="#7f7fff"/><stop offset=".1084" stop-color="#8181ff"/><stop offset=".1196" stop-color="#8181ff"/><stop offset=".1215" stop-color="#8383ff"/><stop offset=".1589" stop-color="#8787ff"/><stop offset=".1607" stop-color="#8989ff"/><stop offset=".185" stop-color="#8989ff"/><stop offset=".2093" stop-color="#8787ff"/><stop offset=".2112" stop-color="#8585ff"/><stop offset=".2467" stop-color="#8181ff"/><stop offset=".2486" stop-color="#7f7fff"/><stop offset=".2766" stop-color="#7f7fff"/><stop offset=".2785" stop-color="#8181ff"/><stop offset=".2935" stop-color="#8181ff"/><stop offset=".2953" stop-color="#8383ff"/><stop offset=".314" stop-color="#8585ff"/><stop offset=".3607" stop-color="#8585ff"/><stop offset=".3869" stop-color="#7f7fff"/><stop offset=".4112" stop-color="#7373ff"/><stop offset=".4262" stop-color="#6767ff"/><stop offset=".4449" stop-color="#5151ff"/><stop offset=".471" stop-color="#2b2bff"/><stop offset=".4879" stop-color="#1919ff"/><stop offset=".4953" stop-color="#1515ff"/><stop offset=".5103" stop-color="#1515ff"/><stop offset=".5196" stop-color="#1b1bff"/><stop offset=".5327" stop-color="#2929ff"/><stop offset=".5626" stop-color="#5555ff"/><stop offset=".5888" stop-color="#7171ff"/><stop offset=".6075" stop-color="#7d7dff"/><stop offset=".6355" stop-color="#8585ff"/><stop offset=".6748" stop-color="#8585ff"/><stop offset=".6766" stop-color="#8383ff"/><stop offset=".6953" stop-color="#8383ff"/><stop offset=".6972" stop-color="#8181ff"/><stop offset=".7196" stop-color="#8181ff"/><stop offset=".7215" stop-color="#7f7fff"/><stop offset=".7551" stop-color="#7f7fff"/><stop offset=".8093" stop-color="#8181ff"/><stop offset=".8112" stop-color="#8383ff"/><stop offset=".914" stop-color="#8383ff"/><stop offset=".9159" stop-color="#8585ff"/><stop offset=".9252" stop-color="#8585ff"/><stop offset=".9383" stop-color="#8989ff"/><stop offset=".9626" stop-color="#9999ff"/><stop offset=".9776" stop-color="#a9a9ff"/><stop offset="1" stop-color="#c7c7ff"/></linearGradient><linearGradient id="h123" gradientUnits="userSpaceOnUse" x1="699" x2="1234" y1="0" y2="0"><stop offset="0" stop-color="#bdbdff"/><stop offset=".0187" stop-color="#a1a1ff"/><stop offset=".0318" stop-color="#9191ff"/><stop offset=".0486" stop-color="#8383ff"/><stop offset=".0692" stop-color="#7b7bff"/><stop offset=".1084" stop-color="#7b7bff"/><stop offset=".1103" stop-color="#7d7dff"/><stop offset=".1215" stop-color="#7d7dff"/><stop offset=".1234" stop-color="#7f7fff"/><stop offset=".1626" stop-color="#8585ff"/><stop offset=".1944" stop-color="#8585ff"/><stop offset=".2318" stop-color="#7d7dff"/><stop offset=".2449" stop-color="#7d7dff"/><stop offset=".2467" stop-color="#7b7bff"/><stop offset=".2785" stop-color="#7b7bff"/><stop offset=".2804" stop-color="#7d7dff"/><stop offset=".2953" stop-color="#7d7dff"/><stop offset=".2972" stop-color="#7f7fff"/><stop offset=".3159" stop-color="#8181ff"/><stop offset=".3607" stop-color="#8181ff"/><stop offset=".3869" stop-color="#7b7bff"/><stop offset=".4112" stop-color="#6f6fff"/><stop offset=".4262" stop-color="#6363ff"/><stop offset=".4467" stop-color="#4b4bff"/><stop offset=".4748" stop-color="#2323ff"/><stop offset=".4841" stop-color="#1919ff"/><stop offset=".4972" stop-color="#1111ff"/><stop offset=".5084" stop-color="#1111ff"/><stop offset=".5159" stop-color="#1515ff"/><stop offset=".529" stop-color="#2121ff"/><stop offset=".5439" stop-color="#3535ff"/><stop offset=".5551" stop-color="#4747ff"/><stop offset=".5776" stop-color="#6363ff"/><stop offset=".5794" stop-color="#6363ff"/><stop offset=".5888" stop-color="#6d6dff"/><stop offset=".6075" stop-color="#7979ff"/><stop offset=".6355" stop-color="#8181ff"/><stop offset=".6748" stop-color="#8181ff"/><stop offset=".6766" stop-color="#7f7fff"/><stop offset=".6935" stop-color="#7f7fff"/><stop offset=".6953" stop-color="#7d7dff"/><stop offset=".7159" stop-color="#7d7dff"/><stop offset=".7178" stop-color="#7b7bff"/><stop offset=".772" stop-color="#7b7bff"/><stop offset=".7738" stop-color="#7d7dff"/><stop offset=".8131" stop-color="#7d7dff"/><stop offset=".815" stop-color="#7f7fff"/><stop offset=".914" stop-color="#7f7fff"/><stop offset=".9159" stop-color="#8181ff"/><stop offset=".9252" stop-color="#8181ff"/><stop offset=".9383" stop-color="#8585ff"/><stop offset=".9551" stop-color="#8f8fff"/><stop offset=".9813" stop-color="#ababff"/><stop offset="1" stop-color="#c5c5ff"/></linearGradient><linearGradient id="h124" gradientUnits="userSpaceOnUse" x1="699" x2="1234" y1="0" y2="0"><stop offset="0" stop-color="#bbbbff"/><stop offset=".0224" stop-color="#9999ff"/><stop offset=".0411" stop-color="#8585ff"/><stop offset=".0617" stop-color="#7979ff"/><stop offset=".0692" stop-color="#7777ff"/><stop offset=".1084" stop-color="#7777ff"/><stop offset=".1103" stop-color="#7979ff"/><stop offset=".1551" stop-color="#7f7fff"/><stop offset=".157" stop-color="#8181ff"/><stop offset=".1981" stop-color="#8181ff"/><stop offset=".2336" stop-color="#7979ff"/><stop offset=".2449" stop-color="#7979ff"/><stop offset=".2467" stop-color="#7777ff"/><stop offset=".2785" stop-color="#7777ff"/><stop offset=".2804" stop-color="#7979ff"/><stop offset=".3084" stop-color="#7b7bff"/><stop offset=".3103" stop-color="#7d7dff"/><stop offset=".3626" stop-color="#7d7dff"/><stop offset=".3645" stop-color="#7b7bff"/><stop offset=".3813" stop-color="#7979ff"/><stop offset=".4056" stop-color="#6f6fff"/><stop offset=".4243" stop-color="#6161ff"/><stop offset=".4486" stop-color="#4545ff"/><stop offset=".471" stop-color="#2525ff"/><stop offset=".486" stop-color="#1515ff"/><stop offset=".4953" stop-color="#0f0fff"/><stop offset=".5084" stop-color="#0f0fff"/><stop offset=".5196" stop-color="#1515ff"/><stop offset=".5327" stop-color="#2323ff"/><stop offset=".5607" stop-color="#4b4bff"/><stop offset=".5813" stop-color="#6363ff"/><stop offset=".5963" stop-color="#6f6fff"/><stop offset=".6112" stop-color="#7777ff"/><stop offset=".6336" stop-color="#7d7dff"/><stop offset=".6766" stop-color="#7d7dff"/><stop offset=".6785" stop-color="#7b7bff"/><stop offset=".7252" stop-color="#7777ff"/><stop offset=".7701" stop-color="#7777ff"/><stop offset=".772" stop-color="#7979ff"/><stop offset=".8093" stop-color="#7979ff"/><stop offset=".8112" stop-color="#7b7bff"/><stop offset=".9121" stop-color="#7b7bff"/><stop offset=".914" stop-color="#7d7dff"/><stop offset=".9252" stop-color="#7d7dff"/><stop offset=".9364" stop-color="#8181ff"/><stop offset=".9589" stop-color="#8f8fff"/><stop offset=".9757" stop-color="#a1a1ff"/><stop offset="1" stop-color="#c3c3ff"/></linearGradient><linearGradient id="h125" gradientUnits="userSpaceOnUse" x1="699" x2="1234" y1="0" y2="0"><stop offset="0" stop-color="#b9b9ff"/><stop offset=".0206" stop-color="#9999ff"/><stop offset=".0374" stop-color="#8585ff"/><stop offset=".0505" stop-color="#7b7bff"/><stop offset=".071" stop-color="#7373ff"/><stop offset=".1047" stop-color="#7373ff"/><stop offset=".1402" stop-color="#7b7bff"/><stop offset=".172" stop-color="#7d7dff"/><stop offset=".1738" stop-color="#7f7fff"/><stop offset=".2019" stop-color="#7d7dff"/><stop offset=".2037" stop-color="#7b7bff"/><stop offset=".2131" stop-color="#7b7bff"/><stop offset=".2355" stop-color="#7575ff"/><stop offset=".2486" stop-color="#7575ff"/><stop offset=".2505" stop-color="#7373ff"/><stop offset=".2748" stop-color="#7373ff"/><stop offset=".2766" stop-color="#7575ff"/><stop offset=".2916" stop-color="#7575ff"/><stop offset=".2935" stop-color="#7777ff"/><stop offset=".3234" stop-color="#7979ff"/><stop offset=".3252" stop-color="#7b7bff"/><stop offset=".3495" stop-color="#7b7bff"/><stop offset=".3514" stop-color="#7979ff"/><stop offset=".3664" stop-color="#7979ff"/><stop offset=".3832" stop-color="#7575ff"/><stop offset=".4019" stop-color="#6d6dff"/><stop offset=".4206" stop-color="#6161ff"/><stop offset=".4449" stop-color="#4747ff"/><stop offset=".4692" stop-color="#2525ff"/><stop offset=".486" stop-color="#1313ff"/><stop offset=".4972" stop-color="#0d0dff"/><stop offset=".5084" stop-color="#0d0dff"/><stop offset=".5196" stop-color="#1313ff"/><stop offset=".5346" stop-color="#2323ff"/><stop offset=".5645" stop-color="#4d4dff"/><stop offset=".585" stop-color="#6363ff"/><stop offset=".5981" stop-color="#6d6dff"/><stop offset=".615" stop-color="#7575ff"/><stop offset=".6299" stop-color="#7979ff"/><stop offset=".6804" stop-color="#7979ff"/><stop offset=".6822" stop-color="#7777ff"/><stop offset=".6991" stop-color="#7777ff"/><stop offset=".7009" stop-color="#7575ff"/><stop offset=".7234" stop-color="#7575ff"/><stop offset=".7252" stop-color="#7373ff"/><stop offset=".7645" stop-color="#7373ff"/><stop offset=".7664" stop-color="#7575ff"/><stop offset=".8" stop-color="#7575ff"/><stop offset=".8019" stop-color="#7777ff"/><stop offset=".9084" stop-color="#7777ff"/><stop offset=".9103" stop-color="#7979ff"/><stop offset=".9215" stop-color="#7979ff"/><stop offset=".9402" stop-color="#7f7fff"/><stop offset=".9533" stop-color="#8787ff"/><stop offset=".9776" stop-color="#a1a1ff"/><stop offset="1" stop-color="#c3c3ff"/></linearGradient><linearGradient id="h126" gradientUnits="userSpaceOnUse" x1="699" x2="1234" y1="0" y2="0"><stop offset="0" stop-color="#b7b7ff"/><stop offset=".0187" stop-color="#9999ff"/><stop offset=".043" stop-color="#7d7dff"/><stop offset=".0598" stop-color="#7373ff"/><stop offset=".0748" stop-color="#6f6fff"/><stop offset=".1009" stop-color="#6f6fff"/><stop offset=".1028" stop-color="#7171ff"/><stop offset=".114" stop-color="#7171ff"/><stop offset=".1607" stop-color="#7b7bff"/><stop offset=".1944" stop-color="#7b7bff"/><stop offset=".2411" stop-color="#7171ff"/><stop offset=".286" stop-color="#7171ff"/><stop offset=".2879" stop-color="#7373ff"/><stop offset=".3159" stop-color="#7575ff"/><stop offset=".3178" stop-color="#7777ff"/><stop offset=".3589" stop-color="#7777ff"/><stop offset=".3607" stop-color="#7575ff"/><stop offset=".3794" stop-color="#7373ff"/><stop offset=".3963" stop-color="#6d6dff"/><stop offset=".4168" stop-color="#6161ff"/><stop offset=".443" stop-color="#4747ff"/><stop offset=".4692" stop-color="#2323ff"/><stop offset=".4841" stop-color="#1313ff"/><stop offset=".4991" stop-color="#0b0bff"/><stop offset=".5065" stop-color="#0b0bff"/><stop offset=".5215" stop-color="#1313ff"/><stop offset=".5346" stop-color="#2121ff"/><stop offset=".5682" stop-color="#4f4fff"/><stop offset=".5813" stop-color="#5d5dff"/><stop offset=".6075" stop-color="#6f6fff"/><stop offset=".6374" stop-color="#7777ff"/><stop offset=".6692" stop-color="#7777ff"/><stop offset=".671" stop-color="#7575ff"/><stop offset=".6879" stop-color="#7575ff"/><stop offset=".6897" stop-color="#7373ff"/><stop offset=".7065" stop-color="#7373ff"/><stop offset=".7084" stop-color="#7171ff"/><stop offset=".9178" stop-color="#7575ff"/><stop offset=".9383" stop-color="#7b7bff"/><stop offset=".9607" stop-color="#8b8bff"/><stop offset=".9776" stop-color="#9f9fff"/><stop offset="1" stop-color="#c1c1ff"/></linearGradient><linearGradient id="h127" gradientUnits="userSpaceOnUse" x1="699" x2="1234" y1="0" y2="0"><stop offset="0" stop-color="#b5b5ff"/><stop offset=".0243" stop-color="#8f8fff"/><stop offset=".0449" stop-color="#7979ff"/><stop offset=".0692" stop-color="#6d6dff"/><stop offset=".1065" stop-color="#6d6dff"/><stop offset=".1402" stop-color="#7575ff"/><stop offset=".1682" stop-color="#7777ff"/><stop offset=".1701" stop-color="#7979ff"/><stop offset=".2019" stop-color="#7777ff"/><stop offset=".2486" stop-color="#6d6dff"/><stop offset=".2766" stop-color="#6d6dff"/><stop offset=".2785" stop-color="#6f6fff"/><stop offset=".2916" stop-color="#6f6fff"/><stop offset=".3084" stop-color="#7373ff"/><stop offset=".3234" stop-color="#7373ff"/><stop offset=".3252" stop-color="#7575ff"/><stop offset=".3514" stop-color="#7575ff"/><stop offset=".3533" stop-color="#7373ff"/><stop offset=".3664" stop-color="#7373ff"/><stop offset=".3832" stop-color="#6f6fff"/><stop offset=".4131" stop-color="#6161ff"/><stop offset=".428" stop-color="#5555ff"/><stop offset=".443" stop-color="#4545ff"/><stop offset=".4636" stop-color="#2929ff"/><stop offset=".486" stop-color="#1111ff"/><stop offset=".4972" stop-color="#0b0bff"/><stop offset=".5084" stop-color="#0b0bff"/><stop offset=".5196" stop-color="#1111ff"/><stop offset=".5402" stop-color="#2727ff"/><stop offset=".557" stop-color="#3f3fff"/><stop offset=".5757" stop-color="#5555ff"/><stop offset=".5776" stop-color="#5555ff"/><stop offset=".5944" stop-color="#6565ff"/><stop offset=".6093" stop-color="#6d6dff"/><stop offset=".628" stop-color="#7373ff"/><stop offset=".6449" stop-color="#7373ff"/><stop offset=".6467" stop-color="#7575ff"/><stop offset=".6804" stop-color="#7373ff"/><stop offset=".6991" stop-color="#6f6fff"/><stop offset=".7196" stop-color="#6f6fff"/><stop offset=".7215" stop-color="#6d6dff"/><stop offset=".7682" stop-color="#6d6dff"/><stop offset=".7701" stop-color="#6f6fff"/><stop offset=".8037" stop-color="#6f6fff"/><stop offset=".8056" stop-color="#7171ff"/><stop offset=".9084" stop-color="#7171ff"/><stop offset=".9103" stop-color="#7373ff"/><stop offset=".9215" stop-color="#7373ff"/><stop offset=".9346" stop-color="#7777ff"/><stop offset=".957" stop-color="#8585ff"/><stop offset=".9776" stop-color="#9d9dff"/><stop offset="1" stop-color="#bfbfff"/></linearGradient><linearGradient id="h128" gradientUnits="userSpaceOnUse" x1="699" x2="1234" y1="0" y2="0"><stop offset="0" stop-color="#b5b5ff"/><stop offset=".0075" stop-color="#a7a7ff"/><stop offset=".0243" stop-color="#8d8dff"/><stop offset=".0467" stop-color="#7575ff"/><stop offset=".0673" stop-color="#6b6bff"/><stop offset=".0953" stop-color="#6969ff"/><stop offset=".1421" stop-color="#7373ff"/><stop offset=".1533" stop-color="#7373ff"/><stop offset=".1551" stop-color="#7575ff"/><stop offset=".2" stop-color="#7575ff"/><stop offset=".2449" stop-color="#6b6bff"/><stop offset=".2804" stop-color="#6b6bff"/><stop offset=".2822" stop-color="#6d6dff"/><stop offset=".2953" stop-color="#6d6dff"/><stop offset=".3103" stop-color="#7171ff"/><stop offset=".3308" stop-color="#7171ff"/><stop offset=".3327" stop-color="#7373ff"/><stop offset=".3645" stop-color="#7171ff"/><stop offset=".3888" stop-color="#6b6bff"/><stop offset=".4131" stop-color="#5f5fff"/><stop offset=".428" stop-color="#5353ff"/><stop offset=".4467" stop-color="#3f3fff"/><stop offset=".471" stop-color="#1f1fff"/><stop offset=".4879" stop-color="#0f0fff"/><stop offset=".4972" stop-color="#0b0bff"/><stop offset=".5084" stop-color="#0b0bff"/><stop offset=".5178" stop-color="#0f0fff"/><stop offset=".5308" stop-color="#1b1bff"/><stop offset=".5664" stop-color="#4949ff"/><stop offset=".5776" stop-color="#5555ff"/><stop offset=".5981" stop-color="#6565ff"/><stop offset=".6093" stop-color="#6b6bff"/><stop offset=".6299" stop-color="#7171ff"/><stop offset=".6766" stop-color="#7171ff"/><stop offset=".6785" stop-color="#6f6fff"/><stop offset=".7121" stop-color="#6d6dff"/><stop offset=".7159" stop-color="#6b6bff"/><stop offset=".7776" stop-color="#6b6bff"/><stop offset=".7794" stop-color="#6d6dff"/><stop offset=".8131" stop-color="#6d6dff"/><stop offset=".815" stop-color="#6f6fff"/><stop offset=".9121" stop-color="#6f6fff"/><stop offset=".914" stop-color="#7171ff"/><stop offset=".9234" stop-color="#7171ff"/><stop offset=".9402" stop-color="#7777ff"/><stop offset=".957" stop-color="#8383ff"/><stop offset=".9757" stop-color="#9999ff"/><stop offset="1" stop-color="#bfbfff"/></linearGradient><linearGradient id="h129" gradientUnits="userSpaceOnUse" x1="699" x2="1234" y1="0" y2="0"><stop offset="0" stop-color="#b3b3ff"/><stop offset=".0262" stop-color="#8989ff"/><stop offset=".0449" stop-color="#7575ff"/><stop offset=".0673" stop-color="#6969ff"/><stop offset=".0953" stop-color="#6767ff"/><stop offset=".0972" stop-color="#6969ff"/><stop offset=".1215" stop-color="#6b6bff"/><stop offset=".1533" stop-color="#7373ff"/><stop offset=".1738" stop-color="#7373ff"/><stop offset=".1757" stop-color="#7575ff"/><stop offset=".2" stop-color="#7373ff"/><stop offset=".2449" stop-color="#6969ff"/><stop offset=".2822" stop-color="#6969ff"/><stop offset=".3103" stop-color="#6f6fff"/><stop offset=".329" stop-color="#6f6fff"/><stop offset=".3308" stop-color="#7171ff"/><stop offset=".3645" stop-color="#6f6fff"/><stop offset=".3757" stop-color="#6b6bff"/><stop offset=".3832" stop-color="#6b6bff"/><stop offset=".3981" stop-color="#6565ff"/><stop offset=".4243" stop-color="#5555ff"/><stop offset=".4542" stop-color="#3535ff"/><stop offset=".4561" stop-color="#3131ff"/><stop offset=".4766" stop-color="#1919ff"/><stop offset=".4935" stop-color="#0d0dff"/><stop offset=".5065" stop-color="#0b0bff"/><stop offset=".5196" stop-color="#1111ff"/><stop offset=".5271" stop-color="#1717ff"/><stop offset=".5477" stop-color="#2f2fff"/><stop offset=".5589" stop-color="#3f3fff"/><stop offset=".5813" stop-color="#5757ff"/><stop offset=".6093" stop-color="#6969ff"/><stop offset=".6299" stop-color="#6f6fff"/><stop offset=".6766" stop-color="#6f6fff"/><stop offset=".6785" stop-color="#6d6dff"/><stop offset=".7121" stop-color="#6b6bff"/><stop offset=".714" stop-color="#6969ff"/><stop offset=".7346" stop-color="#6969ff"/><stop offset=".7776" stop-color="#6969ff"/><stop offset=".7794" stop-color="#6b6bff"/><stop offset=".815" stop-color="#6b6bff"/><stop offset=".8168" stop-color="#6d6dff"/><stop offset=".9121" stop-color="#6d6dff"/><stop offset=".914" stop-color="#6f6fff"/><stop offset=".9234" stop-color="#6f6fff"/><stop offset=".9439" stop-color="#7777ff"/><stop offset=".9589" stop-color="#8383ff"/><stop offset=".9738" stop-color="#9595ff"/><stop offset="1" stop-color="#bdbdff"/></linearGradient><linearGradient id="h130" gradientUnits="userSpaceOnUse" x1="699" x2="1234" y1="0" y2="0"><stop offset="0" stop-color="#b3b3ff"/><stop offset=".0075" stop-color="#a5a5ff"/><stop offset=".0299" stop-color="#8383ff"/><stop offset=".0505" stop-color="#6f6fff"/><stop offset=".0692" stop-color="#6767ff"/><stop offset=".0804" stop-color="#6767ff"/><stop offset=".0822" stop-color="#6565ff"/><stop offset=".1084" stop-color="#6767ff"/><stop offset=".1103" stop-color="#6969ff"/><stop offset=".1196" stop-color="#6969ff"/><stop offset=".1308" stop-color="#6d6dff"/><stop offset=".1645" stop-color="#7171ff"/><stop offset=".1664" stop-color="#7373ff"/><stop offset=".2037" stop-color="#7171ff"/><stop offset=".2467" stop-color="#6767ff"/><stop offset=".2785" stop-color="#6767ff"/><stop offset=".2804" stop-color="#6969ff"/><stop offset=".2935" stop-color="#6969ff"/><stop offset=".2953" stop-color="#6b6bff"/><stop offset=".3215" stop-color="#6d6dff"/><stop offset=".3234" stop-color="#6f6fff"/><stop offset=".3682" stop-color="#6d6dff"/><stop offset=".3963" stop-color="#6565ff"/><stop offset=".415" stop-color="#5b5bff"/><stop offset=".4299" stop-color="#4f4fff"/><stop offset=".4822" stop-color="#1515ff"/><stop offset=".4972" stop-color="#0d0dff"/><stop offset=".5103" stop-color="#0d0dff"/><stop offset=".5234" stop-color="#1515ff"/><stop offset=".5458" stop-color="#2d2dff"/><stop offset=".5477" stop-color="#3131ff"/><stop offset=".5757" stop-color="#5151ff"/><stop offset=".5963" stop-color="#6161ff"/><stop offset=".6075" stop-color="#6767ff"/><stop offset=".6411" stop-color="#6f6fff"/><stop offset=".6804" stop-color="#6d6dff"/><stop offset=".6822" stop-color="#6b6bff"/><stop offset=".7178" stop-color="#6969ff"/><stop offset=".7196" stop-color="#6767ff"/><stop offset=".7701" stop-color="#6767ff"/><stop offset=".772" stop-color="#6969ff"/><stop offset=".8037" stop-color="#6969ff"/><stop offset=".8056" stop-color="#6b6bff"/><stop offset=".9084" stop-color="#6b6bff"/><stop offset=".9103" stop-color="#6d6dff"/><stop offset=".9215" stop-color="#6d6dff"/><stop offset=".9346" stop-color="#7171ff"/><stop offset=".9514" stop-color="#7b7bff"/><stop offset=".972" stop-color="#9191ff"/><stop offset="1" stop-color="#bdbdff"/></linearGradient><linearGradient id="h131" gradientUnits="userSpaceOnUse" x1="699" x2="1234" y1="0" y2="0"><stop offset="0" stop-color="#b3b3ff"/><stop offset=".0093" stop-color="#a1a1ff"/><stop offset=".0262" stop-color="#8787ff"/><stop offset=".0467" stop-color="#7171ff"/><stop offset=".0654" stop-color="#6767ff"/><stop offset=".1028" stop-color="#6565ff"/><stop offset=".157" stop-color="#7171ff"/><stop offset=".1981" stop-color="#7171ff"/><stop offset=".2393" stop-color="#6767ff"/><stop offset=".2579" stop-color="#6767ff"/><stop offset=".2598" stop-color="#6565ff"/><stop offset=".286" stop-color="#6767ff"/><stop offset=".3009" stop-color="#6b6bff"/><stop offset=".314" stop-color="#6b6bff"/><stop offset=".3159" stop-color="#6d6dff"/><stop offset=".3626" stop-color="#6d6dff"/><stop offset=".3645" stop-color="#6b6bff"/><stop offset=".3738" stop-color="#6b6bff"/><stop offset=".3981" stop-color="#6363ff"/><stop offset=".4224" stop-color="#5555ff"/><stop offset=".4299" stop-color="#4f4fff"/><stop offset=".4617" stop-color="#2d2dff"/><stop offset=".4729" stop-color="#1f1fff"/><stop offset=".4879" stop-color="#1313ff"/><stop offset=".4972" stop-color="#0f0fff"/><stop offset=".5103" stop-color="#0f0fff"/><stop offset=".5215" stop-color="#1515ff"/><stop offset=".5308" stop-color="#1d1dff"/><stop offset=".557" stop-color="#3b3bff"/><stop offset=".5589" stop-color="#3f3fff"/><stop offset=".5832" stop-color="#5757ff"/><stop offset=".6093" stop-color="#6767ff"/><stop offset=".6224" stop-color="#6b6bff"/><stop offset=".6299" stop-color="#6b6bff"/><stop offset=".6318" stop-color="#6d6dff"/><stop offset=".6729" stop-color="#6d6dff"/><stop offset=".6748" stop-color="#6b6bff"/><stop offset=".6897" stop-color="#6b6bff"/><stop offset=".7065" stop-color="#6767ff"/><stop offset=".7495" stop-color="#6565ff"/><stop offset=".7514" stop-color="#6767ff"/><stop offset=".7888" stop-color="#6767ff"/><stop offset=".7907" stop-color="#6969ff"/><stop offset=".9159" stop-color="#6b6bff"/><stop offset=".9178" stop-color="#6d6dff"/><stop offset=".9252" stop-color="#6d6dff"/><stop offset=".9439" stop-color="#7575ff"/><stop offset=".9626" stop-color="#8585ff"/><stop offset=".9794" stop-color="#9b9bff"/><stop offset="1" stop-color="#bdbdff"/></linearGradient><linearGradient id="h132" gradientUnits="userSpaceOnUse" x1="699" x2="1234" y1="0" y2="0"><stop offset="0" stop-color="#b1b1ff"/><stop offset=".0243" stop-color="#8989ff"/><stop offset=".0318" stop-color="#7f7fff"/><stop offset=".0486" stop-color="#6f6fff"/><stop offset=".0636" stop-color="#6767ff"/><stop offset=".071" stop-color="#6565ff"/><stop offset=".1065" stop-color="#6565ff"/><stop offset=".1607" stop-color="#7171ff"/><stop offset=".1925" stop-color="#7171ff"/><stop offset=".1944" stop-color="#6f6fff"/><stop offset=".2056" stop-color="#6f6fff"/><stop offset=".2505" stop-color="#6565ff"/><stop offset=".2748" stop-color="#6565ff"/><stop offset=".2766" stop-color="#6767ff"/><stop offset=".2897" stop-color="#6767ff"/><stop offset=".3047" stop-color="#6b6bff"/><stop offset=".3178" stop-color="#6b6bff"/><stop offset=".3196" stop-color="#6d6dff"/><stop offset=".3701" stop-color="#6b6bff"/><stop offset=".3981" stop-color="#6363ff"/><stop offset=".4168" stop-color="#5959ff"/><stop offset=".443" stop-color="#4343ff"/><stop offset=".4636" stop-color="#2b2bff"/><stop offset=".4822" stop-color="#1919ff"/><stop offset=".4991" stop-color="#1111ff"/><stop offset=".5065" stop-color="#1111ff"/><stop offset=".5178" stop-color="#1515ff"/><stop offset=".5327" stop-color="#2121ff"/><stop offset=".557" stop-color="#3d3dff"/><stop offset=".585" stop-color="#5959ff"/><stop offset=".6056" stop-color="#6565ff"/><stop offset=".6243" stop-color="#6b6bff"/><stop offset=".6673" stop-color="#6d6dff"/><stop offset=".6692" stop-color="#6b6bff"/><stop offset=".7215" stop-color="#6767ff"/><stop offset=".7234" stop-color="#6565ff"/><stop offset=".7645" stop-color="#6565ff"/><stop offset=".7664" stop-color="#6767ff"/><stop offset=".7981" stop-color="#6767ff"/><stop offset=".8" stop-color="#6969ff"/><stop offset=".9028" stop-color="#6969ff"/><stop offset=".9047" stop-color="#6b6bff"/><stop offset=".9271" stop-color="#6d6dff"/><stop offset=".9421" stop-color="#7373ff"/><stop offset=".9533" stop-color="#7b7bff"/><stop offset=".9682" stop-color="#8b8bff"/><stop offset=".985" stop-color="#a3a3ff"/><stop offset="1" stop-color="#bdbdff"/></linearGradient><linearGradient id="h133" gradientUnits="userSpaceOnUse" x1="699" x2="1234" y1="0" y2="0"><stop offset="0" stop-color="#b1b1ff"/><stop offset=".0243" stop-color="#8989ff"/><stop offset=".0318" stop-color="#7f7fff"/><stop offset=".0486" stop-color="#6f6fff"/><stop offset=".0636" stop-color="#6767ff"/><stop offset=".071" stop-color="#6565ff"/><stop offset=".1065" stop-color="#6565ff"/><stop offset=".1607" stop-color="#7171ff"/><stop offset=".1925" stop-color="#7171ff"/><stop offset=".1944" stop-color="#6f6fff"/><stop offset=".2056" stop-color="#6f6fff"/><stop offset=".2505" stop-color="#6565ff"/><stop offset=".2748" stop-color="#6565ff"/><stop offset=".2766" stop-color="#6767ff"/><stop offset=".2897" stop-color="#6767ff"/><stop offset=".3047" stop-color="#6b6bff"/><stop offset=".3178" stop-color="#6b6bff"/><stop offset=".3196" stop-color="#6d6dff"/><stop offset=".372" stop-color="#6b6bff"/><stop offset=".4112" stop-color="#5d5dff"/><stop offset=".4336" stop-color="#4d4dff"/><stop offset=".4785" stop-color="#1f1fff"/><stop offset=".4972" stop-color="#1515ff"/><stop offset=".5084" stop-color="#1515ff"/><stop offset=".5271" stop-color="#1f1fff"/><stop offset=".5701" stop-color="#4d4dff"/><stop offset=".5869" stop-color="#5b5bff"/><stop offset=".6" stop-color="#6363ff"/><stop offset=".6224" stop-color="#6b6bff"/><stop offset=".6673" stop-color="#6d6dff"/><stop offset=".6692" stop-color="#6b6bff"/><stop offset=".7215" stop-color="#6767ff"/><stop offset=".7234" stop-color="#6565ff"/><stop offset=".7645" stop-color="#6565ff"/><stop offset=".7664" stop-color="#6767ff"/><stop offset=".7981" stop-color="#6767ff"/><stop offset=".8" stop-color="#6969ff"/><stop offset=".9028" stop-color="#6969ff"/><stop offset=".9047" stop-color="#6b6bff"/><stop offset=".9271" stop-color="#6d6dff"/><stop offset=".9421" stop-color="#7373ff"/><stop offset=".9533" stop-color="#7b7bff"/><stop offset=".9682" stop-color="#8b8bff"/><stop offset=".985" stop-color="#a3a3ff"/><stop offset="1" stop-color="#bdbdff"/></linearGradient><linearGradient id="h134" gradientUnits="userSpaceOnUse" x1="699" x2="1234" y1="0" y2="0"><stop offset="0" stop-color="#b3b3ff"/><stop offset=".0093" stop-color="#a1a1ff"/><stop offset=".0262" stop-color="#8787ff"/><stop offset=".0467" stop-color="#7171ff"/><stop offset=".0654" stop-color="#6767ff"/><stop offset=".1028" stop-color="#6565ff"/><stop offset=".157" stop-color="#7171ff"/><stop offset=".1963" stop-color="#7171ff"/><stop offset=".1981" stop-color="#6f6fff"/><stop offset=".2093" stop-color="#6f6fff"/><stop offset=".2393" stop-color="#6767ff"/><stop offset=".2561" stop-color="#6767ff"/><stop offset=".2579" stop-color="#6565ff"/><stop offset=".286" stop-color="#6767ff"/><stop offset=".3009" stop-color="#6b6bff"/><stop offset=".314" stop-color="#6b6bff"/><stop offset=".3159" stop-color="#6d6dff"/><stop offset=".3626" stop-color="#6d6dff"/><stop offset=".3645" stop-color="#6b6bff"/><stop offset=".3832" stop-color="#6969ff"/><stop offset=".4168" stop-color="#5b5bff"/><stop offset=".4355" stop-color="#4d4dff"/><stop offset=".4785" stop-color="#2323ff"/><stop offset=".4972" stop-color="#1919ff"/><stop offset=".5084" stop-color="#1919ff"/><stop offset=".5252" stop-color="#2121ff"/><stop offset=".5682" stop-color="#4d4dff"/><stop offset=".5888" stop-color="#5d5dff"/><stop offset=".6075" stop-color="#6767ff"/><stop offset=".6299" stop-color="#6d6dff"/><stop offset=".6729" stop-color="#6d6dff"/><stop offset=".6748" stop-color="#6b6bff"/><stop offset=".7047" stop-color="#6969ff"/><stop offset=".7065" stop-color="#6767ff"/><stop offset=".7514" stop-color="#6565ff"/><stop offset=".7533" stop-color="#6767ff"/><stop offset=".8393" stop-color="#6969ff"/><stop offset=".8411" stop-color="#6b6bff"/><stop offset=".9178" stop-color="#6b6bff"/><stop offset=".9327" stop-color="#6f6fff"/><stop offset=".9495" stop-color="#7979ff"/><stop offset=".9664" stop-color="#8989ff"/><stop offset=".9794" stop-color="#9b9bff"/><stop offset="1" stop-color="#bdbdff"/></linearGradient><linearGradient id="h135" gradientUnits="userSpaceOnUse" x1="699" x2="1234" y1="0" y2="0"><stop offset="0" stop-color="#b3b3ff"/><stop offset=".0075" stop-color="#a5a5ff"/><stop offset=".0299" stop-color="#8383ff"/><stop offset=".0505" stop-color="#6f6fff"/><stop offset=".0692" stop-color="#6767ff"/><stop offset=".0804" stop-color="#6767ff"/><stop offset=".0822" stop-color="#6565ff"/><stop offset=".1084" stop-color="#6767ff"/><stop offset=".1103" stop-color="#6969ff"/><stop offset=".1196" stop-color="#6969ff"/><stop offset=".1308" stop-color="#6d6dff"/><stop offset=".1645" stop-color="#7171ff"/><stop offset=".1664" stop-color="#7373ff"/><stop offset=".2037" stop-color="#7171ff"/><stop offset=".2467" stop-color="#6767ff"/><stop offset=".2785" stop-color="#6767ff"/><stop offset=".2804" stop-color="#6969ff"/><stop offset=".2935" stop-color="#6969ff"/><stop offset=".2953" stop-color="#6b6bff"/><stop offset=".3215" stop-color="#6d6dff"/><stop offset=".3234" stop-color="#6f6fff"/><stop offset=".3701" stop-color="#6d6dff"/><stop offset=".3944" stop-color="#6767ff"/><stop offset=".4224" stop-color="#5959ff"/><stop offset=".443" stop-color="#4949ff"/><stop offset=".4785" stop-color="#2727ff"/><stop offset=".4841" stop-color="#2525ff"/><stop offset=".4879" stop-color="#2121ff"/><stop offset=".5047" stop-color="#1d1dff"/><stop offset=".5178" stop-color="#2121ff"/><stop offset=".5271" stop-color="#2727ff"/><stop offset=".5701" stop-color="#5151ff"/><stop offset=".5888" stop-color="#5f5fff"/><stop offset=".6037" stop-color="#6767ff"/><stop offset=".6224" stop-color="#6d6dff"/><stop offset=".6617" stop-color="#6f6fff"/><stop offset=".6636" stop-color="#6d6dff"/><stop offset=".6822" stop-color="#6d6dff"/><stop offset=".6991" stop-color="#6969ff"/><stop offset=".7159" stop-color="#6969ff"/><stop offset=".7178" stop-color="#6767ff"/><stop offset=".772" stop-color="#6767ff"/><stop offset=".7738" stop-color="#6969ff"/><stop offset=".8056" stop-color="#6969ff"/><stop offset=".8075" stop-color="#6b6bff"/><stop offset=".9084" stop-color="#6b6bff"/><stop offset=".9103" stop-color="#6d6dff"/><stop offset=".929" stop-color="#6f6fff"/><stop offset=".9514" stop-color="#7b7bff"/><stop offset=".972" stop-color="#9191ff"/><stop offset=".9832" stop-color="#a1a1ff"/><stop offset="1" stop-color="#bdbdff"/></linearGradient><linearGradient id="h136" gradientUnits="userSpaceOnUse" x1="699" x2="1234" y1="0" y2="0"><stop offset="0" stop-color="#b3b3ff"/><stop offset=".0262" stop-color="#8989ff"/><stop offset=".0449" stop-color="#7575ff"/><stop offset=".0673" stop-color="#6969ff"/><stop offset=".0953" stop-color="#6767ff"/><stop offset=".0972" stop-color="#6969ff"/><stop offset=".1215" stop-color="#6b6bff"/><stop offset=".1533" stop-color="#7373ff"/><stop offset=".172" stop-color="#7373ff"/><stop offset=".1738" stop-color="#7575ff"/><stop offset=".2" stop-color="#7373ff"/><stop offset=".2449" stop-color="#6969ff"/><stop offset=".2822" stop-color="#6969ff"/><stop offset=".2841" stop-color="#6b6bff"/><stop offset=".3271" stop-color="#6f6fff"/><stop offset=".329" stop-color="#7171ff"/><stop offset=".3682" stop-color="#6f6fff"/><stop offset=".3869" stop-color="#6b6bff"/><stop offset=".4168" stop-color="#5f5fff"/><stop offset=".4374" stop-color="#5151ff"/><stop offset=".4804" stop-color="#2b2bff"/><stop offset=".4972" stop-color="#2323ff"/><stop offset=".5084" stop-color="#2323ff"/><stop offset=".529" stop-color="#2d2dff"/><stop offset=".5645" stop-color="#4f4fff"/><stop offset=".585" stop-color="#5f5fff"/><stop offset=".6037" stop-color="#6969ff"/><stop offset=".6243" stop-color="#6f6fff"/><stop offset=".6561" stop-color="#7171ff"/><stop offset=".6579" stop-color="#6f6fff"/><stop offset=".6785" stop-color="#6f6fff"/><stop offset=".6804" stop-color="#6d6dff"/><stop offset=".7121" stop-color="#6b6bff"/><stop offset=".714" stop-color="#6969ff"/><stop offset=".7776" stop-color="#6969ff"/><stop offset=".7794" stop-color="#6b6bff"/><stop offset=".8131" stop-color="#6b6bff"/><stop offset=".815" stop-color="#6d6dff"/><stop offset=".9121" stop-color="#6d6dff"/><stop offset=".9308" stop-color="#7171ff"/><stop offset=".9495" stop-color="#7b7bff"/><stop offset=".9664" stop-color="#8b8bff"/><stop offset=".985" stop-color="#a5a5ff"/><stop offset="1" stop-color="#bdbdff"/></linearGradient><linearGradient id="h137" gradientUnits="userSpaceOnUse" x1="699" x2="1234" y1="0" y2="0"><stop offset="0" stop-color="#b5b5ff"/><stop offset=".0112" stop-color="#a1a1ff"/><stop offset=".0262" stop-color="#8b8bff"/><stop offset=".0449" stop-color="#7777ff"/><stop offset=".0617" stop-color="#6d6dff"/><stop offset=".0916" stop-color="#6969ff"/><stop offset=".0935" stop-color="#6b6bff"/><stop offset=".1084" stop-color="#6b6bff"/><stop offset=".1103" stop-color="#6d6dff"/><stop offset=".1308" stop-color="#6f6fff"/><stop offset=".1533" stop-color="#7575ff"/><stop offset=".1701" stop-color="#7575ff"/><stop offset=".172" stop-color="#7777ff"/><stop offset=".2019" stop-color="#7575ff"/><stop offset=".2467" stop-color="#6b6bff"/><stop offset=".2804" stop-color="#6b6bff"/><stop offset=".2822" stop-color="#6d6dff"/><stop offset=".3252" stop-color="#7171ff"/><stop offset=".3271" stop-color="#7373ff"/><stop offset=".3701" stop-color="#7171ff"/><stop offset=".372" stop-color="#6f6fff"/><stop offset=".3888" stop-color="#6d6dff"/><stop offset=".415" stop-color="#6363ff"/><stop offset=".4393" stop-color="#5353ff"/><stop offset=".4636" stop-color="#3d3dff"/><stop offset=".4822" stop-color="#2f2fff"/><stop offset=".4991" stop-color="#2929ff"/><stop offset=".5084" stop-color="#2929ff"/><stop offset=".5234" stop-color="#2f2fff"/><stop offset=".5346" stop-color="#3737ff"/><stop offset=".5645" stop-color="#5353ff"/><stop offset=".5832" stop-color="#6161ff"/><stop offset=".6019" stop-color="#6b6bff"/><stop offset=".6224" stop-color="#7171ff"/><stop offset=".6579" stop-color="#7373ff"/><stop offset=".6598" stop-color="#7171ff"/><stop offset=".714" stop-color="#6d6dff"/><stop offset=".7159" stop-color="#6b6bff"/><stop offset=".7738" stop-color="#6b6bff"/><stop offset=".7757" stop-color="#6d6dff"/><stop offset=".8093" stop-color="#6d6dff"/><stop offset=".8112" stop-color="#6f6fff"/><stop offset=".9121" stop-color="#6f6fff"/><stop offset=".9308" stop-color="#7373ff"/><stop offset=".9495" stop-color="#7d7dff"/><stop offset=".9682" stop-color="#8f8fff"/><stop offset=".9907" stop-color="#afafff"/><stop offset="1" stop-color="#bfbfff"/></linearGradient><linearGradient id="h138" gradientUnits="userSpaceOnUse" x1="699" x2="1234" y1="0" y2="0"><stop offset="0" stop-color="#b5b5ff"/><stop offset=".0262" stop-color="#8d8dff"/><stop offset=".043" stop-color="#7b7bff"/><stop offset=".0542" stop-color="#7373ff"/><stop offset=".071" stop-color="#6d6dff"/><stop offset=".1047" stop-color="#6d6dff"/><stop offset=".1495" stop-color="#7777ff"/><stop offset=".1626" stop-color="#7777ff"/><stop offset=".1645" stop-color="#7979ff"/><stop offset=".1907" stop-color="#7979ff"/><stop offset=".1925" stop-color="#7777ff"/><stop offset=".2056" stop-color="#7777ff"/><stop offset=".2262" stop-color="#7171ff"/><stop offset=".2523" stop-color="#6f6fff"/><stop offset=".2542" stop-color="#6d6dff"/><stop offset=".2897" stop-color="#6f6fff"/><stop offset=".3047" stop-color="#7373ff"/><stop offset=".3178" stop-color="#7373ff"/><stop offset=".3196" stop-color="#7575ff"/><stop offset=".3607" stop-color="#7575ff"/><stop offset=".3626" stop-color="#7373ff"/><stop offset=".3738" stop-color="#7373ff"/><stop offset=".3981" stop-color="#6d6dff"/><stop offset=".4131" stop-color="#6767ff"/><stop offset=".428" stop-color="#5f5fff"/><stop offset=".4654" stop-color="#4141ff"/><stop offset=".4879" stop-color="#3333ff"/><stop offset=".514" stop-color="#3131ff"/><stop offset=".5402" stop-color="#4141ff"/><stop offset=".572" stop-color="#5d5dff"/><stop offset=".5907" stop-color="#6969ff"/><stop offset=".6112" stop-color="#7171ff"/><stop offset=".628" stop-color="#7373ff"/><stop offset=".6299" stop-color="#7575ff"/><stop offset=".6673" stop-color="#7575ff"/><stop offset=".6692" stop-color="#7373ff"/><stop offset=".7327" stop-color="#6d6dff"/><stop offset=".7944" stop-color="#6f6fff"/><stop offset=".7963" stop-color="#7171ff"/><stop offset=".9028" stop-color="#7171ff"/><stop offset=".9047" stop-color="#7373ff"/><stop offset=".929" stop-color="#7575ff"/><stop offset=".9458" stop-color="#7d7dff"/><stop offset=".9589" stop-color="#8787ff"/><stop offset=".9757" stop-color="#9b9bff"/><stop offset="1" stop-color="#bfbfff"/></linearGradient><linearGradient id="h139" gradientUnits="userSpaceOnUse" x1="699" x2="1234" y1="0" y2="0"><stop offset="0" stop-color="#b7b7ff"/><stop offset=".0206" stop-color="#9797ff"/><stop offset=".0393" stop-color="#8181ff"/><stop offset=".0467" stop-color="#7b7bff"/><stop offset=".0692" stop-color="#7171ff"/><stop offset=".0916" stop-color="#6f6fff"/><stop offset=".0935" stop-color="#7171ff"/><stop offset=".1215" stop-color="#7373ff"/><stop offset=".1551" stop-color="#7b7bff"/><stop offset=".1981" stop-color="#7b7bff"/><stop offset=".2449" stop-color="#7171ff"/><stop offset=".2804" stop-color="#7171ff"/><stop offset=".2822" stop-color="#7373ff"/><stop offset=".2953" stop-color="#7373ff"/><stop offset=".3103" stop-color="#7777ff"/><stop offset=".329" stop-color="#7777ff"/><stop offset=".3308" stop-color="#7979ff"/><stop offset=".3701" stop-color="#7777ff"/><stop offset=".4131" stop-color="#6b6bff"/><stop offset=".4411" stop-color="#5b5bff"/><stop offset=".4748" stop-color="#4141ff"/><stop offset=".4897" stop-color="#3939ff"/><stop offset=".5084" stop-color="#3737ff"/><stop offset=".5252" stop-color="#3d3dff"/><stop offset=".529" stop-color="#4141ff"/><stop offset=".5346" stop-color="#4343ff"/><stop offset=".5551" stop-color="#5555ff"/><stop offset=".5869" stop-color="#6b6bff"/><stop offset=".5907" stop-color="#6b6bff"/><stop offset=".6056" stop-color="#7373ff"/><stop offset=".6224" stop-color="#7777ff"/><stop offset=".6542" stop-color="#7979ff"/><stop offset=".6561" stop-color="#7777ff"/><stop offset=".6785" stop-color="#7777ff"/><stop offset=".6804" stop-color="#7575ff"/><stop offset=".714" stop-color="#7373ff"/><stop offset=".7159" stop-color="#7171ff"/><stop offset=".7738" stop-color="#7171ff"/><stop offset=".7757" stop-color="#7373ff"/><stop offset=".8112" stop-color="#7373ff"/><stop offset=".8131" stop-color="#7575ff"/><stop offset=".9121" stop-color="#7575ff"/><stop offset=".9308" stop-color="#7979ff"/><stop offset=".9533" stop-color="#8585ff"/><stop offset=".9757" stop-color="#9d9dff"/><stop offset="1" stop-color="#c1c1ff"/></linearGradient><linearGradient id="h140" gradientUnits="userSpaceOnUse" x1="699" x2="1234" y1="0" y2="0"><stop offset="0" stop-color="#b9b9ff"/><stop offset=".0224" stop-color="#9797ff"/><stop offset=".0411" stop-color="#8383ff"/><stop offset=".0523" stop-color="#7b7bff"/><stop offset=".0673" stop-color="#7575ff"/><stop offset=".0953" stop-color="#7373ff"/><stop offset=".0972" stop-color="#7575ff"/><stop offset=".1103" stop-color="#7575ff"/><stop offset=".1121" stop-color="#7777ff"/><stop offset=".157" stop-color="#7d7dff"/><stop offset=".1589" stop-color="#7f7fff"/><stop offset=".1963" stop-color="#7f7fff"/><stop offset=".243" stop-color="#7575ff"/><stop offset=".2822" stop-color="#7575ff"/><stop offset=".2841" stop-color="#7777ff"/><stop offset=".2972" stop-color="#7777ff"/><stop offset=".314" stop-color="#7b7bff"/><stop offset=".3682" stop-color="#7b7bff"/><stop offset=".4093" stop-color="#7171ff"/><stop offset=".4374" stop-color="#6363ff"/><stop offset=".4636" stop-color="#4f4fff"/><stop offset=".4841" stop-color="#4343ff"/><stop offset=".4972" stop-color="#3f3fff"/><stop offset=".5103" stop-color="#3f3fff"/><stop offset=".5327" stop-color="#4949ff"/><stop offset=".5607" stop-color="#5f5fff"/><stop offset=".5832" stop-color="#6d6dff"/><stop offset=".6" stop-color="#7575ff"/><stop offset=".6224" stop-color="#7b7bff"/><stop offset=".6748" stop-color="#7b7bff"/><stop offset=".6935" stop-color="#7777ff"/><stop offset=".7121" stop-color="#7777ff"/><stop offset=".714" stop-color="#7575ff"/><stop offset=".7794" stop-color="#7575ff"/><stop offset=".7813" stop-color="#7777ff"/><stop offset=".8206" stop-color="#7777ff"/><stop offset=".8224" stop-color="#7979ff"/><stop offset=".9159" stop-color="#7979ff"/><stop offset=".9327" stop-color="#7d7dff"/><stop offset=".9458" stop-color="#8383ff"/><stop offset=".9589" stop-color="#8d8dff"/><stop offset=".9738" stop-color="#9d9dff"/><stop offset="1" stop-color="#c3c3ff"/></linearGradient><linearGradient id="h141" gradientUnits="userSpaceOnUse" x1="699" x2="1234" y1="0" y2="0"><stop offset="0" stop-color="#bbbbff"/><stop offset=".0206" stop-color="#9d9dff"/><stop offset=".043" stop-color="#8585ff"/><stop offset=".0673" stop-color="#7979ff"/><stop offset=".0804" stop-color="#7979ff"/><stop offset=".0822" stop-color="#7777ff"/><stop offset=".1103" stop-color="#7979ff"/><stop offset=".1458" stop-color="#8181ff"/><stop offset=".157" stop-color="#8181ff"/><stop offset=".1589" stop-color="#8383ff"/><stop offset=".1944" stop-color="#8383ff"/><stop offset=".1963" stop-color="#8181ff"/><stop offset=".2093" stop-color="#8181ff"/><stop offset=".2449" stop-color="#7979ff"/><stop offset=".2804" stop-color="#7979ff"/><stop offset=".2822" stop-color="#7b7bff"/><stop offset=".2953" stop-color="#7b7bff"/><stop offset=".3121" stop-color="#7f7fff"/><stop offset=".3682" stop-color="#7f7fff"/><stop offset=".4168" stop-color="#7373ff"/><stop offset=".4467" stop-color="#6363ff"/><stop offset=".4561" stop-color="#5b5bff"/><stop offset=".4841" stop-color="#4b4bff"/><stop offset=".4972" stop-color="#4747ff"/><stop offset=".5084" stop-color="#4747ff"/><stop offset=".5215" stop-color="#4b4bff"/><stop offset=".5402" stop-color="#5555ff"/><stop offset=".5607" stop-color="#6565ff"/><stop offset=".5925" stop-color="#7777ff"/><stop offset=".6224" stop-color="#7f7fff"/><stop offset=".6748" stop-color="#7f7fff"/><stop offset=".6766" stop-color="#7d7dff"/><stop offset=".714" stop-color="#7b7bff"/><stop offset=".7159" stop-color="#7979ff"/><stop offset=".7383" stop-color="#7979ff"/><stop offset=".8168" stop-color="#7b7bff"/><stop offset=".8187" stop-color="#7d7dff"/><stop offset=".9159" stop-color="#7d7dff"/><stop offset=".9252" stop-color="#7f7fff"/><stop offset=".9383" stop-color="#8383ff"/><stop offset=".957" stop-color="#8f8fff"/><stop offset=".9794" stop-color="#a7a7ff"/><stop offset="1" stop-color="#c5c5ff"/></linearGradient><linearGradient id="h142" gradientUnits="userSpaceOnUse" x1="699" x2="1234" y1="0" y2="0"><stop offset="0" stop-color="#bfbfff"/><stop offset=".0168" stop-color="#a5a5ff"/><stop offset=".0318" stop-color="#9393ff"/><stop offset=".0467" stop-color="#8787ff"/><stop offset=".071" stop-color="#7d7dff"/><stop offset=".1047" stop-color="#7d7dff"/><stop offset=".1421" stop-color="#8585ff"/><stop offset=".1551" stop-color="#8585ff"/><stop offset=".157" stop-color="#8787ff"/><stop offset=".1981" stop-color="#8787ff"/><stop offset=".2" stop-color="#8585ff"/><stop offset=".2112" stop-color="#8585ff"/><stop offset=".2131" stop-color="#8383ff"/><stop offset=".2224" stop-color="#8383ff"/><stop offset=".2355" stop-color="#7f7fff"/><stop offset=".2505" stop-color="#7f7fff"/><stop offset=".2523" stop-color="#7d7dff"/><stop offset=".2729" stop-color="#7d7dff"/><stop offset=".2748" stop-color="#7f7fff"/><stop offset=".2916" stop-color="#7f7fff"/><stop offset=".2935" stop-color="#8181ff"/><stop offset=".3271" stop-color="#8383ff"/><stop offset=".329" stop-color="#8585ff"/><stop offset=".3738" stop-color="#8383ff"/><stop offset=".415" stop-color="#7979ff"/><stop offset=".486" stop-color="#5353ff"/><stop offset=".514" stop-color="#5151ff"/><stop offset=".5439" stop-color="#5f5fff"/><stop offset=".5664" stop-color="#6f6fff"/><stop offset=".585" stop-color="#7979ff"/><stop offset=".6168" stop-color="#8383ff"/><stop offset=".6579" stop-color="#8585ff"/><stop offset=".6598" stop-color="#8383ff"/><stop offset=".6804" stop-color="#8383ff"/><stop offset=".6822" stop-color="#8181ff"/><stop offset=".7252" stop-color="#7f7fff"/><stop offset=".7271" stop-color="#7d7dff"/><stop offset=".8019" stop-color="#7f7fff"/><stop offset=".8037" stop-color="#8181ff"/><stop offset=".9103" stop-color="#8181ff"/><stop offset=".9121" stop-color="#8383ff"/><stop offset=".9234" stop-color="#8383ff"/><stop offset=".9421" stop-color="#8989ff"/><stop offset=".957" stop-color="#9393ff"/><stop offset=".9701" stop-color="#9f9fff"/><stop offset="1" stop-color="#c7c7ff"/></linearGradient><linearGradient id="h143" gradientUnits="userSpaceOnUse" x1="699" x2="1234" y1="0" y2="0"><stop offset="0" stop-color="#c1c1ff"/><stop offset=".015" stop-color="#ababff"/><stop offset=".0393" stop-color="#9191ff"/><stop offset=".0505" stop-color="#8989ff"/><stop offset=".0673" stop-color="#8383ff"/><stop offset=".0935" stop-color="#8181ff"/><stop offset=".0953" stop-color="#8383ff"/><stop offset=".1121" stop-color="#8383ff"/><stop offset=".114" stop-color="#8585ff"/><stop offset=".1252" stop-color="#8585ff"/><stop offset=".1514" stop-color="#8b8bff"/><stop offset=".1701" stop-color="#8b8bff"/><stop offset=".172" stop-color="#8d8dff"/><stop offset=".2037" stop-color="#8b8bff"/><stop offset=".2056" stop-color="#8989ff"/><stop offset=".2411" stop-color="#8585ff"/><stop offset=".243" stop-color="#8383ff"/><stop offset=".2841" stop-color="#8383ff"/><stop offset=".3009" stop-color="#8787ff"/><stop offset=".3178" stop-color="#8787ff"/><stop offset=".3196" stop-color="#8989ff"/><stop offset=".3645" stop-color="#8989ff"/><stop offset=".3664" stop-color="#8787ff"/><stop offset=".3794" stop-color="#8787ff"/><stop offset=".3813" stop-color="#8585ff"/><stop offset=".4075" stop-color="#8181ff"/><stop offset=".4299" stop-color="#7979ff"/><stop offset=".4766" stop-color="#5f5fff"/><stop offset=".4953" stop-color="#5959ff"/><stop offset=".5103" stop-color="#5959ff"/><stop offset=".529" stop-color="#5f5fff"/><stop offset=".585" stop-color="#7f7fff"/><stop offset=".6243" stop-color="#8989ff"/><stop offset=".6692" stop-color="#8989ff"/><stop offset=".671" stop-color="#8787ff"/><stop offset=".6897" stop-color="#8787ff"/><stop offset=".6916" stop-color="#8585ff"/><stop offset=".7103" stop-color="#8585ff"/><stop offset=".7121" stop-color="#8383ff"/><stop offset=".7813" stop-color="#8383ff"/><stop offset=".7832" stop-color="#8585ff"/><stop offset=".9196" stop-color="#8787ff"/><stop offset=".929" stop-color="#8989ff"/><stop offset=".9514" stop-color="#9393ff"/><stop offset=".9664" stop-color="#9f9fff"/><stop offset=".9869" stop-color="#b7b7ff"/><stop offset="1" stop-color="#c9c9ff"/></linearGradient><linearGradient id="h144" gradientUnits="userSpaceOnUse" x1="699" x2="1234" y1="0" y2="0"><stop offset="0" stop-color="#c3c3ff"/><stop offset=".0131" stop-color="#b1b1ff"/><stop offset=".0374" stop-color="#9797ff"/><stop offset=".0636" stop-color="#8989ff"/><stop offset=".1009" stop-color="#8787ff"/><stop offset=".1028" stop-color="#8989ff"/><stop offset=".1159" stop-color="#8989ff"/><stop offset=".1178" stop-color="#8b8bff"/><stop offset=".157" stop-color="#8f8fff"/><stop offset=".1589" stop-color="#9191ff"/><stop offset=".1963" stop-color="#9191ff"/><stop offset=".1981" stop-color="#8f8fff"/><stop offset=".2355" stop-color="#8b8bff"/><stop offset=".2374" stop-color="#8989ff"/><stop offset=".2897" stop-color="#8989ff"/><stop offset=".2916" stop-color="#8b8bff"/><stop offset=".3065" stop-color="#8b8bff"/><stop offset=".3084" stop-color="#8d8dff"/><stop offset=".3533" stop-color="#8f8fff"/><stop offset=".3551" stop-color="#8d8dff"/><stop offset=".3757" stop-color="#8d8dff"/><stop offset=".3776" stop-color="#8b8bff"/><stop offset=".4075" stop-color="#8787ff"/><stop offset=".4355" stop-color="#7d7dff"/><stop offset=".4841" stop-color="#6565ff"/><stop offset=".514" stop-color="#6363ff"/><stop offset=".5364" stop-color="#6b6bff"/><stop offset=".585" stop-color="#8585ff"/><stop offset=".5963" stop-color="#8787ff"/><stop offset=".6037" stop-color="#8b8bff"/><stop offset=".6299" stop-color="#8d8dff"/><stop offset=".6318" stop-color="#8f8fff"/><stop offset=".6579" stop-color="#8f8fff"/><stop offset=".6598" stop-color="#8d8dff"/><stop offset=".7028" stop-color="#8b8bff"/><stop offset=".7047" stop-color="#8989ff"/><stop offset=".9084" stop-color="#8b8bff"/><stop offset=".9103" stop-color="#8d8dff"/><stop offset=".9234" stop-color="#8d8dff"/><stop offset=".9383" stop-color="#9191ff"/><stop offset=".9589" stop-color="#9d9dff"/><stop offset=".9813" stop-color="#b3b3ff"/><stop offset="1" stop-color="#cbcbff"/></linearGradient><linearGradient id="h145" gradientUnits="userSpaceOnUse" x1="699" x2="1234" y1="0" y2="0"><stop offset="0" stop-color="#c7c7ff"/><stop offset=".0112" stop-color="#b7b7ff"/><stop offset=".0411" stop-color="#9999ff"/><stop offset=".0561" stop-color="#9191ff"/><stop offset=".0729" stop-color="#8d8dff"/><stop offset=".1028" stop-color="#8d8dff"/><stop offset=".1047" stop-color="#8f8fff"/><stop offset=".1196" stop-color="#8f8fff"/><stop offset=".1477" stop-color="#9595ff"/><stop offset=".1645" stop-color="#9595ff"/><stop offset=".1664" stop-color="#9797ff"/><stop offset=".2075" stop-color="#9595ff"/><stop offset=".2336" stop-color="#8f8fff"/><stop offset=".2523" stop-color="#8f8fff"/><stop offset=".2542" stop-color="#8d8dff"/><stop offset=".2935" stop-color="#8f8fff"/><stop offset=".2953" stop-color="#9191ff"/><stop offset=".3103" stop-color="#9191ff"/><stop offset=".3121" stop-color="#9393ff"/><stop offset=".372" stop-color="#9393ff"/><stop offset=".428" stop-color="#8787ff"/><stop offset=".4654" stop-color="#7575ff"/><stop offset=".4879" stop-color="#6d6dff"/><stop offset=".5178" stop-color="#6d6dff"/><stop offset=".5477" stop-color="#7979ff"/><stop offset=".5738" stop-color="#8787ff"/><stop offset=".5963" stop-color="#8f8fff"/><stop offset=".615" stop-color="#9191ff"/><stop offset=".6168" stop-color="#9393ff"/><stop offset=".6766" stop-color="#9393ff"/><stop offset=".6785" stop-color="#9191ff"/><stop offset=".7271" stop-color="#8f8fff"/><stop offset=".729" stop-color="#8d8dff"/><stop offset=".8037" stop-color="#8f8fff"/><stop offset=".8056" stop-color="#9191ff"/><stop offset=".914" stop-color="#9191ff"/><stop offset=".9159" stop-color="#9393ff"/><stop offset=".9271" stop-color="#9393ff"/><stop offset=".9402" stop-color="#9797ff"/><stop offset=".9607" stop-color="#a3a3ff"/><stop offset=".9794" stop-color="#b5b5ff"/><stop offset="1" stop-color="#cdcdff"/></linearGradient><linearGradient id="h146" gradientUnits="userSpaceOnUse" x1="699" x2="1234" y1="0" y2="0"><stop offset="0" stop-color="#c9c9ff"/><stop offset=".0168" stop-color="#b5b5ff"/><stop offset=".0374" stop-color="#a1a1ff"/><stop offset=".0561" stop-color="#9797ff"/><stop offset=".071" stop-color="#9393ff"/><stop offset=".1047" stop-color="#9393ff"/><stop offset=".1065" stop-color="#9595ff"/><stop offset=".1477" stop-color="#9999ff"/><stop offset=".1495" stop-color="#9b9bff"/><stop offset=".2037" stop-color="#9b9bff"/><stop offset=".2056" stop-color="#9999ff"/><stop offset=".2523" stop-color="#9595ff"/><stop offset=".2542" stop-color="#9393ff"/><stop offset=".2935" stop-color="#9595ff"/><stop offset=".2953" stop-color="#9797ff"/><stop offset=".3121" stop-color="#9797ff"/><stop offset=".314" stop-color="#9999ff"/><stop offset=".3701" stop-color="#9999ff"/><stop offset=".372" stop-color="#9797ff"/><stop offset=".4093" stop-color="#9393ff"/><stop offset=".4467" stop-color="#8787ff"/><stop offset=".4785" stop-color="#7979ff"/><stop offset=".5084" stop-color="#7575ff"/><stop offset=".5327" stop-color="#7b7bff"/><stop offset=".5813" stop-color="#9191ff"/><stop offset=".6168" stop-color="#9999ff"/><stop offset=".6729" stop-color="#9999ff"/><stop offset=".6748" stop-color="#9797ff"/><stop offset=".7271" stop-color="#9595ff"/><stop offset=".729" stop-color="#9393ff"/><stop offset=".8093" stop-color="#9595ff"/><stop offset=".8112" stop-color="#9797ff"/><stop offset=".9178" stop-color="#9797ff"/><stop offset=".9196" stop-color="#9999ff"/><stop offset=".929" stop-color="#9999ff"/><stop offset=".9421" stop-color="#9d9dff"/><stop offset=".9626" stop-color="#a9a9ff"/><stop offset=".9757" stop-color="#b5b5ff"/><stop offset="1" stop-color="#d1d1ff"/></linearGradient><linearGradient id="h147" gradientUnits="userSpaceOnUse" x1="699" x2="1234" y1="0" y2="0"><stop offset="0" stop-color="#cdcdff"/><stop offset=".0037" stop-color="#c7c7ff"/><stop offset=".0243" stop-color="#b1b1ff"/><stop offset=".0393" stop-color="#a5a5ff"/><stop offset=".0505" stop-color="#9f9fff"/><stop offset=".0729" stop-color="#9999ff"/><stop offset=".1028" stop-color="#9999ff"/><stop offset=".1047" stop-color="#9b9bff"/><stop offset=".1196" stop-color="#9b9bff"/><stop offset=".1364" stop-color="#9f9fff"/><stop offset=".1495" stop-color="#9f9fff"/><stop offset=".1514" stop-color="#a1a1ff"/><stop offset=".2019" stop-color="#a1a1ff"/><stop offset=".2037" stop-color="#9f9fff"/><stop offset=".2168" stop-color="#9f9fff"/><stop offset=".2336" stop-color="#9b9bff"/><stop offset=".2542" stop-color="#9b9bff"/><stop offset=".2561" stop-color="#9999ff"/><stop offset=".314" stop-color="#9d9dff"/><stop offset=".3159" stop-color="#9f9fff"/><stop offset=".3701" stop-color="#9f9fff"/><stop offset=".372" stop-color="#9d9dff"/><stop offset=".3888" stop-color="#9d9dff"/><stop offset=".3907" stop-color="#9b9bff"/><stop offset=".4206" stop-color="#9797ff"/><stop offset=".4822" stop-color="#8181ff"/><stop offset=".5121" stop-color="#7f7fff"/><stop offset=".5346" stop-color="#8585ff"/><stop offset=".585" stop-color="#9999ff"/><stop offset=".615" stop-color="#9d9dff"/><stop offset=".6168" stop-color="#9f9fff"/><stop offset=".6729" stop-color="#9f9fff"/><stop offset=".6748" stop-color="#9d9dff"/><stop offset=".6953" stop-color="#9d9dff"/><stop offset=".6972" stop-color="#9b9bff"/><stop offset=".7308" stop-color="#9b9bff"/><stop offset=".7327" stop-color="#9999ff"/><stop offset=".8093" stop-color="#9b9bff"/><stop offset=".8112" stop-color="#9d9dff"/><stop offset=".9178" stop-color="#9d9dff"/><stop offset=".9364" stop-color="#a1a1ff"/><stop offset=".9551" stop-color="#a9a9ff"/><stop offset=".9757" stop-color="#b9b9ff"/><stop offset="1" stop-color="#d3d3ff"/></linearGradient><linearGradient id="h148" gradientUnits="userSpaceOnUse" x1="699" x2="1234" y1="0" y2="0"><stop offset="0" stop-color="#cfcfff"/><stop offset=".0187" stop-color="#bbbbff"/><stop offset=".0355" stop-color="#adadff"/><stop offset=".0505" stop-color="#a5a5ff"/><stop offset=".0748" stop-color="#9f9fff"/><stop offset=".1196" stop-color="#a1a1ff"/><stop offset=".1364" stop-color="#a5a5ff"/><stop offset=".1514" stop-color="#a5a5ff"/><stop offset=".1533" stop-color="#a7a7ff"/><stop offset=".2019" stop-color="#a7a7ff"/><stop offset=".2037" stop-color="#a5a5ff"/><stop offset=".2336" stop-color="#a3a3ff"/><stop offset=".2355" stop-color="#a1a1ff"/><stop offset=".2935" stop-color="#a1a1ff"/><stop offset=".2953" stop-color="#a3a3ff"/><stop offset=".314" stop-color="#a3a3ff"/><stop offset=".3159" stop-color="#a5a5ff"/><stop offset=".3701" stop-color="#a5a5ff"/><stop offset=".372" stop-color="#a3a3ff"/><stop offset=".3907" stop-color="#a3a3ff"/><stop offset=".3925" stop-color="#a1a1ff"/><stop offset=".4243" stop-color="#9d9dff"/><stop offset=".4897" stop-color="#8989ff"/><stop offset=".5159" stop-color="#8989ff"/><stop offset=".5327" stop-color="#8d8dff"/><stop offset=".5757" stop-color="#9d9dff"/><stop offset=".6" stop-color="#a3a3ff"/><stop offset=".6131" stop-color="#a3a3ff"/><stop offset=".615" stop-color="#a5a5ff"/><stop offset=".6729" stop-color="#a5a5ff"/><stop offset=".6748" stop-color="#a3a3ff"/><stop offset=".7084" stop-color="#a1a1ff"/><stop offset=".9178" stop-color="#a3a3ff"/><stop offset=".9196" stop-color="#a5a5ff"/><stop offset=".9308" stop-color="#a5a5ff"/><stop offset=".9439" stop-color="#a9a9ff"/><stop offset=".9626" stop-color="#b3b3ff"/><stop offset="1" stop-color="#d5d5ff"/></linearGradient><linearGradient id="h149" gradientUnits="userSpaceOnUse" x1="699" x2="1234" y1="0" y2="0"><stop offset="0" stop-color="#d3d3ff"/><stop offset=".015" stop-color="#c3c3ff"/><stop offset=".0318" stop-color="#b5b5ff"/><stop offset=".0505" stop-color="#ababff"/><stop offset=".0636" stop-color="#a7a7ff"/><stop offset=".0935" stop-color="#a5a5ff"/><stop offset=".0953" stop-color="#a7a7ff"/><stop offset=".1178" stop-color="#a7a7ff"/><stop offset=".1196" stop-color="#a9a9ff"/><stop offset=".1514" stop-color="#ababff"/><stop offset=".1533" stop-color="#adadff"/><stop offset=".2" stop-color="#adadff"/><stop offset=".2019" stop-color="#ababff"/><stop offset=".2355" stop-color="#a9a9ff"/><stop offset=".2374" stop-color="#a7a7ff"/><stop offset=".2897" stop-color="#a7a7ff"/><stop offset=".2916" stop-color="#a9a9ff"/><stop offset=".3121" stop-color="#a9a9ff"/><stop offset=".314" stop-color="#ababff"/><stop offset=".3738" stop-color="#ababff"/><stop offset=".3757" stop-color="#a9a9ff"/><stop offset=".3944" stop-color="#a9a9ff"/><stop offset=".3963" stop-color="#a7a7ff"/><stop offset=".4299" stop-color="#a3a3ff"/><stop offset=".4841" stop-color="#9393ff"/><stop offset=".5196" stop-color="#9393ff"/><stop offset=".5869" stop-color="#a7a7ff"/><stop offset=".6093" stop-color="#a9a9ff"/><stop offset=".6112" stop-color="#ababff"/><stop offset=".6748" stop-color="#ababff"/><stop offset=".6766" stop-color="#a9a9ff"/><stop offset=".7009" stop-color="#a9a9ff"/><stop offset=".7028" stop-color="#a7a7ff"/><stop offset=".7327" stop-color="#a7a7ff"/><stop offset=".9159" stop-color="#a9a9ff"/><stop offset=".9178" stop-color="#ababff"/><stop offset=".9308" stop-color="#ababff"/><stop offset=".9495" stop-color="#b1b1ff"/><stop offset=".9701" stop-color="#bdbdff"/><stop offset="1" stop-color="#d9d9ff"/></linearGradient><linearGradient id="h150" gradientUnits="userSpaceOnUse" x1="699" x2="1234" y1="0" y2="0"><stop offset="0" stop-color="#d5d5ff"/><stop offset=".0336" stop-color="#b9b9ff"/><stop offset=".0449" stop-color="#b3b3ff"/><stop offset=".0654" stop-color="#adadff"/><stop offset=".114" stop-color="#adadff"/><stop offset=".1159" stop-color="#afafff"/><stop offset=".1327" stop-color="#afafff"/><stop offset=".1346" stop-color="#b1b1ff"/><stop offset=".1514" stop-color="#b1b1ff"/><stop offset=".1533" stop-color="#b3b3ff"/><stop offset=".2" stop-color="#b3b3ff"/><stop offset=".2019" stop-color="#b1b1ff"/><stop offset=".2187" stop-color="#b1b1ff"/><stop offset=".2206" stop-color="#afafff"/><stop offset=".2374" stop-color="#afafff"/><stop offset=".2393" stop-color="#adadff"/><stop offset=".2879" stop-color="#adadff"/><stop offset=".2897" stop-color="#afafff"/><stop offset=".3103" stop-color="#afafff"/><stop offset=".3121" stop-color="#b1b1ff"/><stop offset=".3757" stop-color="#b1b1ff"/><stop offset=".3776" stop-color="#afafff"/><stop offset=".3981" stop-color="#afafff"/><stop offset=".4" stop-color="#adadff"/><stop offset=".4355" stop-color="#a9a9ff"/><stop offset=".4785" stop-color="#9d9dff"/><stop offset=".5121" stop-color="#9b9bff"/><stop offset=".514" stop-color="#9d9dff"/><stop offset=".5346" stop-color="#9f9fff"/><stop offset=".5738" stop-color="#ababff"/><stop offset=".6075" stop-color="#afafff"/><stop offset=".6093" stop-color="#b1b1ff"/><stop offset=".6766" stop-color="#b1b1ff"/><stop offset=".6785" stop-color="#afafff"/><stop offset=".7047" stop-color="#afafff"/><stop offset=".7065" stop-color="#adadff"/><stop offset=".9159" stop-color="#afafff"/><stop offset=".9178" stop-color="#b1b1ff"/><stop offset=".9308" stop-color="#b1b1ff"/><stop offset=".9551" stop-color="#b9b9ff"/><stop offset=".972" stop-color="#c3c3ff"/><stop offset="1" stop-color="#dbdbff"/></linearGradient><linearGradient id="h151" gradientUnits="userSpaceOnUse" x1="699" x2="1234" y1="0" y2="0"><stop offset="0" stop-color="#d9d9ff"/><stop offset=".0262" stop-color="#c3c3ff"/><stop offset=".0449" stop-color="#b9b9ff"/><stop offset=".0673" stop-color="#b3b3ff"/><stop offset=".1121" stop-color="#b3b3ff"/><stop offset=".114" stop-color="#b5b5ff"/><stop offset=".1327" stop-color="#b5b5ff"/><stop offset=".1346" stop-color="#b7b7ff"/><stop offset=".1533" stop-color="#b7b7ff"/><stop offset=".1551" stop-color="#b9b9ff"/><stop offset=".2" stop-color="#b9b9ff"/><stop offset=".2019" stop-color="#b7b7ff"/><stop offset=".2206" stop-color="#b7b7ff"/><stop offset=".2224" stop-color="#b5b5ff"/><stop offset=".2411" stop-color="#b5b5ff"/><stop offset=".243" stop-color="#b3b3ff"/><stop offset=".2841" stop-color="#b3b3ff"/><stop offset=".286" stop-color="#b5b5ff"/><stop offset=".3103" stop-color="#b5b5ff"/><stop offset=".3121" stop-color="#b7b7ff"/><stop offset=".3776" stop-color="#b7b7ff"/><stop offset=".3794" stop-color="#b5b5ff"/><stop offset=".4187" stop-color="#b3b3ff"/><stop offset=".4822" stop-color="#a5a5ff"/><stop offset=".5215" stop-color="#a5a5ff"/><stop offset=".5794" stop-color="#b3b3ff"/><stop offset=".6037" stop-color="#b5b5ff"/><stop offset=".6056" stop-color="#b7b7ff"/><stop offset=".6766" stop-color="#b7b7ff"/><stop offset=".6785" stop-color="#b5b5ff"/><stop offset=".7103" stop-color="#b5b5ff"/><stop offset=".7121" stop-color="#b3b3ff"/><stop offset=".914" stop-color="#b5b5ff"/><stop offset=".9159" stop-color="#b7b7ff"/><stop offset=".9308" stop-color="#b7b7ff"/><stop offset=".9645" stop-color="#c3c3ff"/><stop offset=".9794" stop-color="#cdcdff"/><stop offset="1" stop-color="#dfdfff"/></linearGradient><linearGradient id="h152" gradientUnits="userSpaceOnUse" x1="699" x2="1234" y1="0" y2="0"><stop offset="0" stop-color="#ddddff"/><stop offset=".0243" stop-color="#c9c9ff"/><stop offset=".0393" stop-color="#c1c1ff"/><stop offset=".0673" stop-color="#b9b9ff"/><stop offset=".1103" stop-color="#b9b9ff"/><stop offset=".1121" stop-color="#bbbbff"/><stop offset=".1327" stop-color="#bbbbff"/><stop offset=".1346" stop-color="#bdbdff"/><stop offset=".1551" stop-color="#bdbdff"/><stop offset=".157" stop-color="#bfbfff"/><stop offset=".1963" stop-color="#bfbfff"/><stop offset=".1981" stop-color="#bdbdff"/><stop offset=".243" stop-color="#bbbbff"/><stop offset=".2449" stop-color="#b9b9ff"/><stop offset=".2804" stop-color="#b9b9ff"/><stop offset=".2822" stop-color="#bbbbff"/><stop offset=".3103" stop-color="#bbbbff"/><stop offset=".3121" stop-color="#bdbdff"/><stop offset=".3794" stop-color="#bdbdff"/><stop offset=".3813" stop-color="#bbbbff"/><stop offset=".4224" stop-color="#b9b9ff"/><stop offset=".4243" stop-color="#b7b7ff"/><stop offset=".4355" stop-color="#b7b7ff"/><stop offset=".4374" stop-color="#b5b5ff"/><stop offset=".4579" stop-color="#b3b3ff"/><stop offset=".471" stop-color="#afafff"/><stop offset=".4841" stop-color="#afafff"/><stop offset=".486" stop-color="#adadff"/><stop offset=".5178" stop-color="#adadff"/><stop offset=".5196" stop-color="#afafff"/><stop offset=".5327" stop-color="#afafff"/><stop offset=".5738" stop-color="#b9b9ff"/><stop offset=".6019" stop-color="#bbbbff"/><stop offset=".6037" stop-color="#bdbdff"/><stop offset=".6785" stop-color="#bdbdff"/><stop offset=".6804" stop-color="#bbbbff"/><stop offset=".714" stop-color="#bbbbff"/><stop offset=".7159" stop-color="#b9b9ff"/><stop offset=".914" stop-color="#bbbbff"/><stop offset=".9159" stop-color="#bdbdff"/><stop offset=".9327" stop-color="#bdbdff"/><stop offset=".9626" stop-color="#c7c7ff"/><stop offset=".9794" stop-color="#d1d1ff"/><stop offset="1" stop-color="#e1e1ff"/></linearGradient><linearGradient id="h153" gradientUnits="userSpaceOnUse" x1="699" x2="1234" y1="0" y2="0"><stop offset="0" stop-color="#dfdfff"/><stop offset=".0131" stop-color="#d5d5ff"/><stop offset=".0374" stop-color="#c7c7ff"/><stop offset=".0673" stop-color="#bfbfff"/><stop offset=".1103" stop-color="#bfbfff"/><stop offset=".1121" stop-color="#c1c1ff"/><stop offset=".1327" stop-color="#c1c1ff"/><stop offset=".1346" stop-color="#c3c3ff"/><stop offset=".1626" stop-color="#c3c3ff"/><stop offset=".1645" stop-color="#c5c5ff"/><stop offset=".2187" stop-color="#c3c3ff"/><stop offset=".2206" stop-color="#c1c1ff"/><stop offset=".243" stop-color="#c1c1ff"/><stop offset=".2449" stop-color="#bfbfff"/><stop offset=".2804" stop-color="#bfbfff"/><stop offset=".2822" stop-color="#c1c1ff"/><stop offset=".3121" stop-color="#c1c1ff"/><stop offset=".314" stop-color="#c3c3ff"/><stop offset=".3776" stop-color="#c3c3ff"/><stop offset=".3794" stop-color="#c1c1ff"/><stop offset=".4262" stop-color="#bfbfff"/><stop offset=".428" stop-color="#bdbdff"/><stop offset=".4411" stop-color="#bdbdff"/><stop offset=".4692" stop-color="#b7b7ff"/><stop offset=".4841" stop-color="#b7b7ff"/><stop offset=".486" stop-color="#b5b5ff"/><stop offset=".5178" stop-color="#b5b5ff"/><stop offset=".5196" stop-color="#b7b7ff"/><stop offset=".5327" stop-color="#b7b7ff"/><stop offset=".5346" stop-color="#b9b9ff"/><stop offset=".5458" stop-color="#b9b9ff"/><stop offset=".5477" stop-color="#bbbbff"/><stop offset=".5832" stop-color="#bfbfff"/><stop offset=".585" stop-color="#c1c1ff"/><stop offset=".6019" stop-color="#c1c1ff"/><stop offset=".6037" stop-color="#c3c3ff"/><stop offset=".6748" stop-color="#c3c3ff"/><stop offset=".6766" stop-color="#c1c1ff"/><stop offset=".714" stop-color="#c1c1ff"/><stop offset=".7159" stop-color="#bfbfff"/><stop offset=".9159" stop-color="#c1c1ff"/><stop offset=".9178" stop-color="#c3c3ff"/><stop offset=".9439" stop-color="#c5c5ff"/><stop offset=".9607" stop-color="#cbcbff"/><stop offset="1" stop-color="#e3e3ff"/></linearGradient><linearGradient id="h154" gradientUnits="userSpaceOnUse" x1="699" x2="1234" y1="0" y2="0"><stop offset="0" stop-color="#e3e3ff"/><stop offset=".0093" stop-color="#dbdbff"/><stop offset=".0355" stop-color="#cdcdff"/><stop offset=".0673" stop-color="#c5c5ff"/><stop offset=".1121" stop-color="#c5c5ff"/><stop offset=".114" stop-color="#c7c7ff"/><stop offset=".1383" stop-color="#c7c7ff"/><stop offset=".1402" stop-color="#c9c9ff"/><stop offset=".2131" stop-color="#c9c9ff"/><stop offset=".215" stop-color="#c7c7ff"/><stop offset=".2411" stop-color="#c7c7ff"/><stop offset=".243" stop-color="#c5c5ff"/><stop offset=".3701" stop-color="#c9c9ff"/><stop offset=".372" stop-color="#c7c7ff"/><stop offset=".4299" stop-color="#c5c5ff"/><stop offset=".4318" stop-color="#c3c3ff"/><stop offset=".4467" stop-color="#c3c3ff"/><stop offset=".4486" stop-color="#c1c1ff"/><stop offset=".4804" stop-color="#bfbfff"/><stop offset=".4822" stop-color="#bdbdff"/><stop offset=".5215" stop-color="#bdbdff"/><stop offset=".5234" stop-color="#bfbfff"/><stop offset=".5383" stop-color="#bfbfff"/><stop offset=".5533" stop-color="#c3c3ff"/><stop offset=".5664" stop-color="#c3c3ff"/><stop offset=".5832" stop-color="#c7c7ff"/><stop offset=".6056" stop-color="#c7c7ff"/><stop offset=".6075" stop-color="#c9c9ff"/><stop offset=".6673" stop-color="#c9c9ff"/><stop offset=".6692" stop-color="#c7c7ff"/><stop offset=".7103" stop-color="#c7c7ff"/><stop offset=".7121" stop-color="#c5c5ff"/><stop offset=".9215" stop-color="#c7c7ff"/><stop offset=".9234" stop-color="#c9c9ff"/><stop offset=".9364" stop-color="#c9c9ff"/><stop offset=".9589" stop-color="#cfcfff"/><stop offset="1" stop-color="#e5e5ff"/></linearGradient><linearGradient id="h155" gradientUnits="userSpaceOnUse" x1="699" x2="1234" y1="0" y2="0"><stop offset="0" stop-color="#e5e5ff"/><stop offset=".0374" stop-color="#d1d1ff"/><stop offset=".0636" stop-color="#cbcbff"/><stop offset=".1178" stop-color="#cbcbff"/><stop offset=".1196" stop-color="#cdcdff"/><stop offset=".1477" stop-color="#cdcdff"/><stop offset=".1495" stop-color="#cfcfff"/><stop offset=".2056" stop-color="#cfcfff"/><stop offset=".2075" stop-color="#cdcdff"/><stop offset=".2336" stop-color="#cdcdff"/><stop offset=".2355" stop-color="#cbcbff"/><stop offset=".4037" stop-color="#cdcdff"/><stop offset=".4056" stop-color="#cbcbff"/><stop offset=".4692" stop-color="#c7c7ff"/><stop offset=".471" stop-color="#c5c5ff"/><stop offset=".5308" stop-color="#c5c5ff"/><stop offset=".5327" stop-color="#c7c7ff"/><stop offset=".5645" stop-color="#c9c9ff"/><stop offset=".5664" stop-color="#cbcbff"/><stop offset=".6187" stop-color="#cdcdff"/><stop offset=".6206" stop-color="#cfcfff"/><stop offset=".6991" stop-color="#cdcdff"/><stop offset=".7009" stop-color="#cbcbff"/><stop offset=".9271" stop-color="#cdcdff"/><stop offset=".9626" stop-color="#d5d5ff"/><stop offset="1" stop-color="#e9e9ff"/></linearGradient><linearGradient id="h156" gradientUnits="userSpaceOnUse" x1="699" x2="1234" y1="0" y2="0"><stop offset="0" stop-color="#e7e7ff"/><stop offset=".028" stop-color="#d9d9ff"/><stop offset=".0579" stop-color="#d1d1ff"/><stop offset=".3888" stop-color="#d3d3ff"/><stop offset=".3907" stop-color="#d1d1ff"/><stop offset=".428" stop-color="#d1d1ff"/><stop offset=".4299" stop-color="#cfcfff"/><stop offset=".4523" stop-color="#cfcfff"/><stop offset=".4542" stop-color="#cdcdff"/><stop offset=".4766" stop-color="#cdcdff"/><stop offset=".4785" stop-color="#cbcbff"/><stop offset=".5252" stop-color="#cbcbff"/><stop offset=".5271" stop-color="#cdcdff"/><stop offset=".5458" stop-color="#cdcdff"/><stop offset=".5477" stop-color="#cfcfff"/><stop offset=".5664" stop-color="#cfcfff"/><stop offset=".5682" stop-color="#d1d1ff"/><stop offset=".5907" stop-color="#d1d1ff"/><stop offset=".5925" stop-color="#d3d3ff"/><stop offset=".9103" stop-color="#d1d1ff"/><stop offset=".9121" stop-color="#d3d3ff"/><stop offset=".9364" stop-color="#d3d3ff"/><stop offset=".9551" stop-color="#d7d7ff"/><stop offset=".9776" stop-color="#dfdfff"/><stop offset="1" stop-color="#ebebff"/></linearGradient><linearGradient id="h157" gradientUnits="userSpaceOnUse" x1="699" x2="1234" y1="0" y2="0"><stop offset="0" stop-color="#ebebff"/><stop offset=".028" stop-color="#ddddff"/><stop offset=".0654" stop-color="#d5d5ff"/><stop offset=".2019" stop-color="#d9d9ff"/><stop offset=".2037" stop-color="#d7d7ff"/><stop offset=".2393" stop-color="#d7d7ff"/><stop offset=".2411" stop-color="#d5d5ff"/><stop offset=".415" stop-color="#d7d7ff"/><stop offset=".4168" stop-color="#d5d5ff"/><stop offset=".4486" stop-color="#d5d5ff"/><stop offset=".4505" stop-color="#d3d3ff"/><stop offset=".4766" stop-color="#d3d3ff"/><stop offset=".4785" stop-color="#d1d1ff"/><stop offset=".5234" stop-color="#d1d1ff"/><stop offset=".5252" stop-color="#d3d3ff"/><stop offset=".5495" stop-color="#d3d3ff"/><stop offset=".5514" stop-color="#d5d5ff"/><stop offset=".5738" stop-color="#d5d5ff"/><stop offset=".5757" stop-color="#d7d7ff"/><stop offset=".6206" stop-color="#d7d7ff"/><stop offset=".6224" stop-color="#d9d9ff"/><stop offset=".7084" stop-color="#d7d7ff"/><stop offset=".7103" stop-color="#d5d5ff"/><stop offset=".929" stop-color="#d7d7ff"/><stop offset=".9308" stop-color="#d9d9ff"/><stop offset=".9439" stop-color="#d9d9ff"/><stop offset=".9682" stop-color="#dfdfff"/><stop offset="1" stop-color="#ededff"/></linearGradient><linearGradient id="h158" gradientUnits="userSpaceOnUse" x1="699" x2="1234" y1="0" y2="0"><stop offset="0" stop-color="#ededff"/><stop offset=".0112" stop-color="#e7e7ff"/><stop offset=".043" stop-color="#ddddff"/><stop offset=".0804" stop-color="#dbdbff"/><stop offset=".0822" stop-color="#d9d9ff"/><stop offset=".0897" stop-color="#d9d9ff"/><stop offset=".0916" stop-color="#dbdbff"/><stop offset=".1402" stop-color="#dbdbff"/><stop offset=".1421" stop-color="#ddddff"/><stop offset=".2131" stop-color="#ddddff"/><stop offset=".2168" stop-color="#dbdbff"/><stop offset=".3701" stop-color="#ddddff"/><stop offset=".372" stop-color="#dbdbff"/><stop offset=".4336" stop-color="#dbdbff"/><stop offset=".4355" stop-color="#d9d9ff"/><stop offset=".4692" stop-color="#d9d9ff"/><stop offset=".471" stop-color="#d7d7ff"/><stop offset=".5308" stop-color="#d7d7ff"/><stop offset=".5327" stop-color="#d9d9ff"/><stop offset=".5981" stop-color="#dbdbff"/><stop offset=".6" stop-color="#ddddff"/><stop offset=".9234" stop-color="#dbdbff"/><stop offset=".9252" stop-color="#ddddff"/><stop offset=".9421" stop-color="#ddddff"/><stop offset=".9439" stop-color="#dfdfff"/><stop offset=".9626" stop-color="#e1e1ff"/><stop offset="1" stop-color="#efefff"/></linearGradient><linearGradient id="h159" gradientUnits="userSpaceOnUse" x1="699" x2="1234" y1="0" y2="0"><stop offset="0" stop-color="#efefff"/><stop offset=".0262" stop-color="#e5e5ff"/><stop offset=".043" stop-color="#e1e1ff"/><stop offset=".0542" stop-color="#e1e1ff"/><stop offset=".0561" stop-color="#dfdfff"/><stop offset=".3832" stop-color="#e1e1ff"/><stop offset=".385" stop-color="#dfdfff"/><stop offset=".4467" stop-color="#dfdfff"/><stop offset=".4486" stop-color="#ddddff"/><stop offset=".5477" stop-color="#ddddff"/><stop offset=".5495" stop-color="#dfdfff"/><stop offset=".5888" stop-color="#dfdfff"/><stop offset=".5907" stop-color="#e1e1ff"/><stop offset=".9178" stop-color="#dfdfff"/><stop offset=".9196" stop-color="#e1e1ff"/><stop offset=".9439" stop-color="#e1e1ff"/><stop offset=".9458" stop-color="#e3e3ff"/><stop offset=".9645" stop-color="#e5e5ff"/><stop offset="1" stop-color="#f1f1ff"/></linearGradient><linearGradient id="h160" gradientUnits="userSpaceOnUse" x1="699" x2="1234" y1="0" y2="0"><stop offset="0" stop-color="#f1f1ff"/><stop offset=".0224" stop-color="#e9e9ff"/><stop offset=".0523" stop-color="#e5e5ff"/><stop offset=".0542" stop-color="#e3e3ff"/><stop offset=".1607" stop-color="#e5e5ff"/><stop offset=".3178" stop-color="#e3e3ff"/><stop offset=".3196" stop-color="#e5e5ff"/><stop offset=".3794" stop-color="#e5e5ff"/><stop offset=".3813" stop-color="#e3e3ff"/><stop offset=".4561" stop-color="#e3e3ff"/><stop offset=".4579" stop-color="#e1e1ff"/><stop offset=".5383" stop-color="#e1e1ff"/><stop offset=".5402" stop-color="#e3e3ff"/><stop offset=".5888" stop-color="#e3e3ff"/><stop offset=".5907" stop-color="#e5e5ff"/><stop offset=".9215" stop-color="#e3e3ff"/><stop offset=".9234" stop-color="#e5e5ff"/><stop offset=".9589" stop-color="#e7e7ff"/><stop offset="1" stop-color="#f3f3ff"/></linearGradient><linearGradient id="h161" gradientUnits="userSpaceOnUse" x1="699" x2="1234" y1="0" y2="0"><stop offset="0" stop-color="#f3f3ff"/><stop offset=".0262" stop-color="#ebebff"/><stop offset=".0486" stop-color="#e9e9ff"/><stop offset=".0505" stop-color="#e7e7ff"/><stop offset=".2" stop-color="#e9e9ff"/><stop offset=".2019" stop-color="#e7e7ff"/><stop offset=".5383" stop-color="#e5e5ff"/><stop offset=".5402" stop-color="#e7e7ff"/><stop offset=".615" stop-color="#e7e7ff"/><stop offset=".6168" stop-color="#e9e9ff"/><stop offset=".6374" stop-color="#e9e9ff"/><stop offset=".6393" stop-color="#e7e7ff"/><stop offset=".9308" stop-color="#e7e7ff"/><stop offset=".9327" stop-color="#e9e9ff"/><stop offset=".9645" stop-color="#ebebff"/><stop offset="1" stop-color="#f5f5ff"/></linearGradient><linearGradient id="h162" gradientUnits="userSpaceOnUse" x1="699" x2="1234" y1="0" y2="0"><stop offset="0" stop-color="#f5f5ff"/><stop offset=".0187" stop-color="#efefff"/><stop offset=".0411" stop-color="#ededff"/><stop offset=".043" stop-color="#ebebff"/><stop offset=".0879" stop-color="#e9e9ff"/><stop offset=".1103" stop-color="#e9e9ff"/><stop offset=".1121" stop-color="#ebebff"/><stop offset=".2411" stop-color="#ebebff"/><stop offset=".243" stop-color="#e9e9ff"/><stop offset=".2505" stop-color="#e9e9ff"/><stop offset=".2822" stop-color="#e9e9ff"/><stop offset=".2841" stop-color="#ebebff"/><stop offset=".4355" stop-color="#ebebff"/><stop offset=".4411" stop-color="#e9e9ff"/><stop offset=".9439" stop-color="#ebebff"/><stop offset=".9458" stop-color="#ededff"/><stop offset=".9607" stop-color="#ededff"/><stop offset=".9626" stop-color="#efefff"/><stop offset="1" stop-color="#f5f5ff"/></linearGradient><linearGradient id="h163" gradientUnits="userSpaceOnUse" x1="699" x2="1234" y1="0" y2="0"><stop offset="0" stop-color="#f5f5ff"/><stop offset=".0299" stop-color="#f1f1ff"/><stop offset=".0318" stop-color="#efefff"/><stop offset=".0486" stop-color="#efefff"/><stop offset=".0505" stop-color="#ededff"/><stop offset=".1551" stop-color="#ededff"/><stop offset=".1589" stop-color="#efefff"/><stop offset=".1981" stop-color="#efefff"/><stop offset=".2" stop-color="#ededff"/><stop offset=".6131" stop-color="#ededff"/><stop offset=".615" stop-color="#efefff"/><stop offset=".6355" stop-color="#efefff"/><stop offset=".6374" stop-color="#ededff"/><stop offset=".9308" stop-color="#ededff"/><stop offset=".9327" stop-color="#efefff"/><stop offset=".972" stop-color="#f1f1ff"/><stop offset="1" stop-color="#f7f7ff"/></linearGradient><linearGradient id="h164" gradientUnits="userSpaceOnUse" x1="699" x2="1234" y1="0" y2="0"><stop offset="0" stop-color="#f7f7ff"/><stop offset=".0318" stop-color="#f3f3ff"/><stop offset=".0336" stop-color="#f1f1ff"/><stop offset=".0561" stop-color="#f1f1ff"/><stop offset=".0579" stop-color="#efefff"/><stop offset=".1495" stop-color="#f1f1ff"/><stop offset=".2224" stop-color="#f1f1ff"/><stop offset=".2243" stop-color="#efefff"/><stop offset=".3047" stop-color="#efefff"/><stop offset=".314" stop-color="#f1f1ff"/><stop offset=".4112" stop-color="#f1f1ff"/><stop offset=".4131" stop-color="#efefff"/><stop offset=".5626" stop-color="#efefff"/><stop offset=".5645" stop-color="#f1f1ff"/><stop offset=".9084" stop-color="#efefff"/><stop offset=".9103" stop-color="#f1f1ff"/><stop offset=".9551" stop-color="#f1f1ff"/><stop offset=".957" stop-color="#f3f3ff"/><stop offset=".972" stop-color="#f3f3ff"/><stop offset="1" stop-color="#f9f9ff"/></linearGradient><linearGradient id="h165" gradientUnits="userSpaceOnUse" x1="699" x2="1234" y1="0" y2="0"><stop offset="0" stop-color="#f9f9ff"/><stop offset=".0168" stop-color="#f5f5ff"/><stop offset=".0318" stop-color="#f5f5ff"/><stop offset=".0336" stop-color="#f3f3ff"/><stop offset=".0879" stop-color="#f1f1ff"/><stop offset=".1121" stop-color="#f1f1ff"/><stop offset=".1159" stop-color="#f3f3ff"/><stop offset=".2411" stop-color="#f3f3ff"/><stop offset=".243" stop-color="#f1f1ff"/><stop offset=".2505" stop-color="#f1f1ff"/><stop offset=".2822" stop-color="#f1f1ff"/><stop offset=".2841" stop-color="#f3f3ff"/><stop offset=".4542" stop-color="#f3f3ff"/><stop offset=".4561" stop-color="#f1f1ff"/><stop offset=".7103" stop-color="#f3f3ff"/><stop offset=".7121" stop-color="#f1f1ff"/><stop offset=".7813" stop-color="#f1f1ff"/><stop offset=".7832" stop-color="#f3f3ff"/><stop offset=".9551" stop-color="#f3f3ff"/><stop offset=".957" stop-color="#f5f5ff"/><stop offset="1" stop-color="#f9f9ff"/></linearGradient><linearGradient id="h166" gradientUnits="userSpaceOnUse" x1="699" x2="1234" y1="0" y2="0"><stop offset="0" stop-color="#f9f9ff"/><stop offset=".0299" stop-color="#f7f7ff"/><stop offset=".0318" stop-color="#f5f5ff"/><stop offset=".0673" stop-color="#f5f5ff"/><stop offset=".0692" stop-color="#f3f3ff"/><stop offset=".1065" stop-color="#f3f3ff"/><stop offset=".114" stop-color="#f5f5ff"/><stop offset=".2467" stop-color="#f5f5ff"/><stop offset=".2561" stop-color="#f3f3ff"/><stop offset=".2766" stop-color="#f3f3ff"/><stop offset=".2785" stop-color="#f5f5ff"/><stop offset=".4729" stop-color="#f5f5ff"/><stop offset=".4748" stop-color="#f3f3ff"/><stop offset=".5178" stop-color="#f3f3ff"/><stop offset=".5196" stop-color="#f5f5ff"/><stop offset=".7196" stop-color="#f5f5ff"/><stop offset=".7215" stop-color="#f3f3ff"/><stop offset=".7701" stop-color="#f3f3ff"/><stop offset=".772" stop-color="#f5f5ff"/><stop offset=".9589" stop-color="#f5f5ff"/><stop offset=".9607" stop-color="#f7f7ff"/><stop offset=".9794" stop-color="#f7f7ff"/><stop offset=".9813" stop-color="#f9f9ff"/><stop offset=".9981" stop-color="#f9f9ff"/><stop offset="1" stop-color="#fbfbff"/></linearGradient><linearGradient id="h167" gradientUnits="userSpaceOnUse" x1="699" x2="1234" y1="0" y2="0"><stop offset="0" stop-color="#fbfbff"/><stop offset=".0037" stop-color="#f9f9ff"/><stop offset=".0579" stop-color="#f7f7ff"/><stop offset=".0617" stop-color="#f5f5ff"/><stop offset=".1776" stop-color="#f7f7ff"/><stop offset=".2262" stop-color="#f7f7ff"/><stop offset=".228" stop-color="#f5f5ff"/><stop offset=".3009" stop-color="#f5f5ff"/><stop offset=".3028" stop-color="#f7f7ff"/><stop offset=".314" stop-color="#f7f7ff"/><stop offset=".8991" stop-color="#f5f5ff"/><stop offset=".9009" stop-color="#f7f7ff"/><stop offset=".9664" stop-color="#f7f7ff"/><stop offset=".9682" stop-color="#f9f9ff"/><stop offset="1" stop-color="#fbfbff"/></linearGradient><linearGradient id="h168" gradientUnits="userSpaceOnUse" x1="699" x2="1234" y1="0" y2="0"><stop offset="0" stop-color="#fbfbff"/><stop offset=".0542" stop-color="#f7f7ff"/><stop offset=".9402" stop-color="#f7f7ff"/><stop offset=".9421" stop-color="#f9f9ff"/><stop offset="1" stop-color="#fbfbff"/></linearGradient><linearGradient id="h169" gradientUnits="userSpaceOnUse" x1="699" x2="1234" y1="0" y2="0"><stop offset="0" stop-color="#fbfbff"/><stop offset=".0262" stop-color="#fbfbff"/><stop offset=".028" stop-color="#f9f9ff"/><stop offset=".9626" stop-color="#f9f9ff"/><stop offset=".9645" stop-color="#fbfbff"/><stop offset=".9963" stop-color="#fbfbff"/><stop offset="1" stop-color="#fdfdff"/></linearGradient><linearGradient id="h170" gradientUnits="userSpaceOnUse" x1="699" x2="1234" y1="0" y2="0"><stop offset="0" stop-color="#fdfdff"/><stop offset=".0617" stop-color="#f9f9ff"/><stop offset=".1869" stop-color="#fbfbff"/><stop offset=".2093" stop-color="#fbfbff"/><stop offset=".2112" stop-color="#f9f9ff"/><stop offset=".329" stop-color="#f9f9ff"/><stop offset=".3327" stop-color="#fbfbff"/><stop offset=".3738" stop-color="#fbfbff"/><stop offset=".3757" stop-color="#f9f9ff"/><stop offset=".557" stop-color="#f9f9ff"/><stop offset=".5589" stop-color="#fbfbff"/><stop offset=".5757" stop-color="#fbfbff"/><stop offset=".9252" stop-color="#f9f9ff"/><stop offset=".9271" stop-color="#fbfbff"/><stop offset=".9869" stop-color="#fbfbff"/><stop offset=".9888" stop-color="#fdfdff"/><stop offset="1" stop-color="#fdfdff"/></linearGradient><linearGradient id="h171" gradientUnits="userSpaceOnUse" x1="699" x2="1234" y1="0" y2="0"><stop offset="0" stop-color="#fdfdff"/><stop offset=".0243" stop-color="#fbfbff"/><stop offset=".9738" stop-color="#fbfbff"/><stop offset=".9757" stop-color="#fdfdff"/><stop offset="1" stop-color="#fdfdff"/></linearGradient><linearGradient id="h172" gradientUnits="userSpaceOnUse" x1="699" x2="1234" y1="0" y2="0"><stop offset="0" stop-color="#fdfdff"/><stop offset=".0449" stop-color="#fbfbff"/><stop offset=".9533" stop-color="#fbfbff"/><stop offset=".9551" stop-color="#fdfdff"/><stop offset="1" stop-color="#fdfdff"/></linearGradient><linearGradient id="h173" gradientUnits="userSpaceOnUse" x1="699" x2="1234" y1="0" y2="0"><stop offset="0" stop-color="#fdfdff"/><stop offset="1" stop-color="#fdfdff"/></linearGradient><linearGradient id="h174" gradientUnits="userSpaceOnUse" x1="699" x2="1234" y1="0" y2="0"><stop offset="0" stop-color="#fdfdff"/><stop offset="1" stop-color="#fdfdff"/></linearGradient><linearGradient id="h175" gradientUnits="userSpaceOnUse" x1="699" x2="1234" y1="0" y2="0"><stop offset="0" stop-color="#ffffff"/><stop offset=".015" stop-color="#fdfdff"/><stop offset=".9907" stop-color="#fdfdff"/><stop offset="1" stop-color="#ffffff"/></linearGradient><linearGradient id="h176" gradientUnits="userSpaceOnUse" x1="699" x2="1234" y1="0" y2="0"><stop offset="0" stop-color="#ffffff"/><stop offset=".015" stop-color="#fdfdff"/><stop offset=".9794" stop-color="#fdfdff"/><stop offset=".9813" stop-color="#ffffff"/><stop offset="1" stop-color="#ffffff"/></linearGradient><linearGradient id="h177" gradientUnits="userSpaceOnUse" x1="699" x2="1234" y1="0" y2="0"><stop offset="0" stop-color="#ffffff"/><stop offset=".0355" stop-color="#fdfdff"/><stop offset=".9607" stop-color="#fdfdff"/><stop offset=".9626" stop-color="#ffffff"/><stop offset="1" stop-color="#ffffff"/></linearGradient><linearGradient id="h178" gradientUnits="userSpaceOnUse" x1="699" x2="1234" y1="0" y2="0"><stop offset="0" stop-color="#ffffff"/><stop offset=".0636" stop-color="#ffffff"/><stop offset=".0692" stop-color="#fdfdff"/><stop offset=".1121" stop-color="#fdfdff"/><stop offset=".114" stop-color="#ffffff"/><stop offset=".2393" stop-color="#ffffff"/><stop offset=".2411" stop-color="#fdfdff"/><stop offset=".2692" stop-color="#fdfdff"/><stop offset=".2841" stop-color="#fdfdff"/><stop offset=".286" stop-color="#ffffff"/><stop offset=".7084" stop-color="#ffffff"/><stop offset=".7103" stop-color="#fdfdff"/><stop offset="1" stop-color="#ffffff"/></linearGradient><linearGradient id="h179" gradientUnits="userSpaceOnUse" x1="699" x2="1234" y1="0" y2="0"><stop offset="0" stop-color="#ffffff"/><stop offset="1" stop-color="#ffffff"/></linearGradient><linearGradient id="h180" gradientUnits="userSpaceOnUse" x1="699" x2="1234" y1="0" y2="0"><stop offset="0" stop-color="#ffffff"/><stop offset="1" stop-color="#ffffff"/></linearGradient><linearGradient id="h181" gradientUnits="userSpaceOnUse" x1="699" x2="1234" y1="0" y2="0"><stop offset="0" stop-color="#ffffff"/><stop offset="1" stop-color="#ffffff"/></linearGradient><linearGradient id="h182" gradientUnits="userSpaceOnUse" x1="699" x2="1234" y1="0" y2="0"><stop offset="0" stop-color="#ffffff"/><stop offset="1" stop-color="#ffffff"/></linearGradient></defs>
<filter id="vb" filterUnits="userSpaceOnUse" x="690" y="30" width="560" height="570"><feGaussianBlur stdDeviation="0 1.6"/></filter>
<g clip-path="url(#c2)"><g filter="url(#vb)"><rect x="699" y="41" width="535" height="3.5" fill="url(#h0)"/><rect x="699" y="44" width="535" height="3.5" fill="url(#h1)"/><rect x="699" y="47" width="535" height="3.5" fill="url(#h2)"/><rect x="699" y="50" width="535" height="3.5" fill="url(#h3)"/><rect x="699" y="53" width="535" height="3.5" fill="url(#h4)"/><rect x="699" y="56" width="535" height="3.5" fill="url(#h5)"/><rect x="699" y="59" width="535" height="3.5" fill="url(#h6)"/><rect x="699" y="62" width="535" height="3.5" fill="url(#h7)"/><rect x="699" y="65" width="535" height="3.5" fill="url(#h8)"/><rect x="699" y="68" width="535" height="3.5" fill="url(#h9)"/><rect x="699" y="71" width="535" height="3.5" fill="url(#h10)"/><rect x="699" y="74" width="535" height="3.5" fill="url(#h11)"/><rect x="699" y="77" width="535" height="3.5" fill="url(#h12)"/><rect x="699" y="80" width="535" height="3.5" fill="url(#h13)"/><rect x="699" y="83" width="535" height="3.5" fill="url(#h14)"/><rect x="699" y="86" width="535" height="3.5" fill="url(#h15)"/><rect x="699" y="89" width="535" height="3.5" fill="url(#h16)"/><rect x="699" y="92" width="535" height="3.5" fill="url(#h17)"/><rect x="699" y="95" width="535" height="3.5" fill="url(#h18)"/><rect x="699" y="98" width="535" height="3.5" fill="url(#h19)"/><rect x="699" y="101" width="535" height="3.5" fill="url(#h20)"/><rect x="699" y="104" width="535" height="3.5" fill="url(#h21)"/><rect x="699" y="107" width="535" height="3.5" fill="url(#h22)"/><rect x="699" y="110" width="535" height="3.5" fill="url(#h23)"/><rect x="699" y="113" width="535" height="3.5" fill="url(#h24)"/><rect x="699" y="116" width="535" height="3.5" fill="url(#h25)"/><rect x="699" y="119" width="535" height="3.5" fill="url(#h26)"/><rect x="699" y="122" width="535" height="3.5" fill="url(#h27)"/><rect x="699" y="125" width="535" height="3.5" fill="url(#h28)"/><rect x="699" y="128" width="535" height="3.5" fill="url(#h29)"/><rect x="699" y="131" width="535" height="3.5" fill="url(#h30)"/><rect x="699" y="134" width="535" height="3.5" fill="url(#h31)"/><rect x="699" y="137" width="535" height="3.5" fill="url(#h32)"/><rect x="699" y="140" width="535" height="3.5" fill="url(#h33)"/><rect x="699" y="143" width="535" height="3.5" fill="url(#h34)"/><rect x="699" y="146" width="535" height="3.5" fill="url(#h35)"/><rect x="699" y="149" width="535" height="3.5" fill="url(#h36)"/><rect x="699" y="152" width="535" height="3.5" fill="url(#h37)"/><rect x="699" y="155" width="535" height="3.5" fill="url(#h38)"/><rect x="699" y="158" width="535" height="3.5" fill="url(#h39)"/><rect x="699" y="161" width="535" height="3.5" fill="url(#h40)"/><rect x="699" y="164" width="535" height="3.5" fill="url(#h41)"/><rect x="699" y="167" width="535" height="3.5" fill="url(#h42)"/><rect x="699" y="170" width="535" height="3.5" fill="url(#h43)"/><rect x="699" y="173" width="535" height="3.5" fill="url(#h44)"/><rect x="699" y="176" width="535" height="3.5" fill="url(#h45)"/><rect x="699" y="179" width="535" height="3.5" fill="url(#h46)"/><rect x="699" y="182" width="535" height="3.5" fill="url(#h47)"/><rect x="699" y="185" width="535" height="3.5" fill="url(#h48)"/><rect x="699" y="188" width="535" height="3.5" fill="url(#h49)"/><rect x="699" y="191" width="535" height="3.5" fill="url(#h50)"/><rect x="699" y="194" width="535" height="3.5" fill="url(#h51)"/><rect x="699" y="197" width="535" height="3.5" fill="url(#h52)"/><rect x="699" y="200" width="535" height="3.5" fill="url(#h53)"/><rect x="699" y="203" width="535" height="3.5" fill="url(#h54)"/><rect x="699" y="206" width="535" height="3.5" fill="url(#h55)"/><rect x="699" y="209" width="535" height="3.5" fill="url(#h56)"/><rect x="699" y="212" width="535" height="3.5" fill="url(#h57)"/><rect x="699" y="215" width="535" height="3.5" fill="url(#h58)"/><rect x="699" y="218" width="535" height="3.5" fill="url(#h59)"/><rect x="699" y="221" width="535" height="3.5" fill="url(#h60)"/><rect x="699" y="224" width="535" height="3.5" fill="url(#h61)"/><rect x="699" y="227" width="535" height="3.5" fill="url(#h62)"/><rect x="699" y="230" width="535" height="3.5" fill="url(#h63)"/><rect x="699" y="233" width="535" height="3.5" fill="url(#h64)"/><rect x="699" y="236" width="535" height="3.5" fill="url(#h65)"/><rect x="699" y="239" width="535" height="3.5" fill="url(#h66)"/><rect x="699" y="242" width="535" height="3.5" fill="url(#h67)"/><rect x="699" y="245" width="535" height="3.5" fill="url(#h68)"/><rect x="699" y="248" width="535" height="3.5" fill="url(#h69)"/><rect x="699" y="251" width="535" height="3.5" fill="url(#h70)"/><rect x="699" y="254" width="535" height="3.5" fill="url(#h71)"/><rect x="699" y="257" width="535" height="3.5" fill="url(#h72)"/><rect x="699" y="260" width="535" height="3.5" fill="url(#h73)"/><rect x="699" y="263" width="535" height="3.5" fill="url(#h74)"/><rect x="699" y="266" width="535" height="3.5" fill="url(#h75)"/><rect x="699" y="269" width="535" height="3.5" fill="url(#h76)"/><rect x="699" y="272" width="535" height="3.5" fill="url(#h77)"/><rect x="699" y="275" width="535" height="3.5" fill="url(#h78)"/><rect x="699" y="278" width="535" height="3.5" fill="url(#h79)"/><rect x="699" y="281" width="535" height="3.5" fill="url(#h80)"/><rect x="699" y="284" width="535" height="3.5" fill="url(#h81)"/><rect x="699" y="287" width="535" height="3.5" fill="url(#h82)"/><rect x="699" y="290" width="535" height="3.5" fill="url(#h83)"/><rect x="699" y="293" width="535" height="3.5" fill="url(#h84)"/><rect x="699" y="296" width="535" height="3.5" fill="url(#h85)"/><rect x="699" y="299" width="535" height="3.5" fill="url(#h86)"/><rect x="699" y="302" width="535" height="3.5" fill="url(#h87)"/><rect x="699" y="305" width="535" height="3.5" fill="url(#h88)"/><rect x="699" y="308" width="535" height="3.5" fill="url(#h89)"/><rect x="699" y="311" width="535" height="3.5" fill="url(#h90)"/><rect x="699" y="314" width="535" height="3.5" fill="url(#h91)"/><rect x="699" y="317" width="535" height="3.5" fill="url(#h92)"/><rect x="699" y="320" width="535" height="3.5" fill="url(#h93)"/><rect x="699" y="323" width="535" height="3.5" fill="url(#h94)"/><rect x="699" y="326" width="535" height="3.5" fill="url(#h95)"/><rect x="699" y="329" width="535" height="3.5" fill="url(#h96)"/><rect x="699" y="332" width="535" height="3.5" fill="url(#h97)"/><rect x="699" y="335" width="535" height="3.5" fill="url(#h98)"/><rect x="699" y="338" width="535" height="3.5" fill="url(#h99)"/><rect x="699" y="341" width="535" height="3.5" fill="url(#h100)"/><rect x="699" y="344" width="535" height="3.5" fill="url(#h101)"/><rect x="699" y="347" width="535" height="3.5" fill="url(#h102)"/><rect x="699" y="350" width="535" height="3.5" fill="url(#h103)"/><rect x="699" y="353" width="535" height="3.5" fill="url(#h104)"/><rect x="699" y="356" width="535" height="3.5" fill="url(#h105)"/><rect x="699" y="359" width="535" height="3.5" fill="url(#h106)"/><rect x="699" y="362" width="535" height="3.5" fill="url(#h107)"/><rect x="699" y="365" width="535" height="3.5" fill="url(#h108)"/><rect x="699" y="368" width="535" height="3.5" fill="url(#h109)"/><rect x="699" y="371" width="535" height="3.5" fill="url(#h110)"/><rect x="699" y="374" width="535" height="3.5" fill="url(#h111)"/><rect x="699" y="377" width="535" height="3.5" fill="url(#h112)"/><rect x="699" y="380" width="535" height="3.5" fill="url(#h113)"/><rect x="699" y="383" width="535" height="3.5" fill="url(#h114)"/><rect x="699" y="386" width="535" height="3.5" fill="url(#h115)"/><rect x="699" y="389" width="535" height="3.5" fill="url(#h116)"/><rect x="699" y="392" width="535" height="3.5" fill="url(#h117)"/><rect x="699" y="395" width="535" height="3.5" fill="url(#h118)"/><rect x="699" y="398" width="535" height="3.5" fill="url(#h119)"/><rect x="699" y="401" width="535" height="3.5" fill="url(#h120)"/><rect x="699" y="404" width="535" height="3.5" fill="url(#h121)"/><rect x="699" y="407" width="535" height="3.5" fill="url(#h122)"/><rect x="699" y="410" width="535" height="3.5" fill="url(#h123)"/><rect x="699" y="413" width="535" height="3.5" fill="url(#h124)"/><rect x="699" y="416" width="535" height="3.5" fill="url(#h125)"/><rect x="699" y="419" width="535" height="3.5" fill="url(#h126)"/><rect x="699" y="422" width="535" height="3.5" fill="url(#h127)"/><rect x="699" y="425" width="535" height="3.5" fill="url(#h128)"/><rect x="699" y="428" width="535" height="3.5" fill="url(#h129)"/><rect x="699" y="431" width="535" height="3.5" fill="url(#h130)"/><rect x="699" y="434" width="535" height="3.5" fill="url(#h131)"/><rect x="699" y="437" width="535" height="3.5" fill="url(#h132)"/><rect x="699" y="440" width="535" height="3.5" fill="url(#h133)"/><rect x="699" y="443" width="535" height="3.5" fill="url(#h134)"/><rect x="699" y="446" width="535" height="3.5" fill="url(#h135)"/><rect x="699" y="449" width="535" height="3.5" fill="url(#h136)"/><rect x="699" y="452" width="535" height="3.5" fill="url(#h137)"/><rect x="699" y="455" width="535" height="3.5" fill="url(#h138)"/><rect x="699" y="458" width="535" height="3.5" fill="url(#h139)"/><rect x="699" y="461" width="535" height="3.5" fill="url(#h140)"/><rect x="699" y="464" width="535" height="3.5" fill="url(#h141)"/><rect x="699" y="467" width="535" height="3.5" fill="url(#h142)"/><rect x="699" y="470" width="535" height="3.5" fill="url(#h143)"/><rect x="699" y="473" width="535" height="3.5" fill="url(#h144)"/><rect x="699" y="476" width="535" height="3.5" fill="url(#h145)"/><rect x="699" y="479" width="535" height="3.5" fill="url(#h146)"/><rect x="699" y="482" width="535" height="3.5" fill="url(#h147)"/><rect x="699" y="485" width="535" height="3.5" fill="url(#h148)"/><rect x="699" y="488" width="535" height="3.5" fill="url(#h149)"/><rect x="699" y="491" width="535" height="3.5" fill="url(#h150)"/><rect x="699" y="494" width="535" height="3.5" fill="url(#h151)"/><rect x="699" y="497" width="535" height="3.5" fill="url(#h152)"/><rect x="699" y="500" width="535" height="3.5" fill="url(#h153)"/><rect x="699" y="503" width="535" height="3.5" fill="url(#h154)"/><rect x="699" y="506" width="535" height="3.5" fill="url(#h155)"/><rect x="699" y="509" width="535" height="3.5" fill="url(#h156)"/><rect x="699" y="512" width="535" height="3.5" fill="url(#h157)"/><rect x="699" y="515" width="535" height="3.5" fill="url(#h158)"/><rect x="699" y="518" width="535" height="3.5" fill="url(#h159)"/><rect x="699" y="521" width="535" height="3.5" fill="url(#h160)"/><rect x="699" y="524" width="535" height="3.5" fill="url(#h161)"/><rect x="699" y="527" width="535" height="3.5" fill="url(#h162)"/><rect x="699" y="530" width="535" height="3.5" fill="url(#h163)"/><rect x="699" y="533" width="535" height="3.5" fill="url(#h164)"/><rect x="699" y="536" width="535" height="3.5" fill="url(#h165)"/><rect x="699" y="539" width="535" height="3.5" fill="url(#h166)"/><rect x="699" y="542" width="535" height="3.5" fill="url(#h167)"/><rect x="699" y="545" width="535" height="3.5" fill="url(#h168)"/><rect x="699" y="548" width="535" height="3.5" fill="url(#h169)"/><rect x="699" y="551" width="535" height="3.5" fill="url(#h170)"/><rect x="699" y="554" width="535" height="3.5" fill="url(#h171)"/><rect x="699" y="557" width="535" height="3.5" fill="url(#h172)"/><rect x="699" y="560" width="535" height="3.5" fill="url(#h173)"/><rect x="699" y="563" width="535" height="3.5" fill="url(#h174)"/><rect x="699" y="566" width="535" height="3.5" fill="url(#h175)"/><rect x="699" y="569" width="535" height="3.5" fill="url(#h176)"/><rect x="699" y="572" width="535" height="3.5" fill="url(#h177)"/><rect x="699" y="575" width="535" height="3.5" fill="url(#h178)"/><rect x="699" y="578" width="535" height="3.5" fill="url(#h179)"/><rect x="699" y="581" width="535" height="3.5" fill="url(#h180)"/><rect x="699" y="584" width="535" height="3.5" fill="url(#h181)"/><rect x="699" y="587" width="535" height="3.5" fill="url(#h182)"/></g>
<rect x="851" y="47" width="1" height="535" fill="#fff"/><rect x="1048" y="47" width="1" height="535" fill="#fff"/>
<g fill="none" stroke-linecap="round" stroke-width="1.5" stroke-dasharray="6 6">
<path d="M928.07 580.24V47.81" stroke="#006400"/>
<path d="M1002.93 580.24V47.81" stroke="#006400"/>
<path d="M699.76 510.44H1232.19" stroke="#d32222"/>
</g></g>
<rect x="699.76" y="47.81" width="532.43" height="532.43" fill="none" stroke="#000" stroke-width=".75"/>
<path d="M699.76 47.81V580.24H1232.19" fill="none" stroke="#000" stroke-width=".75"/>
<path d="M748.5 580.24H1182.5M748.5 580.24v5.98M857 580.24v5.98M965.5 580.24v5.98M1074 580.24v5.98M1182.5 580.24v5.98M699.76 530.25V117.5M699.76 530.25h-5.98M699.76 447.7h-5.98M699.76 365.15h-5.98M699.76 282.6h-5.98M699.76 200.05h-5.98M699.76 117.5h-5.98" fill="none" stroke="#000" stroke-width=".75"/>
<text x="748.5" y="601.9" font-size="10.4" text-anchor="middle">-400</text>
<text x="857" y="601.9" font-size="10.4" text-anchor="middle">-200</text>
<text x="965.5" y="601.9" font-size="10.4" text-anchor="middle">0</text>
<text x="1074" y="601.9" font-size="10.4" text-anchor="middle">200</text>
<text x="1182.5" y="601.9" font-size="10.4" text-anchor="middle">400</text>
<text transform="translate(685 530.25) rotate(-90)" font-size="10.4" text-anchor="middle">70</text>
<text transform="translate(685 447.7) rotate(-90)" font-size="10.4" text-anchor="middle">75</text>
<text transform="translate(685 365.15) rotate(-90)" font-size="10.4" text-anchor="middle">80</text>
<text transform="translate(685 282.6) rotate(-90)" font-size="10.4" text-anchor="middle">85</text>
<text transform="translate(685 200.05) rotate(-90)" font-size="10.4" text-anchor="middle">90</text>
<text transform="translate(685 117.5) rotate(-90)" font-size="10.4" text-anchor="middle">95</text>
<text x="799.7" y="31.8" font-size="21.2" font-weight="bold" textLength="333.6" lengthAdjust="spacingAndGlyphs">Density heat map for the top hits</text>
<text x="879.8" y="625.6" font-size="15.9" textLength="173.59" lengthAdjust="spacingAndGlyphs">Distance to peak summit</text>
<text transform="translate(661.9 352.35) rotate(-90)" font-size="15.9" textLength="75.6" lengthAdjust="spacingAndGlyphs">Motif score</text>
</g>
<g id="p3">
<clipPath id="c3"><rect x="59.76" y="687.81" width="532.43" height="532.43"/></clipPath>
<path d="M79.3 1200.4L80.8 1200.4L82.3 1200.4L83.8 1200.4L85.3 1200.4L86.8 1200.4L88.3 1200.4L89.8 1200.4L91.3 1200.4L92.8 1200.4L94.3 1200.4L95.8 1200.4L97.3 1200.4L98.8 1200.4L100.3 1200.3L101.8 1200.3L103.3 1200.2L104.8 1200.1L106.3 1200.1L107.8 1200L109.3 1199.9L110.8 1199.8L112.3 1199.7L113.8 1199.6L115.3 1199.5L116.8 1199.4L118.3 1199.3L119.8 1199.2L121.3 1199.1L122.8 1199L124.3 1198.9L125.8 1198.7L127.3 1198.6L128.8 1198.5L130.3 1198.3L131.8 1198.1L133.3 1197.8L134.8 1197.5L136.3 1197.1L137.8 1196.5L139.3 1195.9L140.8 1195.1L142.3 1194.2L143.8 1193.1L145.3 1191.8L146.8 1190.4L148.3 1188.7L149.8 1186.9L151.3 1184.7L152.8 1182.3L154.3 1179.6L155.8 1176.5L157.3 1173L158.8 1169.1L160.3 1164.7L161.8 1159.9L163.3 1154.5L164.8 1148.6L166.3 1142.1L167.8 1135L169.3 1127.2L170.8 1118.8L172.3 1109.6L173.8 1099.8L175.3 1089.3L176.8 1078.3L178.3 1066.7L179.8 1054.6L181.3 1042.1L182.8 1029.3L184.3 1016.1L185.8 1002.6L187.3 988.8L188.8 974.9L190.3 960.9L191.8 946.8L193.3 932.7L194.8 918.6L196.3 904.5L197.8 890.6L199.3 876.9L200.8 863.4L202.3 850.1L203.8 837.2L205.3 824.7L206.8 812.6L208.3 801L209.8 789.8L211.3 779.2L212.8 769.2L214.3 759.8L215.8 751.1L217.3 743L218.8 735.7L220.3 729.2L221.8 723.4L223.3 718.5L224.8 714.4L226.3 711.3L227.8 709.1L229.3 707.7L230.8 707.3L232.3 707.7L233.8 708.9L235.3 710.8L236.8 713.6L238.3 717L239.8 721.2L241.3 726.1L242.8 731.5L244.3 737.7L245.8 744.4L247.3 751.6L248.8 759.3L250.3 767.5L251.8 776.1L253.3 785.1L254.8 794.3L256.3 803.9L257.8 813.7L259.3 823.7L260.8 833.8L262.3 844L263.8 854.3L265.3 864.6L266.8 874.9L268.3 885.2L269.8 895.5L271.3 905.7L272.8 915.7L274.3 925.7L275.8 935.5L277.3 945.2L278.8 954.6L280.3 963.8L281.8 972.8L283.3 981.5L284.8 989.8L286.3 997.9L287.8 1005.8L289.3 1013.3L290.8 1020.5L292.3 1027.5L293.8 1034.2L295.3 1040.7L296.8 1046.9L298.3 1052.8L299.8 1058.5L301.3 1064L302.8 1069.2L304.3 1074.2L305.8 1079L307.3 1083.5L308.8 1087.8L310.3 1092L311.8 1095.9L313.3 1099.6L314.8 1103.1L316.3 1106.4L317.8 1109.5L319.3 1112.4L320.8 1115.2L322.3 1117.8L323.8 1120.2L325.3 1122.4L326.9 1124.5L328.4 1126.4L329.9 1128.2L331.4 1129.8L332.9 1131.3L334.4 1132.7L335.9 1133.9L337.4 1135L338.9 1136L340.4 1136.9L341.9 1137.6L343.4 1138.3L344.9 1138.8L346.4 1139.3L347.9 1139.6L349.4 1139.9L350.9 1140.1L352.4 1140.2L353.9 1140.2L355.4 1140.1L356.9 1139.9L358.4 1139.6L359.9 1139.2L361.4 1138.8L362.9 1138.2L364.4 1137.6L365.9 1136.8L367.4 1136L368.9 1135L370.4 1134L371.9 1132.8L373.4 1131.6L374.9 1130.3L376.4 1128.8L377.9 1127.3L379.4 1125.7L380.9 1123.9L382.4 1122.1L383.9 1120.1L385.4 1118.1L386.9 1115.9L388.4 1113.7L389.9 1111.3L391.4 1108.9L392.9 1106.4L394.4 1103.8L395.9 1101.1L397.4 1098.3L398.9 1095.5L400.4 1092.6L401.9 1089.7L403.4 1086.7L404.9 1083.7L406.4 1080.6L407.9 1077.5L409.4 1074.5L410.9 1071.6L412.4 1068.7L413.9 1066L415.4 1063.4L416.9 1061.1L418.4 1058.9L419.9 1057L421.4 1055.2L422.9 1053.7L424.4 1052.4L425.9 1051.2L427.4 1050.3L428.9 1049.6L430.4 1049L431.9 1048.6L433.4 1048.4L434.9 1048.4L436.4 1048.6L437.9 1049L439.4 1049.5L440.9 1050.2L442.4 1051L443.9 1052.1L445.4 1053.3L446.9 1054.6L448.4 1056.1L449.9 1057.8L451.4 1059.6L452.9 1061.6L454.4 1063.7L455.9 1066L457.4 1068.3L458.9 1070.9L460.4 1073.5L461.9 1076.3L463.4 1079.1L464.9 1082.1L466.4 1085.1L467.9 1088.3L469.4 1091.4L470.9 1094.7L472.4 1098L473.9 1101.3L475.4 1104.7L476.9 1108.1L478.4 1111.5L479.9 1114.9L481.4 1118.3L482.9 1121.7L484.4 1125.1L485.9 1128.5L487.4 1131.8L488.9 1135.1L490.4 1138.3L491.9 1141.5L493.4 1144.6L494.9 1147.6L496.4 1150.5L497.9 1153.4L499.4 1156.2L500.9 1158.9L502.4 1161.5L503.9 1164.1L505.4 1166.5L506.9 1168.9L508.4 1171.2L509.9 1173.4L511.4 1175.5L512.9 1177.6L514.4 1179.5L515.9 1181.4L517.4 1183.2L518.9 1184.9L520.4 1186.5L521.9 1188L523.4 1189.4L524.9 1190.7L526.4 1191.9L527.9 1193.1L529.4 1194.1L530.9 1195L532.4 1195.9L533.9 1196.6L535.4 1197.3L536.9 1197.9L538.4 1198.4L539.9 1198.8L541.4 1199.2L542.9 1199.5L544.4 1199.8L545.9 1200L547.4 1200.1L548.9 1200.2L550.4 1200.3L551.9 1200.4L553.4 1200.4L554.9 1200.4L556.4 1200.4L557.9 1200.3L559.4 1200.3L560.9 1200.3L562.4 1200.2L563.9 1200.2L565.4 1200.2L566.9 1200.2L568.4 1200.2L569.9 1200.2L571.4 1200.3L572.9 1200.4Z" fill="#f5deb3" stroke="#000" stroke-width="1.3" stroke-linejoin="round"/>
<path clip-path="url(#c3)" d="M176.56 1220.24V687.81" fill="none" stroke="#d32222" stroke-width="1.5" stroke-dasharray="6 6" stroke-linecap="round"/>
<rect x="59.76" y="687.81" width="532.43" height="532.43" fill="none" stroke="#000" stroke-width=".75"/>
<path d="M161.5 1220.24H538M161.5 1220.24v5.98M287 1220.24v5.98M412.5 1220.24v5.98M538 1220.24v5.98M59.76 1200.4V696.2M59.76 1200.4h-5.98M59.76 1099.56h-5.98M59.76 998.72h-5.98M59.76 897.88h-5.98M59.76 797.04h-5.98M59.76 696.2h-5.98" fill="none" stroke="#000" stroke-width=".75"/>
<text x="161.5" y="1241.9" font-size="10.4" text-anchor="middle">70</text>
<text x="287" y="1241.9" font-size="10.4" text-anchor="middle">80</text>
<text x="412.5" y="1241.9" font-size="10.4" text-anchor="middle">90</text>
<text x="538" y="1241.9" font-size="10.4" text-anchor="middle">100</text>
<text transform="translate(45 1200.4) rotate(-90)" font-size="10.4" text-anchor="middle">0.00</text>
<text transform="translate(45 1099.56) rotate(-90)" font-size="10.4" text-anchor="middle">0.02</text>
<text transform="translate(45 998.72) rotate(-90)" font-size="10.4" text-anchor="middle">0.04</text>
<text transform="translate(45 897.88) rotate(-90)" font-size="10.4" text-anchor="middle">0.06</text>
<text transform="translate(45 797.04) rotate(-90)" font-size="10.4" text-anchor="middle">0.08</text>
<text transform="translate(45 696.2) rotate(-90)" font-size="10.4" text-anchor="middle">0.10</text>
<text x="177.5" y="671.9" font-size="21.2" font-weight="bold" textLength="297.2" lengthAdjust="spacingAndGlyphs">Motif score threshold: 71.200</text>
<text x="287.6" y="1265.8" font-size="15.9" textLength="75.7" lengthAdjust="spacingAndGlyphs">Motif score</text>
<text transform="translate(21.9 980.4) rotate(-90)" font-size="15.9" textLength="54.39" lengthAdjust="spacingAndGlyphs">Density</text>
</g>
<g id="p4">
<clipPath id="c4"><rect x="699.76" y="687.81" width="532.43" height="532.43"/></clipPath>
<path d="M719.2 1200.3L720.4 1200.3L721.6 1200.2L722.7 1200.2L723.9 1200.1L725.1 1200L726.3 1199.8L727.4 1199.6L728.6 1199.4L729.8 1199.1L731 1198.7L732.2 1198.3L733.3 1197.7L734.5 1197.1L735.7 1196.5L736.9 1195.7L738 1194.8L739.2 1193.8L740.4 1192.7L741.6 1191.5L742.8 1190.2L743.9 1188.7L745.1 1187.1L746.3 1185.4L747.5 1183.5L748.7 1181.5L749.8 1179.3L751 1176.9L752.2 1174.3L753.4 1171.6L754.5 1168.7L755.7 1165.7L756.9 1162.5L758.1 1159.4L759.3 1156.3L760.4 1153.3L761.6 1150.5L762.8 1147.8L764 1145.3L765.1 1143L766.3 1140.7L767.5 1138.6L768.7 1136.7L769.9 1134.8L771 1133.1L772.2 1131.6L773.4 1130.1L774.6 1128.8L775.7 1127.5L776.9 1126.4L778.1 1125.4L779.3 1124.5L780.5 1123.7L781.6 1123L782.8 1122.4L784 1121.8L785.2 1121.4L786.3 1121L787.5 1120.7L788.7 1120.5L789.9 1120.4L791.1 1120.3L792.2 1120.3L793.4 1120.3L794.6 1120.4L795.8 1120.6L797 1120.8L798.1 1121L799.3 1121.3L800.5 1121.6L801.7 1122L802.8 1122.4L804 1122.8L805.2 1123.3L806.4 1123.7L807.6 1124.2L808.7 1124.7L809.9 1125.2L811.1 1125.7L812.3 1126.3L813.4 1126.8L814.6 1127.3L815.8 1127.8L817 1128.3L818.2 1128.8L819.3 1129.3L820.5 1129.8L821.7 1130.2L822.9 1130.6L824 1131L825.2 1131.4L826.4 1131.7L827.6 1132L828.8 1132.3L829.9 1132.5L831.1 1132.7L832.3 1132.8L833.5 1132.8L834.6 1132.8L835.8 1132.8L837 1132.7L838.2 1132.5L839.4 1132.2L840.5 1131.9L841.7 1131.5L842.9 1131L844.1 1130.5L845.3 1129.8L846.4 1129.1L847.6 1128.3L848.8 1127.4L850 1126.4L851.1 1125.4L852.3 1124.3L853.5 1123.3L854.7 1122.3L855.9 1121.4L857 1120.5L858.2 1119.8L859.4 1119.2L860.6 1118.7L861.7 1118.4L862.9 1118.3L864.1 1118.3L865.3 1118.4L866.5 1118.7L867.6 1119L868.8 1119.4L870 1119.9L871.2 1120.4L872.3 1121L873.5 1121.6L874.7 1122.2L875.9 1122.9L877.1 1123.5L878.2 1124.2L879.4 1124.9L880.6 1125.5L881.8 1126.1L882.9 1126.7L884.1 1127.3L885.3 1127.8L886.5 1128.3L887.7 1128.7L888.8 1129.1L890 1129.4L891.2 1129.6L892.4 1129.8L893.6 1129.9L894.7 1130L895.9 1130L897.1 1129.9L898.3 1129.8L899.4 1129.6L900.6 1129.4L901.8 1129.1L903 1128.7L904.2 1128.3L905.3 1127.9L906.5 1127.4L907.7 1126.8L908.9 1126.2L910 1125.6L911.2 1124.9L912.4 1124.2L913.6 1123.4L914.8 1122.6L915.9 1121.7L917.1 1120.8L918.3 1119.9L919.5 1118.9L920.6 1117.9L921.8 1116.8L923 1115.4L924.2 1113.8L925.4 1111.9L926.5 1109.6L927.7 1106.8L928.9 1103.6L930.1 1099.7L931.2 1095.2L932.4 1090L933.6 1083.9L934.8 1077.1L936 1069.3L937.1 1060.7L938.3 1051.1L939.5 1040.5L940.7 1028.9L941.9 1016.2L943 1002.4L944.2 987.5L945.4 971.3L946.6 954L947.7 935.4L948.9 915.6L950.1 894.8L951.3 873.4L952.5 851.9L953.6 830.7L954.8 810L956 790.4L957.2 772.3L958.3 756L959.5 741.8L960.7 730.1L961.9 720.8L963.1 713.8L964.2 709.4L965.4 707.3L966.6 707.7L967.8 710.6L968.9 716.1L970.1 724.3L971.3 735.1L972.5 748.5L973.7 764.3L974.8 782L976 801.4L977.2 822.1L978.4 843.9L979.5 866.1L980.7 888.1L981.9 909.3L983.1 928.9L984.3 947L985.4 963.7L986.6 979L987.8 993L989 1005.9L990.1 1017.6L991.3 1028.4L992.5 1038.3L993.7 1047.4L994.9 1055.7L996 1063.4L997.2 1070.5L998.4 1077.1L999.6 1083.1L1000.8 1088.6L1001.9 1093.7L1003.1 1098.3L1004.3 1102.4L1005.5 1106.1L1006.6 1109.5L1007.8 1112.4L1009 1115.1L1010.2 1117.4L1011.4 1119.4L1012.5 1121.1L1013.7 1122.6L1014.9 1123.8L1016.1 1124.9L1017.2 1125.7L1018.4 1126.4L1019.6 1127L1020.8 1127.5L1022 1127.8L1023.1 1128.1L1024.3 1128.3L1025.5 1128.5L1026.7 1128.6L1027.8 1128.6L1029 1128.6L1030.2 1128.6L1031.4 1128.5L1032.6 1128.3L1033.7 1128.1L1034.9 1127.9L1036.1 1127.7L1037.3 1127.4L1038.4 1127.1L1039.6 1126.8L1040.8 1126.5L1042 1126.2L1043.2 1125.8L1044.3 1125.5L1045.5 1125.2L1046.7 1124.8L1047.9 1124.5L1049.1 1124.2L1050.2 1123.9L1051.4 1123.6L1052.6 1123.4L1053.8 1123.1L1054.9 1122.9L1056.1 1122.7L1057.3 1122.5L1058.5 1122.3L1059.7 1122.2L1060.8 1122L1062 1121.9L1063.2 1121.9L1064.4 1121.8L1065.5 1121.8L1066.7 1121.8L1067.9 1121.9L1069.1 1122L1070.3 1122.1L1071.4 1122.2L1072.6 1122.4L1073.8 1122.5L1075 1122.7L1076.1 1122.9L1077.3 1123.2L1078.5 1123.4L1079.7 1123.6L1080.9 1123.9L1082 1124.1L1083.2 1124.4L1084.4 1124.6L1085.6 1124.8L1086.7 1125L1087.9 1125.2L1089.1 1125.4L1090.3 1125.6L1091.5 1125.7L1092.6 1125.8L1093.8 1125.9L1095 1126L1096.2 1126L1097.4 1126L1098.5 1125.9L1099.7 1125.8L1100.9 1125.7L1102.1 1125.6L1103.2 1125.4L1104.4 1125.3L1105.6 1125.2L1106.8 1125L1108 1125L1109.1 1124.9L1110.3 1124.9L1111.5 1125L1112.7 1125.1L1113.8 1125.3L1115 1125.5L1116.2 1125.8L1117.4 1126L1118.6 1126.2L1119.7 1126.4L1120.9 1126.5L1122.1 1126.6L1123.3 1126.6L1124.4 1126.5L1125.6 1126.4L1126.8 1126.3L1128 1126.1L1129.2 1125.9L1130.3 1125.7L1131.5 1125.4L1132.7 1125.2L1133.9 1125L1135 1124.8L1136.2 1124.6L1137.4 1124.5L1138.6 1124.4L1139.8 1124.3L1140.9 1124.3L1142.1 1124.4L1143.3 1124.5L1144.5 1124.7L1145.7 1125L1146.8 1125.4L1148 1125.8L1149.2 1126.4L1150.4 1127.1L1151.5 1127.9L1152.7 1128.9L1153.9 1130L1155.1 1131.2L1156.3 1132.6L1157.4 1134.1L1158.6 1135.8L1159.8 1137.6L1161 1139.5L1162.1 1141.5L1163.3 1143.6L1164.5 1145.8L1165.7 1148L1166.9 1150.3L1168 1152.7L1169.2 1155.1L1170.4 1157.5L1171.6 1159.9L1172.7 1162.3L1173.9 1164.7L1175.1 1167.1L1176.3 1169.5L1177.5 1171.8L1178.6 1174L1179.8 1176.2L1181 1178.3L1182.2 1180.3L1183.3 1182.2L1184.5 1183.9L1185.7 1185.6L1186.9 1187.2L1188.1 1188.6L1189.2 1190L1190.4 1191.3L1191.6 1192.4L1192.8 1193.5L1194 1194.5L1195.1 1195.4L1196.3 1196.2L1197.5 1197L1198.7 1197.6L1199.8 1198.2L1201 1198.7L1202.2 1199.1L1203.4 1199.5L1204.6 1199.8L1205.7 1200L1206.9 1200.2L1208.1 1200.3L1209.3 1200.3L1210.4 1200.3L1211.6 1200.3L1212.8 1200.3Z" fill="#f5deb3" stroke="#000" stroke-width="1.3" stroke-linejoin="round"/>
<g clip-path="url(#c4)" fill="none" stroke-linecap="round" stroke-width="1.5" stroke-dasharray="6 6">
<path d="M936.01 1220.24V687.81" stroke="#006400"/>
<path d="M994.59 1220.24V687.81" stroke="#006400"/>
</g>
<rect x="699.76" y="687.81" width="532.43" height="532.43" fill="none" stroke="#000" stroke-width=".75"/>
<path d="M710.6 1220.24H1220M710.6 1220.24v5.98M795.5 1220.24v5.98M880.4 1220.24v5.98M965.3 1220.24v5.98M1050.2 1220.24v5.98M1135.1 1220.24v5.98M1220 1220.24v5.98M699.76 1200.3V761.1M699.76 1200.3h-5.98M699.76 1090.5h-5.98M699.76 980.7h-5.98M699.76 870.9h-5.98M699.76 761.1h-5.98" fill="none" stroke="#000" stroke-width=".75"/>
<text x="710.6" y="1241.9" font-size="10.4" text-anchor="middle">-600</text>
<text x="795.5" y="1241.9" font-size="10.4" text-anchor="middle">-400</text>
<text x="880.4" y="1241.9" font-size="10.4" text-anchor="middle">-200</text>
<text x="965.3" y="1241.9" font-size="10.4" text-anchor="middle">0</text>
<text x="1050.2" y="1241.9" font-size="10.4" text-anchor="middle">200</text>
<text x="1135.1" y="1241.9" font-size="10.4" text-anchor="middle">400</text>
<text x="1220" y="1241.9" font-size="10.4" text-anchor="middle">600</text>
<text transform="translate(685 1200.3) rotate(-90)" font-size="10.4" text-anchor="middle">0.000</text>
<text transform="translate(685 1090.5) rotate(-90)" font-size="10.4" text-anchor="middle">0.001</text>
<text transform="translate(685 980.7) rotate(-90)" font-size="10.4" text-anchor="middle">0.002</text>
<text transform="translate(685 870.9) rotate(-90)" font-size="10.4" text-anchor="middle">0.003</text>
<text transform="translate(685 761.1) rotate(-90)" font-size="10.4" text-anchor="middle">0.004</text>
<text x="846.5" y="672" font-size="21.2" font-weight="bold" textLength="239.11" lengthAdjust="spacingAndGlyphs">Enrichment zone: 69.00</text>
<text x="879.8" y="1265.6" font-size="15.9" textLength="173.59" lengthAdjust="spacingAndGlyphs">Distance to peak summit</text>
<text transform="translate(661.9 980.4) rotate(-90)" font-size="15.9" textLength="54.39" lengthAdjust="spacingAndGlyphs">Density</text>
<g fill="none" stroke-linecap="round" stroke-width="1.125" stroke-dasharray="1.125 3.375">
<path d="M1017.4 703.4H1041.3" stroke="#006400"/><path d="M1017.4 718.9H1041.3" stroke="#d32222"/></g>
<ellipse cx="1029" cy="734.6" rx="3" ry="2.6" fill="#0000ff"/>
<text x="1052.1" y="707.3" font-size="12.7" textLength="123.8" lengthAdjust="spacingAndGlyphs">enrichment zone = 69</text>
<text x="1052.1" y="723.1" font-size="12.7" textLength="173.41" lengthAdjust="spacingAndGlyphs">motif score threshold = 71.200</text>
<text x="1052.1" y="738.6" font-size="12.7" textLength="146.99" lengthAdjust="spacingAndGlyphs">centrality p-val = -19.1907</text>
</g>
</svg>
</body></html>
